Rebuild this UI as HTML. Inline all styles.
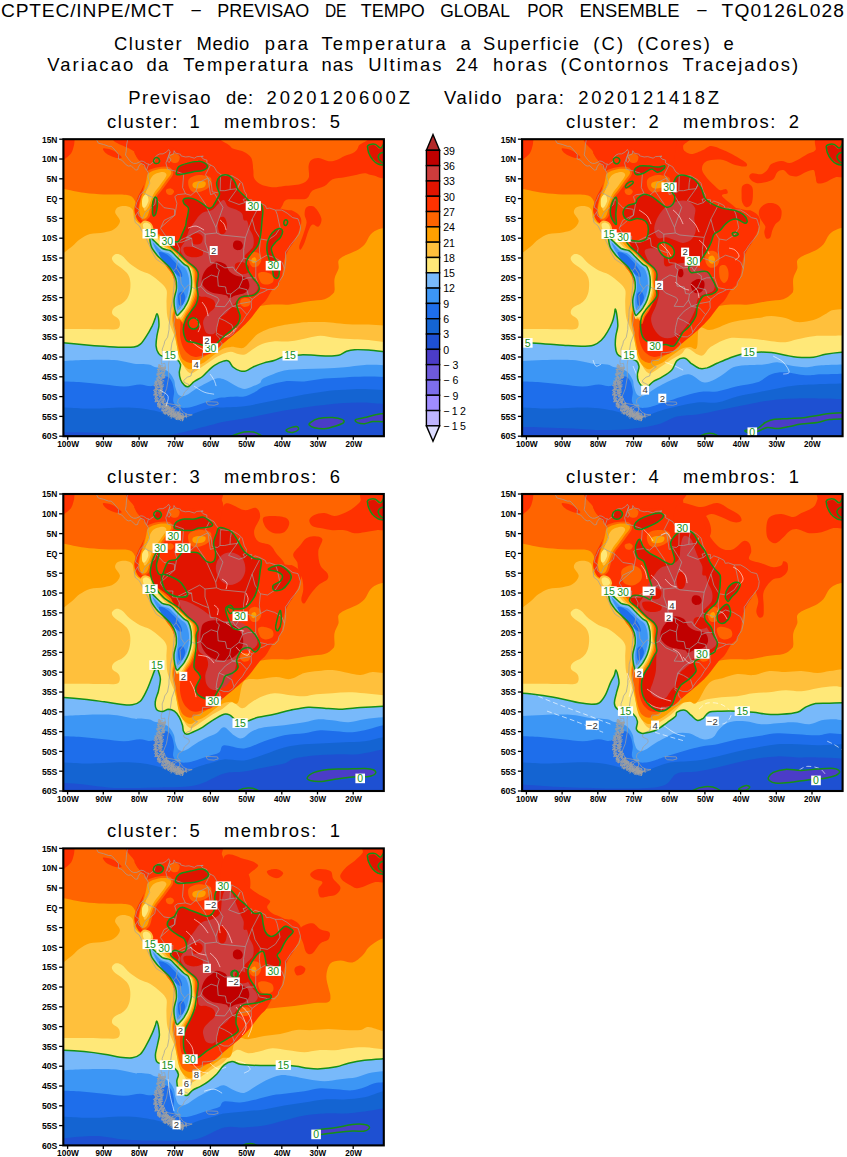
<!DOCTYPE html><html><head><meta charset="utf-8"><title>CPTEC ensemble clusters</title>
<style>html,body{margin:0;padding:0;background:#fff}svg{display:block}text{font-family:"Liberation Sans",sans-serif}</style></head><body>
<svg width="847" height="1157" viewBox="0 0 847 1157">
<defs><clipPath id="clip"><rect x="0" y="0" width="320.5" height="297.0"/></clipPath><g id="map"><path d="M83.2 30.9 L85.0 33.7 L84.6 37.6 L85.7 41.6 L86.4 44.0 L83.9 49.1 L80.0 52.3 L76.8 55.4 L75.3 59.4 L73.2 63.4 L72.1 68.1 L74.6 69.7 L75.7 71.3 L74.6 72.9 L71.0 78.0 L71.8 83.2 L76.0 86.7 L78.2 91.1 L80.7 95.0 L83.5 101.0 L86.4 106.9 L89.2 113.7 L92.8 120.0 L98.9 124.0 L104.2 126.7 L108.5 129.9 L110.3 132.7 L111.0 138.6 L110.7 146.5 L110.0 152.9 L109.2 162.4 L107.1 170.3 L106.7 178.2 L105.7 186.1 L105.7 190.1 L104.2 198.0 L101.4 202.0 L100.7 205.1 L98.9 209.9 L99.2 217.0 L97.8 221.8 L98.2 224.9 L101.4 224.1 L102.1 228.1 L100.7 232.8 L99.6 237.6 L96.4 240.8 L91.8 244.7 L95.0 248.7 L92.1 252.7 L92.5 257.4 L94.2 262.1 L97.1 266.5 L100.7 270.1 L106.0 272.4 L108.2 270.1 L108.5 268.5 L113.2 266.5 L117.1 266.5 L114.2 263.7 L115.0 259.8 L119.6 256.6 L121.0 253.0 L126.0 248.3 L125.7 245.5 L120.7 243.1 L120.3 241.2 L123.9 238.0 L127.5 236.8 L128.5 232.8 L131.7 229.3 L134.2 227.7 L131.0 226.5 L129.2 223.7 L129.9 221.0 L136.4 221.4 L138.9 219.0 L139.2 213.4 L143.5 213.4 L150.7 212.3 L156.0 209.9 L158.9 204.7 L156.7 202.0 L156.4 199.2 L152.8 195.6 L153.5 194.0 L156.0 195.6 L160.7 197.6 L165.3 197.6 L169.6 194.8 L170.7 192.8 L174.6 187.3 L179.2 182.2 L182.1 177.4 L185.6 172.7 L188.1 168.7 L187.8 162.4 L188.8 160.0 L193.5 156.4 L196.0 154.4 L200.6 152.5 L204.2 150.5 L207.1 150.1 L211.3 150.5 L214.9 146.5 L215.3 143.3 L217.4 139.8 L219.6 136.6 L221.3 129.5 L222.4 120.8 L222.1 112.9 L223.8 110.9 L227.4 105.3 L231.3 100.6 L235.6 95.0 L236.7 91.1 L237.1 87.5 L235.6 82.4 L234.6 79.6 L229.2 78.4 L223.8 74.0 L218.5 70.9 L212.1 70.9 L206.3 68.9 L203.1 69.3 L202.1 66.5 L197.1 63.8 L191.7 61.8 L188.1 64.9 L188.5 60.6 L184.6 60.2 L181.4 63.4 L179.9 60.2 L182.8 59.4 L183.1 55.4 L181.0 51.9 L178.9 44.0 L177.4 42.4 L174.6 40.0 L168.9 36.8 L164.2 36.4 L157.8 35.6 L153.5 32.5 L150.7 27.7 L147.1 25.7 L143.5 23.8 L143.5 21.0 L139.9 19.8 L137.8 17.4 L139.9 17.0 L133.5 17.4 L131.0 19.0 L125.7 17.4 L122.1 17.8 L117.5 16.6 L117.1 15.1 L112.1 13.9 L110.7 11.5 L110.3 14.7 L106.7 16.2 L105.7 17.4 L107.5 20.6 L105.7 23.4 L104.2 21.8 L105.0 17.8 L105.7 15.8 L106.7 12.7 L105.3 10.3 L103.2 12.7 L99.6 14.7 L96.4 14.7 L93.9 15.8 L91.8 18.2 L91.0 22.2 L87.1 24.9 L86.4 25.7 L85.3 24.9 L83.2 30.9" fill="none" stroke="#A0A0A0" stroke-width="0.7"/><path d="M32.8 0.0 L35.0 4.0 L40.0 5.2 L45.3 7.1 L47.8 7.1 L49.3 8.3 L52.5 11.9 L55.3 15.4 L55.0 19.8 L58.5 21.0 L62.8 25.7 L65.0 26.9 L67.8 26.5 L70.0 28.9 L72.5 30.9 L74.3 30.5 L75.0 27.7 L77.5 24.2 L81.0 25.7 L82.1 29.7 L83.2 30.9" fill="none" stroke="#A0A0A0" stroke-width="0.7"/><path d="M64.3 0.0 L63.2 5.9 L62.8 11.9 L62.1 15.8 L65.0 19.8 L67.8 23.0 L70.3 24.2 L72.8 24.2 L75.7 23.0 L77.5 21.8 L80.0 22.2 L83.5 24.6 L85.3 24.9" fill="none" stroke="#A0A0A0" stroke-width="0.7"/><path d="M116.4 268.1 L117.8 270.5 L120.0 273.2 L123.9 275.2 L128.9 275.6 L123.9 277.2 L117.5 278.0 L111.4 278.0 L106.0 274.8 L109.6 271.7 L111.4 269.3 L113.9 267.7 L116.4 268.1" fill="none" stroke="#A0A0A0" stroke-width="0.7"/><path d="M142.8 262.6 L147.8 262.6 L154.2 262.9 L154.9 264.9 L150.7 266.1 L145.3 265.7 L143.5 264.5 L142.8 262.6" fill="none" stroke="#A0A0A0" stroke-width="0.7"/><path d="M106.7 12.7 L102.5 23.8 L104.2 30.1 L111.4 31.7 L120.3 34.9 L119.2 48.3 L122.1 54.6" fill="none" stroke="#A0A0A0" stroke-width="0.7"/><path d="M147.1 25.7 L142.1 35.6 L144.6 38.8" fill="none" stroke="#A0A0A0" stroke-width="0.7"/><path d="M122.1 54.6 L127.5 56.2 L132.8 51.5 L134.9 43.6 L144.6 38.8" fill="none" stroke="#A0A0A0" stroke-width="0.7"/><path d="M144.6 38.8 L147.8 43.6 L148.9 52.7 L154.2 53.5 L156.7 51.5" fill="none" stroke="#A0A0A0" stroke-width="0.7"/><path d="M156.7 51.5 L157.1 37.6 L157.8 35.6" fill="none" stroke="#A0A0A0" stroke-width="0.7"/><path d="M168.5 36.4 L167.1 43.6 L166.7 50.3" fill="none" stroke="#A0A0A0" stroke-width="0.7"/><path d="M156.7 51.5 L161.4 51.5 L166.7 50.3 L173.9 49.5 L176.7 43.6" fill="none" stroke="#A0A0A0" stroke-width="0.7"/><path d="M80.0 53.5 L84.6 56.2 L91.8 59.4 L92.5 59.8 L100.7 68.5 L111.0 70.1 L111.4 76.0" fill="none" stroke="#A0A0A0" stroke-width="0.7"/><path d="M111.4 76.0 L113.5 64.2 L111.4 57.4 L114.2 55.4 L122.1 54.6" fill="none" stroke="#A0A0A0" stroke-width="0.7"/><path d="M74.6 72.9 L75.7 76.8 L79.2 79.2 L81.8 73.3 L91.4 65.3 L92.5 59.8" fill="none" stroke="#A0A0A0" stroke-width="0.7"/><path d="M111.4 76.0 L100.7 81.2 L97.1 89.1 L102.5 97.0 L109.6 97.0 L109.2 103.0 L113.2 103.0" fill="none" stroke="#A0A0A0" stroke-width="0.7"/><path d="M113.2 103.0 L116.0 108.9 L115.0 116.8 L113.9 122.8 L112.8 128.7 L110.3 131.9" fill="none" stroke="#A0A0A0" stroke-width="0.7"/><path d="M113.2 103.0 L118.5 103.0 L128.2 99.0 L129.2 106.9 L139.9 111.7 L145.3 113.7 L147.1 123.5 L153.2 124.0 L153.5 128.7 L156.0 130.7 L154.2 137.8" fill="none" stroke="#A0A0A0" stroke-width="0.7"/><path d="M112.8 128.7 L116.7 134.6 L117.8 144.5 L121.4 149.7" fill="none" stroke="#A0A0A0" stroke-width="0.7"/><path d="M121.4 149.7 L125.0 145.7 L131.7 149.7 L137.4 147.3" fill="none" stroke="#A0A0A0" stroke-width="0.7"/><path d="M137.4 147.3 L139.9 140.6 L147.8 135.8 L154.2 137.8" fill="none" stroke="#A0A0A0" stroke-width="0.7"/><path d="M154.2 137.8 L154.9 146.9 L162.1 147.7 L163.5 154.4 L167.4 154.8 L166.4 160.8" fill="none" stroke="#A0A0A0" stroke-width="0.7"/><path d="M137.4 147.3 L143.5 153.7 L154.2 158.4 L155.7 160.8 L152.1 167.1 L161.4 167.5 L166.4 160.8" fill="none" stroke="#A0A0A0" stroke-width="0.7"/><path d="M166.4 160.8 L169.2 167.1 L162.1 171.9 L155.7 179.0" fill="none" stroke="#A0A0A0" stroke-width="0.7"/><path d="M155.7 179.0 L161.4 181.4 L168.5 185.7 L170.7 192.8" fill="none" stroke="#A0A0A0" stroke-width="0.7"/><path d="M155.7 179.0 L153.5 188.1 L152.8 194.0" fill="none" stroke="#A0A0A0" stroke-width="0.7"/><path d="M121.4 149.7 L116.7 156.4 L117.5 166.3 L112.1 174.2 L110.3 186.1 L112.1 194.0 L108.5 203.9 L107.1 213.8 L105.0 225.7 L105.3 237.6 L103.2 249.5 L100.0 257.4 L103.2 264.1 L115.0 266.1 L117.1 266.9" fill="none" stroke="#A0A0A0" stroke-width="0.7"/><path d="M116.4 268.1 L116.4 276.8" fill="none" stroke="#A0A0A0" stroke-width="0.7"/><path d="M153.2 124.0 L161.4 128.7 L169.6 127.9 L172.1 131.9 L179.2 136.6 L179.2 140.6 L175.6 148.5 L167.4 154.8" fill="none" stroke="#A0A0A0" stroke-width="0.7"/><path d="M145.3 113.7 L141.7 103.0 L141.7 95.0 L153.2 93.8 L157.8 95.8 L182.1 98.2" fill="none" stroke="#A0A0A0" stroke-width="0.7"/><path d="M182.1 98.2 L180.3 110.1 L180.3 118.8 L172.1 131.9" fill="none" stroke="#A0A0A0" stroke-width="0.7"/><path d="M182.1 98.2 L188.8 80.0 L197.1 64.2" fill="none" stroke="#A0A0A0" stroke-width="0.7"/><path d="M188.8 80.0 L191.7 91.1 L197.1 99.8 L196.0 110.9 L197.1 119.6 L192.4 122.8 L180.3 118.8" fill="none" stroke="#A0A0A0" stroke-width="0.7"/><path d="M197.1 99.8 L204.2 101.0 L212.1 95.8 L216.7 88.7 L213.8 75.2 L212.1 70.9" fill="none" stroke="#A0A0A0" stroke-width="0.7"/><path d="M197.1 119.6 L203.5 116.0 L211.3 118.4 L218.5 122.8 L221.3 129.5" fill="none" stroke="#A0A0A0" stroke-width="0.7"/><path d="M179.2 140.6 L184.6 138.6 L192.4 138.6 L196.0 148.5 L202.4 149.7 L204.2 150.5" fill="none" stroke="#A0A0A0" stroke-width="0.7"/><path d="M192.4 138.6 L192.4 122.8" fill="none" stroke="#A0A0A0" stroke-width="0.7"/><path d="M175.6 148.5 L183.5 150.5 L185.3 157.2 L188.8 160.0" fill="none" stroke="#A0A0A0" stroke-width="0.7"/><path d="M169.2 167.1 L177.4 164.3 L183.8 163.2 L187.8 162.4" fill="none" stroke="#A0A0A0" stroke-width="0.7"/><path d="M169.2 167.1 L177.4 168.7 L183.5 175.4" fill="none" stroke="#A0A0A0" stroke-width="0.7"/><path d="M153.2 93.8 L152.4 88.3 L159.6 68.1 L151.0 54.2" fill="none" stroke="#A0A0A0" stroke-width="0.7"/><path d="M111.4 76.0 L97.8 87.9" fill="none" stroke="#A0A0A0" stroke-width="0.7"/><path d="M113.2 103.0 L122.8 98.2 L128.2 99.0" fill="none" stroke="#A0A0A0" stroke-width="0.7"/><path d="M122.8 98.2 L136.4 91.1 L141.7 95.0" fill="none" stroke="#A0A0A0" stroke-width="0.7"/><path d="M144.6 38.8 L147.1 55.4 L151.0 54.2" fill="none" stroke="#A0A0A0" stroke-width="0.7"/><path d="M132.8 51.5 L141.7 64.5 L152.4 88.3" fill="none" stroke="#A0A0A0" stroke-width="0.7"/><path d="M176.7 43.6 L173.9 49.5 L165.3 61.4 L175.6 65.3 L181.4 63.4" fill="none" stroke="#A0A0A0" stroke-width="0.7"/><path d="M95.6 225.0 L95.8 226.2 L97.7 227.7 L94.6 227.3 L97.4 228.9 L97.2 229.2 L97.8 230.9 L96.5 230.8 L94.5 231.4 L94.3 231.7 L94.1 232.7 L95.1 233.8 L97.0 234.5 L93.9 234.2 L93.0 234.9 L96.2 236.7 L96.4 237.6 L95.2 237.6 L94.4 238.8 L93.2 238.9 L92.5 239.3 L94.7 240.8 L94.0 241.3 L93.1 242.2 L91.4 241.7 L93.7 243.8 L93.5 243.9 L93.4 245.1 L93.2 245.5 L92.4 246.2 L94.7 246.9 L94.6 247.6 L94.2 248.4 L92.0 248.8 L92.8 249.9 L92.4 250.7 L92.8 251.2 L92.0 252.2 L90.9 252.3 L94.2 252.9 L91.6 254.2 L90.3 255.6 L93.9 255.7 L93.4 256.5 L91.3 257.6 L92.1 258.0 L92.3 259.0 L92.7 259.5 L91.8 260.2 L92.3 261.1 L91.4 262.8 L94.9 261.2 L95.3 262.3 L97.1 261.9 L94.0 264.7 L95.6 264.2 L93.7 266.0 L97.6 264.6 L96.0 267.1 L96.4 267.7 L98.3 265.8 L99.5 266.5 L99.9 267.0 L98.7 269.2 L98.3 270.8 L98.3 271.2 L99.4 271.6 L102.2 270.1 L100.2 272.7 L102.2 270.9 L102.9 271.3 L102.7 273.4 L103.8 273.5 L104.3 272.8 L105.5 271.9 L105.8 274.1 L105.3 275.3 L107.1 274.4 L106.5 277.8 L106.6 278.0 L109.1 274.8 L109.4 275.9 L109.6 276.7 L110.2 278.2 L111.7 275.3 L112.3 276.5 L112.3 277.3 L113.2 276.3 L114.0 276.0 L113.7 280.1 L114.7 280.9 L116.2 276.4 L115.9 280.6 L116.6 278.7 L117.8 276.6 L117.9 280.0 L119.5 276.9 L118.8 281.7 L120.5 277.1" fill="none" stroke="#A0A0A0" stroke-width="0.7"/><path d="M99.6 226.7 L95.2 225.7 L97.5 227.3 L97.2 228.2 L96.1 228.3 L99.1 229.9 L95.8 230.3 L93.7 230.2 L95.6 231.2 L95.8 232.5 L94.5 232.6 L98.0 234.4 L97.4 234.5 L97.3 235.2 L94.6 235.1 L93.3 235.7 L94.5 237.0 L96.6 238.0 L93.9 237.9 L94.1 238.8 L95.1 240.4 L93.2 240.6 L95.6 241.5 L93.0 241.6 L93.5 242.6 L93.6 243.7 L93.5 244.0 L91.1 244.1 L94.6 245.4 L90.7 246.3 L91.7 247.2 L93.1 247.9 L91.5 248.4 L93.4 249.3 L91.1 250.1 L94.5 250.5 L90.0 250.9 L90.6 251.8 L91.6 252.3 L90.4 253.9 L93.3 254.3 L91.5 255.1 L94.3 255.0 L94.4 255.9 L92.7 256.9 L91.9 257.9 L94.8 258.0 L92.8 259.5 L95.5 259.4 L92.8 260.7 L92.0 262.5 L92.4 262.7 L94.9 262.2 L96.8 262.0 L94.1 264.4 L96.9 263.9 L95.4 265.8 L94.0 267.4 L97.0 265.9 L95.5 268.5 L97.4 267.6 L98.1 267.2 L100.0 266.8 L98.8 269.4 L98.9 270.2 L98.4 271.8 L100.5 270.5 L100.2 272.1 L99.9 274.3 L101.4 272.8 L101.0 274.8 L102.6 272.8 L102.2 275.4 L104.9 271.4 L103.9 275.6 L105.4 274.7 L104.7 277.0 L107.5 273.2 L107.1 274.5 L108.4 274.5 L108.1 276.7 L108.6 277.7 L110.7 274.0 L110.8 275.5 L110.8 277.4 L112.2 276.6 L112.5 276.3 L113.5 275.6 L112.8 280.4 L114.8 276.2 L114.4 279.6 L115.6 277.8 L115.8 280.7 L116.7 277.7 L117.5 277.8 L118.2 279.7 L119.4 276.8 L119.0 282.0 L120.4 279.6" fill="none" stroke="#A0A0A0" stroke-width="0.7"/><path d="M95.9 225.5 L97.5 226.9 L94.7 226.7 L95.7 227.5 L98.1 228.9 L94.7 228.5 L96.5 229.9 L94.1 230.0 L94.6 230.8 L95.8 231.8 L96.9 233.2 L96.8 233.5 L96.8 235.0 L94.1 234.6 L95.4 235.8 L94.2 236.1 L95.3 237.0 L96.8 237.9 L94.9 238.4 L96.7 239.7 L94.9 239.9 L94.1 241.0 L95.8 242.1 L95.0 242.7 L92.6 242.1 L91.2 243.2 L94.1 244.1 L95.3 245.0 L91.6 245.4 L90.2 246.2 L93.1 247.3 L94.4 247.4 L94.6 248.5 L92.9 249.1 L93.0 249.5 L92.6 250.4 L91.1 250.8 L92.7 252.4 L92.1 253.1 L93.1 253.7 L93.2 253.9 L92.1 254.8 L90.1 255.9 L95.0 255.9 L93.3 257.0 L92.1 257.8 L92.1 258.4 L91.0 259.4 L92.3 259.8 L92.2 261.3 L94.4 260.9 L93.7 262.4 L95.8 261.8 L95.7 262.9 L93.6 264.6 L94.3 265.1 L94.2 265.8 L96.9 265.6 L94.9 267.7 L95.9 268.0 L97.0 267.5 L96.2 269.1 L99.9 267.1 L100.6 267.5 L100.3 268.5 L99.6 270.2 L98.8 271.6 L100.0 272.3 L102.2 269.4 L102.9 270.1 L101.2 275.0 L102.5 273.8 L103.5 273.6 L103.5 274.1 L104.8 274.3 L104.5 275.6 L105.3 276.1 L107.5 274.1 L107.6 275.3 L107.2 277.1 L108.2 276.4 L107.8 279.3 L108.7 278.3 L110.7 275.2 L110.5 278.4 L111.9 276.9 L111.6 279.7 L113.1 277.9 L112.9 280.8 L114.5 278.1 L115.2 277.1 L115.3 279.4 L116.2 279.4 L116.5 280.3 L117.0 281.6 L118.8 277.4 L119.3 277.6 L119.1 279.6 L120.5 278.7" fill="none" stroke="#A0A0A0" stroke-width="0.7"/><path d="M98.2 227.6 L97.6 228.3 L102.4 229.3 L98.2 229.9 L97.5 230.7 L102.2 231.6 L101.0 232.7 L100.3 232.8 L101.2 234.0 L100.2 234.9 L98.7 234.9 L101.2 236.5 L101.3 236.8 L100.8 238.1 L99.3 238.7 L97.8 239.1 L96.1 239.3 L98.5 240.6 L100.8 241.8 L96.5 241.7 L97.4 242.5 L98.5 243.7 L95.1 243.2 L98.1 244.9 L95.7 245.3 L98.8 246.0 L98.9 247.5 L96.2 247.3 L96.9 248.1 L98.8 249.2 L96.5 249.8 L99.6 250.8 L94.3 250.9 L96.2 252.1 L99.8 252.8 L94.3 253.5 L97.9 254.3 L96.9 254.3 L95.1 255.9 L97.2 256.3 L96.0 257.7 L97.1 257.4 L99.7 258.1 L96.5 259.7 L97.1 260.5 L96.3 261.2 L101.3 260.0 L99.9 261.4 L98.7 262.9 L101.2 261.5 L99.1 264.3 L101.0 263.9 L101.4 264.6 L103.2 264.2 L103.8 264.1 L100.2 268.9 L104.5 265.8 L101.4 269.2 L104.3 267.4 L102.4 271.9 L105.2 267.1 L106.0 268.1 L106.3 267.9 L105.6 271.1 L106.3 271.4 L105.5 273.7 L108.7 270.0 L107.8 272.8 L107.5 274.9 L108.0 275.2 L110.4 271.8 L110.6 273.9 L110.0 275.7 L111.5 273.9 L112.5 272.7 L111.7 276.4 L113.3 276.0 L114.3 273.6 L114.4 275.9 L116.1 274.1 L115.6 277.5 L116.9 275.6 L117.0 278.5 L118.7 275.4 L119.0 276.4" fill="none" stroke="#A0A0A0" stroke-width="0.7"/><path d="M100.8 227.6 L102.6 228.5 L97.1 228.5 L100.8 230.4 L99.3 230.7 L99.6 231.8 L98.5 231.9 L97.7 233.1 L99.7 234.3 L101.1 235.1 L102.1 235.8 L101.7 236.3 L97.6 236.5 L101.8 238.3 L97.8 238.4 L96.1 238.4 L95.8 239.2 L97.5 240.2 L97.2 240.7 L96.0 241.7 L99.6 243.2 L99.4 243.6 L94.7 243.6 L100.0 245.0 L100.2 246.0 L96.6 245.7 L95.2 246.1 L98.8 247.2 L94.7 248.1 L99.4 248.6 L97.2 249.8 L95.0 250.7 L98.5 251.4 L94.9 251.8 L96.4 252.5 L98.9 253.3 L94.9 254.3 L97.3 255.0 L98.7 254.9 L98.6 255.7 L95.8 257.7 L97.8 257.4 L100.5 257.4 L99.3 258.8 L97.5 260.0 L101.5 259.5 L98.5 261.5 L97.8 262.0 L98.5 262.6 L100.2 262.3 L99.2 264.6 L100.2 264.4 L100.0 265.8 L101.0 265.3 L100.5 267.2 L103.3 265.2 L101.7 267.8 L104.1 266.3 L104.5 266.2 L105.2 266.4 L103.4 270.7 L104.8 269.6 L105.8 268.6 L106.2 270.1 L107.0 270.1 L107.3 270.4 L107.4 272.2 L108.7 271.4 L108.3 273.0 L108.0 275.1 L108.6 274.9 L110.1 274.1 L110.5 275.7 L111.1 274.8 L111.3 276.8 L111.5 277.8 L113.3 274.9 L114.9 272.9 L115.2 274.1 L114.6 278.2 L117.0 273.5 L116.6 277.9 L116.6 279.1 L117.3 278.9 L118.3 278.3" fill="none" stroke="#A0A0A0" stroke-width="0.7"/><path d="M101.8 227.9 L98.2 228.2 L99.8 229.3 L101.1 229.9 L100.9 230.9 L100.4 231.6 L101.0 232.3 L100.7 233.3 L97.2 233.2 L98.6 234.8 L99.8 235.1 L99.3 236.0 L98.5 236.4 L99.1 237.5 L100.8 239.1 L97.9 239.0 L98.7 239.5 L98.2 240.3 L97.0 240.9 L95.9 241.1 L98.8 242.6 L95.0 242.3 L98.3 244.2 L96.7 244.1 L94.9 244.6 L97.1 246.2 L100.2 247.2 L99.3 247.2 L98.8 248.2 L98.2 249.3 L98.3 249.7 L98.5 250.8 L95.0 251.2 L95.7 251.5 L95.6 252.2 L97.6 253.3 L96.7 254.1 L96.2 254.8 L98.3 254.8 L96.7 256.5 L96.9 256.8 L99.9 257.2 L97.3 258.8 L99.3 258.4 L97.8 259.7 L95.8 260.9 L99.2 260.8 L100.6 261.4 L96.8 263.6 L99.9 263.1 L100.0 263.7 L100.7 263.6 L101.3 264.8 L102.1 264.2 L103.5 264.2 L101.8 266.7 L101.0 268.5 L102.7 268.2 L102.6 270.0 L105.0 267.5 L105.3 266.7 L104.4 270.9 L106.3 268.2 L107.0 268.8 L104.7 273.4 L105.8 273.4 L109.0 269.4 L106.8 274.6 L108.6 272.2 L107.7 275.2 L108.5 276.1 L109.5 274.7 L110.4 274.7 L112.0 273.9 L111.1 276.6 L113.1 274.4 L112.3 277.1 L113.7 275.6 L114.8 275.4 L115.7 275.3 L116.5 275.6 L116.7 276.2 L116.6 279.9 L118.0 275.9 L117.8 279.9" fill="none" stroke="#A0A0A0" stroke-width="0.7"/><path d="M100.6 265.2 L100.6 266.9 L101.1 267.7 L102.4 266.5 L103.5 266.9 L103.2 267.6 L104.6 266.4 L103.9 269.8 L104.2 269.8 L106.8 267.1 L106.9 268.3 L105.4 271.5 L108.1 269.2 L108.3 270.1 L109.6 269.7 L109.3 270.6 L110.0 270.2 L109.2 273.7 L109.9 274.5 L112.0 272.0 L112.8 271.3 L112.9 273.2 L114.0 272.2 L113.8 273.2 L115.1 273.4 L114.8 275.7 L115.1 277.7 L115.6 277.0 L116.4 277.4 L117.8 273.6 L118.8 275.2 L119.3 274.0 L120.0 276.4 L120.0 278.3 L120.9 277.7 L121.3 277.8 L122.5 276.9 L123.4 275.5" fill="none" stroke="#A0A0A0" stroke-width="0.7"/><path d="M100.9 266.0 L102.2 264.3 L103.7 263.1 L102.8 266.0 L102.8 268.0 L102.8 268.1 L104.5 267.7 L103.7 268.9 L104.3 270.1 L106.4 267.6 L106.6 268.6 L107.0 269.4 L108.9 268.2 L109.5 268.2 L109.6 269.2 L110.0 269.4 L108.7 273.4 L111.6 269.9 L109.8 273.9 L111.1 272.5 L112.1 273.4 L111.6 275.0 L112.8 275.4 L114.6 272.7 L114.1 274.9 L115.6 272.0 L115.2 275.8 L116.0 276.1 L116.7 276.9 L117.8 276.2 L117.8 278.3 L119.1 275.5 L120.0 275.6 L119.8 278.8 L121.1 276.7 L122.1 277.6 L122.6 274.4 L123.1 279.0" fill="none" stroke="#A0A0A0" stroke-width="0.7"/></g></defs>
<rect width="847" height="1157" fill="#fff"/>
<text x="1.0" y="17.0" font-size="19.2" textLength="172.8" lengthAdjust="spacing">CPTEC/INPE/MCT</text>
<text x="196.2" y="17.0" font-size="19.2" text-anchor="middle">−</text>
<text x="217.3" y="17.0" font-size="19.2" textLength="91.9" lengthAdjust="spacingAndGlyphs">PREVISAO</text>
<text x="324.9" y="17.0" font-size="19.2" textLength="21.6" lengthAdjust="spacingAndGlyphs">DE</text>
<text x="360.8" y="17.0" font-size="19.2" textLength="63.9" lengthAdjust="spacingAndGlyphs">TEMPO</text>
<text x="440.2" y="17.0" font-size="19.2" textLength="69.7" lengthAdjust="spacingAndGlyphs">GLOBAL</text>
<text x="527.2" y="17.0" font-size="19.2" textLength="36.6" lengthAdjust="spacingAndGlyphs">POR</text>
<text x="579.5" y="17.0" font-size="19.2" textLength="100.0" lengthAdjust="spacingAndGlyphs">ENSEMBLE</text>
<text x="701.9" y="17.0" font-size="19.2" text-anchor="middle">−</text>
<text x="721.5" y="17.0" font-size="19.2" textLength="122.5" lengthAdjust="spacing">TQ0126L028</text>
<text x="114.0" y="49.7" font-size="18.4" textLength="67.6" lengthAdjust="spacing">Cluster</text>
<text x="196.6" y="49.7" font-size="18.4" textLength="52.6" lengthAdjust="spacing">Medio</text>
<text x="264.8" y="49.7" font-size="18.4" textLength="43.3" lengthAdjust="spacing">para</text>
<text x="321.5" y="49.7" font-size="18.4" textLength="124.3" lengthAdjust="spacing">Temperatura</text>
<text x="465.5" y="49.7" font-size="18.4" text-anchor="middle">a</text>
<text x="483.1" y="49.7" font-size="18.4" textLength="95.9" lengthAdjust="spacing">Superficie</text>
<text x="593.3" y="49.7" font-size="18.4" textLength="29.9" lengthAdjust="spacing">(C)</text>
<text x="637.2" y="49.7" font-size="18.4" textLength="72.6" lengthAdjust="spacing">(Cores)</text>
<text x="728.5" y="49.7" font-size="18.4" text-anchor="middle">e</text>
<text x="47.3" y="70.7" font-size="18.4" textLength="85.9" lengthAdjust="spacing">Variacao</text>
<text x="146.6" y="70.7" font-size="18.4" textLength="21.7" lengthAdjust="spacing">da</text>
<text x="183.2" y="70.7" font-size="18.4" textLength="124.9" lengthAdjust="spacing">Temperatura</text>
<text x="321.5" y="70.7" font-size="18.4" textLength="31.7" lengthAdjust="spacing">nas</text>
<text x="368.3" y="70.7" font-size="18.4" textLength="73.2" lengthAdjust="spacing">Ultimas</text>
<text x="455.8" y="70.7" font-size="18.4" textLength="22.3" lengthAdjust="spacing">24</text>
<text x="493.1" y="70.7" font-size="18.4" textLength="53.9" lengthAdjust="spacing">horas</text>
<text x="560.6" y="70.7" font-size="18.4" textLength="107.6" lengthAdjust="spacing">(Contornos</text>
<text x="682.5" y="70.7" font-size="18.4" textLength="115.5" lengthAdjust="spacing">Tracejados)</text>
<text x="128.3" y="104.0" font-size="18.4" textLength="82.3" lengthAdjust="spacing">Previsao</text>
<text x="225.9" y="104.0" font-size="18.4" textLength="27.3" lengthAdjust="spacing">de:</text>
<text x="266.5" y="104.0" font-size="18.4" textLength="143.5" lengthAdjust="spacing">2020120600Z</text>
<text x="444.0" y="104.0" font-size="18.4" textLength="57.6" lengthAdjust="spacing">Valido</text>
<text x="515.9" y="104.0" font-size="18.4" textLength="47.9" lengthAdjust="spacing">para:</text>
<text x="578.2" y="104.0" font-size="18.4" textLength="140.8" lengthAdjust="spacing">2020121418Z</text>
<g transform="translate(63.40,139.20)">
<g clip-path="url(#clip)">
<rect x="-2" y="-2" width="324.5" height="301.0" fill="#1E50D2"/>
<path d="M-3.8 293.0 C3.3 293.1 26.2 293.3 38.6 293.8 C51.0 294.2 61.2 295.2 70.7 295.8 C80.1 296.3 88.8 297.1 95.5 297.0 C102.1 296.8 104.8 296.1 110.7 295.0 C116.5 293.8 124.0 291.8 130.7 290.2 C137.3 288.5 145.7 286.2 150.7 285.0 C155.7 283.7 155.7 283.5 160.7 282.6 C165.7 281.6 174.0 280.6 180.7 279.4 C187.4 278.2 194.0 276.7 200.7 275.4 C207.4 274.0 214.1 272.6 220.7 271.4 C227.4 270.2 234.1 269.1 240.8 268.2 C247.4 267.2 254.1 266.5 260.8 265.8 C267.4 265.0 274.1 264.2 280.8 263.8 C287.4 263.4 293.5 263.1 300.8 263.4 C308.1 263.6 320.5 265.0 324.4 265.4 L324.4 -20 L-3.8 -20 Z" fill="#1464D2"/>
<path d="M-3.8 268.2 C0.3 268.4 13.2 269.2 20.6 269.4 C28.0 269.5 34.0 269.2 40.6 269.0 C47.3 268.8 54.6 268.2 60.6 268.2 C66.6 268.2 71.6 268.4 76.7 269.0 C81.7 269.5 85.9 270.3 90.7 271.4 C95.4 272.4 101.3 274.3 105.1 275.4 C108.9 276.4 110.4 277.5 113.5 277.8 C116.5 278.0 119.7 277.9 123.5 277.0 C127.2 276.0 131.4 273.6 135.9 272.2 C140.4 270.7 146.2 268.8 150.3 268.2 C154.4 267.5 155.6 268.4 160.7 268.2 C165.8 268.0 174.0 267.8 180.7 267.0 C187.4 266.2 194.0 264.6 200.7 263.4 C207.4 262.1 214.1 260.7 220.7 259.4 C227.4 258.0 234.1 256.6 240.8 255.4 C247.4 254.2 254.0 253.0 260.8 252.2 C267.5 251.3 274.4 251.0 281.2 250.6 C287.9 250.2 294.0 249.6 301.2 249.8 C308.4 249.9 320.5 251.1 324.4 251.3 L324.4 -20 L-3.8 -20 Z" fill="#1E6EEB"/>
<path d="M-3.8 242.2 C0.3 242.3 13.2 242.8 20.6 243.3 C28.0 243.9 34.0 244.7 40.6 245.3 C47.3 246.0 54.6 247.3 60.6 247.3 C66.6 247.3 72.6 245.4 76.7 245.3 C80.7 245.3 82.7 246.9 85.1 246.9 C87.4 247.0 88.8 247.0 90.7 245.8 C92.5 244.5 94.1 240.8 96.3 239.3 C98.4 237.9 101.5 236.9 103.5 237.3 C105.5 237.8 107.1 239.7 108.3 242.2 C109.5 244.6 110.4 248.8 110.7 252.2 C110.9 255.5 109.2 259.6 109.9 262.2 C110.5 264.8 112.4 266.7 114.7 267.8 C116.9 268.8 120.4 268.8 123.5 268.6 C126.5 268.3 129.5 267.2 133.1 266.2 C136.6 265.1 140.9 263.4 144.7 262.2 C148.5 260.9 153.1 259.2 155.9 258.6 C158.7 257.9 158.7 258.4 161.5 258.2 C164.3 258.0 169.5 257.5 172.7 257.4 C175.9 257.2 177.7 258.0 180.7 257.4 C183.7 256.7 187.4 255.0 190.7 253.3 C194.1 251.7 195.7 249.2 200.7 247.3 C205.7 245.5 214.1 243.0 220.7 242.2 C227.4 241.3 234.1 242.6 240.8 242.2 C247.4 241.7 254.0 240.0 260.8 239.3 C267.5 238.7 274.4 238.5 281.2 238.2 C287.9 237.8 294.0 237.4 301.2 237.3 C308.4 237.3 320.5 237.7 324.4 237.8 L324.4 -20 L-3.8 -20 Z" fill="#3C96F5"/>
<path d="M-3.8 222.1 C0.3 221.9 11.5 221.1 20.6 220.9 C29.7 220.7 42.3 220.3 50.6 220.9 C59.0 221.5 64.9 223.8 70.7 224.5 C76.4 225.3 81.5 224.7 85.1 225.3 C88.7 225.9 89.9 227.5 92.3 228.1 C94.6 228.8 96.7 228.4 99.1 229.3 C101.4 230.3 104.3 231.8 106.3 233.7 C108.2 235.7 109.7 238.6 110.7 240.9 C111.6 243.3 111.2 245.4 111.9 247.8 C112.5 250.1 113.5 253.4 114.7 255.0 C115.9 256.5 117.4 257.0 119.1 257.0 C120.7 257.0 122.3 256.2 124.7 255.0 C127.0 253.7 130.0 251.2 133.1 249.3 C136.1 247.5 139.8 245.4 143.1 243.8 C146.4 242.1 150.0 239.9 153.1 239.3 C156.2 238.8 158.2 239.3 161.5 240.6 C164.8 241.8 169.4 245.4 172.7 246.9 C176.0 248.5 178.6 249.8 181.5 249.8 C184.4 249.8 187.4 247.9 189.9 246.9 C192.5 245.9 194.9 245.1 196.7 243.8 C198.5 242.4 196.7 241.0 200.7 238.9 C204.7 236.9 214.1 232.9 220.7 231.3 C227.4 229.8 234.1 230.1 240.8 229.7 C247.4 229.4 254.0 229.6 260.8 229.3 C267.5 229.1 274.4 228.7 281.2 228.1 C287.9 227.5 294.0 226.1 301.2 225.7 C308.4 225.4 320.5 226.1 324.4 226.1 L324.4 -20 L-3.8 -20 Z" fill="#78B9FA"/>
<path d="M-3.8 203.3 C0.3 203.7 13.2 204.9 20.6 205.5 C28.0 206.2 34.3 206.7 40.6 207.1 C47.0 207.6 53.6 208.0 58.6 208.1 C63.6 208.2 67.6 208.3 70.7 207.7 C73.7 207.2 75.0 206.7 77.0 204.9 C79.1 203.1 81.0 200.1 83.0 196.9 C85.1 193.8 87.6 189.1 89.1 186.1 C90.5 183.1 91.1 180.8 91.9 178.9 C92.6 177.0 92.9 174.5 93.5 174.5 C94.0 174.5 94.7 176.8 95.1 178.9 C95.4 181.0 95.7 183.9 95.5 186.9 C95.2 189.9 93.9 193.6 93.5 196.9 C93.0 200.3 92.4 204.1 92.7 206.9 C92.9 209.8 93.9 212.4 95.1 214.1 C96.3 215.9 96.9 216.3 99.9 217.3 C102.9 218.3 110.2 218.8 113.1 220.1 C115.9 221.5 116.6 223.1 117.1 225.3 C117.5 227.5 115.9 230.9 115.9 233.3 C115.9 235.8 116.2 238.0 117.1 240.2 C117.9 242.3 119.7 245.0 121.1 246.2 C122.4 247.3 123.4 248.0 125.1 247.3 C126.7 246.7 128.7 243.8 131.1 242.2 C133.4 240.5 136.8 239.2 139.1 237.3 C141.4 235.5 143.1 233.2 145.1 231.3 C147.1 229.5 148.5 227.7 151.1 226.1 C153.7 224.5 158.3 222.4 160.7 221.7 C163.1 221.1 164.0 221.1 165.5 222.1 C167.0 223.2 168.0 226.5 169.9 228.1 C171.8 229.7 174.6 231.1 176.7 231.7 C178.8 232.3 180.4 232.5 182.7 231.7 C185.0 231.0 187.7 228.7 190.7 227.3 C193.7 226.0 197.4 224.7 200.7 223.7 C204.1 222.7 207.4 222.4 210.7 221.3 C214.1 220.3 216.3 218.3 220.7 217.3 C225.1 216.4 232.1 215.9 237.2 215.7 C242.2 215.5 246.5 215.9 251.2 216.1 C255.8 216.3 261.2 216.9 265.2 216.9 C269.2 216.9 272.2 216.9 275.2 216.1 C278.2 215.3 280.5 213.1 283.2 212.1 C285.8 211.2 287.5 210.7 291.2 210.5 C294.9 210.3 299.7 210.5 305.2 210.9 C310.7 211.3 321.2 212.6 324.4 212.9 L324.4 -20 L-3.8 -20 Z" fill="#FFE878"/>
<path d="M-3.8 189.7 C0.3 189.7 13.2 189.7 20.6 189.7 C28.0 189.8 35.0 190.2 40.6 190.1 C46.3 190.1 52.1 190.9 54.6 189.3 C57.2 187.8 56.8 183.3 55.8 180.9 C54.9 178.5 49.9 176.9 49.0 174.9 C48.2 172.9 48.7 170.9 50.6 168.9 C52.6 166.9 58.1 165.2 60.6 162.9 C63.2 160.6 64.8 158.2 65.8 154.9 C66.9 151.6 67.2 146.6 67.0 143.3 C66.8 140.0 66.0 137.6 64.6 135.3 C63.2 133.0 61.0 131.3 58.6 129.3 C56.3 127.3 52.3 125.1 50.6 123.3 C49.0 121.5 48.3 119.9 48.6 118.5 C49.0 117.1 51.0 115.2 52.6 114.9 C54.3 114.5 56.3 114.9 58.6 116.5 C61.0 118.1 63.6 122.0 66.6 124.5 C69.6 126.9 73.3 129.5 76.7 131.3 C80.0 133.1 83.3 133.3 86.7 135.3 C90.1 137.3 94.3 140.7 97.1 143.3 C99.8 145.9 102.1 147.6 103.1 150.9 C104.1 154.2 102.9 158.6 103.1 162.9 C103.2 167.2 103.2 172.9 103.9 176.9 C104.5 180.9 105.9 183.6 107.1 186.9 C108.3 190.3 109.9 193.3 111.1 196.9 C112.2 200.6 113.1 205.5 113.9 208.9 C114.7 212.3 115.0 214.9 115.9 217.3 C116.7 219.7 118.1 221.3 119.1 223.3 C120.1 225.3 120.6 227.5 121.9 229.3 C123.1 231.1 125.1 233.6 126.7 234.1 C128.3 234.7 129.4 233.7 131.5 232.5 C133.5 231.4 136.2 229.3 139.1 227.3 C142.0 225.3 145.8 222.6 149.1 220.5 C152.4 218.5 156.0 216.3 159.1 214.9 C162.2 213.6 164.9 212.5 167.5 212.5 C170.1 212.5 172.4 214.5 174.7 214.9 C177.0 215.4 179.2 216.1 181.5 215.3 C183.8 214.6 185.9 212.3 188.7 210.5 C191.6 208.8 194.9 206.3 198.7 204.9 C202.5 203.5 206.9 202.6 211.5 202.1 C216.2 201.7 221.1 202.7 226.7 202.1 C232.3 201.5 240.1 199.5 245.2 198.5 C250.2 197.6 252.5 196.5 257.2 196.5 C261.8 196.6 267.5 198.3 273.2 198.9 C278.8 199.5 285.8 199.8 291.2 200.1 C296.5 200.5 299.7 200.4 305.2 200.9 C310.7 201.5 321.2 202.9 324.4 203.3 L324.4 -20 L-3.8 -20 Z" fill="#FFC03C"/>
<path d="M-3.8 116.9 C-1.7 115.3 5.2 110.1 8.6 107.3 C12.0 104.5 13.6 102.1 16.6 100.1 C19.6 98.0 22.6 96.0 26.6 94.9 C30.6 93.7 36.6 94.1 40.6 93.3 C44.6 92.5 48.0 91.9 50.6 90.1 C53.3 88.2 56.4 84.9 56.6 82.0 C56.8 79.2 52.2 75.6 51.8 73.2 C51.5 70.9 52.8 69.1 54.6 68.0 C56.4 67.0 60.2 66.5 62.6 66.8 C65.0 67.2 67.6 68.0 69.0 70.0 C70.5 72.1 69.7 76.8 71.0 79.2 C72.4 81.7 75.2 83.9 77.0 84.9 C78.8 85.9 80.5 84.2 81.8 85.3 C83.2 86.3 83.9 88.3 85.1 91.3 C86.3 94.2 87.3 98.9 89.1 102.9 C90.8 106.8 93.2 110.9 95.5 114.9 C97.7 118.9 100.3 123.2 102.7 126.9 C105.0 130.5 107.8 132.9 109.5 136.9 C111.1 140.9 112.5 145.9 112.7 150.9 C112.9 155.9 111.3 162.2 110.7 166.9 C110.0 171.6 108.7 174.9 108.7 178.9 C108.7 182.9 109.9 186.2 110.7 190.9 C111.5 195.6 112.7 202.6 113.5 206.9 C114.3 211.3 114.7 214.3 115.5 216.9 C116.2 219.6 116.8 221.1 117.9 222.9 C118.9 224.7 120.3 226.5 121.9 227.7 C123.5 228.9 125.7 230.3 127.5 230.1 C129.3 230.0 130.5 228.1 132.7 226.9 C134.9 225.8 138.0 225.0 140.7 223.3 C143.4 221.7 146.0 219.2 149.1 216.9 C152.2 214.7 156.0 211.3 159.1 209.7 C162.2 208.2 164.9 207.9 167.5 207.7 C170.1 207.5 172.6 208.4 174.7 208.5 C176.8 208.7 178.4 209.4 180.3 208.5 C182.2 207.7 183.6 205.6 185.9 203.3 C188.3 201.1 191.0 197.3 194.3 194.9 C197.7 192.6 202.1 190.7 205.9 189.3 C209.7 187.9 213.7 187.3 217.1 186.5 C220.6 185.8 222.1 185.5 226.7 184.9 C231.4 184.3 239.4 183.2 245.2 182.9 C250.9 182.6 256.5 182.7 261.2 182.9 C265.8 183.1 268.5 183.7 273.2 184.1 C277.8 184.5 283.8 185.1 289.2 185.3 C294.5 185.5 299.3 185.1 305.2 185.3 C311.1 185.5 321.2 186.3 324.4 186.5 L324.4 -20 L-3.8 -20 Z" fill="#FFA000"/>
<path d="M-3.8 48.8 C0.3 49.6 13.2 52.6 20.6 53.6 C28.0 54.7 34.0 54.9 40.6 55.2 C47.3 55.6 55.9 55.2 60.6 55.6 C65.4 56.1 67.0 56.4 69.0 58.0 C71.1 59.6 71.9 62.4 72.7 65.2 C73.4 68.1 72.9 72.4 73.5 75.2 C74.0 78.1 74.8 80.5 75.8 82.0 C76.8 83.6 77.9 82.9 79.5 84.5 C81.0 86.0 83.5 88.2 85.1 91.3 C86.7 94.3 87.3 98.9 89.1 102.9 C90.8 106.8 93.2 110.9 95.5 114.9 C97.7 118.9 100.3 123.2 102.7 126.9 C105.0 130.5 107.8 132.9 109.5 136.9 C111.1 140.9 112.3 145.9 112.7 150.9 C113.0 155.9 111.9 162.2 111.5 166.9 C111.0 171.6 109.8 174.9 109.9 178.9 C109.9 182.9 111.1 186.2 111.9 190.9 C112.7 195.6 113.8 202.8 114.7 206.9 C115.5 211.1 116.1 213.4 117.1 215.7 C118.0 218.1 118.7 219.6 120.3 220.9 C121.9 222.3 124.7 223.7 126.7 223.7 C128.7 223.8 129.7 222.5 132.3 221.3 C134.8 220.2 138.8 218.6 141.9 216.9 C145.0 215.3 147.8 213.5 150.7 211.3 C153.6 209.2 156.0 206.6 159.1 204.1 C162.2 201.7 166.0 199.1 169.1 196.5 C172.2 193.9 175.2 190.9 177.5 188.5 C179.8 186.1 181.4 184.6 183.1 182.1 C184.8 179.6 186.1 176.0 187.5 173.7 C188.9 171.4 189.0 169.4 191.5 168.1 C194.1 166.8 198.9 166.2 202.7 165.7 C206.5 165.2 210.3 165.4 214.3 165.3 C218.3 165.2 221.6 165.8 226.7 165.3 C231.9 164.8 239.4 163.0 245.2 162.1 C250.9 161.2 257.2 161.3 261.2 160.1 C265.2 158.9 267.5 156.4 269.2 154.9 C270.8 153.4 270.8 153.5 271.2 150.9 C271.5 148.3 270.5 142.9 271.2 139.3 C271.8 135.7 274.5 132.3 275.2 129.3 C275.8 126.3 274.2 123.4 275.2 121.3 C276.2 119.1 278.2 118.1 281.2 116.5 C284.2 114.8 289.8 113.1 293.2 111.3 C296.5 109.4 298.8 107.9 301.2 105.3 C303.5 102.6 304.9 97.8 307.2 95.3 C309.5 92.7 312.3 91.3 315.2 90.1 C318.1 88.9 322.9 88.4 324.4 88.1 L324.4 -20 L-3.8 -20 Z" fill="#FF6400"/>
<path d="M-3.8 -7.2 C-1.4 -12.1 8.1 -8.9 10.6 -7.2 C13.1 -5.5 11.1 0.3 11.0 2.8 C10.9 5.3 10.7 5.7 10.2 7.6 C9.7 9.5 9.1 12.1 7.8 14.0 C6.5 15.9 4.5 17.5 2.6 18.8 C0.7 20.2 -2.7 26.4 -3.8 22.0 C-4.9 17.7 -6.2 -2.3 -3.8 -7.2 Z" fill="#FF3200"/>
<path d="M39.8 9.2 C40.8 8.7 45.8 9.7 48.6 10.8 C51.4 11.9 55.1 14.7 56.6 16.0 C58.2 17.3 58.8 18.5 57.8 18.8 C56.8 19.2 53.2 18.8 50.6 18.0 C48.1 17.2 44.4 15.5 42.6 14.0 C40.8 12.5 38.8 9.7 39.8 9.2 Z" fill="#FF3200"/>
<path d="M67.8 -4.4 C110.1 -7.3 281.6 -11.1 324.4 -4.4 C367.2 2.3 326.9 29.3 324.4 36.0 C321.9 42.8 313.1 36.4 309.2 36.0 C305.3 35.7 304.2 34.0 301.2 34.0 C298.2 34.0 294.5 35.4 291.2 36.0 C287.8 36.7 284.8 37.4 281.2 38.0 C277.5 38.7 272.5 38.6 269.2 40.0 C265.8 41.5 264.5 45.0 261.2 46.8 C257.8 48.7 252.2 49.2 249.2 51.2 C246.1 53.3 246.2 57.8 243.2 59.2 C240.1 60.7 234.3 59.7 230.7 60.0 C227.2 60.4 224.6 59.4 221.9 61.2 C219.3 63.0 219.9 67.9 214.7 70.8 C209.5 73.8 208.1 81.5 190.7 78.8 C173.4 76.2 129.3 63.8 110.7 54.8 C92.1 45.8 85.7 31.8 79.0 24.8 C72.4 17.8 72.9 17.7 71.0 12.8 C69.2 7.9 25.6 -1.5 67.8 -4.4 Z" fill="#FF3200"/>
<path d="M243.2 68.0 C244.8 66.8 248.7 66.2 251.2 68.0 C253.6 69.9 257.3 76.0 258.0 79.2 C258.6 82.5 256.6 86.3 255.2 87.3 C253.7 88.3 250.8 84.6 249.2 85.3 C247.5 85.9 246.5 88.3 245.2 91.3 C243.8 94.3 242.5 100.1 241.2 103.3 C239.8 106.5 238.0 109.9 237.2 110.5 C236.3 111.0 235.5 109.0 235.9 106.5 C236.4 103.9 238.7 99.1 239.9 95.3 C241.2 91.4 242.9 86.6 243.2 83.2 C243.4 79.9 241.2 77.8 241.2 75.2 C241.2 72.7 241.5 69.2 243.2 68.0 Z" fill="#FF3200"/>
<path d="M71.0 12.8 C69.7 12.5 76.4 22.0 79.0 24.8 C81.7 27.7 86.1 28.0 87.1 30.0 C88.1 32.0 86.4 33.7 85.1 36.8 C83.7 40.0 80.9 45.1 79.0 48.8 C77.2 52.6 75.2 55.5 73.8 59.2 C72.5 63.0 70.8 67.4 71.0 71.2 C71.2 75.1 73.4 79.7 75.0 82.0 C76.7 84.4 79.4 83.7 81.0 85.3 C82.7 86.8 83.7 88.3 85.1 91.3 C86.4 94.3 87.1 99.6 89.1 103.3 C91.1 106.9 94.4 110.3 97.1 113.3 C99.7 116.3 102.7 118.3 105.1 121.3 C107.4 124.3 109.7 127.9 111.1 131.3 C112.5 134.6 113.0 138.0 113.5 141.3 C113.9 144.6 113.5 146.6 113.9 150.9 C114.2 155.2 114.9 161.7 115.5 166.9 C116.0 172.1 116.9 177.2 117.1 182.1 C117.3 187.0 116.3 192.2 116.7 196.5 C117.1 200.8 118.1 204.7 119.5 207.7 C120.9 210.8 123.0 213.3 125.1 214.9 C127.1 216.6 129.3 217.5 131.9 217.7 C134.5 217.9 137.8 216.9 140.7 216.1 C143.6 215.4 146.0 215.2 149.1 213.3 C152.2 211.5 156.0 207.5 159.1 204.9 C162.2 202.3 164.4 200.3 167.5 197.7 C170.6 195.1 174.4 192.1 177.5 189.3 C180.6 186.5 183.6 183.5 185.9 180.9 C188.3 178.3 189.7 176.1 191.5 173.7 C193.4 171.3 195.3 168.6 197.1 166.5 C199.0 164.4 200.8 163.5 202.7 160.9 C204.7 158.3 206.7 153.5 208.7 150.9 C210.7 148.3 213.1 147.9 214.7 145.3 C216.4 142.7 217.7 139.3 218.7 135.3 C219.7 131.3 219.7 125.3 220.7 121.3 C221.7 117.3 223.2 114.3 224.7 111.3 C226.3 108.3 228.1 106.6 229.9 103.3 C231.8 99.9 234.6 94.9 235.9 91.3 C237.3 87.6 238.1 83.9 237.9 81.2 C237.8 78.6 236.7 76.9 235.1 75.2 C233.6 73.6 230.6 72.0 228.7 71.2 C226.9 70.5 228.2 71.7 223.9 70.8 C219.7 70.0 209.1 67.6 203.1 66.0 C197.2 64.5 191.7 63.3 188.3 61.6 C184.9 60.0 184.5 59.7 182.7 56.0 C180.9 52.4 180.6 43.4 177.5 39.6 C174.4 35.9 168.3 35.3 164.3 33.6 C160.3 32.0 157.0 31.8 153.5 29.6 C150.0 27.5 145.8 23.4 143.5 20.8 C141.2 18.2 143.4 15.0 139.9 14.0 C136.4 13.0 128.0 15.9 122.3 14.8 C116.5 13.7 110.5 7.5 105.5 7.6 C100.4 7.7 94.9 12.4 91.9 15.6 C88.8 18.8 90.5 27.3 87.1 26.8 C83.6 26.4 72.4 13.1 71.0 12.8 Z" fill="#FF3200"/>
<path d="M164.7 -5.2 C143.0 -3.2 165.4 4.2 166.7 6.8 C168.0 9.4 170.4 9.4 172.7 10.4 C175.0 11.4 178.2 11.4 180.7 12.8 C183.2 14.2 186.4 15.8 187.9 18.8 C189.5 21.8 189.5 27.5 189.9 30.8 C190.4 34.2 189.6 36.5 190.7 38.8 C191.9 41.2 193.7 43.3 196.7 44.8 C199.7 46.4 204.7 47.7 208.7 48.0 C212.7 48.4 216.0 47.4 220.7 46.8 C225.5 46.3 233.1 46.2 237.2 44.8 C241.2 43.5 243.8 41.8 245.2 38.8 C246.5 35.8 244.7 29.8 245.2 26.8 C245.6 23.8 246.3 22.2 247.9 20.8 C249.6 19.5 252.3 18.6 255.2 18.8 C258.0 19.0 262.2 21.7 265.2 22.0 C268.2 22.4 270.5 21.7 273.2 20.8 C275.8 20.0 278.2 18.2 281.2 16.8 C284.2 15.5 288.8 14.5 291.2 12.8 C293.5 11.1 294.2 9.8 295.2 6.8 C296.2 3.8 318.9 -3.2 297.2 -5.2 C275.4 -7.2 186.4 -7.2 164.7 -5.2 Z" fill="#FF6400"/>
<path d="M83.9 32.0 C86.1 29.9 91.4 28.7 95.1 28.0 C98.7 27.4 103.4 27.0 105.9 28.0 C108.3 29.0 110.0 31.7 109.9 34.0 C109.7 36.4 106.9 39.4 105.1 42.0 C103.3 44.7 101.1 47.4 99.1 50.0 C97.1 52.7 94.7 55.0 93.1 58.0 C91.4 61.0 90.3 64.7 89.1 68.0 C87.9 71.4 87.5 75.8 85.9 78.0 C84.2 80.2 80.9 82.4 79.0 81.2 C77.2 80.1 75.4 74.9 75.0 71.2 C74.7 67.6 76.2 62.9 77.0 59.2 C77.8 55.6 79.0 52.3 79.8 49.2 C80.6 46.2 81.2 43.7 81.8 40.8 C82.5 38.0 81.7 34.2 83.9 32.0 Z" fill="#FF6400"/>
<path d="M85.1 34.0 C87.1 32.2 91.7 30.7 95.1 30.0 C98.4 29.4 102.9 29.4 105.1 30.0 C107.2 30.7 108.2 32.2 107.9 34.0 C107.5 35.8 104.9 38.3 103.1 40.8 C101.3 43.4 99.1 46.5 97.1 49.2 C95.1 52.0 92.7 54.2 91.1 57.2 C89.4 60.2 88.3 63.9 87.1 67.2 C85.9 70.6 85.2 75.2 83.9 77.2 C82.5 79.2 80.4 80.2 79.0 79.2 C77.7 78.2 76.0 74.6 75.8 71.2 C75.6 67.9 77.0 62.9 77.8 59.2 C78.7 55.6 80.2 52.3 81.0 49.2 C81.9 46.2 82.4 43.4 83.0 40.8 C83.7 38.3 83.1 35.8 85.1 34.0 Z" fill="#FFA000"/>
<path d="M89.1 36.8 C91.6 34.1 96.7 33.0 99.1 32.8 C101.4 32.7 103.4 34.0 103.1 36.0 C102.7 38.1 99.3 42.0 97.1 45.2 C94.9 48.4 91.9 51.6 89.9 55.2 C87.9 58.9 86.5 64.6 85.1 67.2 C83.6 69.9 81.9 72.3 81.0 71.2 C80.2 70.2 79.4 64.9 79.8 61.2 C80.3 57.6 82.3 53.3 83.9 49.2 C85.4 45.2 86.5 39.6 89.1 36.8 Z" fill="#FFC03C"/>
<path d="M79.0 59.2 C79.7 57.2 82.0 54.9 83.0 55.2 C84.1 55.6 85.3 59.1 85.1 61.2 C84.9 63.4 82.9 67.0 81.8 68.0 C80.8 69.1 79.5 68.7 79.0 67.2 C78.6 65.8 78.4 61.2 79.0 59.2 Z" fill="#FFE878"/>
<path d="M125.1 40.8 C125.9 38.8 128.3 37.6 130.7 36.8 C133.1 36.0 136.7 35.7 139.5 36.0 C142.3 36.4 146.3 37.0 147.5 38.8 C148.7 40.6 148.0 44.7 146.7 46.8 C145.4 49.0 142.2 50.6 139.5 51.6 C136.8 52.7 132.9 53.7 130.7 53.2 C128.4 52.8 126.8 50.9 125.9 48.8 C124.9 46.8 124.3 42.8 125.1 40.8 Z" fill="#FF6400"/>
<path d="M129.5 44.0 C130.3 43.0 132.6 42.2 134.7 42.0 C136.8 41.8 140.8 41.9 141.9 42.8 C143.0 43.8 142.3 46.6 141.1 47.6 C139.9 48.7 136.6 49.2 134.7 49.2 C132.8 49.3 130.7 48.9 129.9 48.0 C129.0 47.2 128.7 45.0 129.5 44.0 Z" fill="#FFA000"/>
<path d="M106.7 15.6 C107.6 14.5 110.3 13.7 111.9 14.0 C113.5 14.3 115.8 15.8 116.3 17.2 C116.7 18.7 115.8 21.8 114.7 22.8 C113.5 23.9 110.9 24.0 109.5 23.6 C108.1 23.2 106.7 21.8 106.3 20.4 C105.8 19.1 105.7 16.7 106.7 15.6 Z" fill="#FF6400"/>
<path d="M102.7 50.8 C103.3 49.9 106.1 49.0 107.5 49.2 C108.8 49.4 110.5 51.0 110.7 52.0 C110.8 53.1 109.4 55.2 108.3 55.6 C107.1 56.1 104.8 55.6 103.9 54.8 C102.9 54.0 102.1 51.8 102.7 50.8 Z" fill="#FF6400"/>
<path d="M109.1 102.9 C110.3 102.1 113.5 103.4 115.1 102.1 C116.7 100.7 117.5 97.5 118.7 94.9 C119.9 92.3 121.4 88.8 122.2 86.5 C122.9 84.1 122.7 82.6 123.1 80.8 C123.4 79.1 124.0 77.9 124.3 75.9 C124.6 73.9 125.6 70.7 125.0 68.8 C124.4 67.0 121.6 66.0 120.8 64.6 C119.9 63.2 119.3 61.3 120.0 60.4 C120.7 59.4 123.0 58.9 125.0 58.9 C127.0 58.9 129.7 59.4 132.1 60.4 C134.4 61.3 137.0 63.2 139.2 64.6 C141.3 66.0 143.2 68.4 144.8 68.8 C146.5 69.3 147.7 68.9 149.1 67.5 C150.5 66.0 152.2 62.5 153.3 60.4 C154.5 58.2 156.1 56.6 156.2 54.7 C156.3 52.8 154.5 50.9 154.1 49.0 C153.6 47.1 153.0 45.2 153.3 43.4 C153.7 41.5 154.8 39.0 156.2 37.7 C157.6 36.4 160.0 35.5 161.9 35.5 C163.7 35.5 165.9 36.4 167.5 37.7 C169.1 39.0 170.6 41.2 171.8 43.4 C172.9 45.5 172.9 48.1 174.6 50.4 C176.2 52.8 179.8 55.6 181.7 57.5 C183.6 59.4 184.3 60.5 185.9 61.8 C187.6 63.0 189.6 64.8 191.5 65.2 C193.4 65.7 196.0 63.5 197.3 64.6 C198.6 65.7 199.2 69.0 199.4 71.7 C199.6 74.4 199.0 77.0 198.7 80.8 C198.3 84.7 198.0 90.8 197.3 95.0 C196.6 99.3 196.1 103.1 194.4 106.4 C192.8 109.7 189.2 112.3 187.4 114.9 C185.5 117.5 183.7 119.6 183.1 122.0 C182.5 124.3 182.8 126.4 183.8 129.0 C184.7 131.6 187.0 135.0 188.8 137.6 C190.5 140.2 193.3 142.5 194.4 144.7 C195.6 146.8 196.5 148.4 195.8 150.3 C195.1 152.2 192.6 154.9 190.2 156.0 C187.8 157.1 184.0 156.5 181.7 157.0 C179.3 157.5 177.4 157.8 176.0 159.1 C174.6 160.5 173.5 162.9 173.3 164.9 C173.1 166.9 174.1 168.8 174.7 170.9 C175.3 173.0 176.7 175.0 176.7 177.3 C176.7 179.6 176.0 182.3 174.7 184.5 C173.4 186.7 171.1 188.4 168.9 190.3 C166.8 192.2 164.3 193.9 161.9 196.0 C159.5 198.1 157.1 200.7 154.7 202.9 C152.3 205.2 150.0 208.8 147.5 209.3 C145.0 209.9 142.3 207.1 139.5 206.1 C136.7 205.1 133.3 204.0 130.7 203.3 C128.0 202.6 125.3 203.2 123.6 202.0 C121.9 200.8 121.3 198.3 120.7 196.1 C120.1 193.9 119.8 191.5 120.0 188.9 C120.3 186.3 121.0 183.3 122.3 180.5 C123.6 177.7 126.1 174.5 127.8 171.9 C129.6 169.3 131.7 167.4 132.8 164.9 C133.9 162.4 134.6 160.0 134.7 156.9 C134.8 153.8 133.4 150.1 133.5 146.5 C133.5 142.8 135.2 138.0 134.9 135.1 C134.7 132.1 134.0 131.2 132.1 129.0 C130.2 126.9 126.4 124.6 123.6 122.0 C120.8 119.4 117.8 116.0 115.1 113.5 C112.4 111.0 108.5 108.6 107.5 106.9 C106.5 105.1 107.8 103.7 109.1 102.9 Z" fill="#E11400"/>
<path d="M160.3 60.8 C162.0 61.2 162.6 65.6 164.7 67.2 C166.8 68.9 170.8 69.2 173.1 70.5 C175.4 71.7 177.5 72.7 178.7 74.5 C179.9 76.2 179.4 79.6 180.3 80.8 C181.2 82.1 183.0 80.6 183.9 82.0 C184.8 83.5 184.9 86.7 185.9 89.3 C186.9 91.9 189.3 94.8 189.9 97.7 C190.6 100.5 190.6 104.1 189.9 106.5 C189.3 108.9 187.3 110.4 185.9 112.1 C184.5 113.7 182.2 114.8 181.5 116.5 C180.8 118.1 181.7 120.0 181.9 122.1 C182.1 124.1 181.8 126.3 182.7 128.9 C183.6 131.5 185.8 135.1 187.5 137.7 C189.3 140.3 192.0 142.4 193.1 144.5 C194.3 146.6 194.9 148.4 194.3 150.1 C193.7 151.8 191.6 153.9 189.5 154.9 C187.4 155.9 183.9 155.6 181.7 156.1 C179.4 156.6 177.8 156.7 176.0 158.1 C174.3 159.5 172.3 163.5 171.2 164.8 C170.2 166.0 171.0 164.1 169.6 165.6 C168.2 167.1 165.3 171.5 163.0 173.9 C160.6 176.2 157.0 177.4 155.5 179.6 C154.0 181.8 154.7 184.6 153.9 187.1 C153.0 189.6 152.4 193.4 150.6 194.5 C148.8 195.6 144.9 195.2 143.1 193.7 C141.3 192.2 140.2 187.8 139.8 185.4 C139.4 183.1 139.7 181.6 140.7 179.6 C141.6 177.7 143.8 175.8 145.6 173.9 C147.4 171.9 150.6 170.1 151.4 168.1 C152.2 166.0 151.9 163.2 150.6 161.5 C149.2 159.7 145.6 158.6 143.1 157.7 C140.7 156.9 137.1 158.3 135.7 156.5 C134.3 154.7 134.7 150.5 134.7 146.9 C134.7 143.3 136.2 138.0 135.9 135.1 C135.6 132.1 134.7 131.1 133.1 129.0 C131.4 127.0 128.1 125.0 125.9 122.9 C123.6 120.7 120.9 118.3 119.5 116.1 C118.0 113.9 116.8 111.9 117.1 109.7 C117.3 107.5 119.9 105.2 121.1 102.9 C122.2 100.5 122.9 98.0 123.9 95.7 C124.8 93.3 125.5 91.0 126.7 88.9 C127.9 86.7 129.6 84.9 131.1 82.8 C132.5 80.8 133.9 78.5 135.5 76.8 C137.1 75.2 138.5 73.8 140.7 72.8 C142.9 71.8 146.4 72.2 148.7 70.8 C151.0 69.5 152.8 66.5 154.7 64.8 C156.6 63.2 158.6 60.4 160.3 60.8 Z" fill="#CD3C3C"/>
<path d="M127.9 95.7 C128.9 94.5 132.0 93.8 133.9 94.1 C135.7 94.3 138.4 95.7 139.1 97.3 C139.8 98.9 139.2 102.3 137.9 103.7 C136.6 105.0 133.2 105.7 131.5 105.3 C129.7 104.9 128.1 102.9 127.5 101.3 C126.9 99.7 126.8 96.9 127.9 95.7 Z" fill="#E11400"/>
<path d="M120.3 108.5 C121.3 107.1 125.7 107.4 128.7 107.7 C131.6 107.9 136.2 108.7 137.9 110.1 C139.6 111.4 140.3 114.3 139.1 115.7 C137.9 117.0 133.4 118.1 130.7 118.1 C127.9 118.1 124.4 117.3 122.7 115.7 C120.9 114.1 119.3 109.8 120.3 108.5 Z" fill="#E11400"/>
<path d="M155.1 79.7 C156.1 77.8 159.3 77.2 160.7 78.0 C162.1 78.9 163.3 82.3 163.5 84.9 C163.7 87.4 163.0 91.6 161.9 93.3 C160.8 94.9 158.3 95.6 157.1 94.9 C155.9 94.1 155.0 91.4 154.7 88.9 C154.4 86.3 154.1 81.5 155.1 79.7 Z" fill="#E11400"/>
<path d="M171.9 124.9 C172.9 123.5 176.5 122.5 178.7 122.9 C180.9 123.2 184.1 125.1 185.1 126.9 C186.1 128.6 185.9 131.9 184.7 133.3 C183.5 134.6 179.9 135.3 177.9 134.9 C175.9 134.5 173.7 132.5 172.7 130.9 C171.7 129.2 170.9 126.2 171.9 124.9 Z" fill="#E11400"/>
<path d="M153.3 122.3 C155.5 122.3 159.7 123.5 161.9 125.1 C164.0 126.8 164.2 130.3 166.1 132.2 C168.0 134.1 170.8 135.5 173.2 136.5 C175.6 137.4 178.4 137.2 180.3 137.9 C182.2 138.6 183.6 139.1 184.5 140.7 C185.5 142.4 186.4 145.7 185.9 147.8 C185.4 149.9 184.0 152.1 181.7 153.5 C179.3 154.9 174.3 155.4 171.8 156.3 C169.2 157.3 167.5 159.1 166.1 159.1 C164.7 159.1 164.9 157.0 163.3 156.3 C161.6 155.6 158.5 155.4 156.2 154.9 C153.8 154.4 151.5 154.4 149.1 153.5 C146.7 152.6 143.8 150.9 142.0 149.2 C140.2 147.6 139.0 145.7 138.5 143.6 C138.0 141.4 138.3 138.9 139.2 136.5 C140.0 134.1 141.8 131.3 143.4 129.4 C145.1 127.5 147.4 126.3 149.1 125.1 C150.7 123.9 151.2 122.3 153.3 122.3 Z" fill="#C00000"/>
<path d="M169.9 103.7 C170.4 102.5 171.5 101.5 172.7 101.3 C173.9 101.0 176.0 101.3 177.1 102.1 C178.2 102.9 179.4 104.7 179.5 106.1 C179.6 107.4 179.0 109.3 177.9 110.1 C176.8 110.9 174.4 111.2 173.1 110.9 C171.8 110.5 170.4 109.3 169.9 108.1 C169.4 106.9 169.4 104.8 169.9 103.7 Z" fill="#C00000"/>
<path d="M185.9 115.7 C186.7 114.0 189.0 113.0 190.7 112.9 C192.5 112.7 195.1 113.5 196.3 114.9 C197.5 116.2 198.2 118.9 197.9 120.9 C197.7 122.9 196.2 125.7 194.7 126.9 C193.3 128.0 190.6 128.3 189.1 127.7 C187.7 127.0 186.5 124.9 185.9 122.9 C185.4 120.9 185.1 117.3 185.9 115.7 Z" fill="#FF6400"/>
<path d="M188.3 119.7 C188.9 118.9 190.7 117.8 191.5 118.1 C192.3 118.3 193.3 120.3 193.1 121.3 C193.0 122.3 191.5 123.8 190.7 124.1 C189.9 124.3 188.7 123.6 188.3 122.9 C187.9 122.1 187.8 120.5 188.3 119.7 Z" fill="#FFA000"/>
<path d="M194.7 134.9 C195.2 133.1 198.4 132.7 200.7 132.9 C203.1 133.0 207.2 134.2 208.7 135.7 C210.3 137.2 210.6 140.5 209.9 142.1 C209.3 143.7 206.7 145.0 204.7 145.3 C202.7 145.6 199.6 145.4 197.9 143.7 C196.3 142.0 194.3 136.7 194.7 134.9 Z" fill="#FF6400"/>
<path d="M177.5 160.5 C178.3 159.4 180.4 158.9 181.9 158.9 C183.4 158.9 186.1 159.3 186.7 160.5 C187.4 161.7 186.9 164.9 185.9 166.1 C185.0 167.3 182.6 167.8 181.1 167.7 C179.6 167.6 177.7 166.5 177.1 165.3 C176.5 164.1 176.7 161.6 177.5 160.5 Z" fill="#FF6400"/>
<path d="M125.1 182.1 C125.5 181.0 126.4 179.8 127.5 179.3 C128.5 178.8 130.3 178.5 131.5 178.9 C132.7 179.3 134.1 180.5 134.7 181.7 C135.3 182.9 135.5 184.9 135.1 186.1 C134.7 187.4 133.5 188.8 132.3 189.3 C131.1 189.9 129.1 189.9 127.9 189.3 C126.7 188.8 125.5 187.3 125.1 186.1 C124.6 184.9 124.7 183.2 125.1 182.1 Z" fill="#FF3200"/>
<path d="M204.3 102.1 C205.2 99.2 206.9 95.8 208.7 93.7 C210.6 91.5 213.8 89.6 215.5 89.3 C217.3 88.9 218.9 90.2 219.1 91.7 C219.4 93.1 218.4 96.1 217.1 98.1 C215.9 100.1 213.1 101.8 211.5 103.7 C210.0 105.5 208.2 107.1 207.9 109.3 C207.7 111.4 208.9 113.9 209.9 116.5 C211.0 119.1 213.3 122.1 214.3 124.9 C215.3 127.6 216.0 130.5 215.9 132.9 C215.9 135.2 214.9 138.2 213.9 138.9 C213.0 139.6 211.1 138.7 210.3 137.3 C209.5 135.9 209.9 133.2 209.1 130.5 C208.4 127.7 206.9 124.1 205.9 120.9 C205.0 117.6 203.8 114.0 203.5 110.9 C203.3 107.7 203.5 104.9 204.3 102.1 Z" fill="#E11400"/>
<path d="M113.0 33.4 C113.2 32.1 113.3 29.3 115.1 27.7 C116.8 26.2 120.3 25.1 123.6 24.2 C126.9 23.2 132.1 22.2 134.9 22.1 C137.8 21.9 139.1 22.6 140.6 23.5 C142.1 24.4 144.4 26.4 144.1 27.7 C143.9 29.0 141.7 30.5 139.2 31.3 C136.7 32.1 132.5 32.1 129.2 32.7 C125.9 33.3 122.0 34.4 119.4 34.8 C116.8 35.3 114.7 35.8 113.7 35.5 C112.6 35.3 112.7 34.7 113.0 33.4 Z" fill="#E11400"/>
<path d="M89.1 70.8 C89.0 68.6 89.1 65.0 89.5 62.8 C89.9 60.7 90.8 58.6 91.5 58.0 C92.1 57.5 93.1 58.2 93.5 59.6 C93.9 61.1 94.1 64.3 93.9 66.8 C93.7 69.4 92.9 73.2 92.3 74.8 C91.6 76.5 90.4 77.1 89.9 76.5 C89.3 75.8 89.1 73.1 89.1 70.8 Z" fill="#E11400"/>
<path d="M305.2 7.6 C306.0 6.4 308.9 5.6 310.8 6.0 C312.7 6.4 314.7 9.9 316.4 10.0 C318.1 10.1 320.1 4.0 321.2 6.8 C322.3 9.6 323.7 23.9 322.8 26.8 C321.9 29.8 317.8 25.6 315.6 24.4 C313.4 23.2 311.2 21.5 309.6 19.6 C308.0 17.8 306.7 15.2 306.0 13.2 C305.3 11.2 304.4 8.8 305.2 7.6 Z" fill="#E11400"/>
<path d="M82.4 88.8 C83.4 88.3 87.9 90.0 91.9 92.3 C95.8 94.6 103.3 100.1 106.2 102.7 C109.1 105.3 108.2 106.2 109.5 107.9 C110.7 109.7 111.7 110.9 113.7 113.1 C115.8 115.3 119.0 118.5 121.8 121.1 C124.5 123.6 128.3 126.2 130.3 128.4 C132.2 130.5 133.0 131.2 133.4 133.9 C133.7 136.7 132.5 141.5 132.6 145.1 C132.6 148.7 134.3 151.7 133.6 155.7 C132.9 159.7 129.9 165.6 128.1 169.2 C126.3 172.8 124.4 174.7 123.0 177.3 C121.7 179.9 120.9 184.2 120.0 184.9 C119.0 185.5 118.4 182.1 117.2 181.2 C116.1 180.2 114.2 181.3 113.1 178.9 C112.0 176.5 110.9 170.9 110.7 166.9 C110.4 162.9 111.2 158.9 111.5 154.9 C111.7 150.9 112.7 146.8 112.3 142.9 C111.9 139.0 110.7 134.9 109.1 131.7 C107.5 128.5 104.9 126.2 102.7 123.7 C100.4 121.1 97.6 118.9 95.5 116.5 C93.3 114.1 91.3 111.9 89.9 109.3 C88.4 106.7 87.3 103.1 86.7 100.9 C86.0 98.6 86.6 97.7 85.9 95.7 C85.1 93.7 81.4 89.4 82.4 88.8 Z" fill="#FF6400"/>
<path d="M82.9 89.3 C83.9 88.8 88.1 90.8 91.4 93.0 C94.8 95.2 100.3 100.1 102.9 102.6 C105.6 105.1 105.7 106.5 107.3 108.2 C108.8 109.9 110.1 110.7 112.2 112.7 C114.3 114.7 117.1 117.6 119.7 120.1 C122.4 122.6 126.2 125.5 128.2 127.6 C130.2 129.7 131.0 130.0 131.6 132.7 C132.1 135.3 131.4 139.9 131.6 143.5 C131.7 147.1 133.1 150.3 132.4 154.3 C131.7 158.3 129.1 163.8 127.5 167.4 C125.8 170.9 123.9 173.0 122.5 175.5 C121.1 178.0 120.2 181.8 119.2 182.6 C118.2 183.3 117.5 180.7 116.4 180.1 C115.4 179.5 114.0 181.1 113.1 178.9 C112.1 176.7 110.9 170.9 110.7 166.9 C110.4 162.9 111.2 158.9 111.5 154.9 C111.7 150.9 112.7 146.8 112.3 142.9 C111.9 139.0 110.7 134.9 109.1 131.7 C107.5 128.5 104.9 126.2 102.7 123.7 C100.4 121.1 97.6 118.9 95.5 116.5 C93.3 114.1 91.3 111.9 89.9 109.3 C88.4 106.7 87.3 103.1 86.7 100.9 C86.0 98.6 86.5 97.6 85.9 95.7 C85.2 93.7 82.0 89.7 82.9 89.3 Z" fill="#FFA000"/>
<path d="M83.5 89.7 C84.4 89.4 88.3 91.6 91.0 93.7 C93.7 95.9 97.4 100.0 99.7 102.5 C102.0 104.9 103.2 106.9 105.0 108.5 C106.8 110.1 108.6 110.6 110.7 112.3 C112.8 114.1 115.1 116.7 117.7 119.1 C120.3 121.5 124.1 124.8 126.2 126.9 C128.2 128.9 129.1 128.9 129.8 131.4 C130.5 133.9 130.3 138.3 130.6 141.9 C130.8 145.5 131.8 149.0 131.1 152.9 C130.5 156.9 128.3 162.0 126.8 165.5 C125.3 169.0 123.4 171.2 122.0 173.7 C120.6 176.2 119.4 179.4 118.4 180.3 C117.3 181.1 116.6 179.2 115.7 179.0 C114.8 178.8 113.9 180.9 113.1 178.9 C112.2 176.9 110.9 170.9 110.7 166.9 C110.4 162.9 111.2 158.9 111.5 154.9 C111.7 150.9 112.7 146.8 112.3 142.9 C111.9 139.0 110.7 134.9 109.1 131.7 C107.5 128.5 104.9 126.2 102.7 123.7 C100.4 121.1 97.6 118.9 95.5 116.5 C93.3 114.1 91.3 111.9 89.9 109.3 C88.4 106.7 87.3 103.1 86.7 100.9 C86.0 98.6 86.4 97.5 85.9 95.7 C85.3 93.8 82.7 90.0 83.5 89.7 Z" fill="#FFC03C"/>
<path d="M84.1 90.1 C84.9 89.9 88.5 92.4 90.6 94.5 C92.6 96.5 94.4 99.9 96.5 102.3 C98.5 104.7 100.7 107.2 102.8 108.8 C104.9 110.4 107.0 110.4 109.2 111.9 C111.3 113.5 113.2 115.8 115.7 118.1 C118.2 120.5 122.0 124.1 124.1 126.1 C126.2 128.1 127.1 127.8 128.0 130.2 C128.9 132.5 129.2 136.8 129.6 140.3 C129.9 143.9 130.5 147.7 129.9 151.6 C129.4 155.5 127.6 160.2 126.2 163.6 C124.8 167.0 122.9 169.5 121.5 171.9 C120.1 174.3 118.7 177.0 117.6 178.0 C116.5 179.0 115.7 177.8 114.9 177.9 C114.2 178.1 113.8 180.7 113.1 178.9 C112.4 177.1 110.9 170.9 110.7 166.9 C110.4 162.9 111.2 158.9 111.5 154.9 C111.7 150.9 112.7 146.8 112.3 142.9 C111.9 139.0 110.7 134.9 109.1 131.7 C107.5 128.5 104.9 126.2 102.7 123.7 C100.4 121.1 97.6 118.9 95.5 116.5 C93.3 114.1 91.3 111.9 89.9 109.3 C88.4 106.7 87.3 103.1 86.7 100.9 C86.0 98.6 86.3 97.4 85.9 95.7 C85.4 93.9 83.3 90.3 84.1 90.1 Z" fill="#FFE878"/>
<path d="M86.7 98.1 C86.1 98.9 86.8 104.4 87.9 107.3 C88.9 110.1 91.2 112.9 93.1 115.3 C94.9 117.6 96.7 118.9 99.1 121.3 C101.4 123.6 104.9 126.3 107.1 129.3 C109.3 132.3 111.3 136.0 112.3 139.3 C113.3 142.6 113.3 145.8 113.1 149.3 C112.8 152.8 110.9 157.0 110.7 160.5 C110.4 164.0 111.0 167.9 111.5 170.5 C112.0 173.1 112.9 175.5 113.7 176.1 C114.5 176.7 115.1 175.3 116.3 174.1 C117.4 172.9 119.2 171.2 120.7 168.9 C122.1 166.6 123.9 163.8 125.1 160.5 C126.3 157.2 127.4 153.1 127.9 149.3 C128.3 145.5 128.3 141.2 127.9 137.7 C127.4 134.2 126.3 130.2 125.1 128.1 C123.9 125.9 122.8 126.8 120.7 124.9 C118.5 122.9 114.6 118.7 112.3 116.5 C109.9 114.2 108.9 112.5 106.7 111.3 C104.5 110.1 101.7 110.8 99.1 109.3 C96.5 107.7 93.1 103.9 91.1 102.1 C89.0 100.2 87.2 97.2 86.7 98.1 Z" fill="#78B9FA"/>
<path d="M89.5 103.7 C89.7 104.8 92.1 110.2 93.9 112.9 C95.7 115.5 97.9 117.2 100.3 119.7 C102.7 122.1 106.0 124.6 108.3 127.7 C110.5 130.7 112.8 134.5 113.9 138.1 C114.9 141.7 114.8 145.6 114.7 149.3 C114.5 153.0 113.2 157.0 113.1 160.5 C112.9 164.0 113.3 168.5 113.9 170.1 C114.4 171.7 115.3 170.9 116.3 170.1 C117.2 169.3 118.3 167.2 119.5 165.3 C120.6 163.4 122.1 161.6 123.1 158.9 C124.1 156.2 125.1 152.6 125.5 149.3 C125.9 146.0 125.9 142.1 125.5 138.9 C125.0 135.7 123.9 132.2 122.7 130.1 C121.4 127.9 119.9 127.9 117.9 126.1 C115.9 124.2 112.8 120.9 110.7 118.9 C108.5 116.9 107.2 115.3 105.1 114.1 C102.9 112.9 100.0 113.0 97.9 111.7 C95.7 110.3 93.7 107.4 92.3 106.1 C90.9 104.7 89.2 102.5 89.5 103.7 Z" fill="#3C96F5"/>
<path d="M95.5 113.3 C96.0 112.2 100.1 113.4 102.7 114.9 C105.2 116.3 108.3 119.4 110.7 122.1 C113.1 124.7 115.7 128.3 117.1 130.9 C118.4 133.4 119.1 136.4 118.7 137.3 C118.3 138.2 116.5 137.8 114.7 136.5 C112.8 135.2 110.0 131.8 107.5 129.3 C104.9 126.7 101.5 123.9 99.5 121.3 C97.5 118.6 94.9 114.3 95.5 113.3 Z" fill="#1E6EEB"/>
<path d="M115.5 154.1 C116.3 152.9 118.4 151.8 119.5 152.5 C120.5 153.2 121.9 156.0 121.9 158.1 C121.9 160.2 120.5 164.0 119.5 165.3 C118.5 166.6 116.7 167.0 115.9 166.1 C115.1 165.2 114.7 161.7 114.7 159.7 C114.6 157.7 114.7 155.3 115.5 154.1 Z" fill="#1E6EEB"/>
<path d="M77.8 83.7 C78.5 82.4 80.2 81.2 81.8 81.2 C83.5 81.2 86.1 82.3 87.5 83.7 C88.8 85.0 90.0 87.7 89.9 89.3 C89.7 90.9 88.1 92.7 86.7 93.3 C85.2 93.8 82.5 93.3 81.0 92.5 C79.6 91.7 78.4 89.9 77.8 88.5 C77.3 87.0 77.2 84.9 77.8 83.7 Z" fill="#FFC03C"/>
<path d="M79.5 85.3 C79.7 84.0 81.4 83.2 82.7 83.2 C83.9 83.2 85.8 84.3 86.7 85.3 C87.5 86.3 88.1 88.2 87.9 89.3 C87.6 90.3 86.2 91.4 85.1 91.7 C83.9 91.9 82.0 91.9 81.0 90.9 C80.1 89.8 79.2 86.5 79.5 85.3 Z" fill="#FFE878"/>
<path d="M247.0 283.4 C248.5 282.3 251.4 280.2 255.0 279.4 C258.7 278.6 265.1 278.3 269.1 278.4 C273.1 278.6 277.3 279.6 279.1 280.4 C281.0 281.3 281.1 282.4 280.1 283.4 C279.1 284.4 276.3 285.5 273.1 286.5 C269.9 287.5 264.7 289.2 261.0 289.5 C257.4 289.8 253.5 289.1 251.0 288.5 C248.5 287.9 246.6 286.6 245.9 285.8 C245.3 284.9 245.5 284.4 247.0 283.4 Z" fill="#4B3CC8"/>
<path d="M292.2 280.4 C293.3 279.6 297.7 279.3 301.2 278.4 C304.7 277.6 309.3 276.0 313.2 275.4 C317.1 274.7 322.5 273.5 324.4 274.6 C326.3 275.6 326.9 280.5 324.4 281.8 C321.9 283.1 313.1 282.0 309.2 282.4 C305.3 282.9 303.7 284.3 301.2 284.5 C298.7 284.6 295.7 284.0 294.2 283.4 C292.7 282.7 291.0 281.3 292.2 280.4 Z" fill="#4B3CC8"/>
<path d="M222.9 290.5 C223.7 289.7 227.1 288.4 228.9 287.9 C230.8 287.4 232.9 287.1 233.9 287.5 C234.9 287.9 235.6 289.6 234.9 290.5 C234.3 291.4 231.7 292.8 229.9 293.1 C228.2 293.5 225.7 292.9 224.5 292.5 C223.4 292.1 222.2 291.3 222.9 290.5 Z" fill="#4B3CC8"/>
<path d="M166.7 299.0 C163.0 298.0 173.4 294.8 176.7 293.8 C180.0 292.7 183.7 292.4 186.7 292.6 C189.7 292.7 192.7 293.4 194.7 294.6 C196.7 295.8 203.4 299.0 198.7 299.8 C194.1 300.5 170.4 300.0 166.7 299.0 Z" fill="#4B3CC8"/>
<use href="#map"/>
<path d="M124.7 88.9 C126.0 88.5 130.0 86.5 132.7 86.9 C135.3 87.2 139.4 90.2 140.7 90.9" fill="none" stroke="#ffffff" stroke-width="0.7" opacity="0.85"/>
<path d="M156.7 80.8 C157.4 81.5 159.7 83.2 160.7 84.9 C161.7 86.5 162.4 89.9 162.7 90.9" fill="none" stroke="#ffffff" stroke-width="0.7" opacity="0.85"/>
<path d="M138.7 162.9 C139.4 163.9 141.7 166.6 142.7 168.9 C143.7 171.2 144.4 175.6 144.7 176.9" fill="none" stroke="#ffffff" stroke-width="0.7" opacity="0.85"/>
<path d="M132.7 178.9 C133.3 180.2 136.4 184.6 136.7 186.9 C137.0 189.3 135.0 191.9 134.7 192.9" fill="none" stroke="#ffffff" stroke-width="0.7" opacity="0.85"/>
<path d="M126.7 200.9 C128.3 202.3 133.0 206.9 136.7 208.9 C140.4 210.9 146.7 212.3 148.7 212.9" fill="none" stroke="#ffffff" stroke-width="0.7" opacity="0.85"/>
<path d="M158.7 198.9 C160.0 198.3 164.4 196.6 166.7 194.9 C169.0 193.3 171.7 189.9 172.7 188.9" fill="none" stroke="#ffffff" stroke-width="0.7" opacity="0.85"/>
<path d="M130.7 246.9 C132.3 247.9 137.4 251.6 140.7 252.9 C144.0 254.3 149.0 254.6 150.7 255.0" fill="none" stroke="#ffffff" stroke-width="0.7" opacity="0.85"/>
<path d="M146.7 234.9 C147.4 235.9 149.7 238.9 150.7 240.9 C151.7 243.0 152.4 245.9 152.7 246.9" fill="none" stroke="#ffffff" stroke-width="0.7" opacity="0.85"/>
<path d="M96.7 250.9 C98.0 252.0 103.7 254.3 104.7 257.0 C105.7 259.6 103.0 265.3 102.7 267.0" fill="none" stroke="#ffffff" stroke-width="0.7" opacity="0.85"/>
<path d="M-3.8 203.3 C0.3 203.7 13.2 204.9 20.6 205.5 C28.0 206.2 34.3 206.7 40.6 207.1 C47.0 207.6 53.6 208.0 58.6 208.1 C63.6 208.2 67.6 208.3 70.7 207.7 C73.7 207.2 75.0 206.7 77.0 204.9 C79.1 203.1 81.0 200.1 83.0 196.9 C85.1 193.8 87.6 189.1 89.1 186.1 C90.5 183.1 91.1 180.8 91.9 178.9 C92.6 177.0 92.9 174.5 93.5 174.5 C94.0 174.5 94.7 176.8 95.1 178.9 C95.4 181.0 95.7 183.9 95.5 186.9 C95.2 189.9 93.9 193.6 93.5 196.9 C93.0 200.3 92.4 204.1 92.7 206.9 C92.9 209.8 93.9 212.4 95.1 214.1 C96.3 215.9 96.9 216.3 99.9 217.3 C102.9 218.3 110.2 218.8 113.1 220.1 C115.9 221.5 116.6 223.1 117.1 225.3 C117.5 227.5 115.9 230.9 115.9 233.3 C115.9 235.8 116.2 238.0 117.1 240.2 C117.9 242.3 119.7 245.0 121.1 246.2 C122.4 247.3 123.4 248.0 125.1 247.3 C126.7 246.7 128.7 243.8 131.1 242.2 C133.4 240.5 136.8 239.2 139.1 237.3 C141.4 235.5 143.1 233.2 145.1 231.3 C147.1 229.5 148.5 227.7 151.1 226.1 C153.7 224.5 158.3 222.4 160.7 221.7 C163.1 221.1 164.0 221.1 165.5 222.1 C167.0 223.2 168.0 226.5 169.9 228.1 C171.8 229.7 174.6 231.1 176.7 231.7 C178.8 232.3 180.4 232.5 182.7 231.7 C185.0 231.0 187.7 228.7 190.7 227.3 C193.7 226.0 197.4 224.7 200.7 223.7 C204.1 222.7 207.4 222.4 210.7 221.3 C214.1 220.3 216.3 218.3 220.7 217.3 C225.1 216.4 232.1 215.9 237.2 215.7 C242.2 215.5 246.5 215.9 251.2 216.1 C255.8 216.3 261.2 216.9 265.2 216.9 C269.2 216.9 272.2 216.9 275.2 216.1 C278.2 215.3 280.5 213.1 283.2 212.1 C285.8 211.2 287.5 210.7 291.2 210.5 C294.9 210.3 299.7 210.5 305.2 210.9 C310.7 211.3 321.2 212.6 324.4 212.9" fill="none" stroke="#169016" stroke-width="1.5"/>
<path d="M109.1 102.9 C110.3 102.1 113.5 103.4 115.1 102.1 C116.7 100.7 117.5 97.5 118.7 94.9 C119.9 92.3 121.4 88.8 122.2 86.5 C122.9 84.1 122.7 82.6 123.1 80.8 C123.4 79.1 124.0 77.9 124.3 75.9 C124.6 73.9 125.6 70.7 125.0 68.8 C124.4 67.0 121.6 66.0 120.8 64.6 C119.9 63.2 119.3 61.3 120.0 60.4 C120.7 59.4 123.0 58.9 125.0 58.9 C127.0 58.9 129.7 59.4 132.1 60.4 C134.4 61.3 137.0 63.2 139.2 64.6 C141.3 66.0 143.2 68.4 144.8 68.8 C146.5 69.3 147.7 68.9 149.1 67.5 C150.5 66.0 152.2 62.5 153.3 60.4 C154.5 58.2 156.1 56.6 156.2 54.7 C156.3 52.8 154.5 50.9 154.1 49.0 C153.6 47.1 153.0 45.2 153.3 43.4 C153.7 41.5 154.8 39.0 156.2 37.7 C157.6 36.4 160.0 35.5 161.9 35.5 C163.7 35.5 165.9 36.4 167.5 37.7 C169.1 39.0 170.6 41.2 171.8 43.4 C172.9 45.5 172.9 48.1 174.6 50.4 C176.2 52.8 179.8 55.6 181.7 57.5 C183.6 59.4 184.3 60.5 185.9 61.8 C187.6 63.0 189.6 64.8 191.5 65.2 C193.4 65.7 196.0 63.5 197.3 64.6 C198.6 65.7 199.2 69.0 199.4 71.7 C199.6 74.4 199.0 77.0 198.7 80.8 C198.3 84.7 198.0 90.8 197.3 95.0 C196.6 99.3 196.1 103.1 194.4 106.4 C192.8 109.7 189.2 112.3 187.4 114.9 C185.5 117.5 183.7 119.6 183.1 122.0 C182.5 124.3 182.8 126.4 183.8 129.0 C184.7 131.6 187.0 135.0 188.8 137.6 C190.5 140.2 193.3 142.5 194.4 144.7 C195.6 146.8 196.5 148.4 195.8 150.3 C195.1 152.2 192.6 154.9 190.2 156.0 C187.8 157.1 184.0 156.5 181.7 157.0 C179.3 157.5 177.4 157.8 176.0 159.1 C174.6 160.5 173.5 162.9 173.3 164.9 C173.1 166.9 174.1 168.8 174.7 170.9 C175.3 173.0 176.7 175.0 176.7 177.3 C176.7 179.6 176.0 182.3 174.7 184.5 C173.4 186.7 171.1 188.4 168.9 190.3 C166.8 192.2 164.3 193.9 161.9 196.0 C159.5 198.1 157.1 200.7 154.7 202.9 C152.3 205.2 150.0 208.8 147.5 209.3 C145.0 209.9 142.3 207.1 139.5 206.1 C136.7 205.1 133.3 204.0 130.7 203.3 C128.0 202.6 125.3 203.2 123.6 202.0 C121.9 200.8 121.3 198.3 120.7 196.1 C120.1 193.9 119.8 191.5 120.0 188.9 C120.3 186.3 121.0 183.3 122.3 180.5 C123.6 177.7 126.1 174.5 127.8 171.9 C129.6 169.3 131.7 167.4 132.8 164.9 C133.9 162.4 134.6 160.0 134.7 156.9 C134.8 153.8 133.4 150.1 133.5 146.5 C133.5 142.8 135.2 138.0 134.9 135.1 C134.7 132.1 134.0 131.2 132.1 129.0 C130.2 126.9 126.4 124.6 123.6 122.0 C120.8 119.4 117.8 116.0 115.1 113.5 C112.4 111.0 108.5 108.6 107.5 106.9 C106.5 105.1 107.8 103.7 109.1 102.9 Z" fill="none" stroke="#169016" stroke-width="1.5"/>
<path d="M86.7 98.1 C86.1 98.9 86.8 104.4 87.9 107.3 C88.9 110.1 91.2 112.9 93.1 115.3 C94.9 117.6 96.7 118.9 99.1 121.3 C101.4 123.6 104.9 126.3 107.1 129.3 C109.3 132.3 111.3 136.0 112.3 139.3 C113.3 142.6 113.3 145.8 113.1 149.3 C112.8 152.8 110.9 157.0 110.7 160.5 C110.4 164.0 111.0 167.9 111.5 170.5 C112.0 173.1 112.9 175.5 113.7 176.1 C114.5 176.7 115.1 175.3 116.3 174.1 C117.4 172.9 119.2 171.2 120.7 168.9 C122.1 166.6 123.9 163.8 125.1 160.5 C126.3 157.2 127.4 153.1 127.9 149.3 C128.3 145.5 128.3 141.2 127.9 137.7 C127.4 134.2 126.3 130.2 125.1 128.1 C123.9 125.9 122.8 126.8 120.7 124.9 C118.5 122.9 114.6 118.7 112.3 116.5 C109.9 114.2 108.9 112.5 106.7 111.3 C104.5 110.1 101.7 110.8 99.1 109.3 C96.5 107.7 93.1 103.9 91.1 102.1 C89.0 100.2 87.2 97.2 86.7 98.1 Z" fill="none" stroke="#169016" stroke-width="1.5"/>
<path d="M125.1 182.1 C125.5 181.0 126.4 179.8 127.5 179.3 C128.5 178.8 130.3 178.5 131.5 178.9 C132.7 179.3 134.1 180.5 134.7 181.7 C135.3 182.9 135.5 184.9 135.1 186.1 C134.7 187.4 133.5 188.8 132.3 189.3 C131.1 189.9 129.1 189.9 127.9 189.3 C126.7 188.8 125.5 187.3 125.1 186.1 C124.6 184.9 124.7 183.2 125.1 182.1 Z" fill="none" stroke="#169016" stroke-width="1.5"/>
<path d="M204.3 102.1 C205.2 99.2 206.9 95.8 208.7 93.7 C210.6 91.5 213.8 89.6 215.5 89.3 C217.3 88.9 218.9 90.2 219.1 91.7 C219.4 93.1 218.4 96.1 217.1 98.1 C215.9 100.1 213.1 101.8 211.5 103.7 C210.0 105.5 208.2 107.1 207.9 109.3 C207.7 111.4 208.9 113.9 209.9 116.5 C211.0 119.1 213.3 122.1 214.3 124.9 C215.3 127.6 216.0 130.5 215.9 132.9 C215.9 135.2 214.9 138.2 213.9 138.9 C213.0 139.6 211.1 138.7 210.3 137.3 C209.5 135.9 209.9 133.2 209.1 130.5 C208.4 127.7 206.9 124.1 205.9 120.9 C205.0 117.6 203.8 114.0 203.5 110.9 C203.3 107.7 203.5 104.9 204.3 102.1 Z" fill="none" stroke="#169016" stroke-width="1.5"/>
<path d="M113.0 33.4 C113.2 32.1 113.3 29.3 115.1 27.7 C116.8 26.2 120.3 25.1 123.6 24.2 C126.9 23.2 132.1 22.2 134.9 22.1 C137.8 21.9 139.1 22.6 140.6 23.5 C142.1 24.4 144.4 26.4 144.1 27.7 C143.9 29.0 141.7 30.5 139.2 31.3 C136.7 32.1 132.5 32.1 129.2 32.7 C125.9 33.3 122.0 34.4 119.4 34.8 C116.8 35.3 114.7 35.8 113.7 35.5 C112.6 35.3 112.7 34.7 113.0 33.4 Z" fill="none" stroke="#169016" stroke-width="1.5"/>
<path d="M89.1 70.8 C89.0 68.6 89.1 65.0 89.5 62.8 C89.9 60.7 90.8 58.6 91.5 58.0 C92.1 57.5 93.1 58.2 93.5 59.6 C93.9 61.1 94.1 64.3 93.9 66.8 C93.7 69.4 92.9 73.2 92.3 74.8 C91.6 76.5 90.4 77.1 89.9 76.5 C89.3 75.8 89.1 73.1 89.1 70.8 Z" fill="none" stroke="#169016" stroke-width="1.5"/>
<path d="M90.3 20.8 C90.6 20.0 91.8 18.6 92.7 18.4 C93.5 18.2 94.9 18.9 95.5 19.6 C96.0 20.4 96.3 22.0 95.9 22.8 C95.5 23.6 93.9 24.4 93.1 24.4 C92.2 24.5 91.1 23.8 90.7 23.2 C90.2 22.6 89.9 21.6 90.3 20.8 Z" fill="none" stroke="#169016" stroke-width="1.5"/>
<path d="M220.7 82.0 C221.1 81.2 222.1 80.3 222.7 80.5 C223.3 80.6 224.3 81.9 224.3 82.8 C224.3 83.8 223.3 85.7 222.7 86.1 C222.1 86.5 221.1 85.9 220.7 85.3 C220.4 84.6 220.4 82.9 220.7 82.0 Z" fill="none" stroke="#169016" stroke-width="1.5"/>
<path d="M247.0 283.4 C248.5 282.3 251.4 280.2 255.0 279.4 C258.7 278.6 265.1 278.3 269.1 278.4 C273.1 278.6 277.3 279.6 279.1 280.4 C281.0 281.3 281.1 282.4 280.1 283.4 C279.1 284.4 276.3 285.5 273.1 286.5 C269.9 287.5 264.7 289.2 261.0 289.5 C257.4 289.8 253.5 289.1 251.0 288.5 C248.5 287.9 246.6 286.6 245.9 285.8 C245.3 284.9 245.5 284.4 247.0 283.4 Z" fill="none" stroke="#169016" stroke-width="1.5"/>
<path d="M292.2 280.4 C293.3 279.6 297.7 279.3 301.2 278.4 C304.7 277.6 309.3 276.0 313.2 275.4 C317.1 274.7 322.5 273.5 324.4 274.6 C326.3 275.6 326.9 280.5 324.4 281.8 C321.9 283.1 313.1 282.0 309.2 282.4 C305.3 282.9 303.7 284.3 301.2 284.5 C298.7 284.6 295.7 284.0 294.2 283.4 C292.7 282.7 291.0 281.3 292.2 280.4 Z" fill="none" stroke="#169016" stroke-width="1.5"/>
<path d="M222.9 290.5 C223.7 289.7 227.1 288.4 228.9 287.9 C230.8 287.4 232.9 287.1 233.9 287.5 C234.9 287.9 235.6 289.6 234.9 290.5 C234.3 291.4 231.7 292.8 229.9 293.1 C228.2 293.5 225.7 292.9 224.5 292.5 C223.4 292.1 222.2 291.3 222.9 290.5 Z" fill="none" stroke="#169016" stroke-width="1.5"/>
<path d="M166.7 299.0 C163.0 298.0 173.4 294.8 176.7 293.8 C180.0 292.7 183.7 292.4 186.7 292.6 C189.7 292.7 192.7 293.4 194.7 294.6 C196.7 295.8 203.4 299.0 198.7 299.8 C194.1 300.5 170.4 300.0 166.7 299.0 Z" fill="none" stroke="#169016" stroke-width="1.5"/>
<path d="M304.0 6.8 C304.4 6.5 305.5 5.5 306.8 5.2 C308.1 4.9 310.3 4.6 312.0 5.2 C313.7 5.8 315.5 8.7 316.8 8.8 C318.1 8.9 318.9 7.1 319.6 6.0 C320.3 4.9 320.9 2.7 321.2 2.0" fill="none" stroke="#169016" stroke-width="1.5"/>
<path d="M304.0 6.8 C304.2 7.9 304.3 10.9 305.2 13.2 C306.1 15.5 307.6 18.5 309.2 20.4 C310.8 22.4 312.8 23.9 314.8 24.8 C316.8 25.8 320.1 25.8 321.2 26.0" fill="none" stroke="#169016" stroke-width="1.5"/>
<path d="M321.2 12.8 C320.5 13.0 318.3 13.1 317.2 14.0 C316.1 14.9 314.7 16.6 314.8 18.0 C314.9 19.5 316.9 21.9 318.0 22.8 C319.1 23.8 320.7 23.5 321.2 23.6" fill="none" stroke="#169016" stroke-width="1.5"/>
<rect x="79.1" y="89.7" width="15.2" height="9.6" fill="#fff"/><text x="86.7" y="98.3" font-size="10.5" fill="#169016" text-anchor="middle">15</text>
<rect x="96.3" y="96.9" width="15.2" height="9.6" fill="#fff"/><text x="103.9" y="105.5" font-size="10.5" fill="#169016" text-anchor="middle">30</text>
<rect x="182.3" y="62.0" width="15.2" height="9.6" fill="#fff"/><text x="189.9" y="70.6" font-size="10.5" fill="#169016" text-anchor="middle">30</text>
<rect x="202.3" y="121.7" width="15.2" height="9.6" fill="#fff"/><text x="209.9" y="130.3" font-size="10.5" fill="#169016" text-anchor="middle">30</text>
<rect x="139.5" y="204.1" width="15.2" height="9.6" fill="#fff"/><text x="147.1" y="212.7" font-size="10.5" fill="#169016" text-anchor="middle">30</text>
<rect x="99.1" y="211.7" width="15.2" height="9.6" fill="#fff"/><text x="106.7" y="220.3" font-size="10.5" fill="#169016" text-anchor="middle">15</text>
<rect x="219.1" y="211.7" width="15.2" height="9.6" fill="#fff"/><text x="226.7" y="220.3" font-size="10.5" fill="#169016" text-anchor="middle">15</text>
<rect x="146.3" y="106.8" width="8.0" height="9" fill="#fff"/><text x="150.3" y="114.7" font-size="9.5" fill="#333" text-anchor="middle">2</text>
<rect x="139.5" y="197.2" width="8.0" height="9" fill="#fff"/><text x="143.5" y="205.1" font-size="9.5" fill="#333" text-anchor="middle">2</text>
<rect x="128.7" y="220.8" width="8.0" height="9" fill="#fff"/><text x="132.7" y="228.7" font-size="9.5" fill="#333" text-anchor="middle">4</text>
</g>
<rect x="0" y="0" width="320.5" height="297.0" fill="none" stroke="#000" stroke-width="2.1"/>
<line x1="-4.2" x2="0" y1="0.0" y2="0.0" stroke="#000" stroke-width="1.3"/>
<text x="-6" y="3.3" font-size="9" font-weight="bold" text-anchor="end" textLength="15.4" lengthAdjust="spacingAndGlyphs">15N</text>
<line x1="-4.2" x2="0" y1="19.8" y2="19.8" stroke="#000" stroke-width="1.3"/>
<text x="-6" y="23.1" font-size="9" font-weight="bold" text-anchor="end" textLength="15.4" lengthAdjust="spacingAndGlyphs">10N</text>
<line x1="-4.2" x2="0" y1="39.6" y2="39.6" stroke="#000" stroke-width="1.3"/>
<text x="-6" y="42.9" font-size="9" font-weight="bold" text-anchor="end" textLength="10.8" lengthAdjust="spacingAndGlyphs">5N</text>
<line x1="-4.2" x2="0" y1="59.4" y2="59.4" stroke="#000" stroke-width="1.3"/>
<text x="-6" y="62.7" font-size="9" font-weight="bold" text-anchor="end" textLength="10.8" lengthAdjust="spacingAndGlyphs">EQ</text>
<line x1="-4.2" x2="0" y1="79.2" y2="79.2" stroke="#000" stroke-width="1.3"/>
<text x="-6" y="82.5" font-size="9" font-weight="bold" text-anchor="end" textLength="10.8" lengthAdjust="spacingAndGlyphs">5S</text>
<line x1="-4.2" x2="0" y1="99.0" y2="99.0" stroke="#000" stroke-width="1.3"/>
<text x="-6" y="102.3" font-size="9" font-weight="bold" text-anchor="end" textLength="15.4" lengthAdjust="spacingAndGlyphs">10S</text>
<line x1="-4.2" x2="0" y1="118.8" y2="118.8" stroke="#000" stroke-width="1.3"/>
<text x="-6" y="122.1" font-size="9" font-weight="bold" text-anchor="end" textLength="15.4" lengthAdjust="spacingAndGlyphs">15S</text>
<line x1="-4.2" x2="0" y1="138.6" y2="138.6" stroke="#000" stroke-width="1.3"/>
<text x="-6" y="141.9" font-size="9" font-weight="bold" text-anchor="end" textLength="15.4" lengthAdjust="spacingAndGlyphs">20S</text>
<line x1="-4.2" x2="0" y1="158.4" y2="158.4" stroke="#000" stroke-width="1.3"/>
<text x="-6" y="161.7" font-size="9" font-weight="bold" text-anchor="end" textLength="15.4" lengthAdjust="spacingAndGlyphs">25S</text>
<line x1="-4.2" x2="0" y1="178.2" y2="178.2" stroke="#000" stroke-width="1.3"/>
<text x="-6" y="181.5" font-size="9" font-weight="bold" text-anchor="end" textLength="15.4" lengthAdjust="spacingAndGlyphs">30S</text>
<line x1="-4.2" x2="0" y1="198.0" y2="198.0" stroke="#000" stroke-width="1.3"/>
<text x="-6" y="201.3" font-size="9" font-weight="bold" text-anchor="end" textLength="15.4" lengthAdjust="spacingAndGlyphs">35S</text>
<line x1="-4.2" x2="0" y1="217.8" y2="217.8" stroke="#000" stroke-width="1.3"/>
<text x="-6" y="221.1" font-size="9" font-weight="bold" text-anchor="end" textLength="15.4" lengthAdjust="spacingAndGlyphs">40S</text>
<line x1="-4.2" x2="0" y1="237.6" y2="237.6" stroke="#000" stroke-width="1.3"/>
<text x="-6" y="240.9" font-size="9" font-weight="bold" text-anchor="end" textLength="15.4" lengthAdjust="spacingAndGlyphs">45S</text>
<line x1="-4.2" x2="0" y1="257.4" y2="257.4" stroke="#000" stroke-width="1.3"/>
<text x="-6" y="260.7" font-size="9" font-weight="bold" text-anchor="end" textLength="15.4" lengthAdjust="spacingAndGlyphs">50S</text>
<line x1="-4.2" x2="0" y1="277.2" y2="277.2" stroke="#000" stroke-width="1.3"/>
<text x="-6" y="280.5" font-size="9" font-weight="bold" text-anchor="end" textLength="15.4" lengthAdjust="spacingAndGlyphs">55S</text>
<line x1="-4.2" x2="0" y1="297.0" y2="297.0" stroke="#000" stroke-width="1.3"/>
<text x="-6" y="300.3" font-size="9" font-weight="bold" text-anchor="end" textLength="15.4" lengthAdjust="spacingAndGlyphs">60S</text>
<line y1="297.0" y2="300.5" x1="4.3" x2="4.3" stroke="#000" stroke-width="1.3"/>
<text x="-6.2" y="307.5" font-size="9" font-weight="bold" textLength="21.8" lengthAdjust="spacingAndGlyphs">100W</text>
<line y1="297.0" y2="300.5" x1="40.0" x2="40.0" stroke="#000" stroke-width="1.3"/>
<text x="32.1" y="307.5" font-size="9" font-weight="bold" textLength="16.6" lengthAdjust="spacingAndGlyphs">90W</text>
<line y1="297.0" y2="300.5" x1="75.7" x2="75.7" stroke="#000" stroke-width="1.3"/>
<text x="67.8" y="307.5" font-size="9" font-weight="bold" textLength="16.6" lengthAdjust="spacingAndGlyphs">80W</text>
<line y1="297.0" y2="300.5" x1="111.4" x2="111.4" stroke="#000" stroke-width="1.3"/>
<text x="103.5" y="307.5" font-size="9" font-weight="bold" textLength="16.6" lengthAdjust="spacingAndGlyphs">70W</text>
<line y1="297.0" y2="300.5" x1="147.1" x2="147.1" stroke="#000" stroke-width="1.3"/>
<text x="139.2" y="307.5" font-size="9" font-weight="bold" textLength="16.6" lengthAdjust="spacingAndGlyphs">60W</text>
<line y1="297.0" y2="300.5" x1="182.8" x2="182.8" stroke="#000" stroke-width="1.3"/>
<text x="174.9" y="307.5" font-size="9" font-weight="bold" textLength="16.6" lengthAdjust="spacingAndGlyphs">50W</text>
<line y1="297.0" y2="300.5" x1="218.5" x2="218.5" stroke="#000" stroke-width="1.3"/>
<text x="210.6" y="307.5" font-size="9" font-weight="bold" textLength="16.6" lengthAdjust="spacingAndGlyphs">40W</text>
<line y1="297.0" y2="300.5" x1="254.2" x2="254.2" stroke="#000" stroke-width="1.3"/>
<text x="246.3" y="307.5" font-size="9" font-weight="bold" textLength="16.6" lengthAdjust="spacingAndGlyphs">30W</text>
<line y1="297.0" y2="300.5" x1="289.9" x2="289.9" stroke="#000" stroke-width="1.3"/>
<text x="282.0" y="307.5" font-size="9" font-weight="bold" textLength="16.6" lengthAdjust="spacingAndGlyphs">20W</text>
</g>
<text x="107.0" y="128.2" font-size="18.4" textLength="70.3" lengthAdjust="spacing">cluster:</text>
<text x="194.5" y="128.2" font-size="18.4" text-anchor="middle">1</text>
<text x="223.9" y="128.2" font-size="18.4" textLength="92.5" lengthAdjust="spacing">membros:</text>
<text x="334.8" y="128.2" font-size="18.4" text-anchor="middle">5</text>
<g transform="translate(522.10,139.20)">
<g clip-path="url(#clip)">
<rect x="-2" y="-2" width="324.5" height="301.0" fill="#1E50D2"/>
<path d="M-13.1 287.7 C-7.4 287.8 10.3 288.0 21.0 288.3 C31.7 288.6 41.1 288.9 51.1 289.3 C61.1 289.7 71.2 290.9 81.2 290.9 C91.3 290.9 102.3 290.2 111.3 289.3 C120.4 288.4 128.1 287.3 135.4 285.3 C142.7 283.3 148.3 278.9 154.9 277.2 C161.5 275.6 168.3 276.2 175.0 275.2 C181.7 274.2 188.3 272.6 195.0 271.2 C201.7 269.9 208.4 268.5 215.1 267.2 C221.8 265.9 228.5 264.4 235.2 263.2 C241.9 262.0 248.6 260.9 255.2 260.2 C261.9 259.5 268.6 259.3 275.3 259.2 C282.0 259.0 286.0 259.0 295.4 259.2 C304.8 259.3 325.5 260.0 331.5 260.2 L331.5 -20 L-13.1 -20 Z" fill="#1464D2"/>
<path d="M-3.8 268.2 C0.3 268.4 13.2 269.2 20.6 269.4 C28.0 269.5 34.0 269.2 40.6 269.0 C47.3 268.8 54.6 268.2 60.6 268.2 C66.6 268.2 71.6 268.4 76.7 269.0 C81.7 269.5 85.9 270.3 90.7 271.4 C95.4 272.4 101.3 274.3 105.1 275.4 C108.9 276.4 110.4 277.5 113.5 277.8 C116.5 278.0 119.7 277.9 123.5 277.0 C127.2 276.0 131.4 273.6 135.9 272.2 C140.4 270.7 143.8 269.7 150.3 268.2 C156.8 266.7 167.5 264.0 175.0 263.2 C182.4 262.4 188.3 264.2 195.0 263.2 C201.7 262.2 208.4 258.9 215.1 257.2 C221.8 255.5 228.5 254.5 235.2 253.2 C241.9 251.8 248.6 250.3 255.2 249.2 C261.9 248.0 268.6 246.8 275.3 246.1 C282.0 245.5 286.0 245.5 295.4 245.1 C304.8 244.8 325.5 244.3 331.5 244.1 L331.5 -20 L-3.8 -20 Z" fill="#1E6EEB"/>
<path d="M-3.8 242.2 C0.3 242.3 13.2 242.8 20.6 243.3 C28.0 243.9 34.0 244.7 40.6 245.3 C47.3 246.0 54.6 247.3 60.6 247.3 C66.6 247.3 72.6 245.4 76.7 245.3 C80.7 245.3 82.7 246.9 85.1 246.9 C87.4 247.0 88.8 247.0 90.7 245.8 C92.5 244.5 94.1 240.8 96.3 239.3 C98.4 237.9 101.5 236.9 103.5 237.3 C105.5 237.8 107.1 239.7 108.3 242.2 C109.5 244.6 110.4 248.8 110.7 252.2 C110.9 255.5 109.2 259.6 109.9 262.2 C110.5 264.8 112.4 266.7 114.7 267.8 C116.9 268.8 120.4 268.8 123.5 268.6 C126.5 268.3 129.5 267.2 133.1 266.2 C136.6 265.1 137.7 264.3 144.7 262.2 C151.7 260.0 166.6 254.8 175.0 253.2 C183.4 251.5 188.3 253.2 195.0 252.2 C201.7 251.2 208.4 248.6 215.1 247.1 C221.8 245.6 229.5 245.1 235.2 243.1 C240.9 241.1 244.5 236.8 249.2 235.1 C253.9 233.4 257.6 232.9 263.3 233.1 C269.0 233.3 277.3 235.8 283.4 236.1 C289.4 236.4 291.4 235.4 299.4 235.1 C307.4 234.8 326.2 234.3 331.5 234.1 L331.5 -20 L-3.8 -20 Z" fill="#3C96F5"/>
<path d="M-3.8 222.1 C0.3 221.9 11.5 221.1 20.6 220.9 C29.7 220.7 42.3 220.3 50.6 220.9 C59.0 221.5 64.9 223.8 70.7 224.5 C76.4 225.3 81.5 224.7 85.1 225.3 C88.7 225.9 89.9 227.5 92.3 228.1 C94.6 228.8 96.7 228.4 99.1 229.3 C101.4 230.3 104.3 231.8 106.3 233.7 C108.2 235.7 109.7 238.6 110.7 240.9 C111.6 243.3 111.2 245.4 111.9 247.8 C112.5 250.1 113.5 253.4 114.7 255.0 C115.9 256.5 117.4 257.0 119.1 257.0 C120.7 257.0 122.3 256.2 124.7 255.0 C127.0 253.7 130.0 251.2 133.1 249.3 C136.1 247.5 139.8 245.4 143.1 243.8 C146.4 242.1 149.1 240.8 153.1 239.3 C157.1 237.9 162.3 234.5 166.9 235.1 C171.6 235.7 177.0 242.1 181.0 243.1 C185.0 244.1 187.7 242.5 191.0 241.1 C194.4 239.8 197.7 237.3 201.1 235.1 C204.4 232.9 207.4 229.6 211.1 228.1 C214.8 226.6 217.8 226.6 223.1 226.1 C228.5 225.6 237.9 225.6 243.2 225.1 C248.6 224.6 251.2 222.9 255.2 223.1 C259.3 223.2 262.6 225.2 267.3 226.1 C272.0 226.9 278.0 228.1 283.4 228.1 C288.7 228.1 291.4 226.6 299.4 226.1 C307.4 225.6 326.2 225.2 331.5 225.1 L331.5 -20 L-3.8 -20 Z" fill="#78B9FA"/>
<path d="M-13.1 203.4 C-10.8 203.4 -4.7 203.2 0.9 203.4 C6.6 203.6 14.3 204.2 21.0 204.6 C27.7 205.0 34.7 205.6 41.1 206.0 C47.4 206.4 54.1 207.0 59.1 207.0 C64.2 207.0 67.8 207.0 71.2 206.0 C74.5 205.0 76.9 203.2 79.2 201.0 C81.6 198.8 83.4 196.0 85.2 192.9 C87.1 189.9 89.1 185.9 90.2 182.9 C91.4 179.9 91.8 177.1 92.3 174.9 C92.8 172.7 92.8 169.5 93.3 169.9 C93.7 170.2 94.5 174.0 94.9 176.9 C95.3 179.7 95.9 183.6 95.7 186.9 C95.5 190.3 94.1 193.6 93.7 197.0 C93.3 200.3 93.0 204.0 93.3 207.0 C93.5 210.0 94.1 213.2 95.3 215.0 C96.4 216.9 97.3 217.0 100.3 218.0 C103.3 219.0 110.6 219.5 113.3 221.1 C116.1 222.6 116.6 224.7 116.9 227.1 C117.3 229.4 115.4 232.6 115.3 235.1 C115.2 237.6 115.5 240.1 116.3 242.1 C117.2 244.1 118.9 246.2 120.4 247.1 C121.8 248.1 123.1 248.6 125.0 247.7 C126.8 246.9 129.0 243.7 131.4 242.1 C133.8 240.5 136.4 240.0 139.4 238.1 C142.4 236.3 146.9 233.9 149.5 231.1 C152.0 228.3 152.7 223.5 154.9 221.4 C157.1 219.4 160.6 218.6 162.9 219.0 C165.3 219.5 166.6 222.4 168.9 224.1 C171.3 225.7 174.3 228.3 177.0 229.1 C179.7 229.8 182.0 229.5 185.0 228.7 C188.0 227.8 191.4 225.7 195.0 224.1 C198.7 222.5 203.1 220.5 207.1 219.0 C211.1 217.5 214.4 216.0 219.1 215.0 C223.8 214.0 230.2 213.3 235.2 213.0 C240.2 212.8 244.5 212.9 249.2 213.4 C253.9 213.9 258.9 215.3 263.3 216.0 C267.6 216.8 270.6 217.7 275.3 218.0 C280.0 218.4 286.7 218.5 291.4 218.0 C296.1 217.5 298.7 215.9 303.4 215.0 C308.1 214.2 314.8 213.4 319.5 213.0 C324.2 212.6 329.5 212.7 331.5 212.6 L331.5 -20 L-13.1 -20 Z" fill="#FFE878"/>
<path d="M-3.8 189.7 C0.3 189.7 13.2 189.7 20.6 189.7 C28.0 189.8 35.0 190.2 40.6 190.1 C46.3 190.1 52.1 190.9 54.6 189.3 C57.2 187.8 56.8 183.3 55.8 180.9 C54.9 178.5 49.9 176.9 49.0 174.9 C48.2 172.9 48.7 170.9 50.6 168.9 C52.6 166.9 58.1 165.2 60.6 162.9 C63.2 160.6 64.8 158.2 65.8 154.9 C66.9 151.6 67.2 146.6 67.0 143.3 C66.8 140.0 66.0 137.6 64.6 135.3 C63.2 133.0 61.0 131.3 58.6 129.3 C56.3 127.3 52.3 125.1 50.6 123.3 C49.0 121.5 48.3 119.9 48.6 118.5 C49.0 117.1 51.0 115.2 52.6 114.9 C54.3 114.5 56.3 114.9 58.6 116.5 C61.0 118.1 63.6 122.0 66.6 124.5 C69.6 126.9 73.3 129.5 76.7 131.3 C80.0 133.1 83.3 133.3 86.7 135.3 C90.1 137.3 94.3 140.7 97.1 143.3 C99.8 145.9 102.1 147.6 103.1 150.9 C104.1 154.2 102.9 158.6 103.1 162.9 C103.2 167.2 103.2 172.9 103.9 176.9 C104.5 180.9 105.9 183.6 107.1 186.9 C108.3 190.3 109.9 193.3 111.1 196.9 C112.2 200.6 113.1 205.5 113.9 208.9 C114.7 212.3 115.0 214.9 115.9 217.3 C116.7 219.7 118.1 221.3 119.1 223.3 C120.1 225.3 120.6 227.5 121.9 229.3 C123.1 231.1 125.1 233.6 126.7 234.1 C128.3 234.7 129.4 233.7 131.5 232.5 C133.5 231.4 136.2 229.3 139.1 227.3 C142.0 225.3 145.8 222.6 149.1 220.5 C152.4 218.5 156.5 216.9 159.1 214.9 C161.7 213.0 162.3 209.0 164.9 209.0 C167.6 209.0 172.3 213.9 175.0 215.0 C177.6 216.2 179.0 217.0 181.0 216.0 C183.0 215.0 184.7 211.0 187.0 209.0 C189.4 207.0 191.7 205.7 195.0 204.0 C198.4 202.3 202.7 199.8 207.1 199.0 C211.4 198.1 216.4 198.8 221.1 199.0 C225.8 199.1 230.5 199.5 235.2 200.0 C239.9 200.5 244.5 201.5 249.2 202.0 C253.9 202.5 258.9 203.3 263.3 203.0 C267.6 202.6 270.6 201.0 275.3 200.0 C280.0 199.0 286.7 197.5 291.4 197.0 C296.1 196.4 296.7 196.7 303.4 196.6 C310.1 196.4 326.8 196.1 331.5 196.0 L331.5 -20 L-3.8 -20 Z" fill="#FFC03C"/>
<path d="M-3.8 116.9 C-1.7 115.3 5.2 110.1 8.6 107.3 C12.0 104.5 13.6 102.1 16.6 100.1 C19.6 98.0 22.6 96.0 26.6 94.9 C30.6 93.7 36.6 94.1 40.6 93.3 C44.6 92.5 48.0 91.9 50.6 90.1 C53.3 88.2 56.4 84.9 56.6 82.0 C56.8 79.2 52.2 75.6 51.8 73.2 C51.5 70.9 52.8 69.1 54.6 68.0 C56.4 67.0 60.2 66.5 62.6 66.8 C65.0 67.2 67.6 68.0 69.0 70.0 C70.5 72.1 69.7 76.8 71.0 79.2 C72.4 81.7 75.2 83.9 77.0 84.9 C78.8 85.9 80.5 84.2 81.8 85.3 C83.2 86.3 83.9 88.3 85.1 91.3 C86.3 94.2 87.3 98.9 89.1 102.9 C90.8 106.8 93.2 110.9 95.5 114.9 C97.7 118.9 100.3 123.2 102.7 126.9 C105.0 130.5 107.8 132.9 109.5 136.9 C111.1 140.9 112.5 145.9 112.7 150.9 C112.9 155.9 111.3 162.2 110.7 166.9 C110.0 171.6 108.7 174.9 108.7 178.9 C108.7 182.9 109.9 186.2 110.7 190.9 C111.5 195.6 112.7 202.6 113.5 206.9 C114.3 211.3 114.7 214.3 115.5 216.9 C116.2 219.6 116.8 221.1 117.9 222.9 C118.9 224.7 120.3 226.5 121.9 227.7 C123.5 228.9 125.7 230.3 127.5 230.1 C129.3 230.0 130.5 228.1 132.7 226.9 C134.9 225.8 138.0 225.0 140.7 223.3 C143.4 221.7 146.0 219.2 149.1 216.9 C152.2 214.7 156.0 211.3 159.1 209.7 C162.2 208.2 164.9 207.9 167.5 207.7 C170.1 207.5 173.1 211.7 174.7 208.5 C176.3 205.4 174.9 191.9 177.0 188.9 C179.0 186.0 184.0 190.9 187.0 190.9 C190.0 190.9 191.7 190.1 195.0 188.9 C198.4 187.8 202.7 185.3 207.1 183.9 C211.4 182.6 216.4 181.7 221.1 180.9 C225.8 180.1 230.5 179.6 235.2 178.9 C239.9 178.2 244.5 176.9 249.2 176.9 C253.9 176.9 258.9 177.9 263.3 178.9 C267.6 179.9 270.6 182.6 275.3 182.9 C280.0 183.2 286.7 182.2 291.4 180.9 C296.1 179.6 300.1 176.6 303.4 174.9 C306.8 173.2 306.8 171.8 311.4 170.9 C316.1 169.9 328.2 169.5 331.5 169.3 L331.5 -20 L-3.8 -20 Z" fill="#FFA000"/>
<path d="M-3.8 48.8 C0.3 49.6 13.2 52.6 20.6 53.6 C28.0 54.7 34.0 54.9 40.6 55.2 C47.3 55.6 55.9 55.2 60.6 55.6 C65.4 56.1 67.0 56.4 69.0 58.0 C71.1 59.6 71.9 62.4 72.7 65.2 C73.4 68.1 72.9 72.4 73.5 75.2 C74.0 78.1 74.8 80.5 75.8 82.0 C76.8 83.6 77.9 82.9 79.5 84.5 C81.0 86.0 83.5 88.2 85.1 91.3 C86.7 94.3 87.3 98.9 89.1 102.9 C90.8 106.8 93.2 110.9 95.5 114.9 C97.7 118.9 100.3 123.2 102.7 126.9 C105.0 130.5 107.8 132.9 109.5 136.9 C111.1 140.9 112.3 145.9 112.7 150.9 C113.0 155.9 111.9 162.2 111.5 166.9 C111.0 171.6 109.8 174.9 109.9 178.9 C109.9 182.9 111.1 186.2 111.9 190.9 C112.7 195.6 113.8 202.8 114.7 206.9 C115.5 211.1 116.1 213.4 117.1 215.7 C118.0 218.1 118.7 219.6 120.3 220.9 C121.9 222.3 124.7 223.7 126.7 223.7 C128.7 223.8 129.7 222.5 132.3 221.3 C134.8 220.2 138.8 218.6 141.9 216.9 C145.0 215.3 147.8 213.5 150.7 211.3 C153.6 209.2 156.0 206.6 159.1 204.1 C162.2 201.7 166.0 199.1 169.1 196.5 C172.2 193.9 175.2 190.9 177.5 188.5 C179.8 186.1 181.4 184.6 183.1 182.1 C184.8 179.6 186.1 176.0 187.5 173.7 C188.9 171.4 189.0 169.4 191.5 168.1 C194.1 166.8 198.9 166.2 202.7 165.7 C206.5 165.2 210.3 165.4 214.3 165.3 C218.3 165.2 221.6 165.8 226.7 165.3 C231.9 164.8 239.4 163.0 245.2 162.1 C250.9 161.2 257.2 161.3 261.2 160.1 C265.2 158.9 267.5 156.4 269.2 154.9 C270.8 153.4 270.8 153.5 271.2 150.9 C271.5 148.3 270.5 142.9 271.2 139.3 C271.8 135.7 274.5 132.3 275.2 129.3 C275.8 126.3 274.2 123.4 275.2 121.3 C276.2 119.1 278.2 118.1 281.2 116.5 C284.2 114.8 289.8 113.1 293.2 111.3 C296.5 109.4 298.8 107.9 301.2 105.3 C303.5 102.6 304.9 97.8 307.2 95.3 C309.5 92.7 312.3 91.3 315.2 90.1 C318.1 88.9 322.9 88.4 324.4 88.1 L324.4 -20 L-3.8 -20 Z" fill="#FF6400"/>
<path d="M-3.8 -7.2 C-1.4 -12.1 8.1 -8.9 10.6 -7.2 C13.1 -5.5 11.1 0.3 11.0 2.8 C10.9 5.3 10.7 5.7 10.2 7.6 C9.7 9.5 9.1 12.1 7.8 14.0 C6.5 15.9 4.5 17.5 2.6 18.8 C0.7 20.2 -2.7 26.4 -3.8 22.0 C-4.9 17.7 -6.2 -2.3 -3.8 -7.2 Z" fill="#FF3200"/>
<path d="M39.8 9.2 C40.8 8.7 45.8 9.7 48.6 10.8 C51.4 11.9 55.1 14.7 56.6 16.0 C58.2 17.3 58.8 18.5 57.8 18.8 C56.8 19.2 53.2 18.8 50.6 18.0 C48.1 17.2 44.4 15.5 42.6 14.0 C40.8 12.5 38.8 9.7 39.8 9.2 Z" fill="#FF3200"/>
<path d="M67.8 -4.4 C83.1 -7.3 147.5 -6.3 163.0 -4.4 C178.6 -2.5 161.0 3.6 161.0 6.8 C161.0 10.0 161.5 10.8 163.0 14.8 C164.5 18.8 167.3 25.5 169.8 30.8 C172.3 36.2 180.6 42.8 177.8 46.8 C175.0 50.8 165.1 53.5 153.0 54.8 C140.9 56.2 117.3 59.8 105.0 54.8 C92.6 49.8 84.6 31.8 79.0 24.8 C73.3 17.8 72.8 17.7 71.0 12.8 C69.1 7.9 52.4 -1.5 67.8 -4.4 Z" fill="#FF3200"/>
<path d="M154.9 -1.2 C155.7 -9.9 159.1 -2.8 159.9 -1.2 C160.8 0.5 158.4 6.2 159.9 8.9 C161.4 11.5 165.4 14.6 168.9 14.9 C172.5 15.2 177.6 12.2 181.0 10.9 C184.3 9.5 185.7 6.9 189.0 6.9 C192.4 6.9 197.0 9.2 201.1 10.9 C205.1 12.5 209.3 14.7 213.1 16.9 C217.0 19.1 222.5 22.2 224.1 23.9 C225.8 25.7 225.0 27.0 223.1 27.3 C221.3 27.7 216.8 27.0 213.1 25.9 C209.4 24.9 205.1 21.7 201.1 20.9 C197.0 20.1 192.2 20.4 189.0 20.9 C185.8 21.4 183.5 22.2 182.0 23.9 C180.5 25.6 179.5 28.4 180.0 30.9 C180.5 33.4 182.8 36.3 185.0 39.0 C187.2 41.6 190.9 45.0 193.0 47.0 C195.2 49.0 196.2 50.5 198.1 51.0 C199.9 51.5 202.8 49.5 204.1 50.0 C205.3 50.5 206.1 52.9 205.5 54.0 C204.8 55.2 198.5 54.2 200.1 57.0 C201.7 59.9 215.9 68.7 215.1 71.1 C214.3 73.4 205.1 74.4 195.0 71.1 C185.0 67.7 161.6 63.1 154.9 51.0 C148.2 39.0 154.1 7.5 154.9 -1.2 Z" fill="#FF3200"/>
<path d="M227.2 37.0 C227.3 35.8 228.2 34.3 230.2 34.0 C232.2 33.6 236.7 35.5 239.2 35.0 C241.7 34.5 243.5 32.6 245.2 30.9 C246.9 29.3 246.9 26.4 249.2 24.9 C251.6 23.4 256.3 22.1 259.3 21.9 C262.3 21.7 264.6 24.1 267.3 23.9 C270.0 23.8 272.3 22.4 275.3 20.9 C278.3 19.4 282.4 16.6 285.4 14.9 C288.4 13.2 291.7 13.5 293.4 10.9 C295.1 8.2 289.7 0.8 295.4 -1.2 C301.1 -3.2 322.2 -7.2 327.5 -1.2 C332.9 4.9 329.9 28.4 327.5 35.0 C325.2 41.5 317.5 36.6 313.5 38.0 C309.4 39.3 306.4 42.0 303.4 43.0 C300.4 44.0 297.1 45.0 295.4 44.0 C293.7 43.0 294.1 39.1 293.4 37.0 C292.7 34.8 293.1 31.6 291.4 30.9 C289.7 30.3 286.0 31.9 283.4 33.0 C280.7 34.0 278.0 36.5 275.3 37.0 C272.7 37.5 269.6 37.0 267.3 36.0 C265.0 35.0 263.3 31.4 261.3 30.9 C259.3 30.4 256.9 31.4 255.2 33.0 C253.6 34.5 253.2 38.3 251.2 40.0 C249.2 41.6 245.9 42.3 243.2 43.0 C240.5 43.6 237.5 44.3 235.2 44.0 C232.8 43.7 230.5 42.2 229.2 41.0 C227.8 39.8 227.0 38.1 227.2 37.0 Z" fill="#FF3200"/>
<path d="M220.1 47.0 C221.1 45.3 223.5 44.4 225.2 44.6 C226.8 44.8 229.2 45.9 230.2 48.0 C231.1 50.1 230.9 54.2 230.8 57.0 C230.6 59.9 230.3 63.2 229.2 65.1 C228.1 66.9 225.6 68.4 224.1 68.1 C222.6 67.7 220.9 65.2 220.1 63.1 C219.4 60.9 219.5 57.7 219.5 55.0 C219.5 52.4 219.2 48.7 220.1 47.0 Z" fill="#FF3200"/>
<path d="M238.2 69.1 C239.6 67.2 242.5 64.7 245.2 64.1 C247.9 63.4 251.9 63.9 254.2 65.1 C256.6 66.2 258.6 68.6 259.3 71.1 C259.9 73.6 259.3 77.8 258.3 80.1 C257.3 82.5 254.6 83.3 253.2 85.1 C251.9 87.0 251.1 89.0 250.2 91.2 C249.4 93.3 249.2 96.8 248.2 98.2 C247.2 99.5 245.2 100.0 244.2 99.2 C243.2 98.3 242.4 95.2 242.2 93.2 C242.0 91.2 243.7 89.1 243.2 87.1 C242.7 85.1 240.3 83.1 239.2 81.1 C238.1 79.1 237.0 77.1 236.8 75.1 C236.6 73.1 236.8 70.9 238.2 69.1 Z" fill="#FF3200"/>
<path d="M71.0 12.8 C69.7 12.5 76.4 22.0 79.0 24.8 C81.7 27.7 86.1 28.0 87.1 30.0 C88.1 32.0 86.4 33.7 85.1 36.8 C83.7 40.0 80.9 45.1 79.0 48.8 C77.2 52.6 75.2 55.5 73.8 59.2 C72.5 63.0 70.8 67.4 71.0 71.2 C71.2 75.1 73.4 79.7 75.0 82.0 C76.7 84.4 79.4 83.7 81.0 85.3 C82.7 86.8 83.7 88.3 85.1 91.3 C86.4 94.3 87.1 99.6 89.1 103.3 C91.1 106.9 94.4 110.3 97.1 113.3 C99.7 116.3 102.7 118.3 105.1 121.3 C107.4 124.3 109.7 127.9 111.1 131.3 C112.5 134.6 113.0 138.0 113.5 141.3 C113.9 144.6 113.5 146.6 113.9 150.9 C114.2 155.2 114.9 161.7 115.5 166.9 C116.0 172.1 116.9 177.2 117.1 182.1 C117.3 187.0 116.3 192.2 116.7 196.5 C117.1 200.8 118.1 204.7 119.5 207.7 C120.9 210.8 123.0 213.3 125.1 214.9 C127.1 216.6 129.3 217.5 131.9 217.7 C134.5 217.9 137.8 216.9 140.7 216.1 C143.6 215.4 146.0 215.2 149.1 213.3 C152.2 211.5 156.0 207.5 159.1 204.9 C162.2 202.3 164.4 200.3 167.5 197.7 C170.6 195.1 174.4 192.1 177.5 189.3 C180.6 186.5 183.6 183.5 185.9 180.9 C188.3 178.3 189.7 176.1 191.5 173.7 C193.4 171.3 195.3 168.6 197.1 166.5 C199.0 164.4 200.8 163.5 202.7 160.9 C204.7 158.3 206.7 153.5 208.7 150.9 C210.7 148.3 213.1 147.9 214.7 145.3 C216.4 142.7 217.7 139.3 218.7 135.3 C219.7 131.3 219.7 125.3 220.7 121.3 C221.7 117.3 223.2 114.3 224.7 111.3 C226.3 108.3 228.1 106.6 229.9 103.3 C231.8 99.9 234.6 94.9 235.9 91.3 C237.3 87.6 238.1 83.9 237.9 81.2 C237.8 78.6 236.7 76.9 235.1 75.2 C233.6 73.6 230.6 72.0 228.7 71.2 C226.9 70.5 228.2 71.7 223.9 70.8 C219.7 70.0 209.1 67.6 203.1 66.0 C197.2 64.5 191.7 63.3 188.3 61.6 C184.9 60.0 184.5 59.7 182.7 56.0 C180.9 52.4 180.6 43.4 177.5 39.6 C174.4 35.9 168.3 35.3 164.3 33.6 C160.3 32.0 157.0 31.8 153.5 29.6 C150.0 27.5 145.8 23.4 143.5 20.8 C141.2 18.2 143.4 15.0 139.9 14.0 C136.4 13.0 128.0 15.9 122.3 14.8 C116.5 13.7 110.5 7.5 105.5 7.6 C100.4 7.7 94.9 12.4 91.9 15.6 C88.8 18.8 90.5 27.3 87.1 26.8 C83.6 26.4 72.4 13.1 71.0 12.8 Z" fill="#FF3200"/>
<path d="M83.9 32.0 C86.1 29.9 91.4 28.7 95.1 28.0 C98.7 27.4 103.4 27.0 105.9 28.0 C108.3 29.0 110.0 31.7 109.9 34.0 C109.7 36.4 106.9 39.4 105.1 42.0 C103.3 44.7 101.1 47.4 99.1 50.0 C97.1 52.7 94.7 55.0 93.1 58.0 C91.4 61.0 90.3 64.7 89.1 68.0 C87.9 71.4 87.5 75.8 85.9 78.0 C84.2 80.2 80.9 82.4 79.0 81.2 C77.2 80.1 75.4 74.9 75.0 71.2 C74.7 67.6 76.2 62.9 77.0 59.2 C77.8 55.6 79.0 52.3 79.8 49.2 C80.6 46.2 81.2 43.7 81.8 40.8 C82.5 38.0 81.7 34.2 83.9 32.0 Z" fill="#FF6400"/>
<path d="M85.1 34.0 C87.1 32.2 91.7 30.7 95.1 30.0 C98.4 29.4 102.9 29.4 105.1 30.0 C107.2 30.7 108.2 32.2 107.9 34.0 C107.5 35.8 104.9 38.3 103.1 40.8 C101.3 43.4 99.1 46.5 97.1 49.2 C95.1 52.0 92.7 54.2 91.1 57.2 C89.4 60.2 88.3 63.9 87.1 67.2 C85.9 70.6 85.2 75.2 83.9 77.2 C82.5 79.2 80.4 80.2 79.0 79.2 C77.7 78.2 76.0 74.6 75.8 71.2 C75.6 67.9 77.0 62.9 77.8 59.2 C78.7 55.6 80.2 52.3 81.0 49.2 C81.9 46.2 82.4 43.4 83.0 40.8 C83.7 38.3 83.1 35.8 85.1 34.0 Z" fill="#FFA000"/>
<path d="M89.1 36.8 C91.6 34.1 96.7 33.0 99.1 32.8 C101.4 32.7 103.4 34.0 103.1 36.0 C102.7 38.1 99.3 42.0 97.1 45.2 C94.9 48.4 91.9 51.6 89.9 55.2 C87.9 58.9 86.5 64.6 85.1 67.2 C83.6 69.9 81.9 72.3 81.0 71.2 C80.2 70.2 79.4 64.9 79.8 61.2 C80.3 57.6 82.3 53.3 83.9 49.2 C85.4 45.2 86.5 39.6 89.1 36.8 Z" fill="#FFC03C"/>
<path d="M79.0 59.2 C79.7 57.2 82.0 54.9 83.0 55.2 C84.1 55.6 85.3 59.1 85.1 61.2 C84.9 63.4 82.9 67.0 81.8 68.0 C80.8 69.1 79.5 68.7 79.0 67.2 C78.6 65.8 78.4 61.2 79.0 59.2 Z" fill="#FFE878"/>
<path d="M125.1 40.8 C125.9 38.8 128.3 37.6 130.7 36.8 C133.1 36.0 136.7 35.7 139.5 36.0 C142.3 36.4 146.3 37.0 147.5 38.8 C148.7 40.6 148.0 44.7 146.7 46.8 C145.4 49.0 142.2 50.6 139.5 51.6 C136.8 52.7 132.9 53.7 130.7 53.2 C128.4 52.8 126.8 50.9 125.9 48.8 C124.9 46.8 124.3 42.8 125.1 40.8 Z" fill="#FF6400"/>
<path d="M129.5 44.0 C130.3 43.0 132.6 42.2 134.7 42.0 C136.8 41.8 140.8 41.9 141.9 42.8 C143.0 43.8 142.3 46.6 141.1 47.6 C139.9 48.7 136.6 49.2 134.7 49.2 C132.8 49.3 130.7 48.9 129.9 48.0 C129.0 47.2 128.7 45.0 129.5 44.0 Z" fill="#FFA000"/>
<path d="M106.7 15.6 C107.6 14.5 110.3 13.7 111.9 14.0 C113.5 14.3 115.8 15.8 116.3 17.2 C116.7 18.7 115.8 21.8 114.7 22.8 C113.5 23.9 110.9 24.0 109.5 23.6 C108.1 23.2 106.7 21.8 106.3 20.4 C105.8 19.1 105.7 16.7 106.7 15.6 Z" fill="#FF6400"/>
<path d="M102.7 50.8 C103.3 49.9 106.1 49.0 107.5 49.2 C108.8 49.4 110.5 51.0 110.7 52.0 C110.8 53.1 109.4 55.2 108.3 55.6 C107.1 56.1 104.8 55.6 103.9 54.8 C102.9 54.0 102.1 51.8 102.7 50.8 Z" fill="#FF6400"/>
<path d="M103.4 99.7 C103.4 98.7 105.0 100.5 107.4 100.9 C109.7 101.3 114.6 102.3 117.4 102.1 C120.2 101.8 122.7 101.4 124.2 99.3 C125.6 97.1 126.3 92.1 126.2 89.3 C126.0 86.4 125.2 83.7 123.4 82.0 C121.6 80.4 118.0 79.4 115.4 79.2 C112.7 79.1 109.6 81.5 107.4 81.2 C105.2 81.0 103.2 79.7 102.2 78.0 C101.2 76.4 100.7 73.3 101.4 71.2 C102.0 69.2 104.2 67.2 106.2 66.0 C108.2 64.8 111.8 65.2 113.4 64.0 C114.9 62.9 114.0 60.7 115.4 59.2 C116.7 57.8 119.0 55.6 121.4 55.2 C123.7 54.9 126.7 55.9 129.4 57.2 C132.1 58.6 134.9 61.4 137.4 63.2 C139.9 65.0 142.4 67.7 144.6 68.0 C146.8 68.4 149.3 67.0 150.6 65.2 C151.9 63.4 152.8 59.6 152.6 57.2 C152.4 54.9 149.3 54.2 149.4 51.2 C149.5 48.2 152.1 41.8 153.4 39.2 C154.7 36.7 155.5 36.4 157.4 36.0 C159.3 35.6 162.4 36.0 165.0 36.8 C167.6 37.6 170.7 38.8 173.0 40.8 C175.3 42.8 177.3 45.8 179.0 48.8 C180.7 51.9 181.0 56.5 183.0 59.2 C185.0 62.0 188.0 63.6 191.0 65.2 C194.0 66.9 197.4 68.2 201.0 69.2 C204.7 70.3 209.7 70.2 213.0 71.2 C216.4 72.2 219.0 73.6 221.0 75.2 C223.0 76.9 224.7 79.8 225.0 81.2 C225.4 82.7 224.7 84.3 223.0 84.1 C221.4 83.9 217.5 80.5 215.0 80.0 C212.6 79.6 210.2 80.4 208.2 81.2 C206.2 82.1 204.8 83.6 203.0 85.3 C201.3 86.9 199.7 89.6 197.8 91.3 C196.0 92.9 193.3 93.3 191.8 95.3 C190.4 97.3 190.2 100.6 189.0 103.3 C187.9 105.9 186.6 108.6 185.0 111.3 C183.5 113.9 181.3 117.1 179.8 119.3 C178.3 121.5 177.9 123.1 175.8 124.5 C173.7 125.8 168.1 125.8 167.0 127.3 C165.9 128.7 167.3 132.4 169.0 133.3 C170.7 134.1 174.3 132.6 177.0 132.5 C179.7 132.3 182.9 131.3 185.0 132.5 C187.2 133.6 188.4 136.8 189.8 139.3 C191.3 141.8 193.0 145.4 193.8 147.3 C194.7 149.2 195.7 149.6 195.0 150.9 C194.4 152.2 192.2 153.9 189.8 154.9 C187.5 155.9 183.4 154.9 181.0 156.9 C178.6 158.9 176.6 163.6 175.4 166.9 C174.2 170.2 175.1 173.6 173.8 176.9 C172.5 180.2 169.5 184.3 167.4 186.9 C165.3 189.6 162.7 190.9 161.0 192.9 C159.3 194.9 159.0 196.6 157.4 198.9 C155.8 201.3 153.7 205.9 151.4 206.9 C149.1 208.0 146.4 205.3 143.4 205.3 C140.4 205.3 135.7 207.0 133.4 206.9 C131.1 206.9 131.4 206.3 129.4 204.9 C127.4 203.6 123.2 201.6 121.4 198.9 C119.6 196.3 118.9 192.4 118.6 188.9 C118.2 185.5 118.6 181.0 119.4 178.1 C120.1 175.2 121.5 173.8 123.0 171.7 C124.4 169.6 126.2 167.8 128.2 165.3 C130.1 162.8 133.8 160.0 134.7 156.9 C135.6 153.8 133.4 150.1 133.5 146.5 C133.5 142.8 135.2 138.0 134.9 135.1 C134.7 132.1 134.0 131.2 132.1 129.0 C130.2 126.9 126.4 124.6 123.6 122.0 C120.8 119.4 117.8 116.0 115.1 113.5 C112.4 111.0 109.4 109.2 107.5 106.9 C105.5 104.6 103.4 100.7 103.4 99.7 Z" fill="#E11400"/>
<path d="M145.0 66.8 C147.7 65.0 151.5 62.8 155.0 62.0 C158.5 61.2 162.8 60.9 165.8 62.0 C168.8 63.2 171.9 65.9 173.0 68.8 C174.1 71.8 172.1 76.0 172.2 79.7 C172.3 83.3 174.2 87.5 173.8 90.9 C173.4 94.2 171.9 97.5 169.8 99.7 C167.7 101.8 163.9 103.5 161.0 103.7 C158.1 103.9 155.0 101.8 152.2 100.9 C149.4 99.9 146.9 98.4 144.2 98.1 C141.5 97.7 138.2 100.1 136.2 98.9 C134.2 97.7 132.6 93.7 132.2 90.9 C131.8 88.1 132.7 85.1 133.8 82.0 C134.9 79.0 137.1 75.4 139.0 72.8 C140.9 70.3 142.3 68.6 145.0 66.8 Z" fill="#CD3C3C"/>
<path d="M123.0 110.9 C124.3 108.9 130.8 108.6 133.8 109.3 C136.8 109.9 139.5 111.9 141.0 114.9 C142.5 117.8 141.0 125.2 143.0 126.9 C145.0 128.5 149.3 125.4 153.0 124.9 C156.7 124.3 161.0 123.0 165.0 123.7 C169.0 124.3 173.3 127.0 177.0 128.9 C180.7 130.7 184.5 132.2 187.0 134.9 C189.6 137.6 191.6 142.1 192.2 144.9 C192.9 147.7 192.6 150.0 191.0 151.7 C189.5 153.4 185.5 153.7 183.0 154.9 C180.6 156.1 177.9 156.2 176.2 158.9 C174.5 161.6 174.5 166.9 173.0 170.9 C171.5 174.9 169.1 179.4 167.0 182.9 C164.9 186.4 162.9 189.2 160.2 191.7 C157.5 194.3 154.3 197.1 151.0 198.1 C147.7 199.2 143.3 199.5 140.2 198.1 C137.1 196.8 134.1 193.3 132.2 190.1 C130.3 186.9 128.7 182.8 129.0 178.9 C129.3 175.0 132.5 170.9 133.8 166.9 C135.1 162.9 136.6 158.9 137.0 154.9 C137.4 150.9 136.9 146.9 136.2 142.9 C135.5 138.9 134.7 134.5 133.0 130.9 C131.3 127.2 127.4 124.2 125.8 120.9 C124.1 117.5 121.6 112.8 123.0 110.9 Z" fill="#CD3C3C"/>
<path d="M156.2 130.9 C156.9 129.8 159.3 129.4 160.2 130.1 C161.1 130.7 161.5 133.6 161.4 134.9 C161.3 136.2 160.3 137.8 159.4 138.1 C158.5 138.4 156.7 137.7 156.2 136.5 C155.7 135.3 155.5 131.9 156.2 130.9 Z" fill="#C00000"/>
<path d="M169.8 142.9 C171.0 141.6 174.2 139.8 176.2 139.7 C178.2 139.6 180.9 140.5 181.8 142.1 C182.8 143.7 182.6 147.3 181.8 149.3 C181.0 151.3 178.7 153.6 177.0 154.1 C175.3 154.6 172.7 153.6 171.4 152.5 C170.1 151.4 169.3 149.3 169.0 147.7 C168.7 146.1 168.6 144.2 169.8 142.9 Z" fill="#C00000"/>
<path d="M183.4 114.9 C184.2 112.9 186.4 111.9 188.2 111.7 C190.1 111.4 193.1 111.9 194.6 113.3 C196.2 114.6 197.4 117.4 197.4 119.7 C197.4 121.9 196.2 125.4 194.6 126.9 C193.1 128.3 190.0 129.0 188.2 128.5 C186.4 127.9 184.6 125.9 183.8 123.7 C183.0 121.4 182.7 116.9 183.4 114.9 Z" fill="#FF6400"/>
<path d="M186.6 118.1 C187.2 117.0 189.6 116.1 190.6 116.5 C191.7 116.9 193.0 119.1 193.0 120.5 C193.0 121.8 191.6 124.1 190.6 124.5 C189.6 124.9 187.7 123.9 187.0 122.9 C186.4 121.8 186.0 119.1 186.6 118.1 Z" fill="#FFA000"/>
<path d="M197.4 127.7 C198.3 125.5 201.6 125.4 203.0 126.1 C204.5 126.7 205.8 129.4 206.2 131.7 C206.7 133.9 206.6 137.7 205.8 139.7 C205.1 141.7 203.2 143.8 201.8 143.7 C200.5 143.6 198.6 141.6 197.8 138.9 C197.1 136.2 196.6 129.8 197.4 127.7 Z" fill="#FF6400"/>
<path d="M135.9 106.3 C136.4 104.8 138.4 103.4 140.2 103.2 C142.0 102.9 144.7 103.8 146.6 104.9 C148.5 106.0 150.7 108.0 151.5 109.8 C152.4 111.7 152.2 114.7 151.5 116.2 C150.8 117.8 148.9 118.9 147.3 119.0 C145.6 119.2 143.3 118.1 141.6 116.9 C140.0 115.8 138.3 113.7 137.4 112.0 C136.4 110.2 135.5 107.8 135.9 106.3 Z" fill="#FF3200"/>
<path d="M112.3 30.9 C112.8 29.5 114.8 27.6 117.3 26.9 C119.9 26.3 124.4 26.8 127.4 26.9 C130.4 27.1 132.9 28.0 135.4 27.9 C137.9 27.9 141.4 26.2 142.4 26.5 C143.4 26.9 142.6 28.9 141.4 29.9 C140.3 31.0 137.4 33.0 135.4 33.0 C133.4 33.0 131.7 29.8 129.4 29.9 C127.0 30.1 123.9 33.0 121.4 34.0 C118.9 34.9 115.8 35.9 114.3 35.4 C112.8 34.9 111.8 32.3 112.3 30.9 Z" fill="#E11400"/>
<path d="M88.2 71.1 C88.5 68.7 89.3 65.2 90.2 63.1 C91.2 60.9 92.9 58.0 93.7 58.0 C94.4 58.0 94.9 60.2 94.9 63.1 C94.9 65.9 93.8 71.4 93.7 75.1 C93.6 78.8 94.7 84.0 94.3 85.1 C93.9 86.3 92.2 83.5 91.2 82.1 C90.3 80.8 89.4 78.9 88.8 77.1 C88.3 75.3 88.0 73.4 88.2 71.1 Z" fill="#E11400"/>
<path d="M305.2 7.6 C306.0 6.4 308.9 5.6 310.8 6.0 C312.7 6.4 314.7 9.9 316.4 10.0 C318.1 10.1 320.1 4.0 321.2 6.8 C322.3 9.6 323.7 23.9 322.8 26.8 C321.9 29.8 317.8 25.6 315.6 24.4 C313.4 23.2 311.2 21.5 309.6 19.6 C308.0 17.8 306.7 15.2 306.0 13.2 C305.3 11.2 304.4 8.8 305.2 7.6 Z" fill="#E11400"/>
<path d="M82.4 88.8 C83.4 88.3 87.9 90.0 91.9 92.3 C95.8 94.6 103.3 100.1 106.2 102.7 C109.1 105.3 108.2 106.2 109.5 107.9 C110.7 109.7 111.7 110.9 113.7 113.1 C115.8 115.3 119.0 118.5 121.8 121.1 C124.5 123.6 128.3 126.2 130.3 128.4 C132.2 130.5 133.0 131.2 133.4 133.9 C133.7 136.7 132.5 141.5 132.6 145.1 C132.6 148.7 134.3 151.7 133.6 155.7 C132.9 159.7 129.9 165.6 128.1 169.2 C126.3 172.8 124.4 174.7 123.0 177.3 C121.7 179.9 120.9 184.2 120.0 184.9 C119.0 185.5 118.4 182.1 117.2 181.2 C116.1 180.2 114.2 181.3 113.1 178.9 C112.0 176.5 110.9 170.9 110.7 166.9 C110.4 162.9 111.2 158.9 111.5 154.9 C111.7 150.9 112.7 146.8 112.3 142.9 C111.9 139.0 110.7 134.9 109.1 131.7 C107.5 128.5 104.9 126.2 102.7 123.7 C100.4 121.1 97.6 118.9 95.5 116.5 C93.3 114.1 91.3 111.9 89.9 109.3 C88.4 106.7 87.3 103.1 86.7 100.9 C86.0 98.6 86.6 97.7 85.9 95.7 C85.1 93.7 81.4 89.4 82.4 88.8 Z" fill="#FF6400"/>
<path d="M82.9 89.3 C83.9 88.8 88.1 90.8 91.4 93.0 C94.8 95.2 100.3 100.1 102.9 102.6 C105.6 105.1 105.7 106.5 107.3 108.2 C108.8 109.9 110.1 110.7 112.2 112.7 C114.3 114.7 117.1 117.6 119.7 120.1 C122.4 122.6 126.2 125.5 128.2 127.6 C130.2 129.7 131.0 130.0 131.6 132.7 C132.1 135.3 131.4 139.9 131.6 143.5 C131.7 147.1 133.1 150.3 132.4 154.3 C131.7 158.3 129.1 163.8 127.5 167.4 C125.8 170.9 123.9 173.0 122.5 175.5 C121.1 178.0 120.2 181.8 119.2 182.6 C118.2 183.3 117.5 180.7 116.4 180.1 C115.4 179.5 114.0 181.1 113.1 178.9 C112.1 176.7 110.9 170.9 110.7 166.9 C110.4 162.9 111.2 158.9 111.5 154.9 C111.7 150.9 112.7 146.8 112.3 142.9 C111.9 139.0 110.7 134.9 109.1 131.7 C107.5 128.5 104.9 126.2 102.7 123.7 C100.4 121.1 97.6 118.9 95.5 116.5 C93.3 114.1 91.3 111.9 89.9 109.3 C88.4 106.7 87.3 103.1 86.7 100.9 C86.0 98.6 86.5 97.6 85.9 95.7 C85.2 93.7 82.0 89.7 82.9 89.3 Z" fill="#FFA000"/>
<path d="M83.5 89.7 C84.4 89.4 88.3 91.6 91.0 93.7 C93.7 95.9 97.4 100.0 99.7 102.5 C102.0 104.9 103.2 106.9 105.0 108.5 C106.8 110.1 108.6 110.6 110.7 112.3 C112.8 114.1 115.1 116.7 117.7 119.1 C120.3 121.5 124.1 124.8 126.2 126.9 C128.2 128.9 129.1 128.9 129.8 131.4 C130.5 133.9 130.3 138.3 130.6 141.9 C130.8 145.5 131.8 149.0 131.1 152.9 C130.5 156.9 128.3 162.0 126.8 165.5 C125.3 169.0 123.4 171.2 122.0 173.7 C120.6 176.2 119.4 179.4 118.4 180.3 C117.3 181.1 116.6 179.2 115.7 179.0 C114.8 178.8 113.9 180.9 113.1 178.9 C112.2 176.9 110.9 170.9 110.7 166.9 C110.4 162.9 111.2 158.9 111.5 154.9 C111.7 150.9 112.7 146.8 112.3 142.9 C111.9 139.0 110.7 134.9 109.1 131.7 C107.5 128.5 104.9 126.2 102.7 123.7 C100.4 121.1 97.6 118.9 95.5 116.5 C93.3 114.1 91.3 111.9 89.9 109.3 C88.4 106.7 87.3 103.1 86.7 100.9 C86.0 98.6 86.4 97.5 85.9 95.7 C85.3 93.8 82.7 90.0 83.5 89.7 Z" fill="#FFC03C"/>
<path d="M84.1 90.1 C84.9 89.9 88.5 92.4 90.6 94.5 C92.6 96.5 94.4 99.9 96.5 102.3 C98.5 104.7 100.7 107.2 102.8 108.8 C104.9 110.4 107.0 110.4 109.2 111.9 C111.3 113.5 113.2 115.8 115.7 118.1 C118.2 120.5 122.0 124.1 124.1 126.1 C126.2 128.1 127.1 127.8 128.0 130.2 C128.9 132.5 129.2 136.8 129.6 140.3 C129.9 143.9 130.5 147.7 129.9 151.6 C129.4 155.5 127.6 160.2 126.2 163.6 C124.8 167.0 122.9 169.5 121.5 171.9 C120.1 174.3 118.7 177.0 117.6 178.0 C116.5 179.0 115.7 177.8 114.9 177.9 C114.2 178.1 113.8 180.7 113.1 178.9 C112.4 177.1 110.9 170.9 110.7 166.9 C110.4 162.9 111.2 158.9 111.5 154.9 C111.7 150.9 112.7 146.8 112.3 142.9 C111.9 139.0 110.7 134.9 109.1 131.7 C107.5 128.5 104.9 126.2 102.7 123.7 C100.4 121.1 97.6 118.9 95.5 116.5 C93.3 114.1 91.3 111.9 89.9 109.3 C88.4 106.7 87.3 103.1 86.7 100.9 C86.0 98.6 86.3 97.4 85.9 95.7 C85.4 93.9 83.3 90.3 84.1 90.1 Z" fill="#FFE878"/>
<path d="M86.7 98.1 C86.1 98.9 86.8 104.4 87.9 107.3 C88.9 110.1 91.2 112.9 93.1 115.3 C94.9 117.6 96.7 118.9 99.1 121.3 C101.4 123.6 104.9 126.3 107.1 129.3 C109.3 132.3 111.3 136.0 112.3 139.3 C113.3 142.6 113.3 145.8 113.1 149.3 C112.8 152.8 110.9 157.0 110.7 160.5 C110.4 164.0 111.0 167.9 111.5 170.5 C112.0 173.1 112.9 175.5 113.7 176.1 C114.5 176.7 115.1 175.3 116.3 174.1 C117.4 172.9 119.2 171.2 120.7 168.9 C122.1 166.6 123.9 163.8 125.1 160.5 C126.3 157.2 127.4 153.1 127.9 149.3 C128.3 145.5 128.3 141.2 127.9 137.7 C127.4 134.2 126.3 130.2 125.1 128.1 C123.9 125.9 122.8 126.8 120.7 124.9 C118.5 122.9 114.6 118.7 112.3 116.5 C109.9 114.2 108.9 112.5 106.7 111.3 C104.5 110.1 101.7 110.8 99.1 109.3 C96.5 107.7 93.1 103.9 91.1 102.1 C89.0 100.2 87.2 97.2 86.7 98.1 Z" fill="#78B9FA"/>
<path d="M89.5 103.7 C89.7 104.8 92.1 110.2 93.9 112.9 C95.7 115.5 97.9 117.2 100.3 119.7 C102.7 122.1 106.0 124.6 108.3 127.7 C110.5 130.7 112.8 134.5 113.9 138.1 C114.9 141.7 114.8 145.6 114.7 149.3 C114.5 153.0 113.2 157.0 113.1 160.5 C112.9 164.0 113.3 168.5 113.9 170.1 C114.4 171.7 115.3 170.9 116.3 170.1 C117.2 169.3 118.3 167.2 119.5 165.3 C120.6 163.4 122.1 161.6 123.1 158.9 C124.1 156.2 125.1 152.6 125.5 149.3 C125.9 146.0 125.9 142.1 125.5 138.9 C125.0 135.7 123.9 132.2 122.7 130.1 C121.4 127.9 119.9 127.9 117.9 126.1 C115.9 124.2 112.8 120.9 110.7 118.9 C108.5 116.9 107.2 115.3 105.1 114.1 C102.9 112.9 100.0 113.0 97.9 111.7 C95.7 110.3 93.7 107.4 92.3 106.1 C90.9 104.7 89.2 102.5 89.5 103.7 Z" fill="#3C96F5"/>
<path d="M95.5 113.3 C96.0 112.2 100.1 113.4 102.7 114.9 C105.2 116.3 108.3 119.4 110.7 122.1 C113.1 124.7 115.7 128.3 117.1 130.9 C118.4 133.4 119.1 136.4 118.7 137.3 C118.3 138.2 116.5 137.8 114.7 136.5 C112.8 135.2 110.0 131.8 107.5 129.3 C104.9 126.7 101.5 123.9 99.5 121.3 C97.5 118.6 94.9 114.3 95.5 113.3 Z" fill="#1E6EEB"/>
<path d="M115.5 154.1 C116.3 152.9 118.4 151.8 119.5 152.5 C120.5 153.2 121.9 156.0 121.9 158.1 C121.9 160.2 120.5 164.0 119.5 165.3 C118.5 166.6 116.7 167.0 115.9 166.1 C115.1 165.2 114.7 161.7 114.7 159.7 C114.6 157.7 114.7 155.3 115.5 154.1 Z" fill="#1E6EEB"/>
<path d="M77.8 83.7 C78.5 82.4 80.2 81.2 81.8 81.2 C83.5 81.2 86.1 82.3 87.5 83.7 C88.8 85.0 90.0 87.7 89.9 89.3 C89.7 90.9 88.1 92.7 86.7 93.3 C85.2 93.8 82.5 93.3 81.0 92.5 C79.6 91.7 78.4 89.9 77.8 88.5 C77.3 87.0 77.2 84.9 77.8 83.7 Z" fill="#FFC03C"/>
<path d="M79.5 85.3 C79.7 84.0 81.4 83.2 82.7 83.2 C83.9 83.2 85.8 84.3 86.7 85.3 C87.5 86.3 88.1 88.2 87.9 89.3 C87.6 90.3 86.2 91.4 85.1 91.7 C83.9 91.9 82.0 91.9 81.0 90.9 C80.1 89.8 79.2 86.5 79.5 85.3 Z" fill="#FFE878"/>
<path d="M223.1 291.3 C224.5 290.6 231.8 290.6 235.2 289.3 C238.5 288.0 240.5 284.8 243.2 283.3 C245.9 281.8 247.2 280.9 251.2 280.3 C255.3 279.6 261.9 279.6 267.3 279.2 C272.7 278.9 278.7 278.8 283.4 278.2 C288.0 277.7 291.4 276.9 295.4 276.2 C299.4 275.6 301.4 274.7 307.4 274.2 C313.5 273.8 327.5 272.9 331.5 273.6 C335.5 274.4 335.5 277.7 331.5 278.9 C327.5 280.0 313.5 279.5 307.4 280.3 C301.4 281.0 300.1 282.5 295.4 283.3 C290.7 284.0 284.0 284.2 279.3 284.9 C274.7 285.5 271.3 286.5 267.3 287.3 C263.3 288.0 258.9 289.1 255.2 289.3 C251.6 289.5 248.6 287.8 245.2 288.3 C241.9 288.8 238.2 291.4 235.2 292.3 C232.2 293.2 229.2 293.9 227.2 293.7 C225.2 293.5 221.8 292.0 223.1 291.3 Z" fill="#4B3CC8"/>
<path d="M179.0 296.5 C180.7 295.5 184.3 294.2 187.0 294.1 C189.7 294.0 193.4 295.1 195.0 296.1 C196.7 297.1 200.1 299.6 197.1 300.3 C194.0 301.0 180.0 301.0 177.0 300.3 C174.0 299.7 177.3 297.5 179.0 296.5 Z" fill="#4B3CC8"/>
<use href="#map"/>
<path d="M117.0 70.8 C118.3 71.8 123.0 74.5 125.0 76.8 C127.0 79.2 128.3 83.5 129.0 84.9" fill="none" stroke="#ffffff" stroke-width="0.7" opacity="0.85"/>
<path d="M151.0 70.8 C152.0 71.8 155.3 74.5 157.0 76.8 C158.7 79.2 160.3 83.5 161.0 84.9" fill="none" stroke="#ffffff" stroke-width="0.7" opacity="0.85"/>
<path d="M167.0 78.8 C168.0 79.9 171.3 82.5 173.0 84.9 C174.7 87.2 176.3 91.5 177.0 92.9" fill="none" stroke="#ffffff" stroke-width="0.7" opacity="0.85"/>
<path d="M177.0 100.9 C178.0 101.9 181.4 104.5 183.0 106.9 C184.7 109.2 186.4 113.5 187.0 114.9" fill="none" stroke="#ffffff" stroke-width="0.7" opacity="0.85"/>
<path d="M139.0 104.9 C140.0 105.9 143.3 108.9 145.0 110.9 C146.7 112.9 148.3 115.9 149.0 116.9" fill="none" stroke="#ffffff" stroke-width="0.7" opacity="0.85"/>
<path d="M153.0 142.9 C154.3 143.9 158.7 147.6 161.0 148.9 C163.3 150.2 166.0 150.6 167.0 150.9" fill="none" stroke="#ffffff" stroke-width="0.7" opacity="0.85"/>
<path d="M169.0 144.9 C170.0 145.9 173.7 148.6 175.0 150.9 C176.3 153.2 176.7 157.6 177.0 158.9" fill="none" stroke="#ffffff" stroke-width="0.7" opacity="0.85"/>
<path d="M207.0 108.9 C208.0 109.2 211.4 109.5 213.0 110.9 C214.7 112.2 217.0 115.2 217.0 116.9 C217.0 118.5 213.7 120.2 213.0 120.9" fill="none" stroke="#ffffff" stroke-width="0.7" opacity="0.85"/>
<path d="M143.0 222.9 C144.7 223.6 150.0 225.6 153.0 226.9 C156.0 228.3 159.7 230.3 161.0 230.9" fill="none" stroke="#ffffff" stroke-width="0.7" opacity="0.85"/>
<path d="M71.0 220.9 C71.4 221.9 72.4 226.3 73.8 226.9 C75.1 227.6 78.1 225.3 79.0 224.9" fill="none" stroke="#ffffff" stroke-width="0.7" opacity="0.85"/>
<path d="M251.1 216.9 C252.7 217.9 258.4 220.3 261.1 222.9 C263.7 225.6 267.1 230.9 267.1 232.9 C267.1 234.9 262.1 234.6 261.1 234.9" fill="none" stroke="#ffffff" stroke-width="0.7" opacity="0.85"/>
<path d="M111.0 226.9 C112.0 229.3 115.3 237.6 117.0 240.9 C118.6 244.3 120.3 245.9 121.0 246.9" fill="none" stroke="#ffffff" stroke-width="0.7" opacity="0.85"/>
<path d="M-13.1 203.4 C-10.8 203.4 -4.7 203.2 0.9 203.4 C6.6 203.6 14.3 204.2 21.0 204.6 C27.7 205.0 34.7 205.6 41.1 206.0 C47.4 206.4 54.1 207.0 59.1 207.0 C64.2 207.0 67.8 207.0 71.2 206.0 C74.5 205.0 76.9 203.2 79.2 201.0 C81.6 198.8 83.4 196.0 85.2 192.9 C87.1 189.9 89.1 185.9 90.2 182.9 C91.4 179.9 91.8 177.1 92.3 174.9 C92.8 172.7 92.8 169.5 93.3 169.9 C93.7 170.2 94.5 174.0 94.9 176.9 C95.3 179.7 95.9 183.6 95.7 186.9 C95.5 190.3 94.1 193.6 93.7 197.0 C93.3 200.3 93.0 204.0 93.3 207.0 C93.5 210.0 94.1 213.2 95.3 215.0 C96.4 216.9 97.3 217.0 100.3 218.0 C103.3 219.0 110.6 219.5 113.3 221.1 C116.1 222.6 116.6 224.7 116.9 227.1 C117.3 229.4 115.4 232.6 115.3 235.1 C115.2 237.6 115.5 240.1 116.3 242.1 C117.2 244.1 118.9 246.2 120.4 247.1 C121.8 248.1 123.1 248.6 125.0 247.7 C126.8 246.9 129.0 243.7 131.4 242.1 C133.8 240.5 136.4 240.0 139.4 238.1 C142.4 236.3 146.9 233.9 149.5 231.1 C152.0 228.3 152.7 223.5 154.9 221.4 C157.1 219.4 160.6 218.6 162.9 219.0 C165.3 219.5 166.6 222.4 168.9 224.1 C171.3 225.7 174.3 228.3 177.0 229.1 C179.7 229.8 182.0 229.5 185.0 228.7 C188.0 227.8 191.4 225.7 195.0 224.1 C198.7 222.5 203.1 220.5 207.1 219.0 C211.1 217.5 214.4 216.0 219.1 215.0 C223.8 214.0 230.2 213.3 235.2 213.0 C240.2 212.8 244.5 212.9 249.2 213.4 C253.9 213.9 258.9 215.3 263.3 216.0 C267.6 216.8 270.6 217.7 275.3 218.0 C280.0 218.4 286.7 218.5 291.4 218.0 C296.1 217.5 298.7 215.9 303.4 215.0 C308.1 214.2 314.8 213.4 319.5 213.0 C324.2 212.6 329.5 212.7 331.5 212.6" fill="none" stroke="#169016" stroke-width="1.5"/>
<path d="M103.4 99.7 C103.4 98.7 105.0 100.5 107.4 100.9 C109.7 101.3 114.6 102.3 117.4 102.1 C120.2 101.8 122.7 101.4 124.2 99.3 C125.6 97.1 126.3 92.1 126.2 89.3 C126.0 86.4 125.2 83.7 123.4 82.0 C121.6 80.4 118.0 79.4 115.4 79.2 C112.7 79.1 109.6 81.5 107.4 81.2 C105.2 81.0 103.2 79.7 102.2 78.0 C101.2 76.4 100.7 73.3 101.4 71.2 C102.0 69.2 104.2 67.2 106.2 66.0 C108.2 64.8 111.8 65.2 113.4 64.0 C114.9 62.9 114.0 60.7 115.4 59.2 C116.7 57.8 119.0 55.6 121.4 55.2 C123.7 54.9 126.7 55.9 129.4 57.2 C132.1 58.6 134.9 61.4 137.4 63.2 C139.9 65.0 142.4 67.7 144.6 68.0 C146.8 68.4 149.3 67.0 150.6 65.2 C151.9 63.4 152.8 59.6 152.6 57.2 C152.4 54.9 149.3 54.2 149.4 51.2 C149.5 48.2 152.1 41.8 153.4 39.2 C154.7 36.7 155.5 36.4 157.4 36.0 C159.3 35.6 162.4 36.0 165.0 36.8 C167.6 37.6 170.7 38.8 173.0 40.8 C175.3 42.8 177.3 45.8 179.0 48.8 C180.7 51.9 181.0 56.5 183.0 59.2 C185.0 62.0 188.0 63.6 191.0 65.2 C194.0 66.9 197.4 68.2 201.0 69.2 C204.7 70.3 209.7 70.2 213.0 71.2 C216.4 72.2 219.0 73.6 221.0 75.2 C223.0 76.9 224.7 79.8 225.0 81.2 C225.4 82.7 224.7 84.3 223.0 84.1 C221.4 83.9 217.5 80.5 215.0 80.0 C212.6 79.6 210.2 80.4 208.2 81.2 C206.2 82.1 204.8 83.6 203.0 85.3 C201.3 86.9 199.7 89.6 197.8 91.3 C196.0 92.9 193.3 93.3 191.8 95.3 C190.4 97.3 190.2 100.6 189.0 103.3 C187.9 105.9 186.6 108.6 185.0 111.3 C183.5 113.9 181.3 117.1 179.8 119.3 C178.3 121.5 177.9 123.1 175.8 124.5 C173.7 125.8 168.1 125.8 167.0 127.3 C165.9 128.7 167.3 132.4 169.0 133.3 C170.7 134.1 174.3 132.6 177.0 132.5 C179.7 132.3 182.9 131.3 185.0 132.5 C187.2 133.6 188.4 136.8 189.8 139.3 C191.3 141.8 193.0 145.4 193.8 147.3 C194.7 149.2 195.7 149.6 195.0 150.9 C194.4 152.2 192.2 153.9 189.8 154.9 C187.5 155.9 183.4 154.9 181.0 156.9 C178.6 158.9 176.6 163.6 175.4 166.9 C174.2 170.2 175.1 173.6 173.8 176.9 C172.5 180.2 169.5 184.3 167.4 186.9 C165.3 189.6 162.7 190.9 161.0 192.9 C159.3 194.9 159.0 196.6 157.4 198.9 C155.8 201.3 153.7 205.9 151.4 206.9 C149.1 208.0 146.4 205.3 143.4 205.3 C140.4 205.3 135.7 207.0 133.4 206.9 C131.1 206.9 131.4 206.3 129.4 204.9 C127.4 203.6 123.2 201.6 121.4 198.9 C119.6 196.3 118.9 192.4 118.6 188.9 C118.2 185.5 118.6 181.0 119.4 178.1 C120.1 175.2 121.5 173.8 123.0 171.7 C124.4 169.6 126.2 167.8 128.2 165.3 C130.1 162.8 133.8 160.0 134.7 156.9 C135.6 153.8 133.4 150.1 133.5 146.5 C133.5 142.8 135.2 138.0 134.9 135.1 C134.7 132.1 134.0 131.2 132.1 129.0 C130.2 126.9 126.4 124.6 123.6 122.0 C120.8 119.4 117.8 116.0 115.1 113.5 C112.4 111.0 109.4 109.2 107.5 106.9 C105.5 104.6 103.4 100.7 103.4 99.7 Z" fill="none" stroke="#169016" stroke-width="1.5"/>
<path d="M86.7 98.1 C86.1 98.9 86.8 104.4 87.9 107.3 C88.9 110.1 91.2 112.9 93.1 115.3 C94.9 117.6 96.7 118.9 99.1 121.3 C101.4 123.6 104.9 126.3 107.1 129.3 C109.3 132.3 111.3 136.0 112.3 139.3 C113.3 142.6 113.3 145.8 113.1 149.3 C112.8 152.8 110.9 157.0 110.7 160.5 C110.4 164.0 111.0 167.9 111.5 170.5 C112.0 173.1 112.9 175.5 113.7 176.1 C114.5 176.7 115.1 175.3 116.3 174.1 C117.4 172.9 119.2 171.2 120.7 168.9 C122.1 166.6 123.9 163.8 125.1 160.5 C126.3 157.2 127.4 153.1 127.9 149.3 C128.3 145.5 128.3 141.2 127.9 137.7 C127.4 134.2 126.3 130.2 125.1 128.1 C123.9 125.9 122.8 126.8 120.7 124.9 C118.5 122.9 114.6 118.7 112.3 116.5 C109.9 114.2 108.9 112.5 106.7 111.3 C104.5 110.1 101.7 110.8 99.1 109.3 C96.5 107.7 93.1 103.9 91.1 102.1 C89.0 100.2 87.2 97.2 86.7 98.1 Z" fill="none" stroke="#169016" stroke-width="1.5"/>
<path d="M135.9 106.3 C136.4 104.8 138.4 103.4 140.2 103.2 C142.0 102.9 144.7 103.8 146.6 104.9 C148.5 106.0 150.7 108.0 151.5 109.8 C152.4 111.7 152.2 114.7 151.5 116.2 C150.8 117.8 148.9 118.9 147.3 119.0 C145.6 119.2 143.3 118.1 141.6 116.9 C140.0 115.8 138.3 113.7 137.4 112.0 C136.4 110.2 135.5 107.8 135.9 106.3 Z" fill="none" stroke="#169016" stroke-width="1.5"/>
<path d="M112.3 30.9 C112.8 29.5 114.8 27.6 117.3 26.9 C119.9 26.3 124.4 26.8 127.4 26.9 C130.4 27.1 132.9 28.0 135.4 27.9 C137.9 27.9 141.4 26.2 142.4 26.5 C143.4 26.9 142.6 28.9 141.4 29.9 C140.3 31.0 137.4 33.0 135.4 33.0 C133.4 33.0 131.7 29.8 129.4 29.9 C127.0 30.1 123.9 33.0 121.4 34.0 C118.9 34.9 115.8 35.9 114.3 35.4 C112.8 34.9 111.8 32.3 112.3 30.9 Z" fill="none" stroke="#169016" stroke-width="1.5"/>
<path d="M91.2 20.9 C91.2 19.9 92.1 18.9 92.9 18.5 C93.6 18.1 94.9 18.1 95.7 18.5 C96.5 18.9 97.6 20.0 97.7 20.9 C97.8 21.8 97.0 23.4 96.3 23.9 C95.5 24.5 94.1 24.8 93.3 24.3 C92.4 23.8 91.3 21.9 91.2 20.9 Z" fill="none" stroke="#169016" stroke-width="1.5"/>
<path d="M103.3 47.0 C103.6 46.1 105.1 44.2 106.3 43.4 C107.5 42.6 109.6 41.9 110.3 42.0 C111.1 42.1 111.4 43.2 110.9 44.0 C110.4 44.8 108.4 46.2 107.3 47.0 C106.2 47.8 105.0 48.6 104.3 48.6 C103.6 48.6 103.0 47.9 103.3 47.0 Z" fill="none" stroke="#169016" stroke-width="1.5"/>
<path d="M88.2 71.1 C88.5 68.7 89.3 65.2 90.2 63.1 C91.2 60.9 92.9 58.0 93.7 58.0 C94.4 58.0 94.9 60.2 94.9 63.1 C94.9 65.9 93.8 71.4 93.7 75.1 C93.6 78.8 94.7 84.0 94.3 85.1 C93.9 86.3 92.2 83.5 91.2 82.1 C90.3 80.8 89.4 78.9 88.8 77.1 C88.3 75.3 88.0 73.4 88.2 71.1 Z" fill="none" stroke="#169016" stroke-width="1.5"/>
<path d="M210.1 94.2 C210.4 93.6 213.1 93.0 214.1 93.2 C215.1 93.3 216.5 94.6 216.1 95.2 C215.8 95.8 213.1 96.9 212.1 96.8 C211.1 96.6 209.8 94.8 210.1 94.2 Z" fill="none" stroke="#169016" stroke-width="1.5"/>
<path d="M223.1 291.3 C224.5 290.6 231.8 290.6 235.2 289.3 C238.5 288.0 240.5 284.8 243.2 283.3 C245.9 281.8 247.2 280.9 251.2 280.3 C255.3 279.6 261.9 279.6 267.3 279.2 C272.7 278.9 278.7 278.8 283.4 278.2 C288.0 277.7 291.4 276.9 295.4 276.2 C299.4 275.6 301.4 274.7 307.4 274.2 C313.5 273.8 327.5 272.9 331.5 273.6 C335.5 274.4 335.5 277.7 331.5 278.9 C327.5 280.0 313.5 279.5 307.4 280.3 C301.4 281.0 300.1 282.5 295.4 283.3 C290.7 284.0 284.0 284.2 279.3 284.9 C274.7 285.5 271.3 286.5 267.3 287.3 C263.3 288.0 258.9 289.1 255.2 289.3 C251.6 289.5 248.6 287.8 245.2 288.3 C241.9 288.8 238.2 291.4 235.2 292.3 C232.2 293.2 229.2 293.9 227.2 293.7 C225.2 293.5 221.8 292.0 223.1 291.3 Z" fill="none" stroke="#169016" stroke-width="1.5"/>
<path d="M179.0 296.5 C180.7 295.5 184.3 294.2 187.0 294.1 C189.7 294.0 193.4 295.1 195.0 296.1 C196.7 297.1 200.1 299.6 197.1 300.3 C194.0 301.0 180.0 301.0 177.0 300.3 C174.0 299.7 177.3 297.5 179.0 296.5 Z" fill="none" stroke="#169016" stroke-width="1.5"/>
<path d="M304.0 6.8 C304.4 6.5 305.5 5.5 306.8 5.2 C308.1 4.9 310.3 4.6 312.0 5.2 C313.7 5.8 315.5 8.7 316.8 8.8 C318.1 8.9 318.9 7.1 319.6 6.0 C320.3 4.9 320.9 2.7 321.2 2.0" fill="none" stroke="#169016" stroke-width="1.5"/>
<path d="M304.0 6.8 C304.2 7.9 304.3 10.9 305.2 13.2 C306.1 15.5 307.6 18.5 309.2 20.4 C310.8 22.4 312.8 23.9 314.8 24.8 C316.8 25.8 320.1 25.8 321.2 26.0" fill="none" stroke="#169016" stroke-width="1.5"/>
<path d="M321.2 12.8 C320.5 13.0 318.3 13.1 317.2 14.0 C316.1 14.9 314.7 16.6 314.8 18.0 C314.9 19.5 316.9 21.9 318.0 22.8 C319.1 23.8 320.7 23.5 321.2 23.6" fill="none" stroke="#169016" stroke-width="1.5"/>
<rect x="79.4" y="90.1" width="15.2" height="9.6" fill="#fff"/><text x="87.0" y="98.7" font-size="10.5" fill="#169016" text-anchor="middle">15</text>
<rect x="93.4" y="93.3" width="15.2" height="9.6" fill="#fff"/><text x="101.0" y="101.9" font-size="10.5" fill="#169016" text-anchor="middle">30</text>
<rect x="139.4" y="43.2" width="15.2" height="9.6" fill="#fff"/><text x="147.0" y="51.8" font-size="10.5" fill="#169016" text-anchor="middle">30</text>
<rect x="162.6" y="116.9" width="15.2" height="9.6" fill="#fff"/><text x="170.2" y="125.5" font-size="10.5" fill="#169016" text-anchor="middle">30</text>
<rect x="125.4" y="202.1" width="15.2" height="9.6" fill="#fff"/><text x="133.0" y="210.7" font-size="10.5" fill="#169016" text-anchor="middle">30</text>
<rect x="99.4" y="210.9" width="15.2" height="9.6" fill="#fff"/><text x="107.0" y="219.5" font-size="10.5" fill="#169016" text-anchor="middle">15</text>
<rect x="219.4" y="208.1" width="15.2" height="9.6" fill="#fff"/><text x="227.0" y="216.7" font-size="10.5" fill="#169016" text-anchor="middle">15</text>
<rect x="0.9" y="198.9" width="9.6" height="9.6" fill="#fff"/><text x="5.7" y="207.5" font-size="10.5" fill="#169016" text-anchor="middle">5</text>
<rect x="225.4" y="288.2" width="9.6" height="9.6" fill="#fff"/><text x="230.2" y="296.8" font-size="10.5" fill="#169016" text-anchor="middle">0</text>
<rect x="159.0" y="108.4" width="8.0" height="9" fill="#fff"/><text x="163.0" y="116.3" font-size="9.5" fill="#333" text-anchor="middle">2</text>
<rect x="133.0" y="141.6" width="8.0" height="9" fill="#fff"/><text x="137.0" y="149.5" font-size="9.5" fill="#333" text-anchor="middle">2</text>
<rect x="119.0" y="246.4" width="8.0" height="9" fill="#fff"/><text x="123.0" y="254.3" font-size="9.5" fill="#333" text-anchor="middle">4</text>
<rect x="136.2" y="254.5" width="8.0" height="9" fill="#fff"/><text x="140.2" y="262.4" font-size="9.5" fill="#333" text-anchor="middle">2</text>
</g>
<rect x="0" y="0" width="320.5" height="297.0" fill="none" stroke="#000" stroke-width="2.1"/>
<line x1="-4.2" x2="0" y1="0.0" y2="0.0" stroke="#000" stroke-width="1.3"/>
<text x="-6" y="3.3" font-size="9" font-weight="bold" text-anchor="end" textLength="15.4" lengthAdjust="spacingAndGlyphs">15N</text>
<line x1="-4.2" x2="0" y1="19.8" y2="19.8" stroke="#000" stroke-width="1.3"/>
<text x="-6" y="23.1" font-size="9" font-weight="bold" text-anchor="end" textLength="15.4" lengthAdjust="spacingAndGlyphs">10N</text>
<line x1="-4.2" x2="0" y1="39.6" y2="39.6" stroke="#000" stroke-width="1.3"/>
<text x="-6" y="42.9" font-size="9" font-weight="bold" text-anchor="end" textLength="10.8" lengthAdjust="spacingAndGlyphs">5N</text>
<line x1="-4.2" x2="0" y1="59.4" y2="59.4" stroke="#000" stroke-width="1.3"/>
<text x="-6" y="62.7" font-size="9" font-weight="bold" text-anchor="end" textLength="10.8" lengthAdjust="spacingAndGlyphs">EQ</text>
<line x1="-4.2" x2="0" y1="79.2" y2="79.2" stroke="#000" stroke-width="1.3"/>
<text x="-6" y="82.5" font-size="9" font-weight="bold" text-anchor="end" textLength="10.8" lengthAdjust="spacingAndGlyphs">5S</text>
<line x1="-4.2" x2="0" y1="99.0" y2="99.0" stroke="#000" stroke-width="1.3"/>
<text x="-6" y="102.3" font-size="9" font-weight="bold" text-anchor="end" textLength="15.4" lengthAdjust="spacingAndGlyphs">10S</text>
<line x1="-4.2" x2="0" y1="118.8" y2="118.8" stroke="#000" stroke-width="1.3"/>
<text x="-6" y="122.1" font-size="9" font-weight="bold" text-anchor="end" textLength="15.4" lengthAdjust="spacingAndGlyphs">15S</text>
<line x1="-4.2" x2="0" y1="138.6" y2="138.6" stroke="#000" stroke-width="1.3"/>
<text x="-6" y="141.9" font-size="9" font-weight="bold" text-anchor="end" textLength="15.4" lengthAdjust="spacingAndGlyphs">20S</text>
<line x1="-4.2" x2="0" y1="158.4" y2="158.4" stroke="#000" stroke-width="1.3"/>
<text x="-6" y="161.7" font-size="9" font-weight="bold" text-anchor="end" textLength="15.4" lengthAdjust="spacingAndGlyphs">25S</text>
<line x1="-4.2" x2="0" y1="178.2" y2="178.2" stroke="#000" stroke-width="1.3"/>
<text x="-6" y="181.5" font-size="9" font-weight="bold" text-anchor="end" textLength="15.4" lengthAdjust="spacingAndGlyphs">30S</text>
<line x1="-4.2" x2="0" y1="198.0" y2="198.0" stroke="#000" stroke-width="1.3"/>
<text x="-6" y="201.3" font-size="9" font-weight="bold" text-anchor="end" textLength="15.4" lengthAdjust="spacingAndGlyphs">35S</text>
<line x1="-4.2" x2="0" y1="217.8" y2="217.8" stroke="#000" stroke-width="1.3"/>
<text x="-6" y="221.1" font-size="9" font-weight="bold" text-anchor="end" textLength="15.4" lengthAdjust="spacingAndGlyphs">40S</text>
<line x1="-4.2" x2="0" y1="237.6" y2="237.6" stroke="#000" stroke-width="1.3"/>
<text x="-6" y="240.9" font-size="9" font-weight="bold" text-anchor="end" textLength="15.4" lengthAdjust="spacingAndGlyphs">45S</text>
<line x1="-4.2" x2="0" y1="257.4" y2="257.4" stroke="#000" stroke-width="1.3"/>
<text x="-6" y="260.7" font-size="9" font-weight="bold" text-anchor="end" textLength="15.4" lengthAdjust="spacingAndGlyphs">50S</text>
<line x1="-4.2" x2="0" y1="277.2" y2="277.2" stroke="#000" stroke-width="1.3"/>
<text x="-6" y="280.5" font-size="9" font-weight="bold" text-anchor="end" textLength="15.4" lengthAdjust="spacingAndGlyphs">55S</text>
<line x1="-4.2" x2="0" y1="297.0" y2="297.0" stroke="#000" stroke-width="1.3"/>
<text x="-6" y="300.3" font-size="9" font-weight="bold" text-anchor="end" textLength="15.4" lengthAdjust="spacingAndGlyphs">60S</text>
<line y1="297.0" y2="300.5" x1="4.3" x2="4.3" stroke="#000" stroke-width="1.3"/>
<text x="-6.2" y="307.5" font-size="9" font-weight="bold" textLength="21.8" lengthAdjust="spacingAndGlyphs">100W</text>
<line y1="297.0" y2="300.5" x1="40.0" x2="40.0" stroke="#000" stroke-width="1.3"/>
<text x="32.1" y="307.5" font-size="9" font-weight="bold" textLength="16.6" lengthAdjust="spacingAndGlyphs">90W</text>
<line y1="297.0" y2="300.5" x1="75.7" x2="75.7" stroke="#000" stroke-width="1.3"/>
<text x="67.8" y="307.5" font-size="9" font-weight="bold" textLength="16.6" lengthAdjust="spacingAndGlyphs">80W</text>
<line y1="297.0" y2="300.5" x1="111.4" x2="111.4" stroke="#000" stroke-width="1.3"/>
<text x="103.5" y="307.5" font-size="9" font-weight="bold" textLength="16.6" lengthAdjust="spacingAndGlyphs">70W</text>
<line y1="297.0" y2="300.5" x1="147.1" x2="147.1" stroke="#000" stroke-width="1.3"/>
<text x="139.2" y="307.5" font-size="9" font-weight="bold" textLength="16.6" lengthAdjust="spacingAndGlyphs">60W</text>
<line y1="297.0" y2="300.5" x1="182.8" x2="182.8" stroke="#000" stroke-width="1.3"/>
<text x="174.9" y="307.5" font-size="9" font-weight="bold" textLength="16.6" lengthAdjust="spacingAndGlyphs">50W</text>
<line y1="297.0" y2="300.5" x1="218.5" x2="218.5" stroke="#000" stroke-width="1.3"/>
<text x="210.6" y="307.5" font-size="9" font-weight="bold" textLength="16.6" lengthAdjust="spacingAndGlyphs">40W</text>
<line y1="297.0" y2="300.5" x1="254.2" x2="254.2" stroke="#000" stroke-width="1.3"/>
<text x="246.3" y="307.5" font-size="9" font-weight="bold" textLength="16.6" lengthAdjust="spacingAndGlyphs">30W</text>
<line y1="297.0" y2="300.5" x1="289.9" x2="289.9" stroke="#000" stroke-width="1.3"/>
<text x="282.0" y="307.5" font-size="9" font-weight="bold" textLength="16.6" lengthAdjust="spacingAndGlyphs">20W</text>
</g>
<text x="566.0" y="128.2" font-size="18.4" textLength="70.3" lengthAdjust="spacing">cluster:</text>
<text x="653.5" y="128.2" font-size="18.4" text-anchor="middle">2</text>
<text x="682.9" y="128.2" font-size="18.4" textLength="92.5" lengthAdjust="spacing">membros:</text>
<text x="793.8" y="128.2" font-size="18.4" text-anchor="middle">2</text>
<g transform="translate(63.30,494.00)">
<g clip-path="url(#clip)">
<rect x="-2" y="-2" width="324.5" height="301.0" fill="#1E50D2"/>
<path d="M-13.3 287.9 C-7.6 288.3 10.1 289.5 20.8 290.5 C31.5 291.5 39.2 293.4 50.9 293.9 C62.6 294.4 77.7 293.9 91.0 293.5 C104.4 293.1 119.6 293.8 131.2 291.5 C142.8 289.2 152.4 281.8 160.7 279.4 C169.0 277.1 174.1 278.5 180.8 277.4 C187.5 276.4 194.2 274.8 200.8 273.4 C207.5 272.1 215.9 270.9 220.9 269.4 C225.9 267.9 225.9 265.7 230.9 264.4 C236.0 263.1 244.3 262.1 251.0 261.4 C257.7 260.7 264.4 260.6 271.1 260.4 C277.8 260.2 285.5 260.7 291.2 260.4 C296.8 260.1 300.4 259.2 305.2 258.4 C310.0 257.5 315.5 255.9 319.9 255.4 C324.2 254.8 329.4 255.0 331.3 255.0 L331.3 -20 L-13.3 -20 Z" fill="#1464D2"/>
<path d="M-3.8 268.2 C0.3 268.4 13.2 269.2 20.6 269.4 C28.0 269.5 34.0 269.2 40.6 269.0 C47.3 268.8 54.6 268.2 60.6 268.2 C66.6 268.2 71.6 268.4 76.7 269.0 C81.7 269.5 85.9 270.3 90.7 271.4 C95.4 272.4 101.3 274.3 105.1 275.4 C108.9 276.4 110.4 277.5 113.5 277.8 C116.5 278.0 119.7 277.9 123.5 277.0 C127.2 276.0 131.4 273.6 135.9 272.2 C140.4 270.7 146.2 269.3 150.3 268.2 C154.4 267.0 155.6 265.7 160.7 265.4 C165.8 265.1 174.1 267.2 180.8 266.4 C187.5 265.6 194.2 262.6 200.8 260.4 C207.5 258.2 214.2 255.0 220.9 253.4 C227.6 251.7 234.3 251.0 241.0 250.3 C247.7 249.7 254.4 249.7 261.1 249.3 C267.7 249.0 274.4 248.7 281.1 248.3 C287.8 248.0 294.7 248.2 301.2 247.3 C307.7 246.5 314.8 244.1 319.9 243.3 C324.9 242.6 329.4 243.0 331.3 242.9 L331.3 -20 L-3.8 -20 Z" fill="#1E6EEB"/>
<path d="M-3.8 242.2 C0.3 242.3 13.2 242.8 20.6 243.3 C28.0 243.9 34.0 244.7 40.6 245.3 C47.3 246.0 54.6 247.3 60.6 247.3 C66.6 247.3 72.6 245.4 76.7 245.3 C80.7 245.3 82.7 246.9 85.1 246.9 C87.4 247.0 88.8 247.0 90.7 245.8 C92.5 244.5 94.1 240.8 96.3 239.3 C98.4 237.9 101.5 236.9 103.5 237.3 C105.5 237.8 107.1 239.7 108.3 242.2 C109.5 244.6 110.4 248.8 110.7 252.2 C110.9 255.5 109.2 259.6 109.9 262.2 C110.5 264.8 112.4 266.7 114.7 267.8 C116.9 268.8 120.4 268.8 123.5 268.6 C126.5 268.3 129.5 267.2 133.1 266.2 C136.6 265.1 140.9 263.4 144.7 262.2 C148.5 260.9 153.2 260.4 155.9 258.6 C158.6 256.8 156.6 252.0 160.7 251.3 C164.8 250.7 174.1 255.0 180.8 254.4 C187.5 253.7 194.2 249.5 200.8 247.3 C207.5 245.2 214.2 242.7 220.9 241.3 C227.6 240.0 235.0 240.1 241.0 239.3 C247.0 238.5 251.7 236.6 257.0 236.3 C262.4 236.0 267.7 237.0 273.1 237.3 C278.5 237.6 283.8 238.6 289.1 238.3 C294.5 238.0 300.1 236.5 305.2 235.3 C310.3 234.1 315.5 232.0 319.9 231.3 C324.2 230.5 329.4 230.9 331.3 230.9 L331.3 -20 L-3.8 -20 Z" fill="#3C96F5"/>
<path d="M-3.8 222.1 C0.3 221.9 11.5 221.1 20.6 220.9 C29.7 220.7 42.3 220.3 50.6 220.9 C59.0 221.5 64.9 223.8 70.7 224.5 C76.4 225.3 81.5 224.7 85.1 225.3 C88.7 225.9 89.9 227.5 92.3 228.1 C94.6 228.8 96.7 228.4 99.1 229.3 C101.4 230.3 104.3 231.8 106.3 233.7 C108.2 235.7 109.7 238.6 110.7 240.9 C111.6 243.3 111.2 245.4 111.9 247.8 C112.5 250.1 113.5 253.4 114.7 255.0 C115.9 256.5 117.4 257.0 119.1 257.0 C120.7 257.0 122.3 256.2 124.7 255.0 C127.0 253.7 130.0 251.2 133.1 249.3 C136.1 247.5 139.8 245.4 143.1 243.8 C146.4 242.1 150.2 241.1 153.1 239.3 C156.0 237.6 157.8 233.0 160.7 233.3 C163.6 233.6 167.7 239.5 170.7 241.3 C173.8 243.2 175.8 245.0 178.8 244.3 C181.8 243.7 185.1 239.1 188.8 237.3 C192.5 235.5 195.5 234.3 200.8 233.3 C206.2 232.3 214.2 232.1 220.9 231.3 C227.6 230.4 235.3 229.3 241.0 228.3 C246.7 227.3 250.3 225.6 255.0 225.3 C259.7 224.9 264.1 225.8 269.1 226.3 C274.1 226.8 279.8 228.4 285.1 228.3 C290.5 228.1 295.4 226.1 301.2 225.3 C307.0 224.4 314.8 223.7 319.9 223.3 C324.9 222.9 329.4 222.9 331.3 222.8 L331.3 -20 L-3.8 -20 Z" fill="#78B9FA"/>
<path d="M-13.3 203.6 C-11.0 203.6 -4.9 203.3 0.7 203.6 C6.4 203.9 14.1 204.5 20.8 205.2 C27.5 205.9 34.9 207.0 40.9 207.8 C46.9 208.6 52.2 209.7 56.9 210.2 C61.6 210.7 65.6 211.3 69.0 210.8 C72.3 210.3 74.7 209.5 77.0 207.2 C79.3 204.9 81.2 200.8 83.0 197.2 C84.9 193.5 86.7 188.5 88.0 185.1 C89.4 181.8 90.1 179.2 91.0 177.1 C92.0 175.0 92.8 172.7 93.5 172.7 C94.1 172.7 94.5 175.0 95.1 177.1 C95.7 179.2 97.1 181.8 97.1 185.1 C97.1 188.5 95.9 193.5 95.1 197.2 C94.2 200.8 92.4 204.2 92.1 207.2 C91.7 210.2 91.9 213.5 93.1 215.2 C94.2 217.0 97.1 217.6 99.1 217.6 C101.1 217.6 103.1 215.3 105.1 215.2 C107.1 215.2 109.3 215.9 111.1 217.2 C113.0 218.6 114.8 220.9 116.1 223.3 C117.5 225.6 118.5 228.9 119.2 231.3 C119.8 233.6 119.5 235.8 120.2 237.3 C120.8 238.8 121.7 240.2 123.2 240.3 C124.7 240.5 126.5 239.5 129.2 238.3 C131.9 237.1 135.9 235.3 139.2 233.3 C142.6 231.3 145.7 228.4 149.3 226.3 C152.8 224.1 157.8 221.1 160.7 220.2 C163.6 219.4 164.7 220.2 166.7 221.2 C168.7 222.3 170.7 225.1 172.7 226.3 C174.7 227.4 176.8 228.2 178.8 228.3 C180.8 228.4 182.1 227.7 184.8 226.9 C187.5 226.0 190.5 224.4 194.8 223.3 C199.2 222.2 205.5 221.4 210.9 220.2 C216.2 219.1 221.2 217.4 226.9 216.2 C232.6 215.1 239.3 213.6 245.0 213.2 C250.7 212.9 255.4 213.9 261.1 214.2 C266.7 214.6 273.1 215.3 279.1 215.2 C285.1 215.1 290.4 214.1 297.2 213.6 C304.0 213.1 314.2 212.5 319.9 212.2 C325.5 211.9 329.4 211.9 331.3 211.8 L331.3 -20 L-13.3 -20 Z" fill="#FFE878"/>
<path d="M-3.8 189.7 C0.3 189.7 13.2 189.7 20.6 189.7 C28.0 189.8 35.0 190.2 40.6 190.1 C46.3 190.1 52.1 190.9 54.6 189.3 C57.2 187.8 56.8 183.3 55.8 180.9 C54.9 178.5 49.9 176.9 49.0 174.9 C48.2 172.9 48.7 170.9 50.6 168.9 C52.6 166.9 58.1 165.2 60.6 162.9 C63.2 160.6 64.8 158.2 65.8 154.9 C66.9 151.6 67.2 146.6 67.0 143.3 C66.8 140.0 66.0 137.6 64.6 135.3 C63.2 133.0 61.0 131.3 58.6 129.3 C56.3 127.3 52.3 125.1 50.6 123.3 C49.0 121.5 48.3 119.9 48.6 118.5 C49.0 117.1 51.0 115.2 52.6 114.9 C54.3 114.5 56.3 114.9 58.6 116.5 C61.0 118.1 63.6 122.0 66.6 124.5 C69.6 126.9 73.3 129.5 76.7 131.3 C80.0 133.1 83.3 133.3 86.7 135.3 C90.1 137.3 94.3 140.7 97.1 143.3 C99.8 145.9 102.1 147.6 103.1 150.9 C104.1 154.2 102.9 158.6 103.1 162.9 C103.2 167.2 103.2 172.9 103.9 176.9 C104.5 180.9 105.9 183.6 107.1 186.9 C108.3 190.3 109.9 193.3 111.1 196.9 C112.2 200.6 113.1 205.5 113.9 208.9 C114.7 212.3 115.0 214.9 115.9 217.3 C116.7 219.7 118.1 221.3 119.1 223.3 C120.1 225.3 120.6 227.5 121.9 229.3 C123.1 231.1 125.1 233.6 126.7 234.1 C128.3 234.7 129.4 233.7 131.5 232.5 C133.5 231.4 136.2 229.3 139.1 227.3 C142.0 225.3 145.8 222.6 149.1 220.5 C152.4 218.5 155.8 217.0 159.1 214.9 C162.4 212.9 165.5 208.3 168.7 208.2 C172.0 208.1 175.8 214.1 178.8 214.2 C181.8 214.4 183.8 211.1 186.8 209.2 C189.8 207.4 192.8 204.9 196.8 203.2 C200.8 201.5 205.9 199.5 210.9 199.2 C215.9 198.8 221.9 200.7 226.9 201.2 C231.9 201.7 236.6 202.3 241.0 202.2 C245.3 202.0 248.3 200.7 253.0 200.2 C257.7 199.7 263.7 199.5 269.1 199.2 C274.4 198.8 279.8 198.2 285.1 198.2 C290.5 198.2 295.4 198.7 301.2 199.2 C307.0 199.7 314.8 200.8 319.9 201.2 C324.9 201.6 329.4 201.5 331.3 201.6 L331.3 -20 L-3.8 -20 Z" fill="#FFC03C"/>
<path d="M-3.8 116.9 C-1.7 115.3 5.2 110.1 8.6 107.3 C12.0 104.5 13.6 102.1 16.6 100.1 C19.6 98.0 22.6 96.0 26.6 94.9 C30.6 93.7 36.6 94.1 40.6 93.3 C44.6 92.5 48.0 91.9 50.6 90.1 C53.3 88.2 56.4 84.9 56.6 82.0 C56.8 79.2 52.2 75.6 51.8 73.2 C51.5 70.9 52.8 69.1 54.6 68.0 C56.4 67.0 60.2 66.5 62.6 66.8 C65.0 67.2 67.6 68.0 69.0 70.0 C70.5 72.1 69.7 76.8 71.0 79.2 C72.4 81.7 75.2 83.9 77.0 84.9 C78.8 85.9 80.5 84.2 81.8 85.3 C83.2 86.3 83.9 88.3 85.1 91.3 C86.3 94.2 87.3 98.9 89.1 102.9 C90.8 106.8 93.2 110.9 95.5 114.9 C97.7 118.9 100.3 123.2 102.7 126.9 C105.0 130.5 107.8 132.9 109.5 136.9 C111.1 140.9 112.5 145.9 112.7 150.9 C112.9 155.9 111.3 162.2 110.7 166.9 C110.0 171.6 108.7 174.9 108.7 178.9 C108.7 182.9 109.9 186.2 110.7 190.9 C111.5 195.6 112.7 202.6 113.5 206.9 C114.3 211.3 114.7 214.3 115.5 216.9 C116.2 219.6 116.8 221.1 117.9 222.9 C118.9 224.7 120.3 226.5 121.9 227.7 C123.5 228.9 125.7 230.3 127.5 230.1 C129.3 230.0 130.5 228.1 132.7 226.9 C134.9 225.8 138.0 225.0 140.7 223.3 C143.4 221.7 146.0 219.2 149.1 216.9 C152.2 214.7 156.0 211.3 159.1 209.7 C162.2 208.2 164.9 207.9 167.5 207.7 C170.1 207.5 172.5 212.0 174.7 208.5 C176.9 205.1 177.1 191.0 180.8 187.1 C184.5 183.2 191.5 185.8 196.8 185.1 C202.2 184.5 207.9 183.1 212.9 183.1 C217.9 183.1 222.2 185.8 226.9 185.1 C231.6 184.5 236.3 180.4 241.0 179.1 C245.7 177.8 250.3 177.6 255.0 177.1 C259.7 176.6 264.1 175.8 269.1 176.1 C274.1 176.4 280.5 178.3 285.1 179.1 C289.8 179.9 293.2 181.3 297.2 181.1 C301.2 180.9 305.4 178.4 309.2 178.1 C313.0 177.8 316.2 178.9 319.9 179.1 C323.5 179.3 329.4 179.1 331.3 179.1 L331.3 -20 L-3.8 -20 Z" fill="#FFA000"/>
<path d="M-3.8 48.8 C0.3 49.6 13.2 52.6 20.6 53.6 C28.0 54.7 34.0 54.9 40.6 55.2 C47.3 55.6 55.9 55.2 60.6 55.6 C65.4 56.1 67.0 56.4 69.0 58.0 C71.1 59.6 71.9 62.4 72.7 65.2 C73.4 68.1 72.9 72.4 73.5 75.2 C74.0 78.1 74.8 80.5 75.8 82.0 C76.8 83.6 77.9 82.9 79.5 84.5 C81.0 86.0 83.5 88.2 85.1 91.3 C86.7 94.3 87.3 98.9 89.1 102.9 C90.8 106.8 93.2 110.9 95.5 114.9 C97.7 118.9 100.3 123.2 102.7 126.9 C105.0 130.5 107.8 132.9 109.5 136.9 C111.1 140.9 112.3 145.9 112.7 150.9 C113.0 155.9 111.9 162.2 111.5 166.9 C111.0 171.6 109.8 174.9 109.9 178.9 C109.9 182.9 111.1 186.2 111.9 190.9 C112.7 195.6 113.8 202.8 114.7 206.9 C115.5 211.1 116.1 213.4 117.1 215.7 C118.0 218.1 118.7 219.6 120.3 220.9 C121.9 222.3 124.7 223.7 126.7 223.7 C128.7 223.8 129.7 222.5 132.3 221.3 C134.8 220.2 138.8 218.6 141.9 216.9 C145.0 215.3 147.8 213.5 150.7 211.3 C153.6 209.2 156.0 206.6 159.1 204.1 C162.2 201.7 166.0 199.1 169.1 196.5 C172.2 193.9 175.2 190.9 177.5 188.5 C179.8 186.1 181.4 184.6 183.1 182.1 C184.8 179.6 186.1 176.0 187.5 173.7 C188.9 171.4 189.0 169.4 191.5 168.1 C194.1 166.8 198.9 166.2 202.7 165.7 C206.5 165.2 210.3 165.4 214.3 165.3 C218.3 165.2 221.6 165.8 226.7 165.3 C231.9 164.8 239.4 163.0 245.2 162.1 C250.9 161.2 257.2 161.3 261.2 160.1 C265.2 158.9 267.5 156.4 269.2 154.9 C270.8 153.4 270.8 153.5 271.2 150.9 C271.5 148.3 270.5 142.9 271.2 139.3 C271.8 135.7 274.5 132.3 275.2 129.3 C275.8 126.3 274.2 123.4 275.2 121.3 C276.2 119.1 278.2 118.1 281.2 116.5 C284.2 114.8 289.8 113.1 293.2 111.3 C296.5 109.4 298.8 107.9 301.2 105.3 C303.5 102.6 304.9 97.8 307.2 95.3 C309.5 92.7 312.3 91.3 315.2 90.1 C318.1 88.9 322.9 88.4 324.4 88.1 L324.4 -20 L-3.8 -20 Z" fill="#FF6400"/>
<path d="M-3.8 -7.2 C-1.4 -12.1 8.1 -8.9 10.6 -7.2 C13.1 -5.5 11.1 0.3 11.0 2.8 C10.9 5.3 10.7 5.7 10.2 7.6 C9.7 9.5 9.1 12.1 7.8 14.0 C6.5 15.9 4.5 17.5 2.6 18.8 C0.7 20.2 -2.7 26.4 -3.8 22.0 C-4.9 17.7 -6.2 -2.3 -3.8 -7.2 Z" fill="#FF3200"/>
<path d="M39.8 9.2 C40.8 8.7 45.8 9.7 48.6 10.8 C51.4 11.9 55.1 14.7 56.6 16.0 C58.2 17.3 58.8 18.5 57.8 18.8 C56.8 19.2 53.2 18.8 50.6 18.0 C48.1 17.2 44.4 15.5 42.6 14.0 C40.8 12.5 38.8 9.7 39.8 9.2 Z" fill="#FF3200"/>
<path d="M68.0 -4.2 C81.2 -7.1 135.6 -6.1 150.8 -4.2 C165.9 -2.3 156.8 3.8 158.8 7.0 C160.8 10.2 158.8 13.0 162.8 15.0 C166.8 17.0 178.1 15.7 182.8 19.0 C187.5 22.4 190.8 30.4 190.8 35.0 C190.8 39.7 188.1 43.7 182.8 47.0 C177.5 50.4 170.8 53.7 158.8 55.0 C146.8 56.4 124.0 60.0 110.8 55.0 C97.5 50.0 85.8 32.0 79.2 25.0 C72.5 18.0 73.0 17.9 71.2 13.0 C69.3 8.1 54.7 -1.3 68.0 -4.2 Z" fill="#FF3200"/>
<path d="M160.7 11.1 C164.0 5.2 175.4 15.6 180.8 16.1 C186.1 16.6 190.1 12.9 192.8 14.1 C195.5 15.2 197.2 19.3 196.8 23.1 C196.5 27.0 191.1 33.1 190.8 37.2 C190.5 41.2 192.1 44.9 194.8 47.2 C197.5 49.5 203.9 49.2 206.9 51.2 C209.9 53.2 210.5 55.9 212.9 59.2 C215.2 62.6 222.9 68.6 220.9 71.3 C218.9 74.0 210.9 78.6 200.8 75.3 C190.8 72.0 167.4 61.9 160.7 51.2 C154.0 40.5 157.4 16.9 160.7 11.1 Z" fill="#FF3200"/>
<path d="M199.8 24.1 C201.2 22.1 207.0 22.1 210.9 22.1 C214.7 22.1 220.4 22.8 222.9 24.1 C225.4 25.5 226.3 27.8 225.9 30.1 C225.6 32.5 223.4 36.7 220.9 38.2 C218.4 39.7 213.9 39.8 210.9 39.2 C207.9 38.5 204.7 36.7 202.8 34.1 C201.0 31.6 198.5 26.1 199.8 24.1 Z" fill="#FF3200"/>
<path d="M246.0 26.1 C246.3 24.3 248.5 22.3 251.0 21.1 C253.5 19.9 257.7 18.9 261.1 19.1 C264.4 19.3 267.7 22.1 271.1 22.1 C274.4 22.1 277.8 20.6 281.1 19.1 C284.5 17.6 288.5 15.1 291.2 13.1 C293.8 11.1 295.8 9.4 297.2 7.1 C298.5 4.7 294.2 0.4 299.2 -1.0 C304.2 -2.3 322.6 -6.7 327.3 -1.0 C332.0 4.7 329.6 27.0 327.3 33.1 C324.9 39.3 317.6 35.3 313.2 36.2 C308.9 37.0 304.9 37.7 301.2 38.2 C297.5 38.7 294.5 39.5 291.2 39.2 C287.8 38.8 284.8 36.7 281.1 36.2 C277.4 35.7 273.1 36.5 269.1 36.2 C265.1 35.8 260.4 34.8 257.0 34.1 C253.7 33.5 250.8 33.5 249.0 32.1 C247.2 30.8 245.7 28.0 246.0 26.1 Z" fill="#FF3200"/>
<path d="M229.9 60.2 C230.4 57.4 234.8 53.9 237.0 51.2 C239.1 48.5 240.6 45.7 243.0 44.2 C245.3 42.7 248.3 42.0 251.0 42.2 C253.7 42.3 258.4 42.7 259.1 45.2 C259.7 47.7 255.4 52.9 255.0 57.2 C254.7 61.6 255.5 67.6 257.0 71.3 C258.5 75.0 262.9 77.0 264.1 79.3 C265.2 81.7 265.6 83.3 264.1 85.3 C262.6 87.3 257.9 88.8 255.0 91.3 C252.2 93.9 249.3 97.4 247.0 100.4 C244.7 103.4 242.5 108.6 241.0 109.4 C239.5 110.3 238.1 107.7 238.0 105.4 C237.8 103.1 239.8 98.7 240.0 95.4 C240.1 92.0 239.8 88.7 239.0 85.3 C238.1 82.0 235.8 78.1 235.0 75.3 C234.1 72.5 234.8 70.8 234.0 68.3 C233.1 65.8 229.4 63.1 229.9 60.2 Z" fill="#FF3200"/>
<path d="M71.0 12.8 C69.7 12.5 76.4 22.0 79.0 24.8 C81.7 27.7 86.1 28.0 87.1 30.0 C88.1 32.0 86.4 33.7 85.1 36.8 C83.7 40.0 80.9 45.1 79.0 48.8 C77.2 52.6 75.2 55.5 73.8 59.2 C72.5 63.0 70.8 67.4 71.0 71.2 C71.2 75.1 73.4 79.7 75.0 82.0 C76.7 84.4 79.4 83.7 81.0 85.3 C82.7 86.8 83.7 88.3 85.1 91.3 C86.4 94.3 87.1 99.6 89.1 103.3 C91.1 106.9 94.4 110.3 97.1 113.3 C99.7 116.3 102.7 118.3 105.1 121.3 C107.4 124.3 109.7 127.9 111.1 131.3 C112.5 134.6 113.0 138.0 113.5 141.3 C113.9 144.6 113.5 146.6 113.9 150.9 C114.2 155.2 114.9 161.7 115.5 166.9 C116.0 172.1 116.9 177.2 117.1 182.1 C117.3 187.0 116.3 192.2 116.7 196.5 C117.1 200.8 118.1 204.7 119.5 207.7 C120.9 210.8 123.0 213.3 125.1 214.9 C127.1 216.6 129.3 217.5 131.9 217.7 C134.5 217.9 137.8 216.9 140.7 216.1 C143.6 215.4 146.0 215.2 149.1 213.3 C152.2 211.5 156.0 207.5 159.1 204.9 C162.2 202.3 164.4 200.3 167.5 197.7 C170.6 195.1 174.4 192.1 177.5 189.3 C180.6 186.5 183.6 183.5 185.9 180.9 C188.3 178.3 189.7 176.1 191.5 173.7 C193.4 171.3 195.3 168.6 197.1 166.5 C199.0 164.4 200.8 163.5 202.7 160.9 C204.7 158.3 206.7 153.5 208.7 150.9 C210.7 148.3 213.1 147.9 214.7 145.3 C216.4 142.7 217.7 139.3 218.7 135.3 C219.7 131.3 219.7 125.3 220.7 121.3 C221.7 117.3 223.2 114.3 224.7 111.3 C226.3 108.3 228.1 106.6 229.9 103.3 C231.8 99.9 234.6 94.9 235.9 91.3 C237.3 87.6 238.1 83.9 237.9 81.2 C237.8 78.6 236.7 76.9 235.1 75.2 C233.6 73.6 230.6 72.0 228.7 71.2 C226.9 70.5 228.2 71.7 223.9 70.8 C219.7 70.0 209.1 67.6 203.1 66.0 C197.2 64.5 191.7 63.3 188.3 61.6 C184.9 60.0 184.5 59.7 182.7 56.0 C180.9 52.4 180.6 43.4 177.5 39.6 C174.4 35.9 168.3 35.3 164.3 33.6 C160.3 32.0 157.0 31.8 153.5 29.6 C150.0 27.5 145.8 23.4 143.5 20.8 C141.2 18.2 143.4 15.0 139.9 14.0 C136.4 13.0 128.0 15.9 122.3 14.8 C116.5 13.7 110.5 7.5 105.5 7.6 C100.4 7.7 94.9 12.4 91.9 15.6 C88.8 18.8 90.5 27.3 87.1 26.8 C83.6 26.4 72.4 13.1 71.0 12.8 Z" fill="#FF3200"/>
<path d="M83.9 32.0 C86.1 29.9 91.4 28.7 95.1 28.0 C98.7 27.4 103.4 27.0 105.9 28.0 C108.3 29.0 110.0 31.7 109.9 34.0 C109.7 36.4 106.9 39.4 105.1 42.0 C103.3 44.7 101.1 47.4 99.1 50.0 C97.1 52.7 94.7 55.0 93.1 58.0 C91.4 61.0 90.3 64.7 89.1 68.0 C87.9 71.4 87.5 75.8 85.9 78.0 C84.2 80.2 80.9 82.4 79.0 81.2 C77.2 80.1 75.4 74.9 75.0 71.2 C74.7 67.6 76.2 62.9 77.0 59.2 C77.8 55.6 79.0 52.3 79.8 49.2 C80.6 46.2 81.2 43.7 81.8 40.8 C82.5 38.0 81.7 34.2 83.9 32.0 Z" fill="#FF6400"/>
<path d="M85.1 34.0 C87.1 32.2 91.7 30.7 95.1 30.0 C98.4 29.4 102.9 29.4 105.1 30.0 C107.2 30.7 108.2 32.2 107.9 34.0 C107.5 35.8 104.9 38.3 103.1 40.8 C101.3 43.4 99.1 46.5 97.1 49.2 C95.1 52.0 92.7 54.2 91.1 57.2 C89.4 60.2 88.3 63.9 87.1 67.2 C85.9 70.6 85.2 75.2 83.9 77.2 C82.5 79.2 80.4 80.2 79.0 79.2 C77.7 78.2 76.0 74.6 75.8 71.2 C75.6 67.9 77.0 62.9 77.8 59.2 C78.7 55.6 80.2 52.3 81.0 49.2 C81.9 46.2 82.4 43.4 83.0 40.8 C83.7 38.3 83.1 35.8 85.1 34.0 Z" fill="#FFA000"/>
<path d="M89.1 36.8 C91.6 34.1 96.7 33.0 99.1 32.8 C101.4 32.7 103.4 34.0 103.1 36.0 C102.7 38.1 99.3 42.0 97.1 45.2 C94.9 48.4 91.9 51.6 89.9 55.2 C87.9 58.9 86.5 64.6 85.1 67.2 C83.6 69.9 81.9 72.3 81.0 71.2 C80.2 70.2 79.4 64.9 79.8 61.2 C80.3 57.6 82.3 53.3 83.9 49.2 C85.4 45.2 86.5 39.6 89.1 36.8 Z" fill="#FFC03C"/>
<path d="M79.0 59.2 C79.7 57.2 82.0 54.9 83.0 55.2 C84.1 55.6 85.3 59.1 85.1 61.2 C84.9 63.4 82.9 67.0 81.8 68.0 C80.8 69.1 79.5 68.7 79.0 67.2 C78.6 65.8 78.4 61.2 79.0 59.2 Z" fill="#FFE878"/>
<path d="M125.1 40.8 C125.9 38.8 128.3 37.6 130.7 36.8 C133.1 36.0 136.7 35.7 139.5 36.0 C142.3 36.4 146.3 37.0 147.5 38.8 C148.7 40.6 148.0 44.7 146.7 46.8 C145.4 49.0 142.2 50.6 139.5 51.6 C136.8 52.7 132.9 53.7 130.7 53.2 C128.4 52.8 126.8 50.9 125.9 48.8 C124.9 46.8 124.3 42.8 125.1 40.8 Z" fill="#FF6400"/>
<path d="M129.5 44.0 C130.3 43.0 132.6 42.2 134.7 42.0 C136.8 41.8 140.8 41.9 141.9 42.8 C143.0 43.8 142.3 46.6 141.1 47.6 C139.9 48.7 136.6 49.2 134.7 49.2 C132.8 49.3 130.7 48.9 129.9 48.0 C129.0 47.2 128.7 45.0 129.5 44.0 Z" fill="#FFA000"/>
<path d="M106.7 15.6 C107.6 14.5 110.3 13.7 111.9 14.0 C113.5 14.3 115.8 15.8 116.3 17.2 C116.7 18.7 115.8 21.8 114.7 22.8 C113.5 23.9 110.9 24.0 109.5 23.6 C108.1 23.2 106.7 21.8 106.3 20.4 C105.8 19.1 105.7 16.7 106.7 15.6 Z" fill="#FF6400"/>
<path d="M102.7 50.8 C103.3 49.9 106.1 49.0 107.5 49.2 C108.8 49.4 110.5 51.0 110.7 52.0 C110.8 53.1 109.4 55.2 108.3 55.6 C107.1 56.1 104.8 55.6 103.9 54.8 C102.9 54.0 102.1 51.8 102.7 50.8 Z" fill="#FF6400"/>
<path d="M100.1 103.4 C96.1 99.7 93.2 95.4 91.0 91.3 C88.9 87.3 87.4 83.3 87.0 79.3 C86.7 75.3 88.2 70.4 89.0 67.3 C89.9 64.1 91.0 62.1 92.1 60.2 C93.1 58.4 94.9 56.0 95.5 56.2 C96.0 56.5 95.9 59.1 95.5 61.6 C95.1 64.2 93.1 68.3 93.1 71.3 C93.0 74.2 94.1 77.8 95.1 79.3 C96.1 80.8 98.1 81.0 99.1 80.3 C100.1 79.7 100.1 77.5 101.1 75.3 C102.1 73.1 103.1 68.9 105.1 67.3 C107.1 65.6 110.6 66.9 113.1 65.3 C115.6 63.6 117.8 58.4 120.2 57.2 C122.5 56.1 124.7 57.9 127.2 58.2 C129.7 58.6 132.5 57.7 135.2 59.2 C137.9 60.7 140.7 65.9 143.2 67.3 C145.7 68.6 148.8 68.6 150.3 67.3 C151.8 65.9 152.3 62.2 152.3 59.2 C152.3 56.2 150.1 52.6 150.3 49.2 C150.4 45.9 152.4 41.7 153.3 39.2 C154.1 36.7 154.0 35.0 155.3 34.1 C156.5 33.3 158.5 33.5 160.7 34.1 C162.9 34.8 166.4 36.0 168.7 38.2 C171.1 40.3 172.7 44.0 174.8 47.2 C176.8 50.4 178.1 54.4 180.8 57.2 C183.4 60.1 188.0 62.8 190.8 64.3 C193.7 65.8 196.8 64.1 197.8 66.3 C198.8 68.4 197.3 73.1 196.8 77.3 C196.3 81.5 195.8 87.0 194.8 91.3 C193.8 95.7 193.0 99.7 190.8 103.4 C188.6 107.1 185.2 111.7 181.8 113.6 C178.4 115.5 173.5 115.1 170.4 115.0 C167.4 114.9 164.7 112.4 163.4 112.9 C162.1 113.4 162.2 115.4 162.7 117.8 C163.1 120.3 165.0 125.0 166.2 127.8 C167.4 130.5 168.1 132.8 169.8 134.1 C171.4 135.4 173.9 135.8 176.1 135.6 C178.4 135.3 180.8 132.1 183.2 132.7 C185.6 133.3 188.4 137.1 190.3 139.1 C192.2 141.1 193.5 142.9 194.5 144.8 C195.6 146.6 196.4 148.9 196.7 150.4 C196.9 151.9 196.8 152.5 196.0 153.8 C195.1 155.0 193.4 158.0 191.7 158.0 C190.1 158.0 188.2 154.2 186.0 153.8 C183.9 153.3 180.6 154.2 179.0 155.2 C177.3 156.1 177.1 157.5 176.1 159.4 C175.2 161.3 173.5 164.1 173.3 166.5 C173.1 168.9 175.4 171.5 174.7 173.6 C174.0 175.7 171.2 177.8 169.0 179.2 C166.9 180.7 163.6 180.4 161.9 182.1 C160.3 183.7 160.5 186.3 159.1 189.2 C157.7 192.0 155.0 196.5 153.4 199.1 C151.9 201.7 151.8 203.8 149.9 204.8 C148.0 205.7 144.7 205.5 142.1 204.8 C139.5 204.0 136.0 202.2 134.3 200.5 C132.7 198.8 132.2 196.7 132.2 194.8 C132.2 193.0 133.5 191.1 134.3 189.2 C135.2 187.3 137.0 185.2 137.2 183.5 C137.3 181.8 136.1 180.9 135.0 179.2 C134.0 177.6 131.4 176.2 130.8 173.6 C130.2 171.0 131.1 167.2 131.5 163.7 C131.8 160.1 132.7 156.1 132.9 152.3 C133.1 148.6 132.6 143.9 132.9 141.0 C133.2 138.1 135.1 137.0 134.9 135.1 C134.8 133.1 134.0 131.2 132.1 129.0 C130.2 126.9 126.4 124.6 123.6 122.0 C120.8 119.4 119.0 116.6 115.1 113.5 C111.2 110.4 104.1 107.1 100.1 103.4 Z" fill="#E11400"/>
<path d="M154.0 67.0 C155.3 64.2 158.0 61.2 160.8 59.8 C163.6 58.5 167.7 58.2 170.8 59.0 C173.9 59.9 177.7 62.0 179.6 65.0 C181.5 68.0 182.5 73.4 182.0 77.0 C181.5 80.7 179.3 84.7 176.8 87.1 C174.3 89.4 169.9 91.1 166.8 91.1 C163.7 91.1 160.3 89.4 158.0 87.1 C155.7 84.7 153.5 80.4 152.8 77.0 C152.1 73.7 152.7 69.9 154.0 67.0 Z" fill="#CD3C3C"/>
<path d="M116.0 106.3 C117.1 105.2 121.6 106.7 124.8 107.9 C127.9 109.0 131.5 111.1 134.8 113.1 C138.1 115.1 141.5 117.7 144.8 119.9 C148.1 122.1 150.8 125.1 154.8 126.3 C158.8 127.5 164.8 126.6 168.8 127.1 C172.8 127.5 175.8 127.7 178.8 129.1 C181.8 130.4 184.5 132.8 186.8 135.1 C189.2 137.4 191.6 140.6 192.8 143.1 C194.0 145.6 194.7 148.3 194.0 150.3 C193.4 152.3 191.4 154.0 188.8 155.1 C186.3 156.2 181.3 155.9 178.8 157.1 C176.3 158.3 175.0 160.0 174.0 162.3 C173.0 164.6 173.3 168.3 172.8 171.1 C172.3 173.9 171.9 176.3 170.8 179.1 C169.7 181.9 168.0 185.4 166.0 187.9 C164.0 190.5 161.5 193.0 158.8 194.3 C156.1 195.7 152.5 196.5 150.0 195.9 C147.5 195.4 144.9 193.6 143.6 191.1 C142.3 188.7 141.8 184.4 142.0 181.1 C142.2 177.8 144.7 174.1 144.8 171.1 C144.9 168.1 144.3 165.4 142.8 163.1 C141.3 160.8 136.9 159.8 135.6 157.1 C134.3 154.4 134.8 150.6 134.8 147.1 C134.8 143.6 135.9 138.8 135.6 135.9 C135.3 133.0 134.6 131.7 132.8 129.5 C131.0 127.2 127.2 124.8 124.8 122.3 C122.3 119.7 119.4 116.9 118.0 114.3 C116.5 111.6 114.8 107.3 116.0 106.3 Z" fill="#CD3C3C"/>
<path d="M140.8 129.1 C142.9 127.6 147.1 126.3 150.8 126.3 C154.5 126.3 159.1 127.9 162.8 129.1 C166.5 130.2 170.1 131.1 172.8 133.1 C175.5 135.1 177.7 138.1 178.8 141.1 C179.9 144.1 180.3 148.1 179.6 151.1 C178.9 154.1 176.9 156.8 174.8 159.1 C172.7 161.4 169.8 163.9 166.8 165.1 C163.8 166.3 160.1 166.6 156.8 166.3 C153.5 166.0 149.7 165.0 146.8 163.1 C143.9 161.2 141.2 158.1 139.6 155.1 C138.0 152.1 137.5 148.4 137.2 145.1 C136.9 141.8 137.4 137.8 138.0 135.1 C138.6 132.4 138.7 130.5 140.8 129.1 Z" fill="#C00000"/>
<path d="M185.9 115.7 C186.7 114.0 189.0 113.0 190.7 112.9 C192.5 112.7 195.1 113.5 196.3 114.9 C197.5 116.2 198.2 118.9 197.9 120.9 C197.7 122.9 196.2 125.7 194.7 126.9 C193.3 128.0 190.6 128.3 189.1 127.7 C187.7 127.0 186.5 124.9 185.9 122.9 C185.4 120.9 185.1 117.3 185.9 115.7 Z" fill="#FF6400"/>
<path d="M188.3 119.7 C188.9 118.9 190.7 117.8 191.5 118.1 C192.3 118.3 193.3 120.3 193.1 121.3 C193.0 122.3 191.5 123.8 190.7 124.1 C189.9 124.3 188.7 123.6 188.3 122.9 C187.9 122.1 187.8 120.5 188.3 119.7 Z" fill="#FFA000"/>
<path d="M194.7 134.9 C195.2 133.1 198.4 132.7 200.7 132.9 C203.1 133.0 207.2 134.2 208.7 135.7 C210.3 137.2 210.6 140.5 209.9 142.1 C209.3 143.7 206.7 145.0 204.7 145.3 C202.7 145.6 199.6 145.4 197.9 143.7 C196.3 142.0 194.3 136.7 194.7 134.9 Z" fill="#FF6400"/>
<path d="M177.5 160.5 C178.3 159.4 180.4 158.9 181.9 158.9 C183.4 158.9 186.1 159.3 186.7 160.5 C187.4 161.7 186.9 164.9 185.9 166.1 C185.0 167.3 182.6 167.8 181.1 167.7 C179.6 167.6 177.7 166.5 177.1 165.3 C176.5 164.1 176.7 161.6 177.5 160.5 Z" fill="#FF6400"/>
<path d="M111.1 34.1 C110.1 32.8 111.5 29.6 113.1 28.1 C114.8 26.6 118.1 25.6 121.2 25.1 C124.2 24.6 128.0 25.5 131.2 25.1 C134.4 24.8 137.2 22.3 140.2 23.1 C143.2 23.9 148.4 28.5 149.3 30.1 C150.1 31.8 147.6 32.5 145.2 33.1 C142.9 33.8 137.9 33.6 135.2 34.1 C132.5 34.7 131.9 35.8 129.2 36.2 C126.5 36.5 122.2 36.5 119.2 36.2 C116.1 35.8 112.1 35.5 111.1 34.1 Z" fill="#E11400"/>
<path d="M90.5 20.7 C90.2 19.5 91.2 18.1 92.1 17.5 C92.9 16.9 94.5 16.7 95.5 17.1 C96.5 17.5 97.8 19.0 98.1 20.1 C98.3 21.2 97.8 22.7 97.1 23.5 C96.3 24.3 94.6 25.2 93.5 24.7 C92.4 24.3 90.7 21.9 90.5 20.7 Z" fill="#E11400"/>
<path d="M204.9 75.3 C205.2 74.3 211.9 71.3 214.9 71.3 C217.9 71.3 220.7 73.5 222.9 75.3 C225.1 77.1 227.6 80.0 227.9 82.3 C228.3 84.7 226.4 87.2 224.9 89.3 C223.4 91.5 221.3 94.2 218.9 95.4 C216.6 96.5 212.4 97.0 210.9 96.4 C209.4 95.7 208.9 92.9 209.9 91.3 C210.9 89.8 215.4 89.0 216.9 87.3 C218.4 85.7 219.6 83.0 218.9 81.3 C218.2 79.6 215.2 78.3 212.9 77.3 C210.5 76.3 204.5 76.3 204.9 75.3 Z" fill="#E11400"/>
<path d="M305.2 7.6 C306.0 6.4 308.9 5.6 310.8 6.0 C312.7 6.4 314.7 9.9 316.4 10.0 C318.1 10.1 320.1 4.0 321.2 6.8 C322.3 9.6 323.7 23.9 322.8 26.8 C321.9 29.8 317.8 25.6 315.6 24.4 C313.4 23.2 311.2 21.5 309.6 19.6 C308.0 17.8 306.7 15.2 306.0 13.2 C305.3 11.2 304.4 8.8 305.2 7.6 Z" fill="#E11400"/>
<path d="M82.4 88.8 C83.4 88.3 87.9 90.0 91.9 92.3 C95.8 94.6 103.3 100.1 106.2 102.7 C109.1 105.3 108.2 106.2 109.5 107.9 C110.7 109.7 111.7 110.9 113.7 113.1 C115.8 115.3 119.0 118.5 121.8 121.1 C124.5 123.6 128.3 126.2 130.3 128.4 C132.2 130.5 133.0 131.2 133.4 133.9 C133.7 136.7 132.5 141.5 132.6 145.1 C132.6 148.7 134.3 151.7 133.6 155.7 C132.9 159.7 129.9 165.6 128.1 169.2 C126.3 172.8 124.4 174.7 123.0 177.3 C121.7 179.9 120.9 184.2 120.0 184.9 C119.0 185.5 118.4 182.1 117.2 181.2 C116.1 180.2 114.2 181.3 113.1 178.9 C112.0 176.5 110.9 170.9 110.7 166.9 C110.4 162.9 111.2 158.9 111.5 154.9 C111.7 150.9 112.7 146.8 112.3 142.9 C111.9 139.0 110.7 134.9 109.1 131.7 C107.5 128.5 104.9 126.2 102.7 123.7 C100.4 121.1 97.6 118.9 95.5 116.5 C93.3 114.1 91.3 111.9 89.9 109.3 C88.4 106.7 87.3 103.1 86.7 100.9 C86.0 98.6 86.6 97.7 85.9 95.7 C85.1 93.7 81.4 89.4 82.4 88.8 Z" fill="#FF6400"/>
<path d="M82.9 89.3 C83.9 88.8 88.1 90.8 91.4 93.0 C94.8 95.2 100.3 100.1 102.9 102.6 C105.6 105.1 105.7 106.5 107.3 108.2 C108.8 109.9 110.1 110.7 112.2 112.7 C114.3 114.7 117.1 117.6 119.7 120.1 C122.4 122.6 126.2 125.5 128.2 127.6 C130.2 129.7 131.0 130.0 131.6 132.7 C132.1 135.3 131.4 139.9 131.6 143.5 C131.7 147.1 133.1 150.3 132.4 154.3 C131.7 158.3 129.1 163.8 127.5 167.4 C125.8 170.9 123.9 173.0 122.5 175.5 C121.1 178.0 120.2 181.8 119.2 182.6 C118.2 183.3 117.5 180.7 116.4 180.1 C115.4 179.5 114.0 181.1 113.1 178.9 C112.1 176.7 110.9 170.9 110.7 166.9 C110.4 162.9 111.2 158.9 111.5 154.9 C111.7 150.9 112.7 146.8 112.3 142.9 C111.9 139.0 110.7 134.9 109.1 131.7 C107.5 128.5 104.9 126.2 102.7 123.7 C100.4 121.1 97.6 118.9 95.5 116.5 C93.3 114.1 91.3 111.9 89.9 109.3 C88.4 106.7 87.3 103.1 86.7 100.9 C86.0 98.6 86.5 97.6 85.9 95.7 C85.2 93.7 82.0 89.7 82.9 89.3 Z" fill="#FFA000"/>
<path d="M83.5 89.7 C84.4 89.4 88.3 91.6 91.0 93.7 C93.7 95.9 97.4 100.0 99.7 102.5 C102.0 104.9 103.2 106.9 105.0 108.5 C106.8 110.1 108.6 110.6 110.7 112.3 C112.8 114.1 115.1 116.7 117.7 119.1 C120.3 121.5 124.1 124.8 126.2 126.9 C128.2 128.9 129.1 128.9 129.8 131.4 C130.5 133.9 130.3 138.3 130.6 141.9 C130.8 145.5 131.8 149.0 131.1 152.9 C130.5 156.9 128.3 162.0 126.8 165.5 C125.3 169.0 123.4 171.2 122.0 173.7 C120.6 176.2 119.4 179.4 118.4 180.3 C117.3 181.1 116.6 179.2 115.7 179.0 C114.8 178.8 113.9 180.9 113.1 178.9 C112.2 176.9 110.9 170.9 110.7 166.9 C110.4 162.9 111.2 158.9 111.5 154.9 C111.7 150.9 112.7 146.8 112.3 142.9 C111.9 139.0 110.7 134.9 109.1 131.7 C107.5 128.5 104.9 126.2 102.7 123.7 C100.4 121.1 97.6 118.9 95.5 116.5 C93.3 114.1 91.3 111.9 89.9 109.3 C88.4 106.7 87.3 103.1 86.7 100.9 C86.0 98.6 86.4 97.5 85.9 95.7 C85.3 93.8 82.7 90.0 83.5 89.7 Z" fill="#FFC03C"/>
<path d="M84.1 90.1 C84.9 89.9 88.5 92.4 90.6 94.5 C92.6 96.5 94.4 99.9 96.5 102.3 C98.5 104.7 100.7 107.2 102.8 108.8 C104.9 110.4 107.0 110.4 109.2 111.9 C111.3 113.5 113.2 115.8 115.7 118.1 C118.2 120.5 122.0 124.1 124.1 126.1 C126.2 128.1 127.1 127.8 128.0 130.2 C128.9 132.5 129.2 136.8 129.6 140.3 C129.9 143.9 130.5 147.7 129.9 151.6 C129.4 155.5 127.6 160.2 126.2 163.6 C124.8 167.0 122.9 169.5 121.5 171.9 C120.1 174.3 118.7 177.0 117.6 178.0 C116.5 179.0 115.7 177.8 114.9 177.9 C114.2 178.1 113.8 180.7 113.1 178.9 C112.4 177.1 110.9 170.9 110.7 166.9 C110.4 162.9 111.2 158.9 111.5 154.9 C111.7 150.9 112.7 146.8 112.3 142.9 C111.9 139.0 110.7 134.9 109.1 131.7 C107.5 128.5 104.9 126.2 102.7 123.7 C100.4 121.1 97.6 118.9 95.5 116.5 C93.3 114.1 91.3 111.9 89.9 109.3 C88.4 106.7 87.3 103.1 86.7 100.9 C86.0 98.6 86.3 97.4 85.9 95.7 C85.4 93.9 83.3 90.3 84.1 90.1 Z" fill="#FFE878"/>
<path d="M86.7 98.1 C86.1 98.9 86.8 104.4 87.9 107.3 C88.9 110.1 91.2 112.9 93.1 115.3 C94.9 117.6 96.7 118.9 99.1 121.3 C101.4 123.6 104.9 126.3 107.1 129.3 C109.3 132.3 111.3 136.0 112.3 139.3 C113.3 142.6 113.3 145.8 113.1 149.3 C112.8 152.8 110.9 157.0 110.7 160.5 C110.4 164.0 111.0 167.9 111.5 170.5 C112.0 173.1 112.9 175.5 113.7 176.1 C114.5 176.7 115.1 175.3 116.3 174.1 C117.4 172.9 119.2 171.2 120.7 168.9 C122.1 166.6 123.9 163.8 125.1 160.5 C126.3 157.2 127.4 153.1 127.9 149.3 C128.3 145.5 128.3 141.2 127.9 137.7 C127.4 134.2 126.3 130.2 125.1 128.1 C123.9 125.9 122.8 126.8 120.7 124.9 C118.5 122.9 114.6 118.7 112.3 116.5 C109.9 114.2 108.9 112.5 106.7 111.3 C104.5 110.1 101.7 110.8 99.1 109.3 C96.5 107.7 93.1 103.9 91.1 102.1 C89.0 100.2 87.2 97.2 86.7 98.1 Z" fill="#78B9FA"/>
<path d="M89.5 103.7 C89.7 104.8 92.1 110.2 93.9 112.9 C95.7 115.5 97.9 117.2 100.3 119.7 C102.7 122.1 106.0 124.6 108.3 127.7 C110.5 130.7 112.8 134.5 113.9 138.1 C114.9 141.7 114.8 145.6 114.7 149.3 C114.5 153.0 113.2 157.0 113.1 160.5 C112.9 164.0 113.3 168.5 113.9 170.1 C114.4 171.7 115.3 170.9 116.3 170.1 C117.2 169.3 118.3 167.2 119.5 165.3 C120.6 163.4 122.1 161.6 123.1 158.9 C124.1 156.2 125.1 152.6 125.5 149.3 C125.9 146.0 125.9 142.1 125.5 138.9 C125.0 135.7 123.9 132.2 122.7 130.1 C121.4 127.9 119.9 127.9 117.9 126.1 C115.9 124.2 112.8 120.9 110.7 118.9 C108.5 116.9 107.2 115.3 105.1 114.1 C102.9 112.9 100.0 113.0 97.9 111.7 C95.7 110.3 93.7 107.4 92.3 106.1 C90.9 104.7 89.2 102.5 89.5 103.7 Z" fill="#3C96F5"/>
<path d="M95.5 113.3 C96.0 112.2 100.1 113.4 102.7 114.9 C105.2 116.3 108.3 119.4 110.7 122.1 C113.1 124.7 115.7 128.3 117.1 130.9 C118.4 133.4 119.1 136.4 118.7 137.3 C118.3 138.2 116.5 137.8 114.7 136.5 C112.8 135.2 110.0 131.8 107.5 129.3 C104.9 126.7 101.5 123.9 99.5 121.3 C97.5 118.6 94.9 114.3 95.5 113.3 Z" fill="#1E6EEB"/>
<path d="M115.5 154.1 C116.3 152.9 118.4 151.8 119.5 152.5 C120.5 153.2 121.9 156.0 121.9 158.1 C121.9 160.2 120.5 164.0 119.5 165.3 C118.5 166.6 116.7 167.0 115.9 166.1 C115.1 165.2 114.7 161.7 114.7 159.7 C114.6 157.7 114.7 155.3 115.5 154.1 Z" fill="#1E6EEB"/>
<path d="M77.8 83.7 C78.5 82.4 80.2 81.2 81.8 81.2 C83.5 81.2 86.1 82.3 87.5 83.7 C88.8 85.0 90.0 87.7 89.9 89.3 C89.7 90.9 88.1 92.7 86.7 93.3 C85.2 93.8 82.5 93.3 81.0 92.5 C79.6 91.7 78.4 89.9 77.8 88.5 C77.3 87.0 77.2 84.9 77.8 83.7 Z" fill="#FFC03C"/>
<path d="M79.5 85.3 C79.7 84.0 81.4 83.2 82.7 83.2 C83.9 83.2 85.8 84.3 86.7 85.3 C87.5 86.3 88.1 88.2 87.9 89.3 C87.6 90.3 86.2 91.4 85.1 91.7 C83.9 91.9 82.0 91.9 81.0 90.9 C80.1 89.8 79.2 86.5 79.5 85.3 Z" fill="#FFE878"/>
<path d="M244.0 283.5 C244.7 282.1 247.5 279.8 251.0 278.4 C254.5 277.1 260.1 276.0 265.1 275.4 C270.1 274.9 275.1 275.2 281.1 275.0 C287.2 274.9 296.3 274.3 301.2 274.4 C306.1 274.6 308.4 275.0 310.2 275.8 C312.1 276.7 313.1 278.3 312.2 279.4 C311.4 280.6 309.1 281.9 305.2 282.5 C301.4 283.1 294.5 282.6 289.1 283.1 C283.8 283.5 278.5 284.3 273.1 285.1 C267.7 285.8 261.4 287.2 257.0 287.5 C252.7 287.7 249.2 287.1 247.0 286.5 C244.8 285.8 243.3 284.8 244.0 283.5 Z" fill="#4B3CC8"/>
<path d="M174.8 296.7 C176.8 295.6 181.4 294.2 184.8 294.1 C188.1 294.0 192.8 295.2 194.8 296.3 C196.8 297.4 200.5 299.8 196.8 300.5 C193.2 301.2 176.4 301.2 172.7 300.5 C169.1 299.9 172.7 297.8 174.8 296.7 Z" fill="#4B3CC8"/>
<use href="#map"/>
<path d="M158.8 85.1 C159.6 85.7 162.9 87.4 163.6 89.1 C164.3 90.7 162.9 94.1 162.8 95.1" fill="none" stroke="#ffffff" stroke-width="0.7" opacity="0.85"/>
<path d="M150.8 111.1 C151.5 111.7 154.3 113.4 154.8 115.1 C155.3 116.7 154.1 120.1 154.0 121.1" fill="none" stroke="#ffffff" stroke-width="0.7" opacity="0.85"/>
<path d="M162.8 129.1 C164.5 130.1 169.8 133.8 172.8 135.1 C175.8 136.4 179.5 136.8 180.8 137.1" fill="none" stroke="#ffffff" stroke-width="0.7" opacity="0.85"/>
<path d="M172.8 153.1 C173.8 154.1 176.8 157.8 178.8 159.1 C180.8 160.4 183.5 161.8 184.8 161.1 C186.1 160.4 186.5 156.1 186.8 155.1" fill="none" stroke="#ffffff" stroke-width="0.7" opacity="0.85"/>
<path d="M134.8 161.1 C136.5 161.4 142.1 161.8 144.8 163.1 C147.5 164.4 149.8 168.1 150.8 169.1" fill="none" stroke="#ffffff" stroke-width="0.7" opacity="0.85"/>
<path d="M126.8 187.1 C127.4 188.5 129.8 192.5 130.8 195.1 C131.8 197.8 132.4 201.8 132.8 203.1" fill="none" stroke="#ffffff" stroke-width="0.7" opacity="0.85"/>
<path d="M182.8 99.1 C183.1 100.1 184.8 103.1 184.8 105.1 C184.8 107.1 183.1 110.1 182.8 111.1" fill="none" stroke="#ffffff" stroke-width="0.7" opacity="0.85"/>
<path d="M-13.3 203.6 C-11.0 203.6 -4.9 203.3 0.7 203.6 C6.4 203.9 14.1 204.5 20.8 205.2 C27.5 205.9 34.9 207.0 40.9 207.8 C46.9 208.6 52.2 209.7 56.9 210.2 C61.6 210.7 65.6 211.3 69.0 210.8 C72.3 210.3 74.7 209.5 77.0 207.2 C79.3 204.9 81.2 200.8 83.0 197.2 C84.9 193.5 86.7 188.5 88.0 185.1 C89.4 181.8 90.1 179.2 91.0 177.1 C92.0 175.0 92.8 172.7 93.5 172.7 C94.1 172.7 94.5 175.0 95.1 177.1 C95.7 179.2 97.1 181.8 97.1 185.1 C97.1 188.5 95.9 193.5 95.1 197.2 C94.2 200.8 92.4 204.2 92.1 207.2 C91.7 210.2 91.9 213.5 93.1 215.2 C94.2 217.0 97.1 217.6 99.1 217.6 C101.1 217.6 103.1 215.3 105.1 215.2 C107.1 215.2 109.3 215.9 111.1 217.2 C113.0 218.6 114.8 220.9 116.1 223.3 C117.5 225.6 118.5 228.9 119.2 231.3 C119.8 233.6 119.5 235.8 120.2 237.3 C120.8 238.8 121.7 240.2 123.2 240.3 C124.7 240.5 126.5 239.5 129.2 238.3 C131.9 237.1 135.9 235.3 139.2 233.3 C142.6 231.3 145.7 228.4 149.3 226.3 C152.8 224.1 157.8 221.1 160.7 220.2 C163.6 219.4 164.7 220.2 166.7 221.2 C168.7 222.3 170.7 225.1 172.7 226.3 C174.7 227.4 176.8 228.2 178.8 228.3 C180.8 228.4 182.1 227.7 184.8 226.9 C187.5 226.0 190.5 224.4 194.8 223.3 C199.2 222.2 205.5 221.4 210.9 220.2 C216.2 219.1 221.2 217.4 226.9 216.2 C232.6 215.1 239.3 213.6 245.0 213.2 C250.7 212.9 255.4 213.9 261.1 214.2 C266.7 214.6 273.1 215.3 279.1 215.2 C285.1 215.1 290.4 214.1 297.2 213.6 C304.0 213.1 314.2 212.5 319.9 212.2 C325.5 211.9 329.4 211.9 331.3 211.8" fill="none" stroke="#169016" stroke-width="1.5"/>
<path d="M100.1 103.4 C96.1 99.7 93.2 95.4 91.0 91.3 C88.9 87.3 87.4 83.3 87.0 79.3 C86.7 75.3 88.2 70.4 89.0 67.3 C89.9 64.1 91.0 62.1 92.1 60.2 C93.1 58.4 94.9 56.0 95.5 56.2 C96.0 56.5 95.9 59.1 95.5 61.6 C95.1 64.2 93.1 68.3 93.1 71.3 C93.0 74.2 94.1 77.8 95.1 79.3 C96.1 80.8 98.1 81.0 99.1 80.3 C100.1 79.7 100.1 77.5 101.1 75.3 C102.1 73.1 103.1 68.9 105.1 67.3 C107.1 65.6 110.6 66.9 113.1 65.3 C115.6 63.6 117.8 58.4 120.2 57.2 C122.5 56.1 124.7 57.9 127.2 58.2 C129.7 58.6 132.5 57.7 135.2 59.2 C137.9 60.7 140.7 65.9 143.2 67.3 C145.7 68.6 148.8 68.6 150.3 67.3 C151.8 65.9 152.3 62.2 152.3 59.2 C152.3 56.2 150.1 52.6 150.3 49.2 C150.4 45.9 152.4 41.7 153.3 39.2 C154.1 36.7 154.0 35.0 155.3 34.1 C156.5 33.3 158.5 33.5 160.7 34.1 C162.9 34.8 166.4 36.0 168.7 38.2 C171.1 40.3 172.7 44.0 174.8 47.2 C176.8 50.4 178.1 54.4 180.8 57.2 C183.4 60.1 188.0 62.8 190.8 64.3 C193.7 65.8 196.8 64.1 197.8 66.3 C198.8 68.4 197.3 73.1 196.8 77.3 C196.3 81.5 195.8 87.0 194.8 91.3 C193.8 95.7 193.0 99.7 190.8 103.4 C188.6 107.1 185.2 111.7 181.8 113.6 C178.4 115.5 173.5 115.1 170.4 115.0 C167.4 114.9 164.7 112.4 163.4 112.9 C162.1 113.4 162.2 115.4 162.7 117.8 C163.1 120.3 165.0 125.0 166.2 127.8 C167.4 130.5 168.1 132.8 169.8 134.1 C171.4 135.4 173.9 135.8 176.1 135.6 C178.4 135.3 180.8 132.1 183.2 132.7 C185.6 133.3 188.4 137.1 190.3 139.1 C192.2 141.1 193.5 142.9 194.5 144.8 C195.6 146.6 196.4 148.9 196.7 150.4 C196.9 151.9 196.8 152.5 196.0 153.8 C195.1 155.0 193.4 158.0 191.7 158.0 C190.1 158.0 188.2 154.2 186.0 153.8 C183.9 153.3 180.6 154.2 179.0 155.2 C177.3 156.1 177.1 157.5 176.1 159.4 C175.2 161.3 173.5 164.1 173.3 166.5 C173.1 168.9 175.4 171.5 174.7 173.6 C174.0 175.7 171.2 177.8 169.0 179.2 C166.9 180.7 163.6 180.4 161.9 182.1 C160.3 183.7 160.5 186.3 159.1 189.2 C157.7 192.0 155.0 196.5 153.4 199.1 C151.9 201.7 151.8 203.8 149.9 204.8 C148.0 205.7 144.7 205.5 142.1 204.8 C139.5 204.0 136.0 202.2 134.3 200.5 C132.7 198.8 132.2 196.7 132.2 194.8 C132.2 193.0 133.5 191.1 134.3 189.2 C135.2 187.3 137.0 185.2 137.2 183.5 C137.3 181.8 136.1 180.9 135.0 179.2 C134.0 177.6 131.4 176.2 130.8 173.6 C130.2 171.0 131.1 167.2 131.5 163.7 C131.8 160.1 132.7 156.1 132.9 152.3 C133.1 148.6 132.6 143.9 132.9 141.0 C133.2 138.1 135.1 137.0 134.9 135.1 C134.8 133.1 134.0 131.2 132.1 129.0 C130.2 126.9 126.4 124.6 123.6 122.0 C120.8 119.4 119.0 116.6 115.1 113.5 C111.2 110.4 104.1 107.1 100.1 103.4 Z" fill="none" stroke="#169016" stroke-width="1.5"/>
<path d="M86.7 98.1 C86.1 98.9 86.8 104.4 87.9 107.3 C88.9 110.1 91.2 112.9 93.1 115.3 C94.9 117.6 96.7 118.9 99.1 121.3 C101.4 123.6 104.9 126.3 107.1 129.3 C109.3 132.3 111.3 136.0 112.3 139.3 C113.3 142.6 113.3 145.8 113.1 149.3 C112.8 152.8 110.9 157.0 110.7 160.5 C110.4 164.0 111.0 167.9 111.5 170.5 C112.0 173.1 112.9 175.5 113.7 176.1 C114.5 176.7 115.1 175.3 116.3 174.1 C117.4 172.9 119.2 171.2 120.7 168.9 C122.1 166.6 123.9 163.8 125.1 160.5 C126.3 157.2 127.4 153.1 127.9 149.3 C128.3 145.5 128.3 141.2 127.9 137.7 C127.4 134.2 126.3 130.2 125.1 128.1 C123.9 125.9 122.8 126.8 120.7 124.9 C118.5 122.9 114.6 118.7 112.3 116.5 C109.9 114.2 108.9 112.5 106.7 111.3 C104.5 110.1 101.7 110.8 99.1 109.3 C96.5 107.7 93.1 103.9 91.1 102.1 C89.0 100.2 87.2 97.2 86.7 98.1 Z" fill="none" stroke="#169016" stroke-width="1.5"/>
<path d="M99.1 80.3 C101.1 79.5 108.0 82.8 111.1 84.3 C114.3 85.8 116.0 86.5 118.2 89.3 C120.3 92.2 125.0 99.2 124.2 101.4 C123.3 103.6 116.6 103.1 113.1 102.4 C109.6 101.7 105.4 99.6 103.1 97.4 C100.8 95.2 99.8 92.2 99.1 89.3 C98.4 86.5 97.1 81.2 99.1 80.3 Z" fill="none" stroke="#169016" stroke-width="1.5"/>
<path d="M111.1 34.1 C110.1 32.8 111.5 29.6 113.1 28.1 C114.8 26.6 118.1 25.6 121.2 25.1 C124.2 24.6 128.0 25.5 131.2 25.1 C134.4 24.8 137.2 22.3 140.2 23.1 C143.2 23.9 148.4 28.5 149.3 30.1 C150.1 31.8 147.6 32.5 145.2 33.1 C142.9 33.8 137.9 33.6 135.2 34.1 C132.5 34.7 131.9 35.8 129.2 36.2 C126.5 36.5 122.2 36.5 119.2 36.2 C116.1 35.8 112.1 35.5 111.1 34.1 Z" fill="none" stroke="#169016" stroke-width="1.5"/>
<path d="M90.5 20.7 C90.2 19.5 91.2 18.1 92.1 17.5 C92.9 16.9 94.5 16.7 95.5 17.1 C96.5 17.5 97.8 19.0 98.1 20.1 C98.3 21.2 97.8 22.7 97.1 23.5 C96.3 24.3 94.6 25.2 93.5 24.7 C92.4 24.3 90.7 21.9 90.5 20.7 Z" fill="none" stroke="#169016" stroke-width="1.5"/>
<path d="M204.9 75.3 C205.2 74.3 211.9 71.3 214.9 71.3 C217.9 71.3 220.7 73.5 222.9 75.3 C225.1 77.1 227.6 80.0 227.9 82.3 C228.3 84.7 226.4 87.2 224.9 89.3 C223.4 91.5 221.3 94.2 218.9 95.4 C216.6 96.5 212.4 97.0 210.9 96.4 C209.4 95.7 208.9 92.9 209.9 91.3 C210.9 89.8 215.4 89.0 216.9 87.3 C218.4 85.7 219.6 83.0 218.9 81.3 C218.2 79.6 215.2 78.3 212.9 77.3 C210.5 76.3 204.5 76.3 204.9 75.3 Z" fill="none" stroke="#169016" stroke-width="1.5"/>
<path d="M212.9 129.5 C213.6 126.5 216.1 116.8 216.9 116.4 C217.7 116.1 218.2 124.1 217.9 127.5 C217.6 130.8 215.8 135.3 214.9 136.5 C214.0 137.7 212.8 135.7 212.5 134.5 C212.1 133.3 212.1 132.5 212.9 129.5 Z" fill="none" stroke="#169016" stroke-width="1.5"/>
<path d="M163.7 113.4 C163.9 112.1 166.6 110.9 167.7 111.4 C168.8 111.9 170.5 115.1 170.3 116.4 C170.2 117.8 167.8 120.0 166.7 119.5 C165.6 118.9 163.5 114.8 163.7 113.4 Z" fill="none" stroke="#169016" stroke-width="1.5"/>
<path d="M244.0 283.5 C244.7 282.1 247.5 279.8 251.0 278.4 C254.5 277.1 260.1 276.0 265.1 275.4 C270.1 274.9 275.1 275.2 281.1 275.0 C287.2 274.9 296.3 274.3 301.2 274.4 C306.1 274.6 308.4 275.0 310.2 275.8 C312.1 276.7 313.1 278.3 312.2 279.4 C311.4 280.6 309.1 281.9 305.2 282.5 C301.4 283.1 294.5 282.6 289.1 283.1 C283.8 283.5 278.5 284.3 273.1 285.1 C267.7 285.8 261.4 287.2 257.0 287.5 C252.7 287.7 249.2 287.1 247.0 286.5 C244.8 285.8 243.3 284.8 244.0 283.5 Z" fill="none" stroke="#169016" stroke-width="1.5"/>
<path d="M174.8 296.7 C176.8 295.6 181.4 294.2 184.8 294.1 C188.1 294.0 192.8 295.2 194.8 296.3 C196.8 297.4 200.5 299.8 196.8 300.5 C193.2 301.2 176.4 301.2 172.7 300.5 C169.1 299.9 172.7 297.8 174.8 296.7 Z" fill="none" stroke="#169016" stroke-width="1.5"/>
<path d="M304.0 6.8 C304.4 6.5 305.5 5.5 306.8 5.2 C308.1 4.9 310.3 4.6 312.0 5.2 C313.7 5.8 315.5 8.7 316.8 8.8 C318.1 8.9 318.9 7.1 319.6 6.0 C320.3 4.9 320.9 2.7 321.2 2.0" fill="none" stroke="#169016" stroke-width="1.5"/>
<path d="M304.0 6.8 C304.2 7.9 304.3 10.9 305.2 13.2 C306.1 15.5 307.6 18.5 309.2 20.4 C310.8 22.4 312.8 23.9 314.8 24.8 C316.8 25.8 320.1 25.8 321.2 26.0" fill="none" stroke="#169016" stroke-width="1.5"/>
<path d="M321.2 12.8 C320.5 13.0 318.3 13.1 317.2 14.0 C316.1 14.9 314.7 16.6 314.8 18.0 C314.9 19.5 316.9 21.9 318.0 22.8 C319.1 23.8 320.7 23.5 321.2 23.6" fill="none" stroke="#169016" stroke-width="1.5"/>
<rect x="102.4" y="37.0" width="15.2" height="9.6" fill="#fff"/><text x="110.0" y="45.6" font-size="10.5" fill="#169016" text-anchor="middle">30</text>
<rect x="89.2" y="49.4" width="15.2" height="9.6" fill="#fff"/><text x="96.8" y="58.0" font-size="10.5" fill="#169016" text-anchor="middle">30</text>
<rect x="112.0" y="49.4" width="15.2" height="9.6" fill="#fff"/><text x="119.6" y="58.0" font-size="10.5" fill="#169016" text-anchor="middle">30</text>
<rect x="79.2" y="90.3" width="15.2" height="9.6" fill="#fff"/><text x="86.8" y="98.9" font-size="10.5" fill="#169016" text-anchor="middle">15</text>
<rect x="86.0" y="166.3" width="15.2" height="9.6" fill="#fff"/><text x="93.6" y="174.9" font-size="10.5" fill="#169016" text-anchor="middle">15</text>
<rect x="169.2" y="117.5" width="15.2" height="9.6" fill="#fff"/><text x="176.8" y="126.1" font-size="10.5" fill="#169016" text-anchor="middle">30</text>
<rect x="142.4" y="202.3" width="15.2" height="9.6" fill="#fff"/><text x="150.0" y="210.9" font-size="10.5" fill="#169016" text-anchor="middle">30</text>
<rect x="169.2" y="224.3" width="15.2" height="9.6" fill="#fff"/><text x="176.8" y="232.9" font-size="10.5" fill="#169016" text-anchor="middle">15</text>
<rect x="292.1" y="279.6" width="9.6" height="9.6" fill="#fff"/><text x="296.9" y="288.2" font-size="10.5" fill="#169016" text-anchor="middle">0</text>
<rect x="116.0" y="177.8" width="8.0" height="9" fill="#fff"/><text x="120.0" y="185.7" font-size="9.5" fill="#333" text-anchor="middle">2</text>
</g>
<rect x="0" y="0" width="320.5" height="297.0" fill="none" stroke="#000" stroke-width="2.1"/>
<line x1="-4.2" x2="0" y1="0.0" y2="0.0" stroke="#000" stroke-width="1.3"/>
<text x="-6" y="3.3" font-size="9" font-weight="bold" text-anchor="end" textLength="15.4" lengthAdjust="spacingAndGlyphs">15N</text>
<line x1="-4.2" x2="0" y1="19.8" y2="19.8" stroke="#000" stroke-width="1.3"/>
<text x="-6" y="23.1" font-size="9" font-weight="bold" text-anchor="end" textLength="15.4" lengthAdjust="spacingAndGlyphs">10N</text>
<line x1="-4.2" x2="0" y1="39.6" y2="39.6" stroke="#000" stroke-width="1.3"/>
<text x="-6" y="42.9" font-size="9" font-weight="bold" text-anchor="end" textLength="10.8" lengthAdjust="spacingAndGlyphs">5N</text>
<line x1="-4.2" x2="0" y1="59.4" y2="59.4" stroke="#000" stroke-width="1.3"/>
<text x="-6" y="62.7" font-size="9" font-weight="bold" text-anchor="end" textLength="10.8" lengthAdjust="spacingAndGlyphs">EQ</text>
<line x1="-4.2" x2="0" y1="79.2" y2="79.2" stroke="#000" stroke-width="1.3"/>
<text x="-6" y="82.5" font-size="9" font-weight="bold" text-anchor="end" textLength="10.8" lengthAdjust="spacingAndGlyphs">5S</text>
<line x1="-4.2" x2="0" y1="99.0" y2="99.0" stroke="#000" stroke-width="1.3"/>
<text x="-6" y="102.3" font-size="9" font-weight="bold" text-anchor="end" textLength="15.4" lengthAdjust="spacingAndGlyphs">10S</text>
<line x1="-4.2" x2="0" y1="118.8" y2="118.8" stroke="#000" stroke-width="1.3"/>
<text x="-6" y="122.1" font-size="9" font-weight="bold" text-anchor="end" textLength="15.4" lengthAdjust="spacingAndGlyphs">15S</text>
<line x1="-4.2" x2="0" y1="138.6" y2="138.6" stroke="#000" stroke-width="1.3"/>
<text x="-6" y="141.9" font-size="9" font-weight="bold" text-anchor="end" textLength="15.4" lengthAdjust="spacingAndGlyphs">20S</text>
<line x1="-4.2" x2="0" y1="158.4" y2="158.4" stroke="#000" stroke-width="1.3"/>
<text x="-6" y="161.7" font-size="9" font-weight="bold" text-anchor="end" textLength="15.4" lengthAdjust="spacingAndGlyphs">25S</text>
<line x1="-4.2" x2="0" y1="178.2" y2="178.2" stroke="#000" stroke-width="1.3"/>
<text x="-6" y="181.5" font-size="9" font-weight="bold" text-anchor="end" textLength="15.4" lengthAdjust="spacingAndGlyphs">30S</text>
<line x1="-4.2" x2="0" y1="198.0" y2="198.0" stroke="#000" stroke-width="1.3"/>
<text x="-6" y="201.3" font-size="9" font-weight="bold" text-anchor="end" textLength="15.4" lengthAdjust="spacingAndGlyphs">35S</text>
<line x1="-4.2" x2="0" y1="217.8" y2="217.8" stroke="#000" stroke-width="1.3"/>
<text x="-6" y="221.1" font-size="9" font-weight="bold" text-anchor="end" textLength="15.4" lengthAdjust="spacingAndGlyphs">40S</text>
<line x1="-4.2" x2="0" y1="237.6" y2="237.6" stroke="#000" stroke-width="1.3"/>
<text x="-6" y="240.9" font-size="9" font-weight="bold" text-anchor="end" textLength="15.4" lengthAdjust="spacingAndGlyphs">45S</text>
<line x1="-4.2" x2="0" y1="257.4" y2="257.4" stroke="#000" stroke-width="1.3"/>
<text x="-6" y="260.7" font-size="9" font-weight="bold" text-anchor="end" textLength="15.4" lengthAdjust="spacingAndGlyphs">50S</text>
<line x1="-4.2" x2="0" y1="277.2" y2="277.2" stroke="#000" stroke-width="1.3"/>
<text x="-6" y="280.5" font-size="9" font-weight="bold" text-anchor="end" textLength="15.4" lengthAdjust="spacingAndGlyphs">55S</text>
<line x1="-4.2" x2="0" y1="297.0" y2="297.0" stroke="#000" stroke-width="1.3"/>
<text x="-6" y="300.3" font-size="9" font-weight="bold" text-anchor="end" textLength="15.4" lengthAdjust="spacingAndGlyphs">60S</text>
<line y1="297.0" y2="300.5" x1="4.3" x2="4.3" stroke="#000" stroke-width="1.3"/>
<text x="-6.2" y="307.5" font-size="9" font-weight="bold" textLength="21.8" lengthAdjust="spacingAndGlyphs">100W</text>
<line y1="297.0" y2="300.5" x1="40.0" x2="40.0" stroke="#000" stroke-width="1.3"/>
<text x="32.1" y="307.5" font-size="9" font-weight="bold" textLength="16.6" lengthAdjust="spacingAndGlyphs">90W</text>
<line y1="297.0" y2="300.5" x1="75.7" x2="75.7" stroke="#000" stroke-width="1.3"/>
<text x="67.8" y="307.5" font-size="9" font-weight="bold" textLength="16.6" lengthAdjust="spacingAndGlyphs">80W</text>
<line y1="297.0" y2="300.5" x1="111.4" x2="111.4" stroke="#000" stroke-width="1.3"/>
<text x="103.5" y="307.5" font-size="9" font-weight="bold" textLength="16.6" lengthAdjust="spacingAndGlyphs">70W</text>
<line y1="297.0" y2="300.5" x1="147.1" x2="147.1" stroke="#000" stroke-width="1.3"/>
<text x="139.2" y="307.5" font-size="9" font-weight="bold" textLength="16.6" lengthAdjust="spacingAndGlyphs">60W</text>
<line y1="297.0" y2="300.5" x1="182.8" x2="182.8" stroke="#000" stroke-width="1.3"/>
<text x="174.9" y="307.5" font-size="9" font-weight="bold" textLength="16.6" lengthAdjust="spacingAndGlyphs">50W</text>
<line y1="297.0" y2="300.5" x1="218.5" x2="218.5" stroke="#000" stroke-width="1.3"/>
<text x="210.6" y="307.5" font-size="9" font-weight="bold" textLength="16.6" lengthAdjust="spacingAndGlyphs">40W</text>
<line y1="297.0" y2="300.5" x1="254.2" x2="254.2" stroke="#000" stroke-width="1.3"/>
<text x="246.3" y="307.5" font-size="9" font-weight="bold" textLength="16.6" lengthAdjust="spacingAndGlyphs">30W</text>
<line y1="297.0" y2="300.5" x1="289.9" x2="289.9" stroke="#000" stroke-width="1.3"/>
<text x="282.0" y="307.5" font-size="9" font-weight="bold" textLength="16.6" lengthAdjust="spacingAndGlyphs">20W</text>
</g>
<text x="107.0" y="483.0" font-size="18.4" textLength="70.3" lengthAdjust="spacing">cluster:</text>
<text x="194.5" y="483.0" font-size="18.4" text-anchor="middle">3</text>
<text x="223.9" y="483.0" font-size="18.4" textLength="92.5" lengthAdjust="spacing">membros:</text>
<text x="334.8" y="483.0" font-size="18.4" text-anchor="middle">6</text>
<g transform="translate(522.10,494.00)">
<g clip-path="url(#clip)">
<rect x="-2" y="-2" width="324.5" height="301.0" fill="#1E50D2"/>
<path d="M-13.1 289.5 C-2.4 290.2 30.4 292.7 51.1 293.5 C71.8 294.3 96.3 294.8 111.3 294.5 C126.4 294.2 134.2 294.0 141.4 291.5 C148.7 289.0 149.3 281.8 154.9 279.4 C160.5 277.1 168.3 278.5 175.0 277.4 C181.7 276.4 188.3 274.9 195.0 273.4 C201.7 271.9 208.4 269.9 215.1 268.4 C221.8 266.9 228.5 265.4 235.2 264.4 C241.9 263.4 248.6 262.6 255.2 262.4 C261.9 262.2 268.6 263.2 275.3 263.4 C282.0 263.6 287.7 263.2 295.4 263.4 C303.1 263.6 315.5 264.2 321.5 264.4 C327.5 264.6 329.8 264.4 331.5 264.4 L331.5 -20 L-13.1 -20 Z" fill="#1464D2"/>
<path d="M-3.8 268.2 C0.3 268.4 13.2 269.2 20.6 269.4 C28.0 269.5 34.0 269.2 40.6 269.0 C47.3 268.8 54.6 268.2 60.6 268.2 C66.6 268.2 71.6 268.4 76.7 269.0 C81.7 269.5 85.9 270.3 90.7 271.4 C95.4 272.4 101.3 274.3 105.1 275.4 C108.9 276.4 110.4 277.5 113.5 277.8 C116.5 278.0 119.7 277.9 123.5 277.0 C127.2 276.0 131.4 273.6 135.9 272.2 C140.4 270.7 143.8 269.1 150.3 268.2 C156.8 267.2 167.5 267.4 175.0 266.4 C182.4 265.4 188.3 263.9 195.0 262.4 C201.7 260.9 208.4 258.9 215.1 257.4 C221.8 255.9 228.5 254.5 235.2 253.4 C241.9 252.2 248.6 250.9 255.2 250.3 C261.9 249.8 268.6 250.2 275.3 250.3 C282.0 250.5 287.7 251.3 295.4 251.3 C303.1 251.3 315.5 250.5 321.5 250.3 C327.5 250.2 329.8 250.3 331.5 250.3 L331.5 -20 L-3.8 -20 Z" fill="#1E6EEB"/>
<path d="M-3.8 242.2 C0.3 242.3 13.2 242.8 20.6 243.3 C28.0 243.9 34.0 244.7 40.6 245.3 C47.3 246.0 54.6 247.3 60.6 247.3 C66.6 247.3 72.6 245.4 76.7 245.3 C80.7 245.3 82.7 246.9 85.1 246.9 C87.4 247.0 88.8 247.0 90.7 245.8 C92.5 244.5 94.1 240.8 96.3 239.3 C98.4 237.9 101.5 236.9 103.5 237.3 C105.5 237.8 107.1 239.7 108.3 242.2 C109.5 244.6 110.4 248.8 110.7 252.2 C110.9 255.5 109.2 259.6 109.9 262.2 C110.5 264.8 112.4 266.7 114.7 267.8 C116.9 268.8 120.4 268.8 123.5 268.6 C126.5 268.3 129.5 267.2 133.1 266.2 C136.6 265.1 137.7 264.3 144.7 262.2 C151.7 260.0 166.6 255.3 175.0 253.4 C183.4 251.4 188.3 251.7 195.0 250.3 C201.7 249.0 208.4 246.7 215.1 245.3 C221.8 244.0 228.5 243.3 235.2 242.3 C241.9 241.3 248.6 239.6 255.2 239.3 C261.9 239.0 268.6 240.0 275.3 240.3 C282.0 240.7 290.0 241.5 295.4 241.3 C300.8 241.2 303.1 239.5 307.4 239.3 C311.8 239.1 317.5 240.2 321.5 240.3 C325.5 240.5 329.8 240.3 331.5 240.3 L331.5 -20 L-3.8 -20 Z" fill="#3C96F5"/>
<path d="M-3.8 222.1 C0.3 221.9 11.5 221.1 20.6 220.9 C29.7 220.7 42.3 220.3 50.6 220.9 C59.0 221.5 64.9 223.8 70.7 224.5 C76.4 225.3 81.5 224.7 85.1 225.3 C88.7 225.9 89.9 227.5 92.3 228.1 C94.6 228.8 96.7 228.4 99.1 229.3 C101.4 230.3 104.3 231.8 106.3 233.7 C108.2 235.7 109.7 238.6 110.7 240.9 C111.6 243.3 111.2 245.4 111.9 247.8 C112.5 250.1 113.5 253.4 114.7 255.0 C115.9 256.5 117.4 257.0 119.1 257.0 C120.7 257.0 122.3 256.2 124.7 255.0 C127.0 253.7 130.0 251.2 133.1 249.3 C136.1 247.5 139.8 245.4 143.1 243.8 C146.4 242.1 149.1 240.1 153.1 239.3 C157.1 238.6 162.3 238.3 166.9 239.3 C171.6 240.3 177.0 244.7 181.0 245.3 C185.0 246.0 188.4 245.0 191.0 243.3 C193.7 241.7 194.4 237.8 197.1 235.3 C199.7 232.8 202.7 229.6 207.1 228.3 C211.4 226.9 217.8 226.9 223.1 227.3 C228.5 227.6 233.8 229.9 239.2 230.3 C244.6 230.6 249.9 229.6 255.2 229.3 C260.6 228.9 266.0 228.1 271.3 228.3 C276.7 228.4 282.7 230.6 287.4 230.3 C292.1 229.9 295.4 227.1 299.4 226.3 C303.4 225.4 307.8 225.3 311.4 225.3 C315.1 225.3 318.1 226.1 321.5 226.3 C324.8 226.4 329.8 226.3 331.5 226.3 L331.5 -20 L-3.8 -20 Z" fill="#78B9FA"/>
<path d="M-13.1 198.8 C-10.8 198.8 -4.7 198.7 0.9 199.2 C6.6 199.6 14.3 200.6 21.0 201.6 C27.7 202.6 35.1 204.0 41.1 205.2 C47.1 206.4 52.4 208.0 57.1 208.8 C61.8 209.6 65.8 210.2 69.2 210.2 C72.5 210.2 74.9 210.3 77.2 208.8 C79.5 207.3 81.4 204.5 83.2 201.2 C85.1 197.9 86.7 192.5 88.2 189.1 C89.7 185.8 91.4 183.3 92.3 181.1 C93.2 178.9 93.1 176.1 93.7 176.1 C94.2 176.1 95.1 178.9 95.7 181.1 C96.2 183.3 97.1 186.1 96.9 189.1 C96.6 192.1 95.0 195.8 94.3 199.2 C93.5 202.5 92.1 206.5 92.3 209.2 C92.4 211.9 93.4 213.9 95.3 215.2 C97.1 216.6 100.6 216.4 103.3 217.2 C106.0 218.1 109.3 218.6 111.3 220.2 C113.3 221.9 114.8 224.8 115.3 227.3 C115.8 229.8 113.7 233.3 114.3 235.3 C115.0 237.3 117.2 238.8 119.3 239.3 C121.5 239.8 124.7 239.0 127.4 238.3 C130.1 237.6 132.4 237.0 135.4 235.3 C138.4 233.6 142.4 230.4 145.4 228.3 C148.5 226.1 151.9 223.9 153.5 222.2 C155.0 220.6 153.3 219.2 154.9 218.2 C156.5 217.2 160.6 215.7 162.9 216.2 C165.3 216.7 166.9 219.6 168.9 221.2 C171.0 222.9 173.0 225.8 175.0 226.3 C177.0 226.8 179.0 225.6 181.0 224.3 C183.0 222.9 184.0 219.4 187.0 218.2 C190.0 217.1 194.4 217.4 199.1 217.2 C203.7 217.1 209.8 217.1 215.1 217.2 C220.5 217.4 226.2 217.7 231.2 218.2 C236.2 218.7 240.5 219.9 245.2 220.2 C249.9 220.6 254.3 220.6 259.3 220.2 C264.3 219.9 271.3 219.4 275.3 218.2 C279.3 217.1 280.3 214.7 283.4 213.2 C286.4 211.8 289.4 210.3 293.4 209.6 C297.4 208.9 302.8 209.3 307.4 209.2 C312.1 209.1 317.5 208.9 321.5 208.8 C325.5 208.7 329.8 208.8 331.5 208.8 L331.5 -20 L-13.1 -20 Z" fill="#FFE878"/>
<path d="M-3.8 189.7 C0.3 189.7 13.2 189.7 20.6 189.7 C28.0 189.8 35.0 190.2 40.6 190.1 C46.3 190.1 52.1 190.9 54.6 189.3 C57.2 187.8 56.8 183.3 55.8 180.9 C54.9 178.5 49.9 176.9 49.0 174.9 C48.2 172.9 48.7 170.9 50.6 168.9 C52.6 166.9 58.1 165.2 60.6 162.9 C63.2 160.6 64.8 158.2 65.8 154.9 C66.9 151.6 67.2 146.6 67.0 143.3 C66.8 140.0 66.0 137.6 64.6 135.3 C63.2 133.0 61.0 131.3 58.6 129.3 C56.3 127.3 52.3 125.1 50.6 123.3 C49.0 121.5 48.3 119.9 48.6 118.5 C49.0 117.1 51.0 115.2 52.6 114.9 C54.3 114.5 56.3 114.9 58.6 116.5 C61.0 118.1 63.6 122.0 66.6 124.5 C69.6 126.9 73.3 129.5 76.7 131.3 C80.0 133.1 83.3 133.3 86.7 135.3 C90.1 137.3 94.3 140.7 97.1 143.3 C99.8 145.9 102.1 147.6 103.1 150.9 C104.1 154.2 102.9 158.6 103.1 162.9 C103.2 167.2 103.2 172.9 103.9 176.9 C104.5 180.9 105.9 183.6 107.1 186.9 C108.3 190.3 109.9 193.3 111.1 196.9 C112.2 200.6 113.1 205.5 113.9 208.9 C114.7 212.3 115.0 214.9 115.9 217.3 C116.7 219.7 118.1 221.3 119.1 223.3 C120.1 225.3 120.6 227.5 121.9 229.3 C123.1 231.1 125.1 233.6 126.7 234.1 C128.3 234.7 129.4 233.7 131.5 232.5 C133.5 231.4 136.2 229.3 139.1 227.3 C142.0 225.3 144.8 224.1 149.1 220.5 C153.4 217.0 160.6 208.2 164.9 206.2 C169.3 204.1 171.6 208.4 175.0 208.2 C178.3 208.0 181.0 206.0 185.0 205.2 C189.0 204.4 194.0 203.7 199.1 203.2 C204.1 202.7 209.8 202.8 215.1 202.2 C220.5 201.5 225.8 199.8 231.2 199.2 C236.5 198.5 241.9 198.7 247.2 198.2 C252.6 197.7 257.9 196.3 263.3 196.2 C268.6 196.0 274.0 197.5 279.3 197.2 C284.7 196.8 290.0 195.0 295.4 194.2 C300.8 193.3 307.1 192.3 311.4 192.2 C315.8 192.0 318.1 193.0 321.5 193.2 C324.8 193.3 329.8 193.2 331.5 193.2 L331.5 -20 L-3.8 -20 Z" fill="#FFC03C"/>
<path d="M-3.8 116.9 C-1.7 115.3 5.2 110.1 8.6 107.3 C12.0 104.5 13.6 102.1 16.6 100.1 C19.6 98.0 22.6 96.0 26.6 94.9 C30.6 93.7 36.6 94.1 40.6 93.3 C44.6 92.5 48.0 91.9 50.6 90.1 C53.3 88.2 56.4 84.9 56.6 82.0 C56.8 79.2 52.2 75.6 51.8 73.2 C51.5 70.9 52.8 69.1 54.6 68.0 C56.4 67.0 60.2 66.5 62.6 66.8 C65.0 67.2 67.6 68.0 69.0 70.0 C70.5 72.1 69.7 76.8 71.0 79.2 C72.4 81.7 75.2 83.9 77.0 84.9 C78.8 85.9 80.5 84.2 81.8 85.3 C83.2 86.3 83.9 88.3 85.1 91.3 C86.3 94.2 87.3 98.9 89.1 102.9 C90.8 106.8 93.2 110.9 95.5 114.9 C97.7 118.9 100.3 123.2 102.7 126.9 C105.0 130.5 107.8 132.9 109.5 136.9 C111.1 140.9 112.5 145.9 112.7 150.9 C112.9 155.9 111.3 162.2 110.7 166.9 C110.0 171.6 108.7 174.9 108.7 178.9 C108.7 182.9 109.9 186.2 110.7 190.9 C111.5 195.6 112.7 202.6 113.5 206.9 C114.3 211.3 114.7 214.3 115.5 216.9 C116.2 219.6 116.8 221.1 117.9 222.9 C118.9 224.7 120.3 226.5 121.9 227.7 C123.5 228.9 125.7 230.3 127.5 230.1 C129.3 230.0 130.5 228.1 132.7 226.9 C134.9 225.8 138.0 225.0 140.7 223.3 C143.4 221.7 146.0 219.2 149.1 216.9 C152.2 214.7 156.0 211.3 159.1 209.7 C162.2 208.2 164.9 207.9 167.5 207.7 C170.1 207.5 171.5 211.6 174.7 208.5 C178.0 205.4 182.6 193.2 187.0 189.1 C191.4 185.1 196.4 185.6 201.1 184.1 C205.7 182.6 210.1 180.6 215.1 180.1 C220.1 179.6 225.8 181.6 231.2 181.1 C236.5 180.6 241.9 177.6 247.2 177.1 C252.6 176.6 257.9 178.1 263.3 178.1 C268.6 178.1 274.0 176.9 279.3 177.1 C284.7 177.3 290.7 179.1 295.4 179.1 C300.1 179.1 303.1 177.8 307.4 177.1 C311.8 176.4 317.5 175.4 321.5 175.1 C325.5 174.8 329.8 175.1 331.5 175.1 L331.5 -20 L-3.8 -20 Z" fill="#FFA000"/>
<path d="M-3.8 48.8 C0.3 49.6 13.2 52.6 20.6 53.6 C28.0 54.7 34.0 54.9 40.6 55.2 C47.3 55.6 55.9 55.2 60.6 55.6 C65.4 56.1 67.0 56.4 69.0 58.0 C71.1 59.6 71.9 62.4 72.7 65.2 C73.4 68.1 72.9 72.4 73.5 75.2 C74.0 78.1 74.8 80.5 75.8 82.0 C76.8 83.6 77.9 82.9 79.5 84.5 C81.0 86.0 83.5 88.2 85.1 91.3 C86.7 94.3 87.3 98.9 89.1 102.9 C90.8 106.8 93.2 110.9 95.5 114.9 C97.7 118.9 100.3 123.2 102.7 126.9 C105.0 130.5 107.8 132.9 109.5 136.9 C111.1 140.9 112.3 145.9 112.7 150.9 C113.0 155.9 111.9 162.2 111.5 166.9 C111.0 171.6 109.8 174.9 109.9 178.9 C109.9 182.9 111.1 186.2 111.9 190.9 C112.7 195.6 113.8 202.8 114.7 206.9 C115.5 211.1 116.1 213.4 117.1 215.7 C118.0 218.1 118.7 219.6 120.3 220.9 C121.9 222.3 124.7 223.7 126.7 223.7 C128.7 223.8 129.7 222.5 132.3 221.3 C134.8 220.2 138.8 218.6 141.9 216.9 C145.0 215.3 147.8 213.5 150.7 211.3 C153.6 209.2 156.0 206.6 159.1 204.1 C162.2 201.7 166.0 199.1 169.1 196.5 C172.2 193.9 175.2 190.9 177.5 188.5 C179.8 186.1 181.4 184.6 183.1 182.1 C184.8 179.6 186.1 176.0 187.5 173.7 C188.9 171.4 189.0 169.4 191.5 168.1 C194.1 166.8 198.9 166.2 202.7 165.7 C206.5 165.2 210.3 165.4 214.3 165.3 C218.3 165.2 221.6 165.8 226.7 165.3 C231.9 164.8 239.4 163.0 245.2 162.1 C250.9 161.2 257.2 161.3 261.2 160.1 C265.2 158.9 267.5 156.4 269.2 154.9 C270.8 153.4 270.8 153.5 271.2 150.9 C271.5 148.3 270.5 142.9 271.2 139.3 C271.8 135.7 274.5 132.3 275.2 129.3 C275.8 126.3 274.2 123.4 275.2 121.3 C276.2 119.1 278.2 118.1 281.2 116.5 C284.2 114.8 289.8 113.1 293.2 111.3 C296.5 109.4 298.8 107.9 301.2 105.3 C303.5 102.6 304.9 97.8 307.2 95.3 C309.5 92.7 312.3 91.3 315.2 90.1 C318.1 88.9 322.9 88.4 324.4 88.1 L324.4 -20 L-3.8 -20 Z" fill="#FF6400"/>
<path d="M-3.8 -7.2 C-1.4 -12.1 8.1 -8.9 10.6 -7.2 C13.1 -5.5 11.1 0.3 11.0 2.8 C10.9 5.3 10.7 5.7 10.2 7.6 C9.7 9.5 9.1 12.1 7.8 14.0 C6.5 15.9 4.5 17.5 2.6 18.8 C0.7 20.2 -2.7 26.4 -3.8 22.0 C-4.9 17.7 -6.2 -2.3 -3.8 -7.2 Z" fill="#FF3200"/>
<path d="M39.8 9.2 C40.8 8.7 45.8 9.7 48.6 10.8 C51.4 11.9 55.1 14.7 56.6 16.0 C58.2 17.3 58.8 18.5 57.8 18.8 C56.8 19.2 53.2 18.8 50.6 18.0 C48.1 17.2 44.4 15.5 42.6 14.0 C40.8 12.5 38.8 9.7 39.8 9.2 Z" fill="#FF3200"/>
<path d="M67.8 -4.2 C82.1 -7.1 141.5 -6.1 157.0 -4.2 C172.5 -2.3 160.0 3.8 161.0 7.0 C162.0 10.2 159.7 13.0 163.0 15.0 C166.3 17.0 176.7 15.7 181.0 19.0 C185.4 22.4 188.7 30.4 189.0 35.0 C189.4 39.7 188.1 43.7 183.0 47.0 C178.0 50.4 170.7 53.7 158.6 55.0 C146.5 56.4 123.8 60.0 110.6 55.0 C97.3 50.0 85.6 32.0 79.0 25.0 C72.4 18.0 72.8 17.9 71.0 13.0 C69.1 8.1 53.4 -1.3 67.8 -4.2 Z" fill="#FF3200"/>
<path d="M154.9 11.1 C158.9 4.7 172.3 13.4 179.0 13.1 C185.7 12.7 190.4 8.7 195.0 9.1 C199.7 9.4 203.4 13.1 207.1 15.1 C210.8 17.1 215.1 19.1 217.1 21.1 C219.1 23.1 220.1 26.0 219.1 27.1 C218.1 28.3 214.4 28.8 211.1 28.1 C207.8 27.5 202.7 24.4 199.1 23.1 C195.4 21.8 191.9 19.8 189.0 20.1 C186.2 20.4 182.7 22.3 182.0 25.1 C181.3 28.0 183.2 33.1 185.0 37.2 C186.8 41.2 190.4 46.2 193.0 49.2 C195.7 52.2 198.0 54.2 201.1 55.2 C204.1 56.2 207.8 56.6 211.1 55.2 C214.4 53.9 218.5 48.2 221.1 47.2 C223.8 46.2 225.8 47.5 227.2 49.2 C228.5 50.9 229.2 54.6 229.2 57.2 C229.2 59.9 225.5 63.3 227.2 65.3 C228.8 67.3 235.2 67.9 239.2 69.3 C243.2 70.6 247.9 73.0 251.2 73.3 C254.6 73.6 257.6 72.3 259.3 71.3 C260.9 70.3 260.3 67.6 261.3 67.3 C262.3 66.9 264.6 67.6 265.3 69.3 C266.0 71.0 266.3 75.0 265.3 77.3 C264.3 79.6 261.6 82.0 259.3 83.3 C256.9 84.7 253.6 84.0 251.2 85.3 C248.9 86.7 246.9 89.0 245.2 91.3 C243.5 93.7 241.8 96.0 241.2 99.4 C240.6 102.7 241.6 107.8 241.6 111.4 C241.6 115.1 241.9 119.5 241.2 121.5 C240.5 123.5 238.4 124.1 237.2 123.5 C236.0 122.8 234.3 120.1 234.2 117.5 C234.0 114.8 236.2 110.4 236.2 107.4 C236.2 104.4 235.0 102.1 234.2 99.4 C233.3 96.7 234.3 94.4 231.2 91.3 C228.0 88.3 221.1 84.0 215.1 81.3 C209.1 78.6 205.1 80.3 195.0 75.3 C185.0 70.3 161.6 61.9 154.9 51.2 C148.2 40.5 150.9 17.4 154.9 11.1 Z" fill="#FF3200"/>
<path d="M245.2 27.1 C246.1 24.6 246.9 23.3 249.2 22.1 C251.6 20.9 255.6 19.9 259.3 20.1 C262.9 20.3 268.0 23.3 271.3 23.1 C274.7 22.9 276.0 20.8 279.3 19.1 C282.7 17.4 288.7 15.4 291.4 13.1 C294.1 10.7 294.4 7.4 295.4 5.0 C296.4 2.7 292.0 0.0 297.4 -1.0 C302.8 -2.0 322.5 -6.3 327.5 -1.0 C332.5 4.4 330.2 25.3 327.5 31.1 C324.8 37.0 316.1 33.0 311.4 34.1 C306.8 35.3 303.4 37.3 299.4 38.2 C295.4 39.0 291.4 39.7 287.4 39.2 C283.4 38.7 278.7 35.5 275.3 35.2 C272.0 34.8 269.6 35.8 267.3 37.2 C265.0 38.5 263.6 41.2 261.3 43.2 C258.9 45.2 255.8 48.9 253.2 49.2 C250.7 49.5 247.7 47.2 246.2 45.2 C244.7 43.2 244.4 40.2 244.2 37.2 C244.1 34.1 244.4 29.6 245.2 27.1 Z" fill="#FF3200"/>
<path d="M71.0 12.8 C69.7 12.5 76.4 22.0 79.0 24.8 C81.7 27.7 86.1 28.0 87.1 30.0 C88.1 32.0 86.4 33.7 85.1 36.8 C83.7 40.0 80.9 45.1 79.0 48.8 C77.2 52.6 75.2 55.5 73.8 59.2 C72.5 63.0 70.8 67.4 71.0 71.2 C71.2 75.1 73.4 79.7 75.0 82.0 C76.7 84.4 79.4 83.7 81.0 85.3 C82.7 86.8 83.7 88.3 85.1 91.3 C86.4 94.3 87.1 99.6 89.1 103.3 C91.1 106.9 94.4 110.3 97.1 113.3 C99.7 116.3 102.7 118.3 105.1 121.3 C107.4 124.3 109.7 127.9 111.1 131.3 C112.5 134.6 113.0 138.0 113.5 141.3 C113.9 144.6 113.5 146.6 113.9 150.9 C114.2 155.2 114.9 161.7 115.5 166.9 C116.0 172.1 116.9 177.2 117.1 182.1 C117.3 187.0 116.3 192.2 116.7 196.5 C117.1 200.8 118.1 204.7 119.5 207.7 C120.9 210.8 123.0 213.3 125.1 214.9 C127.1 216.6 129.3 217.5 131.9 217.7 C134.5 217.9 137.8 216.9 140.7 216.1 C143.6 215.4 146.0 215.2 149.1 213.3 C152.2 211.5 156.0 207.5 159.1 204.9 C162.2 202.3 164.4 200.3 167.5 197.7 C170.6 195.1 174.4 192.1 177.5 189.3 C180.6 186.5 183.6 183.5 185.9 180.9 C188.3 178.3 189.7 176.1 191.5 173.7 C193.4 171.3 195.3 168.6 197.1 166.5 C199.0 164.4 200.8 163.5 202.7 160.9 C204.7 158.3 206.7 153.5 208.7 150.9 C210.7 148.3 213.1 147.9 214.7 145.3 C216.4 142.7 217.7 139.3 218.7 135.3 C219.7 131.3 219.7 125.3 220.7 121.3 C221.7 117.3 223.2 114.3 224.7 111.3 C226.3 108.3 228.1 106.6 229.9 103.3 C231.8 99.9 234.6 94.9 235.9 91.3 C237.3 87.6 238.1 83.9 237.9 81.2 C237.8 78.6 236.7 76.9 235.1 75.2 C233.6 73.6 230.6 72.0 228.7 71.2 C226.9 70.5 228.2 71.7 223.9 70.8 C219.7 70.0 209.1 67.6 203.1 66.0 C197.2 64.5 191.7 63.3 188.3 61.6 C184.9 60.0 184.5 59.7 182.7 56.0 C180.9 52.4 180.6 43.4 177.5 39.6 C174.4 35.9 168.3 35.3 164.3 33.6 C160.3 32.0 157.0 31.8 153.5 29.6 C150.0 27.5 145.8 23.4 143.5 20.8 C141.2 18.2 143.4 15.0 139.9 14.0 C136.4 13.0 128.0 15.9 122.3 14.8 C116.5 13.7 110.5 7.5 105.5 7.6 C100.4 7.7 94.9 12.4 91.9 15.6 C88.8 18.8 90.5 27.3 87.1 26.8 C83.6 26.4 72.4 13.1 71.0 12.8 Z" fill="#FF3200"/>
<path d="M83.9 32.0 C86.1 29.9 91.4 28.7 95.1 28.0 C98.7 27.4 103.4 27.0 105.9 28.0 C108.3 29.0 110.0 31.7 109.9 34.0 C109.7 36.4 106.9 39.4 105.1 42.0 C103.3 44.7 101.1 47.4 99.1 50.0 C97.1 52.7 94.7 55.0 93.1 58.0 C91.4 61.0 90.3 64.7 89.1 68.0 C87.9 71.4 87.5 75.8 85.9 78.0 C84.2 80.2 80.9 82.4 79.0 81.2 C77.2 80.1 75.4 74.9 75.0 71.2 C74.7 67.6 76.2 62.9 77.0 59.2 C77.8 55.6 79.0 52.3 79.8 49.2 C80.6 46.2 81.2 43.7 81.8 40.8 C82.5 38.0 81.7 34.2 83.9 32.0 Z" fill="#FF6400"/>
<path d="M85.1 34.0 C87.1 32.2 91.7 30.7 95.1 30.0 C98.4 29.4 102.9 29.4 105.1 30.0 C107.2 30.7 108.2 32.2 107.9 34.0 C107.5 35.8 104.9 38.3 103.1 40.8 C101.3 43.4 99.1 46.5 97.1 49.2 C95.1 52.0 92.7 54.2 91.1 57.2 C89.4 60.2 88.3 63.9 87.1 67.2 C85.9 70.6 85.2 75.2 83.9 77.2 C82.5 79.2 80.4 80.2 79.0 79.2 C77.7 78.2 76.0 74.6 75.8 71.2 C75.6 67.9 77.0 62.9 77.8 59.2 C78.7 55.6 80.2 52.3 81.0 49.2 C81.9 46.2 82.4 43.4 83.0 40.8 C83.7 38.3 83.1 35.8 85.1 34.0 Z" fill="#FFA000"/>
<path d="M89.1 36.8 C91.6 34.1 96.7 33.0 99.1 32.8 C101.4 32.7 103.4 34.0 103.1 36.0 C102.7 38.1 99.3 42.0 97.1 45.2 C94.9 48.4 91.9 51.6 89.9 55.2 C87.9 58.9 86.5 64.6 85.1 67.2 C83.6 69.9 81.9 72.3 81.0 71.2 C80.2 70.2 79.4 64.9 79.8 61.2 C80.3 57.6 82.3 53.3 83.9 49.2 C85.4 45.2 86.5 39.6 89.1 36.8 Z" fill="#FFC03C"/>
<path d="M79.0 59.2 C79.7 57.2 82.0 54.9 83.0 55.2 C84.1 55.6 85.3 59.1 85.1 61.2 C84.9 63.4 82.9 67.0 81.8 68.0 C80.8 69.1 79.5 68.7 79.0 67.2 C78.6 65.8 78.4 61.2 79.0 59.2 Z" fill="#FFE878"/>
<path d="M125.1 40.8 C125.9 38.8 128.3 37.6 130.7 36.8 C133.1 36.0 136.7 35.7 139.5 36.0 C142.3 36.4 146.3 37.0 147.5 38.8 C148.7 40.6 148.0 44.7 146.7 46.8 C145.4 49.0 142.2 50.6 139.5 51.6 C136.8 52.7 132.9 53.7 130.7 53.2 C128.4 52.8 126.8 50.9 125.9 48.8 C124.9 46.8 124.3 42.8 125.1 40.8 Z" fill="#FF6400"/>
<path d="M129.5 44.0 C130.3 43.0 132.6 42.2 134.7 42.0 C136.8 41.8 140.8 41.9 141.9 42.8 C143.0 43.8 142.3 46.6 141.1 47.6 C139.9 48.7 136.6 49.2 134.7 49.2 C132.8 49.3 130.7 48.9 129.9 48.0 C129.0 47.2 128.7 45.0 129.5 44.0 Z" fill="#FFA000"/>
<path d="M106.7 15.6 C107.6 14.5 110.3 13.7 111.9 14.0 C113.5 14.3 115.8 15.8 116.3 17.2 C116.7 18.7 115.8 21.8 114.7 22.8 C113.5 23.9 110.9 24.0 109.5 23.6 C108.1 23.2 106.7 21.8 106.3 20.4 C105.8 19.1 105.7 16.7 106.7 15.6 Z" fill="#FF6400"/>
<path d="M102.7 50.8 C103.3 49.9 106.1 49.0 107.5 49.2 C108.8 49.4 110.5 51.0 110.7 52.0 C110.8 53.1 109.4 55.2 108.3 55.6 C107.1 56.1 104.8 55.6 103.9 54.8 C102.9 54.0 102.1 51.8 102.7 50.8 Z" fill="#FF6400"/>
<path d="M111.3 101.4 C113.6 100.6 118.5 101.7 121.4 102.4 C124.2 103.1 126.9 106.6 128.4 105.4 C129.9 104.2 130.6 98.7 130.4 95.4 C130.2 92.0 128.4 88.7 127.4 85.3 C126.4 82.0 125.4 78.3 124.4 75.3 C123.4 72.3 122.9 69.3 121.4 67.3 C119.9 65.3 116.7 65.6 115.3 63.3 C114.0 60.9 113.0 56.2 113.3 53.2 C113.7 50.2 116.0 45.2 117.3 45.2 C118.7 45.2 119.7 50.9 121.4 53.2 C123.0 55.6 125.0 57.6 127.4 59.2 C129.7 60.9 132.7 61.8 135.4 63.3 C138.1 64.8 141.1 67.1 143.4 68.3 C145.8 69.4 148.0 70.8 149.5 70.3 C151.0 69.8 152.3 67.4 152.5 65.3 C152.6 63.1 151.1 59.9 150.5 57.2 C149.8 54.6 148.3 51.6 148.5 49.2 C148.6 46.9 150.0 45.2 151.5 43.2 C153.0 41.2 155.9 38.8 157.5 37.2 C159.1 35.6 160.3 34.1 160.9 33.5 C161.5 33.0 159.2 33.2 160.9 34.1 C162.6 35.1 168.3 36.7 171.0 39.2 C173.6 41.7 175.0 46.2 177.0 49.2 C179.0 52.2 181.2 54.1 183.0 57.2 C184.8 60.4 186.3 65.3 188.0 68.3 C189.7 71.3 191.4 73.1 193.0 75.3 C194.7 77.5 197.2 79.0 198.1 81.3 C198.9 83.7 198.1 87.0 198.1 89.3 C198.0 91.7 198.1 92.1 197.6 95.2 C197.0 98.3 196.4 104.6 194.7 107.9 C193.1 111.2 189.7 112.9 187.7 115.0 C185.7 117.1 183.4 118.8 182.7 120.7 C182.0 122.6 182.3 124.2 183.4 126.3 C184.5 128.5 187.7 130.8 189.1 133.4 C190.5 136.0 190.8 139.3 191.9 141.9 C193.0 144.5 195.2 146.6 195.4 149.0 C195.7 151.4 194.1 154.4 193.3 156.1 C192.6 157.8 194.4 157.2 191.0 159.0 C187.6 160.9 175.8 164.1 173.0 167.1 C170.1 170.1 175.0 174.1 174.0 177.1 C173.0 180.1 169.4 182.8 166.9 185.1 C164.4 187.5 161.2 188.5 158.9 191.1 C156.7 193.8 155.0 197.8 153.5 201.2 C151.9 204.5 151.8 208.5 149.5 211.2 C147.1 213.9 142.8 216.9 139.4 217.2 C136.1 217.6 132.4 215.6 129.4 213.2 C126.4 210.9 123.0 206.9 121.4 203.2 C119.7 199.5 119.3 194.8 119.3 191.1 C119.3 187.5 120.0 184.5 121.4 181.1 C122.7 177.8 125.5 174.4 127.4 171.1 C129.2 167.7 131.2 163.4 132.4 161.0 C133.6 158.7 134.5 159.3 134.7 156.9 C134.9 154.5 133.4 150.1 133.5 146.5 C133.5 142.8 135.2 138.0 134.9 135.1 C134.7 132.1 134.0 131.2 132.1 129.0 C130.2 126.9 126.4 124.6 123.6 122.0 C120.8 119.4 117.8 116.0 115.1 113.5 C112.4 111.0 108.1 108.9 107.5 106.9 C106.8 104.9 109.0 102.1 111.3 101.4 Z" fill="#E11400"/>
<path d="M156.7 64.8 C158.4 61.5 157.8 54.6 158.7 50.8 C159.6 47.0 160.2 43.0 161.9 42.0 C163.6 41.0 166.9 42.7 168.7 44.8 C170.5 47.0 171.4 51.5 172.7 54.8 C174.0 58.2 175.4 61.8 176.7 64.8 C178.0 67.8 179.7 70.2 180.3 72.8 C180.9 75.5 179.7 79.3 180.3 80.8 C180.9 82.4 183.0 80.6 183.9 82.0 C184.8 83.5 184.9 86.7 185.9 89.3 C186.9 91.9 189.3 94.8 189.9 97.7 C190.6 100.5 190.6 104.1 189.9 106.5 C189.3 108.9 187.3 110.4 185.9 112.1 C184.5 113.7 182.2 114.8 181.5 116.5 C180.8 118.1 181.7 120.0 181.9 122.1 C182.1 124.1 181.8 126.3 182.7 128.9 C183.6 131.5 185.8 135.1 187.5 137.7 C189.3 140.3 192.0 142.4 193.1 144.5 C194.3 146.6 194.9 148.4 194.3 150.1 C193.7 151.8 191.6 153.9 189.5 154.9 C187.4 155.9 183.9 155.6 181.7 156.1 C179.4 156.6 177.8 156.7 176.0 158.1 C174.3 159.5 172.3 163.5 171.2 164.8 C170.2 166.0 171.0 164.1 169.6 165.6 C168.2 167.1 165.3 171.5 163.0 173.9 C160.6 176.2 157.0 177.4 155.5 179.6 C154.0 181.8 154.7 184.6 153.9 187.1 C153.0 189.6 152.4 193.4 150.6 194.5 C148.8 195.6 144.9 195.2 143.1 193.7 C141.3 192.2 140.2 187.8 139.8 185.4 C139.4 183.1 139.7 181.6 140.7 179.6 C141.6 177.7 143.8 175.8 145.6 173.9 C147.4 171.9 150.6 170.1 151.4 168.1 C152.2 166.0 151.9 163.2 150.6 161.5 C149.2 159.7 145.6 158.6 143.1 157.7 C140.7 156.9 137.1 158.3 135.7 156.5 C134.3 154.7 134.7 150.5 134.7 146.9 C134.7 143.3 136.2 138.0 135.9 135.1 C135.6 132.1 134.7 131.1 133.1 129.0 C131.4 127.0 128.1 125.0 125.9 122.9 C123.6 120.7 120.9 118.3 119.5 116.1 C118.0 113.9 116.8 111.9 117.1 109.7 C117.3 107.5 119.9 105.2 121.1 102.9 C122.2 100.5 122.9 98.0 123.9 95.7 C124.8 93.3 125.5 91.0 126.7 88.9 C127.9 86.7 129.6 84.9 131.1 82.8 C132.5 80.8 133.9 78.5 135.5 76.8 C137.1 75.2 138.5 73.8 140.7 72.8 C142.9 71.8 146.0 72.2 148.7 70.8 C151.4 69.5 155.0 68.2 156.7 64.8 Z" fill="#CD3C3C"/>
<path d="M135.2 156.6 C136.9 152.8 140.7 153.8 143.7 153.8 C146.8 153.8 150.3 156.6 153.7 156.6 C157.0 156.6 160.7 153.3 163.6 153.8 C166.4 154.2 169.7 157.1 170.7 159.4 C171.6 161.8 170.4 165.6 169.2 167.9 C168.1 170.3 165.7 171.5 163.6 173.6 C161.4 175.7 158.1 178.1 156.5 180.7 C154.8 183.3 155.1 186.3 153.7 189.2 C152.2 192.0 149.9 195.1 148.0 197.7 C146.1 200.3 144.7 203.8 142.3 204.8 C140.0 205.7 136.2 204.5 133.8 203.3 C131.5 202.2 128.6 200.3 128.2 197.7 C127.7 195.1 130.0 191.3 131.0 187.8 C131.9 184.2 133.1 181.6 133.8 176.4 C134.5 171.2 133.6 160.4 135.2 156.6 Z" fill="#CD3C3C"/>
<path d="M127.9 95.7 C128.9 94.5 132.0 93.8 133.9 94.1 C135.7 94.3 138.4 95.7 139.1 97.3 C139.8 98.9 139.2 102.3 137.9 103.7 C136.6 105.0 133.2 105.7 131.5 105.3 C129.7 104.9 128.1 102.9 127.5 101.3 C126.9 99.7 126.8 96.9 127.9 95.7 Z" fill="#E11400"/>
<path d="M120.3 108.5 C121.3 107.1 125.7 107.4 128.7 107.7 C131.6 107.9 136.2 108.7 137.9 110.1 C139.6 111.4 140.3 114.3 139.1 115.7 C137.9 117.0 133.4 118.1 130.7 118.1 C127.9 118.1 124.4 117.3 122.7 115.7 C120.9 114.1 119.3 109.8 120.3 108.5 Z" fill="#E11400"/>
<path d="M155.1 79.7 C156.1 77.8 159.3 77.2 160.7 78.0 C162.1 78.9 163.3 82.3 163.5 84.9 C163.7 87.4 163.0 91.6 161.9 93.3 C160.8 94.9 158.3 95.6 157.1 94.9 C155.9 94.1 155.0 91.4 154.7 88.9 C154.4 86.3 154.1 81.5 155.1 79.7 Z" fill="#E11400"/>
<path d="M171.9 124.9 C172.9 123.5 176.5 122.5 178.7 122.9 C180.9 123.2 184.1 125.1 185.1 126.9 C186.1 128.6 185.9 131.9 184.7 133.3 C183.5 134.6 179.9 135.3 177.9 134.9 C175.9 134.5 173.7 132.5 172.7 130.9 C171.7 129.2 170.9 126.2 171.9 124.9 Z" fill="#E11400"/>
<path d="M153.3 122.3 C155.5 122.3 159.7 123.5 161.9 125.1 C164.0 126.8 164.2 130.3 166.1 132.2 C168.0 134.1 170.8 135.5 173.2 136.5 C175.6 137.4 178.4 137.2 180.3 137.9 C182.2 138.6 183.6 139.1 184.5 140.7 C185.5 142.4 186.4 145.7 185.9 147.8 C185.4 149.9 184.0 152.1 181.7 153.5 C179.3 154.9 174.3 155.4 171.8 156.3 C169.2 157.3 167.5 159.1 166.1 159.1 C164.7 159.1 164.9 157.0 163.3 156.3 C161.6 155.6 158.5 155.4 156.2 154.9 C153.8 154.4 151.5 154.4 149.1 153.5 C146.7 152.6 143.8 150.9 142.0 149.2 C140.2 147.6 139.0 145.7 138.5 143.6 C138.0 141.4 138.3 138.9 139.2 136.5 C140.0 134.1 141.8 131.3 143.4 129.4 C145.1 127.5 147.4 126.3 149.1 125.1 C150.7 123.9 151.2 122.3 153.3 122.3 Z" fill="#C00000"/>
<path d="M169.9 103.7 C170.4 102.5 171.5 101.5 172.7 101.3 C173.9 101.0 176.0 101.3 177.1 102.1 C178.2 102.9 179.4 104.7 179.5 106.1 C179.6 107.4 179.0 109.3 177.9 110.1 C176.8 110.9 174.4 111.2 173.1 110.9 C171.8 110.5 170.4 109.3 169.9 108.1 C169.4 106.9 169.4 104.8 169.9 103.7 Z" fill="#C00000"/>
<path d="M185.9 115.7 C186.7 114.0 189.0 113.0 190.7 112.9 C192.5 112.7 195.1 113.5 196.3 114.9 C197.5 116.2 198.2 118.9 197.9 120.9 C197.7 122.9 196.2 125.7 194.7 126.9 C193.3 128.0 190.6 128.3 189.1 127.7 C187.7 127.0 186.5 124.9 185.9 122.9 C185.4 120.9 185.1 117.3 185.9 115.7 Z" fill="#FF6400"/>
<path d="M188.3 119.7 C188.9 118.9 190.7 117.8 191.5 118.1 C192.3 118.3 193.3 120.3 193.1 121.3 C193.0 122.3 191.5 123.8 190.7 124.1 C189.9 124.3 188.7 123.6 188.3 122.9 C187.9 122.1 187.8 120.5 188.3 119.7 Z" fill="#FFA000"/>
<path d="M194.7 134.9 C195.2 133.1 198.4 132.7 200.7 132.9 C203.1 133.0 207.2 134.2 208.7 135.7 C210.3 137.2 210.6 140.5 209.9 142.1 C209.3 143.7 206.7 145.0 204.7 145.3 C202.7 145.6 199.6 145.4 197.9 143.7 C196.3 142.0 194.3 136.7 194.7 134.9 Z" fill="#FF6400"/>
<path d="M177.5 160.5 C178.3 159.4 180.4 158.9 181.9 158.9 C183.4 158.9 186.1 159.3 186.7 160.5 C187.4 161.7 186.9 164.9 185.9 166.1 C185.0 167.3 182.6 167.8 181.1 167.7 C179.6 167.6 177.7 166.5 177.1 165.3 C176.5 164.1 176.7 161.6 177.5 160.5 Z" fill="#FF6400"/>
<path d="M100.3 75.3 C102.0 73.5 106.3 71.3 109.3 71.3 C112.3 71.3 116.7 73.0 118.3 75.3 C120.0 77.6 120.5 82.7 119.3 85.3 C118.2 88.0 114.2 90.7 111.3 91.3 C108.5 92.0 104.3 90.9 102.3 89.3 C100.3 87.8 99.6 84.7 99.3 82.3 C98.9 80.0 98.6 77.1 100.3 75.3 Z" fill="#FF6400"/>
<path d="M112.3 31.1 C112.8 29.7 113.8 27.8 116.3 26.1 C118.8 24.4 123.9 22.3 127.4 21.1 C130.9 19.9 135.1 18.9 137.4 19.1 C139.8 19.3 141.8 20.6 141.4 22.1 C141.1 23.6 137.8 26.5 135.4 28.1 C133.1 29.8 130.1 31.0 127.4 32.1 C124.7 33.3 121.6 34.7 119.3 35.2 C117.1 35.6 114.9 35.4 113.7 34.8 C112.6 34.1 111.9 32.6 112.3 31.1 Z" fill="#E11400"/>
<path d="M90.2 21.1 C90.4 19.8 91.9 17.4 93.3 16.7 C94.6 16.0 97.1 16.0 98.3 16.7 C99.5 17.4 100.5 19.4 100.3 20.7 C100.1 22.0 98.6 24.0 97.3 24.7 C95.9 25.4 93.4 25.3 92.3 24.7 C91.1 24.1 90.1 22.4 90.2 21.1 Z" fill="#E11400"/>
<path d="M203.1 102.4 C203.1 100.0 204.4 95.7 206.1 93.4 C207.8 91.0 211.1 88.8 213.1 88.3 C215.1 87.8 217.8 88.8 218.1 90.3 C218.5 91.9 216.6 95.2 215.1 97.4 C213.6 99.6 210.6 101.7 209.1 103.4 C207.6 105.1 207.1 107.6 206.1 107.4 C205.1 107.2 203.1 104.7 203.1 102.4 Z" fill="#E11400"/>
<path d="M195.0 121.5 C195.2 119.3 196.5 117.3 198.1 115.4 C199.6 113.6 202.5 110.8 204.1 110.4 C205.6 110.1 206.8 111.6 207.5 113.4 C208.2 115.3 208.8 118.9 208.1 121.5 C207.4 124.0 204.9 127.3 203.1 128.5 C201.2 129.7 198.4 129.7 197.1 128.5 C195.7 127.3 194.9 123.6 195.0 121.5 Z" fill="#E11400"/>
<path d="M305.2 7.6 C306.0 6.4 308.9 5.6 310.8 6.0 C312.7 6.4 314.7 9.9 316.4 10.0 C318.1 10.1 320.1 4.0 321.2 6.8 C322.3 9.6 323.7 23.9 322.8 26.8 C321.9 29.8 317.8 25.6 315.6 24.4 C313.4 23.2 311.2 21.5 309.6 19.6 C308.0 17.8 306.7 15.2 306.0 13.2 C305.3 11.2 304.4 8.8 305.2 7.6 Z" fill="#E11400"/>
<path d="M82.4 88.8 C83.4 88.3 87.9 90.0 91.9 92.3 C95.8 94.6 103.3 100.1 106.2 102.7 C109.1 105.3 108.2 106.2 109.5 107.9 C110.7 109.7 111.7 110.9 113.7 113.1 C115.8 115.3 119.0 118.5 121.8 121.1 C124.5 123.6 128.3 126.2 130.3 128.4 C132.2 130.5 133.0 131.2 133.4 133.9 C133.7 136.7 132.5 141.5 132.6 145.1 C132.6 148.7 134.3 151.7 133.6 155.7 C132.9 159.7 129.9 165.6 128.1 169.2 C126.3 172.8 124.4 174.7 123.0 177.3 C121.7 179.9 120.9 184.2 120.0 184.9 C119.0 185.5 118.4 182.1 117.2 181.2 C116.1 180.2 114.2 181.3 113.1 178.9 C112.0 176.5 110.9 170.9 110.7 166.9 C110.4 162.9 111.2 158.9 111.5 154.9 C111.7 150.9 112.7 146.8 112.3 142.9 C111.9 139.0 110.7 134.9 109.1 131.7 C107.5 128.5 104.9 126.2 102.7 123.7 C100.4 121.1 97.6 118.9 95.5 116.5 C93.3 114.1 91.3 111.9 89.9 109.3 C88.4 106.7 87.3 103.1 86.7 100.9 C86.0 98.6 86.6 97.7 85.9 95.7 C85.1 93.7 81.4 89.4 82.4 88.8 Z" fill="#FF6400"/>
<path d="M82.9 89.3 C83.9 88.8 88.1 90.8 91.4 93.0 C94.8 95.2 100.3 100.1 102.9 102.6 C105.6 105.1 105.7 106.5 107.3 108.2 C108.8 109.9 110.1 110.7 112.2 112.7 C114.3 114.7 117.1 117.6 119.7 120.1 C122.4 122.6 126.2 125.5 128.2 127.6 C130.2 129.7 131.0 130.0 131.6 132.7 C132.1 135.3 131.4 139.9 131.6 143.5 C131.7 147.1 133.1 150.3 132.4 154.3 C131.7 158.3 129.1 163.8 127.5 167.4 C125.8 170.9 123.9 173.0 122.5 175.5 C121.1 178.0 120.2 181.8 119.2 182.6 C118.2 183.3 117.5 180.7 116.4 180.1 C115.4 179.5 114.0 181.1 113.1 178.9 C112.1 176.7 110.9 170.9 110.7 166.9 C110.4 162.9 111.2 158.9 111.5 154.9 C111.7 150.9 112.7 146.8 112.3 142.9 C111.9 139.0 110.7 134.9 109.1 131.7 C107.5 128.5 104.9 126.2 102.7 123.7 C100.4 121.1 97.6 118.9 95.5 116.5 C93.3 114.1 91.3 111.9 89.9 109.3 C88.4 106.7 87.3 103.1 86.7 100.9 C86.0 98.6 86.5 97.6 85.9 95.7 C85.2 93.7 82.0 89.7 82.9 89.3 Z" fill="#FFA000"/>
<path d="M83.5 89.7 C84.4 89.4 88.3 91.6 91.0 93.7 C93.7 95.9 97.4 100.0 99.7 102.5 C102.0 104.9 103.2 106.9 105.0 108.5 C106.8 110.1 108.6 110.6 110.7 112.3 C112.8 114.1 115.1 116.7 117.7 119.1 C120.3 121.5 124.1 124.8 126.2 126.9 C128.2 128.9 129.1 128.9 129.8 131.4 C130.5 133.9 130.3 138.3 130.6 141.9 C130.8 145.5 131.8 149.0 131.1 152.9 C130.5 156.9 128.3 162.0 126.8 165.5 C125.3 169.0 123.4 171.2 122.0 173.7 C120.6 176.2 119.4 179.4 118.4 180.3 C117.3 181.1 116.6 179.2 115.7 179.0 C114.8 178.8 113.9 180.9 113.1 178.9 C112.2 176.9 110.9 170.9 110.7 166.9 C110.4 162.9 111.2 158.9 111.5 154.9 C111.7 150.9 112.7 146.8 112.3 142.9 C111.9 139.0 110.7 134.9 109.1 131.7 C107.5 128.5 104.9 126.2 102.7 123.7 C100.4 121.1 97.6 118.9 95.5 116.5 C93.3 114.1 91.3 111.9 89.9 109.3 C88.4 106.7 87.3 103.1 86.7 100.9 C86.0 98.6 86.4 97.5 85.9 95.7 C85.3 93.8 82.7 90.0 83.5 89.7 Z" fill="#FFC03C"/>
<path d="M84.1 90.1 C84.9 89.9 88.5 92.4 90.6 94.5 C92.6 96.5 94.4 99.9 96.5 102.3 C98.5 104.7 100.7 107.2 102.8 108.8 C104.9 110.4 107.0 110.4 109.2 111.9 C111.3 113.5 113.2 115.8 115.7 118.1 C118.2 120.5 122.0 124.1 124.1 126.1 C126.2 128.1 127.1 127.8 128.0 130.2 C128.9 132.5 129.2 136.8 129.6 140.3 C129.9 143.9 130.5 147.7 129.9 151.6 C129.4 155.5 127.6 160.2 126.2 163.6 C124.8 167.0 122.9 169.5 121.5 171.9 C120.1 174.3 118.7 177.0 117.6 178.0 C116.5 179.0 115.7 177.8 114.9 177.9 C114.2 178.1 113.8 180.7 113.1 178.9 C112.4 177.1 110.9 170.9 110.7 166.9 C110.4 162.9 111.2 158.9 111.5 154.9 C111.7 150.9 112.7 146.8 112.3 142.9 C111.9 139.0 110.7 134.9 109.1 131.7 C107.5 128.5 104.9 126.2 102.7 123.7 C100.4 121.1 97.6 118.9 95.5 116.5 C93.3 114.1 91.3 111.9 89.9 109.3 C88.4 106.7 87.3 103.1 86.7 100.9 C86.0 98.6 86.3 97.4 85.9 95.7 C85.4 93.9 83.3 90.3 84.1 90.1 Z" fill="#FFE878"/>
<path d="M86.7 98.1 C86.1 98.9 86.8 104.4 87.9 107.3 C88.9 110.1 91.2 112.9 93.1 115.3 C94.9 117.6 96.7 118.9 99.1 121.3 C101.4 123.6 104.9 126.3 107.1 129.3 C109.3 132.3 111.3 136.0 112.3 139.3 C113.3 142.6 113.3 145.8 113.1 149.3 C112.8 152.8 110.9 157.0 110.7 160.5 C110.4 164.0 111.0 167.9 111.5 170.5 C112.0 173.1 112.9 175.5 113.7 176.1 C114.5 176.7 115.1 175.3 116.3 174.1 C117.4 172.9 119.2 171.2 120.7 168.9 C122.1 166.6 123.9 163.8 125.1 160.5 C126.3 157.2 127.4 153.1 127.9 149.3 C128.3 145.5 128.3 141.2 127.9 137.7 C127.4 134.2 126.3 130.2 125.1 128.1 C123.9 125.9 122.8 126.8 120.7 124.9 C118.5 122.9 114.6 118.7 112.3 116.5 C109.9 114.2 108.9 112.5 106.7 111.3 C104.5 110.1 101.7 110.8 99.1 109.3 C96.5 107.7 93.1 103.9 91.1 102.1 C89.0 100.2 87.2 97.2 86.7 98.1 Z" fill="#78B9FA"/>
<path d="M89.5 103.7 C89.7 104.8 92.1 110.2 93.9 112.9 C95.7 115.5 97.9 117.2 100.3 119.7 C102.7 122.1 106.0 124.6 108.3 127.7 C110.5 130.7 112.8 134.5 113.9 138.1 C114.9 141.7 114.8 145.6 114.7 149.3 C114.5 153.0 113.2 157.0 113.1 160.5 C112.9 164.0 113.3 168.5 113.9 170.1 C114.4 171.7 115.3 170.9 116.3 170.1 C117.2 169.3 118.3 167.2 119.5 165.3 C120.6 163.4 122.1 161.6 123.1 158.9 C124.1 156.2 125.1 152.6 125.5 149.3 C125.9 146.0 125.9 142.1 125.5 138.9 C125.0 135.7 123.9 132.2 122.7 130.1 C121.4 127.9 119.9 127.9 117.9 126.1 C115.9 124.2 112.8 120.9 110.7 118.9 C108.5 116.9 107.2 115.3 105.1 114.1 C102.9 112.9 100.0 113.0 97.9 111.7 C95.7 110.3 93.7 107.4 92.3 106.1 C90.9 104.7 89.2 102.5 89.5 103.7 Z" fill="#3C96F5"/>
<path d="M95.5 113.3 C96.0 112.2 100.1 113.4 102.7 114.9 C105.2 116.3 108.3 119.4 110.7 122.1 C113.1 124.7 115.7 128.3 117.1 130.9 C118.4 133.4 119.1 136.4 118.7 137.3 C118.3 138.2 116.5 137.8 114.7 136.5 C112.8 135.2 110.0 131.8 107.5 129.3 C104.9 126.7 101.5 123.9 99.5 121.3 C97.5 118.6 94.9 114.3 95.5 113.3 Z" fill="#1E6EEB"/>
<path d="M115.5 154.1 C116.3 152.9 118.4 151.8 119.5 152.5 C120.5 153.2 121.9 156.0 121.9 158.1 C121.9 160.2 120.5 164.0 119.5 165.3 C118.5 166.6 116.7 167.0 115.9 166.1 C115.1 165.2 114.7 161.7 114.7 159.7 C114.6 157.7 114.7 155.3 115.5 154.1 Z" fill="#1E6EEB"/>
<path d="M77.8 83.7 C78.5 82.4 80.2 81.2 81.8 81.2 C83.5 81.2 86.1 82.3 87.5 83.7 C88.8 85.0 90.0 87.7 89.9 89.3 C89.7 90.9 88.1 92.7 86.7 93.3 C85.2 93.8 82.5 93.3 81.0 92.5 C79.6 91.7 78.4 89.9 77.8 88.5 C77.3 87.0 77.2 84.9 77.8 83.7 Z" fill="#FFC03C"/>
<path d="M79.5 85.3 C79.7 84.0 81.4 83.2 82.7 83.2 C83.9 83.2 85.8 84.3 86.7 85.3 C87.5 86.3 88.1 88.2 87.9 89.3 C87.6 90.3 86.2 91.4 85.1 91.7 C83.9 91.9 82.0 91.9 81.0 90.9 C80.1 89.8 79.2 86.5 79.5 85.3 Z" fill="#FFE878"/>
<path d="M246.2 283.5 C246.9 282.1 248.4 279.8 251.2 278.4 C254.1 277.1 258.6 275.8 263.3 275.4 C268.0 275.1 274.0 276.5 279.3 276.4 C284.7 276.4 290.0 275.4 295.4 275.0 C300.8 274.7 307.8 274.0 311.4 274.4 C315.1 274.8 317.1 276.3 317.5 277.4 C317.8 278.6 316.1 280.3 313.5 281.5 C310.8 282.6 306.1 283.7 301.4 284.5 C296.7 285.2 291.0 285.2 285.4 285.9 C279.7 286.6 272.7 288.0 267.3 288.5 C261.9 289.0 256.6 289.4 253.2 289.1 C249.9 288.8 248.4 287.4 247.2 286.5 C246.1 285.5 245.6 284.8 246.2 283.5 Z" fill="#4B3CC8"/>
<path d="M171.0 296.3 C173.3 295.0 179.0 293.0 183.0 292.7 C187.0 292.4 192.5 293.4 195.0 294.7 C197.5 296.0 202.4 299.6 198.1 300.5 C193.7 301.5 173.5 301.2 168.9 300.5 C164.4 299.8 168.6 297.6 171.0 296.3 Z" fill="#4B3CC8"/>
<path d="M217.1 294.5 C218.1 293.8 222.4 291.7 224.1 291.5 C225.9 291.3 227.6 292.4 227.6 293.1 C227.6 293.8 225.7 295.4 224.1 295.9 C222.6 296.4 219.3 296.1 218.1 295.9 C217.0 295.7 216.1 295.2 217.1 294.5 Z" fill="#4B3CC8"/>
<use href="#map"/>
<path d="M119.0 71.0 C119.6 72.0 122.0 74.7 123.0 77.0 C124.0 79.4 124.6 83.7 125.0 85.1" fill="none" stroke="#ffffff" stroke-width="0.7" opacity="0.85"/>
<path d="M129.0 81.0 C130.0 82.1 133.3 84.7 135.0 87.1 C136.7 89.4 138.3 93.7 139.0 95.1" fill="none" stroke="#ffffff" stroke-width="0.7" opacity="0.85"/>
<path d="M143.0 85.1 C144.0 86.1 147.0 89.7 149.0 91.1 C151.0 92.4 154.0 92.7 155.0 93.1" fill="none" stroke="#ffffff" stroke-width="0.7" opacity="0.85"/>
<path d="M157.0 75.0 C158.0 76.0 161.7 78.7 163.0 81.0 C164.3 83.4 164.7 87.7 165.0 89.1" fill="none" stroke="#ffffff" stroke-width="0.7" opacity="0.85"/>
<path d="M121.0 35.0 C122.0 36.0 125.3 39.0 127.0 41.0 C128.6 43.0 130.3 46.0 131.0 47.0" fill="none" stroke="#ffffff" stroke-width="0.7" opacity="0.85"/>
<path d="M139.0 41.0 C140.0 40.7 143.3 38.4 145.0 39.0 C146.7 39.7 148.3 44.0 149.0 45.0" fill="none" stroke="#ffffff" stroke-width="0.7" opacity="0.85"/>
<path d="M211.0 73.0 C212.0 73.7 215.4 75.0 217.0 77.0 C218.7 79.1 221.0 82.7 221.0 85.1 C221.0 87.4 217.7 90.1 217.0 91.1" fill="none" stroke="#ffffff" stroke-width="0.7" opacity="0.85"/>
<path d="M195.0 117.1 C196.0 117.4 199.4 117.7 201.0 119.1 C202.7 120.4 204.4 124.1 205.0 125.1" fill="none" stroke="#ffffff" stroke-width="0.7" opacity="0.85"/>
<path d="M123.0 207.1 C124.6 208.1 129.3 211.8 133.0 213.1 C136.7 214.5 143.0 214.8 145.0 215.1" fill="none" stroke="#ffffff" stroke-width="0.7" opacity="0.85"/>
<path d="M125.0 195.1 C127.0 196.5 133.0 201.1 137.0 203.1 C141.0 205.1 147.0 206.5 149.0 207.1" fill="none" stroke="#ffffff" stroke-width="0.7" opacity="0.85"/>
<path d="M141.0 231.1 C143.0 232.5 149.3 237.3 153.0 239.2 C156.7 241.0 161.3 241.8 163.0 242.3" fill="none" stroke="#ffffff" stroke-width="0.7" opacity="0.85"/>
<path d="M105.0 179.1 C105.6 181.1 108.6 187.1 109.0 191.1 C109.3 195.1 107.3 201.1 107.0 203.1" fill="none" stroke="#ffffff" stroke-width="0.7" opacity="0.85"/>
<path d="M161.0 163.1 C162.0 164.1 165.0 168.4 167.0 169.1 C169.0 169.8 172.0 167.4 173.0 167.1" fill="none" stroke="#ffffff" stroke-width="0.7" opacity="0.85"/>
<path d="M151.0 155.1 C152.0 155.8 155.3 157.1 157.0 159.1 C158.7 161.1 160.3 165.8 161.0 167.1" fill="none" stroke="#ffffff" stroke-width="0.7" opacity="0.85"/>
<path d="M8.9 199.1 C12.9 200.8 23.6 205.5 32.9 209.1 C42.3 212.8 55.6 217.6 65.0 221.1 C74.3 224.7 85.0 228.8 89.0 230.3" fill="none" stroke="#ffffff" stroke-width="0.8" stroke-dasharray="5 3" opacity="0.8"/>
<path d="M24.9 217.1 C29.6 218.8 43.6 223.6 52.9 227.1 C62.3 230.7 76.3 236.5 81.0 238.3" fill="none" stroke="#ffffff" stroke-width="0.8" stroke-dasharray="5 3" opacity="0.8"/>
<path d="M177.0 215.1 C178.3 214.1 181.4 209.9 185.0 209.1 C188.7 208.3 195.0 208.7 199.0 210.3 C203.0 212.0 208.4 216.0 209.0 219.1 C209.7 222.3 206.4 227.1 203.0 229.1 C199.7 231.1 191.4 230.8 189.0 231.1" fill="none" stroke="#ffffff" stroke-width="0.8" stroke-dasharray="5 3" opacity="0.8"/>
<path d="M305.1 247.2 C306.4 247.8 310.6 249.7 313.1 251.2 C315.6 252.6 319.1 255.2 320.3 256.0" fill="none" stroke="#ffffff" stroke-width="0.8" stroke-dasharray="5 3" opacity="0.8"/>
<path d="M277.1 276.0 C278.4 275.4 281.7 272.6 285.1 272.4 C288.4 272.1 294.1 273.1 297.1 274.4 C300.1 275.6 302.1 279.0 303.1 280.0" fill="none" stroke="#ffffff" stroke-width="0.8" stroke-dasharray="5 3" opacity="0.8"/>
<path d="M133.0 238.3 C135.7 239.2 144.0 241.7 149.0 243.2 C154.0 244.6 160.7 246.5 163.0 247.2" fill="none" stroke="#ffffff" stroke-width="0.8" stroke-dasharray="5 3" opacity="0.8"/>
<path d="M-13.1 198.8 C-10.8 198.8 -4.7 198.7 0.9 199.2 C6.6 199.6 14.3 200.6 21.0 201.6 C27.7 202.6 35.1 204.0 41.1 205.2 C47.1 206.4 52.4 208.0 57.1 208.8 C61.8 209.6 65.8 210.2 69.2 210.2 C72.5 210.2 74.9 210.3 77.2 208.8 C79.5 207.3 81.4 204.5 83.2 201.2 C85.1 197.9 86.7 192.5 88.2 189.1 C89.7 185.8 91.4 183.3 92.3 181.1 C93.2 178.9 93.1 176.1 93.7 176.1 C94.2 176.1 95.1 178.9 95.7 181.1 C96.2 183.3 97.1 186.1 96.9 189.1 C96.6 192.1 95.0 195.8 94.3 199.2 C93.5 202.5 92.1 206.5 92.3 209.2 C92.4 211.9 93.4 213.9 95.3 215.2 C97.1 216.6 100.6 216.4 103.3 217.2 C106.0 218.1 109.3 218.6 111.3 220.2 C113.3 221.9 114.8 224.8 115.3 227.3 C115.8 229.8 113.7 233.3 114.3 235.3 C115.0 237.3 117.2 238.8 119.3 239.3 C121.5 239.8 124.7 239.0 127.4 238.3 C130.1 237.6 132.4 237.0 135.4 235.3 C138.4 233.6 142.4 230.4 145.4 228.3 C148.5 226.1 151.9 223.9 153.5 222.2 C155.0 220.6 153.3 219.2 154.9 218.2 C156.5 217.2 160.6 215.7 162.9 216.2 C165.3 216.7 166.9 219.6 168.9 221.2 C171.0 222.9 173.0 225.8 175.0 226.3 C177.0 226.8 179.0 225.6 181.0 224.3 C183.0 222.9 184.0 219.4 187.0 218.2 C190.0 217.1 194.4 217.4 199.1 217.2 C203.7 217.1 209.8 217.1 215.1 217.2 C220.5 217.4 226.2 217.7 231.2 218.2 C236.2 218.7 240.5 219.9 245.2 220.2 C249.9 220.6 254.3 220.6 259.3 220.2 C264.3 219.9 271.3 219.4 275.3 218.2 C279.3 217.1 280.3 214.7 283.4 213.2 C286.4 211.8 289.4 210.3 293.4 209.6 C297.4 208.9 302.8 209.3 307.4 209.2 C312.1 209.1 317.5 208.9 321.5 208.8 C325.5 208.7 329.8 208.8 331.5 208.8" fill="none" stroke="#169016" stroke-width="1.5"/>
<path d="M111.3 101.4 C113.6 100.6 118.5 101.7 121.4 102.4 C124.2 103.1 126.9 106.6 128.4 105.4 C129.9 104.2 130.6 98.7 130.4 95.4 C130.2 92.0 128.4 88.7 127.4 85.3 C126.4 82.0 125.4 78.3 124.4 75.3 C123.4 72.3 122.9 69.3 121.4 67.3 C119.9 65.3 116.7 65.6 115.3 63.3 C114.0 60.9 113.0 56.2 113.3 53.2 C113.7 50.2 116.0 45.2 117.3 45.2 C118.7 45.2 119.7 50.9 121.4 53.2 C123.0 55.6 125.0 57.6 127.4 59.2 C129.7 60.9 132.7 61.8 135.4 63.3 C138.1 64.8 141.1 67.1 143.4 68.3 C145.8 69.4 148.0 70.8 149.5 70.3 C151.0 69.8 152.3 67.4 152.5 65.3 C152.6 63.1 151.1 59.9 150.5 57.2 C149.8 54.6 148.3 51.6 148.5 49.2 C148.6 46.9 150.0 45.2 151.5 43.2 C153.0 41.2 155.9 38.8 157.5 37.2 C159.1 35.6 160.3 34.1 160.9 33.5 C161.5 33.0 159.2 33.2 160.9 34.1 C162.6 35.1 168.3 36.7 171.0 39.2 C173.6 41.7 175.0 46.2 177.0 49.2 C179.0 52.2 181.2 54.1 183.0 57.2 C184.8 60.4 186.3 65.3 188.0 68.3 C189.7 71.3 191.4 73.1 193.0 75.3 C194.7 77.5 197.2 79.0 198.1 81.3 C198.9 83.7 198.1 87.0 198.1 89.3 C198.0 91.7 198.1 92.1 197.6 95.2 C197.0 98.3 196.4 104.6 194.7 107.9 C193.1 111.2 189.7 112.9 187.7 115.0 C185.7 117.1 183.4 118.8 182.7 120.7 C182.0 122.6 182.3 124.2 183.4 126.3 C184.5 128.5 187.7 130.8 189.1 133.4 C190.5 136.0 190.8 139.3 191.9 141.9 C193.0 144.5 195.2 146.6 195.4 149.0 C195.7 151.4 194.1 154.4 193.3 156.1 C192.6 157.8 194.4 157.2 191.0 159.0 C187.6 160.9 175.8 164.1 173.0 167.1 C170.1 170.1 175.0 174.1 174.0 177.1 C173.0 180.1 169.4 182.8 166.9 185.1 C164.4 187.5 161.2 188.5 158.9 191.1 C156.7 193.8 155.0 197.8 153.5 201.2 C151.9 204.5 151.8 208.5 149.5 211.2 C147.1 213.9 142.8 216.9 139.4 217.2 C136.1 217.6 132.4 215.6 129.4 213.2 C126.4 210.9 123.0 206.9 121.4 203.2 C119.7 199.5 119.3 194.8 119.3 191.1 C119.3 187.5 120.0 184.5 121.4 181.1 C122.7 177.8 125.5 174.4 127.4 171.1 C129.2 167.7 131.2 163.4 132.4 161.0 C133.6 158.7 134.5 159.3 134.7 156.9 C134.9 154.5 133.4 150.1 133.5 146.5 C133.5 142.8 135.2 138.0 134.9 135.1 C134.7 132.1 134.0 131.2 132.1 129.0 C130.2 126.9 126.4 124.6 123.6 122.0 C120.8 119.4 117.8 116.0 115.1 113.5 C112.4 111.0 108.1 108.9 107.5 106.9 C106.8 104.9 109.0 102.1 111.3 101.4 Z" fill="none" stroke="#169016" stroke-width="1.5"/>
<path d="M86.7 98.1 C86.1 98.9 86.8 104.4 87.9 107.3 C88.9 110.1 91.2 112.9 93.1 115.3 C94.9 117.6 96.7 118.9 99.1 121.3 C101.4 123.6 104.9 126.3 107.1 129.3 C109.3 132.3 111.3 136.0 112.3 139.3 C113.3 142.6 113.3 145.8 113.1 149.3 C112.8 152.8 110.9 157.0 110.7 160.5 C110.4 164.0 111.0 167.9 111.5 170.5 C112.0 173.1 112.9 175.5 113.7 176.1 C114.5 176.7 115.1 175.3 116.3 174.1 C117.4 172.9 119.2 171.2 120.7 168.9 C122.1 166.6 123.9 163.8 125.1 160.5 C126.3 157.2 127.4 153.1 127.9 149.3 C128.3 145.5 128.3 141.2 127.9 137.7 C127.4 134.2 126.3 130.2 125.1 128.1 C123.9 125.9 122.8 126.8 120.7 124.9 C118.5 122.9 114.6 118.7 112.3 116.5 C109.9 114.2 108.9 112.5 106.7 111.3 C104.5 110.1 101.7 110.8 99.1 109.3 C96.5 107.7 93.1 103.9 91.1 102.1 C89.0 100.2 87.2 97.2 86.7 98.1 Z" fill="none" stroke="#169016" stroke-width="1.5"/>
<path d="M112.3 31.1 C112.8 29.7 113.8 27.8 116.3 26.1 C118.8 24.4 123.9 22.3 127.4 21.1 C130.9 19.9 135.1 18.9 137.4 19.1 C139.8 19.3 141.8 20.6 141.4 22.1 C141.1 23.6 137.8 26.5 135.4 28.1 C133.1 29.8 130.1 31.0 127.4 32.1 C124.7 33.3 121.6 34.7 119.3 35.2 C117.1 35.6 114.9 35.4 113.7 34.8 C112.6 34.1 111.9 32.6 112.3 31.1 Z" fill="none" stroke="#169016" stroke-width="1.5"/>
<path d="M90.2 21.1 C90.4 19.8 91.9 17.4 93.3 16.7 C94.6 16.0 97.1 16.0 98.3 16.7 C99.5 17.4 100.5 19.4 100.3 20.7 C100.1 22.0 98.6 24.0 97.3 24.7 C95.9 25.4 93.4 25.3 92.3 24.7 C91.1 24.1 90.1 22.4 90.2 21.1 Z" fill="none" stroke="#169016" stroke-width="1.5"/>
<path d="M203.1 102.4 C203.1 100.0 204.4 95.7 206.1 93.4 C207.8 91.0 211.1 88.8 213.1 88.3 C215.1 87.8 217.8 88.8 218.1 90.3 C218.5 91.9 216.6 95.2 215.1 97.4 C213.6 99.6 210.6 101.7 209.1 103.4 C207.6 105.1 207.1 107.6 206.1 107.4 C205.1 107.2 203.1 104.7 203.1 102.4 Z" fill="none" stroke="#169016" stroke-width="1.5"/>
<path d="M195.0 121.5 C195.2 119.3 196.5 117.3 198.1 115.4 C199.6 113.6 202.5 110.8 204.1 110.4 C205.6 110.1 206.8 111.6 207.5 113.4 C208.2 115.3 208.8 118.9 208.1 121.5 C207.4 124.0 204.9 127.3 203.1 128.5 C201.2 129.7 198.4 129.7 197.1 128.5 C195.7 127.3 194.9 123.6 195.0 121.5 Z" fill="none" stroke="#169016" stroke-width="1.5"/>
<path d="M246.2 283.5 C246.9 282.1 248.4 279.8 251.2 278.4 C254.1 277.1 258.6 275.8 263.3 275.4 C268.0 275.1 274.0 276.5 279.3 276.4 C284.7 276.4 290.0 275.4 295.4 275.0 C300.8 274.7 307.8 274.0 311.4 274.4 C315.1 274.8 317.1 276.3 317.5 277.4 C317.8 278.6 316.1 280.3 313.5 281.5 C310.8 282.6 306.1 283.7 301.4 284.5 C296.7 285.2 291.0 285.2 285.4 285.9 C279.7 286.6 272.7 288.0 267.3 288.5 C261.9 289.0 256.6 289.4 253.2 289.1 C249.9 288.8 248.4 287.4 247.2 286.5 C246.1 285.5 245.6 284.8 246.2 283.5 Z" fill="none" stroke="#169016" stroke-width="1.5"/>
<path d="M171.0 296.3 C173.3 295.0 179.0 293.0 183.0 292.7 C187.0 292.4 192.5 293.4 195.0 294.7 C197.5 296.0 202.4 299.6 198.1 300.5 C193.7 301.5 173.5 301.2 168.9 300.5 C164.4 299.8 168.6 297.6 171.0 296.3 Z" fill="none" stroke="#169016" stroke-width="1.5"/>
<path d="M217.1 294.5 C218.1 293.8 222.4 291.7 224.1 291.5 C225.9 291.3 227.6 292.4 227.6 293.1 C227.6 293.8 225.7 295.4 224.1 295.9 C222.6 296.4 219.3 296.1 218.1 295.9 C217.0 295.7 216.1 295.2 217.1 294.5 Z" fill="none" stroke="#169016" stroke-width="1.5"/>
<path d="M304.0 6.8 C304.4 6.5 305.5 5.5 306.8 5.2 C308.1 4.9 310.3 4.6 312.0 5.2 C313.7 5.8 315.5 8.7 316.8 8.8 C318.1 8.9 318.9 7.1 319.6 6.0 C320.3 4.9 320.9 2.7 321.2 2.0" fill="none" stroke="#169016" stroke-width="1.5"/>
<path d="M304.0 6.8 C304.2 7.9 304.3 10.9 305.2 13.2 C306.1 15.5 307.6 18.5 309.2 20.4 C310.8 22.4 312.8 23.9 314.8 24.8 C316.8 25.8 320.1 25.8 321.2 26.0" fill="none" stroke="#169016" stroke-width="1.5"/>
<path d="M321.2 12.8 C320.5 13.0 318.3 13.1 317.2 14.0 C316.1 14.9 314.7 16.6 314.8 18.0 C314.9 19.5 316.9 21.9 318.0 22.8 C319.1 23.8 320.7 23.5 321.2 23.6" fill="none" stroke="#169016" stroke-width="1.5"/>
<rect x="79.4" y="92.3" width="15.2" height="9.6" fill="#fff"/><text x="87.0" y="100.9" font-size="10.5" fill="#169016" text-anchor="middle">15</text>
<rect x="93.4" y="93.1" width="15.2" height="9.6" fill="#fff"/><text x="101.0" y="101.7" font-size="10.5" fill="#169016" text-anchor="middle">30</text>
<rect x="152.6" y="29.0" width="15.2" height="9.6" fill="#fff"/><text x="160.2" y="37.6" font-size="10.5" fill="#169016" text-anchor="middle">30</text>
<rect x="172.2" y="155.1" width="15.2" height="9.6" fill="#fff"/><text x="179.8" y="163.7" font-size="10.5" fill="#169016" text-anchor="middle">30</text>
<rect x="95.8" y="212.3" width="15.2" height="9.6" fill="#fff"/><text x="103.4" y="220.9" font-size="10.5" fill="#169016" text-anchor="middle">15</text>
<rect x="212.6" y="212.3" width="15.2" height="9.6" fill="#fff"/><text x="220.2" y="220.9" font-size="10.5" fill="#169016" text-anchor="middle">15</text>
<rect x="289.1" y="281.6" width="9.6" height="9.6" fill="#fff"/><text x="293.9" y="290.2" font-size="10.5" fill="#169016" text-anchor="middle">0</text>
<rect x="120.5" y="92.6" width="13.0" height="9" fill="#fff"/><text x="127.0" y="100.5" font-size="9.5" fill="#333" text-anchor="middle">−2</text>
<rect x="145.8" y="106.6" width="8.0" height="9" fill="#fff"/><text x="149.8" y="114.5" font-size="9.5" fill="#333" text-anchor="middle">4</text>
<rect x="142.6" y="118.6" width="8.0" height="9" fill="#fff"/><text x="146.6" y="126.5" font-size="9.5" fill="#333" text-anchor="middle">2</text>
<rect x="113.0" y="174.6" width="8.0" height="9" fill="#fff"/><text x="117.0" y="182.5" font-size="9.5" fill="#333" text-anchor="middle">2</text>
<rect x="129.0" y="226.6" width="8.0" height="9" fill="#fff"/><text x="133.0" y="234.5" font-size="9.5" fill="#333" text-anchor="middle">4</text>
<rect x="63.7" y="226.6" width="13.0" height="9" fill="#fff"/><text x="70.2" y="234.5" font-size="9.5" fill="#333" text-anchor="middle">−2</text>
<rect x="183.7" y="222.6" width="13.0" height="9" fill="#fff"/><text x="190.2" y="230.5" font-size="9.5" fill="#333" text-anchor="middle">−2</text>
</g>
<rect x="0" y="0" width="320.5" height="297.0" fill="none" stroke="#000" stroke-width="2.1"/>
<line x1="-4.2" x2="0" y1="0.0" y2="0.0" stroke="#000" stroke-width="1.3"/>
<text x="-6" y="3.3" font-size="9" font-weight="bold" text-anchor="end" textLength="15.4" lengthAdjust="spacingAndGlyphs">15N</text>
<line x1="-4.2" x2="0" y1="19.8" y2="19.8" stroke="#000" stroke-width="1.3"/>
<text x="-6" y="23.1" font-size="9" font-weight="bold" text-anchor="end" textLength="15.4" lengthAdjust="spacingAndGlyphs">10N</text>
<line x1="-4.2" x2="0" y1="39.6" y2="39.6" stroke="#000" stroke-width="1.3"/>
<text x="-6" y="42.9" font-size="9" font-weight="bold" text-anchor="end" textLength="10.8" lengthAdjust="spacingAndGlyphs">5N</text>
<line x1="-4.2" x2="0" y1="59.4" y2="59.4" stroke="#000" stroke-width="1.3"/>
<text x="-6" y="62.7" font-size="9" font-weight="bold" text-anchor="end" textLength="10.8" lengthAdjust="spacingAndGlyphs">EQ</text>
<line x1="-4.2" x2="0" y1="79.2" y2="79.2" stroke="#000" stroke-width="1.3"/>
<text x="-6" y="82.5" font-size="9" font-weight="bold" text-anchor="end" textLength="10.8" lengthAdjust="spacingAndGlyphs">5S</text>
<line x1="-4.2" x2="0" y1="99.0" y2="99.0" stroke="#000" stroke-width="1.3"/>
<text x="-6" y="102.3" font-size="9" font-weight="bold" text-anchor="end" textLength="15.4" lengthAdjust="spacingAndGlyphs">10S</text>
<line x1="-4.2" x2="0" y1="118.8" y2="118.8" stroke="#000" stroke-width="1.3"/>
<text x="-6" y="122.1" font-size="9" font-weight="bold" text-anchor="end" textLength="15.4" lengthAdjust="spacingAndGlyphs">15S</text>
<line x1="-4.2" x2="0" y1="138.6" y2="138.6" stroke="#000" stroke-width="1.3"/>
<text x="-6" y="141.9" font-size="9" font-weight="bold" text-anchor="end" textLength="15.4" lengthAdjust="spacingAndGlyphs">20S</text>
<line x1="-4.2" x2="0" y1="158.4" y2="158.4" stroke="#000" stroke-width="1.3"/>
<text x="-6" y="161.7" font-size="9" font-weight="bold" text-anchor="end" textLength="15.4" lengthAdjust="spacingAndGlyphs">25S</text>
<line x1="-4.2" x2="0" y1="178.2" y2="178.2" stroke="#000" stroke-width="1.3"/>
<text x="-6" y="181.5" font-size="9" font-weight="bold" text-anchor="end" textLength="15.4" lengthAdjust="spacingAndGlyphs">30S</text>
<line x1="-4.2" x2="0" y1="198.0" y2="198.0" stroke="#000" stroke-width="1.3"/>
<text x="-6" y="201.3" font-size="9" font-weight="bold" text-anchor="end" textLength="15.4" lengthAdjust="spacingAndGlyphs">35S</text>
<line x1="-4.2" x2="0" y1="217.8" y2="217.8" stroke="#000" stroke-width="1.3"/>
<text x="-6" y="221.1" font-size="9" font-weight="bold" text-anchor="end" textLength="15.4" lengthAdjust="spacingAndGlyphs">40S</text>
<line x1="-4.2" x2="0" y1="237.6" y2="237.6" stroke="#000" stroke-width="1.3"/>
<text x="-6" y="240.9" font-size="9" font-weight="bold" text-anchor="end" textLength="15.4" lengthAdjust="spacingAndGlyphs">45S</text>
<line x1="-4.2" x2="0" y1="257.4" y2="257.4" stroke="#000" stroke-width="1.3"/>
<text x="-6" y="260.7" font-size="9" font-weight="bold" text-anchor="end" textLength="15.4" lengthAdjust="spacingAndGlyphs">50S</text>
<line x1="-4.2" x2="0" y1="277.2" y2="277.2" stroke="#000" stroke-width="1.3"/>
<text x="-6" y="280.5" font-size="9" font-weight="bold" text-anchor="end" textLength="15.4" lengthAdjust="spacingAndGlyphs">55S</text>
<line x1="-4.2" x2="0" y1="297.0" y2="297.0" stroke="#000" stroke-width="1.3"/>
<text x="-6" y="300.3" font-size="9" font-weight="bold" text-anchor="end" textLength="15.4" lengthAdjust="spacingAndGlyphs">60S</text>
<line y1="297.0" y2="300.5" x1="4.3" x2="4.3" stroke="#000" stroke-width="1.3"/>
<text x="-6.2" y="307.5" font-size="9" font-weight="bold" textLength="21.8" lengthAdjust="spacingAndGlyphs">100W</text>
<line y1="297.0" y2="300.5" x1="40.0" x2="40.0" stroke="#000" stroke-width="1.3"/>
<text x="32.1" y="307.5" font-size="9" font-weight="bold" textLength="16.6" lengthAdjust="spacingAndGlyphs">90W</text>
<line y1="297.0" y2="300.5" x1="75.7" x2="75.7" stroke="#000" stroke-width="1.3"/>
<text x="67.8" y="307.5" font-size="9" font-weight="bold" textLength="16.6" lengthAdjust="spacingAndGlyphs">80W</text>
<line y1="297.0" y2="300.5" x1="111.4" x2="111.4" stroke="#000" stroke-width="1.3"/>
<text x="103.5" y="307.5" font-size="9" font-weight="bold" textLength="16.6" lengthAdjust="spacingAndGlyphs">70W</text>
<line y1="297.0" y2="300.5" x1="147.1" x2="147.1" stroke="#000" stroke-width="1.3"/>
<text x="139.2" y="307.5" font-size="9" font-weight="bold" textLength="16.6" lengthAdjust="spacingAndGlyphs">60W</text>
<line y1="297.0" y2="300.5" x1="182.8" x2="182.8" stroke="#000" stroke-width="1.3"/>
<text x="174.9" y="307.5" font-size="9" font-weight="bold" textLength="16.6" lengthAdjust="spacingAndGlyphs">50W</text>
<line y1="297.0" y2="300.5" x1="218.5" x2="218.5" stroke="#000" stroke-width="1.3"/>
<text x="210.6" y="307.5" font-size="9" font-weight="bold" textLength="16.6" lengthAdjust="spacingAndGlyphs">40W</text>
<line y1="297.0" y2="300.5" x1="254.2" x2="254.2" stroke="#000" stroke-width="1.3"/>
<text x="246.3" y="307.5" font-size="9" font-weight="bold" textLength="16.6" lengthAdjust="spacingAndGlyphs">30W</text>
<line y1="297.0" y2="300.5" x1="289.9" x2="289.9" stroke="#000" stroke-width="1.3"/>
<text x="282.0" y="307.5" font-size="9" font-weight="bold" textLength="16.6" lengthAdjust="spacingAndGlyphs">20W</text>
</g>
<text x="566.0" y="483.0" font-size="18.4" textLength="70.3" lengthAdjust="spacing">cluster:</text>
<text x="653.5" y="483.0" font-size="18.4" text-anchor="middle">4</text>
<text x="682.9" y="483.0" font-size="18.4" textLength="92.5" lengthAdjust="spacing">membros:</text>
<text x="793.8" y="483.0" font-size="18.4" text-anchor="middle">1</text>
<g transform="translate(63.30,848.40)">
<g clip-path="url(#clip)">
<rect x="-2" y="-2" width="324.5" height="301.0" fill="#1E50D2"/>
<path d="M-13.3 291.1 C-6.0 290.5 18.5 287.5 30.8 287.5 C43.2 287.5 50.9 290.3 61.0 291.1 C71.0 291.9 79.3 292.1 91.0 292.1 C102.8 292.1 119.6 293.3 131.2 291.1 C142.8 288.9 152.4 281.1 160.7 279.1 C169.0 277.1 174.1 279.4 180.8 279.1 C187.5 278.7 194.2 278.2 200.8 277.1 C207.5 275.9 214.2 273.7 220.9 272.0 C227.6 270.4 234.3 268.2 241.0 267.0 C247.7 265.8 254.4 265.3 261.1 265.0 C267.7 264.7 274.4 265.3 281.1 265.0 C287.8 264.7 294.7 263.8 301.2 263.0 C307.7 262.2 314.8 260.6 319.9 260.0 C324.9 259.4 329.4 259.7 331.3 259.6 L331.3 -20 L-13.3 -20 Z" fill="#1464D2"/>
<path d="M-3.8 268.2 C0.3 268.4 13.2 269.2 20.6 269.4 C28.0 269.5 34.0 269.2 40.6 269.0 C47.3 268.8 54.6 268.2 60.6 268.2 C66.6 268.2 71.6 268.4 76.7 269.0 C81.7 269.5 85.9 270.3 90.7 271.4 C95.4 272.4 101.3 274.3 105.1 275.4 C108.9 276.4 110.4 277.5 113.5 277.8 C116.5 278.0 119.7 277.9 123.5 277.0 C127.2 276.0 131.4 273.6 135.9 272.2 C140.4 270.7 146.2 269.4 150.3 268.2 C154.4 267.0 155.6 265.9 160.7 265.0 C165.8 264.1 174.1 263.7 180.8 263.0 C187.5 262.3 194.2 262.0 200.8 261.0 C207.5 260.0 214.2 258.2 220.9 257.0 C227.6 255.8 234.3 255.0 241.0 254.0 C247.7 253.0 254.4 251.5 261.1 251.0 C267.7 250.5 274.4 251.3 281.1 251.0 C287.8 250.6 294.7 250.3 301.2 248.9 C307.7 247.6 314.8 244.0 319.9 242.9 C324.9 241.9 329.4 242.6 331.3 242.5 L331.3 -20 L-3.8 -20 Z" fill="#1E6EEB"/>
<path d="M-3.8 242.2 C0.3 242.3 13.2 242.8 20.6 243.3 C28.0 243.9 34.0 244.7 40.6 245.3 C47.3 246.0 54.6 247.3 60.6 247.3 C66.6 247.3 72.6 245.4 76.7 245.3 C80.7 245.3 82.7 246.9 85.1 246.9 C87.4 247.0 88.8 247.0 90.7 245.8 C92.5 244.5 94.1 240.8 96.3 239.3 C98.4 237.9 101.5 236.9 103.5 237.3 C105.5 237.8 107.1 239.7 108.3 242.2 C109.5 244.6 110.4 248.8 110.7 252.2 C110.9 255.5 109.2 259.6 109.9 262.2 C110.5 264.8 112.4 266.7 114.7 267.8 C116.9 268.8 120.4 268.8 123.5 268.6 C126.5 268.3 129.5 267.2 133.1 266.2 C136.6 265.1 140.9 263.4 144.7 262.2 C148.5 260.9 153.2 260.1 155.9 258.6 C158.6 257.0 157.2 253.7 160.7 253.0 C164.2 252.2 171.4 254.3 176.8 254.0 C182.1 253.6 187.5 252.1 192.8 251.0 C198.2 249.8 203.5 248.0 208.9 246.9 C214.2 245.9 219.6 245.6 224.9 244.9 C230.3 244.3 235.6 243.8 241.0 242.9 C246.3 242.1 251.7 240.3 257.0 239.9 C262.4 239.6 267.7 240.6 273.1 240.9 C278.5 241.3 284.5 242.3 289.1 241.9 C293.8 241.6 297.5 240.1 301.2 238.9 C304.9 237.7 308.1 235.7 311.2 234.9 C314.3 234.1 316.5 234.1 319.9 233.9 C323.2 233.7 329.4 233.6 331.3 233.5 L331.3 -20 L-3.8 -20 Z" fill="#3C96F5"/>
<path d="M-3.8 222.1 C0.3 221.9 11.5 221.1 20.6 220.9 C29.7 220.7 42.3 220.3 50.6 220.9 C59.0 221.5 64.9 223.8 70.7 224.5 C76.4 225.3 81.5 224.7 85.1 225.3 C88.7 225.9 89.9 227.5 92.3 228.1 C94.6 228.8 96.7 228.4 99.1 229.3 C101.4 230.3 104.3 231.8 106.3 233.7 C108.2 235.7 109.7 238.6 110.7 240.9 C111.6 243.3 111.2 245.4 111.9 247.8 C112.5 250.1 113.5 253.4 114.7 255.0 C115.9 256.5 117.4 257.0 119.1 257.0 C120.7 257.0 122.3 256.2 124.7 255.0 C127.0 253.7 130.0 251.2 133.1 249.3 C136.1 247.5 139.8 245.4 143.1 243.8 C146.4 242.1 150.2 240.5 153.1 239.3 C156.0 238.2 157.8 236.5 160.7 236.9 C163.6 237.3 167.4 240.7 170.7 241.9 C174.1 243.2 177.4 245.0 180.8 244.5 C184.1 244.0 187.1 241.0 190.8 238.9 C194.5 236.8 198.5 233.9 202.8 231.9 C207.2 229.9 212.6 227.5 216.9 226.9 C221.2 226.2 224.3 227.2 228.9 227.9 C233.6 228.5 239.6 230.1 245.0 230.9 C250.4 231.7 255.7 232.9 261.1 232.9 C266.4 232.9 271.8 231.6 277.1 230.9 C282.5 230.2 288.5 229.9 293.2 228.9 C297.9 227.9 300.8 225.9 305.2 224.9 C309.7 223.9 315.5 223.3 319.9 222.9 C324.2 222.5 329.4 222.5 331.3 222.5 L331.3 -20 L-3.8 -20 Z" fill="#78B9FA"/>
<path d="M-13.3 201.8 C-11.0 201.8 -4.9 201.6 0.7 201.8 C6.4 202.0 14.1 202.5 20.8 203.2 C27.5 203.9 34.9 204.9 40.9 205.8 C46.9 206.7 52.2 208.2 56.9 208.8 C61.6 209.4 65.6 209.9 69.0 209.4 C72.3 208.9 74.7 207.9 77.0 205.8 C79.3 203.7 81.0 200.3 83.0 196.8 C85.0 193.3 87.5 188.1 89.0 184.7 C90.6 181.4 91.3 178.7 92.1 176.7 C92.8 174.7 93.0 172.5 93.5 172.7 C94.0 172.9 94.6 175.4 95.1 177.7 C95.5 180.0 96.2 183.6 96.1 186.7 C95.9 189.9 94.7 193.4 94.1 196.8 C93.4 200.1 92.1 204.0 92.1 206.8 C92.1 209.7 92.1 212.1 94.1 213.8 C96.1 215.6 101.3 216.2 104.1 217.2 C106.9 218.2 109.3 218.4 111.1 219.8 C113.0 221.3 114.7 223.7 115.1 225.9 C115.5 228.0 113.5 230.4 113.5 232.9 C113.5 235.4 114.2 238.8 115.1 240.9 C116.1 243.1 117.6 244.9 119.2 245.9 C120.7 246.9 122.5 247.6 124.2 246.9 C125.8 246.3 127.0 243.4 129.2 241.9 C131.4 240.4 134.5 239.4 137.2 237.9 C139.9 236.4 142.6 234.9 145.2 232.9 C147.9 230.9 150.7 228.5 153.3 225.9 C155.8 223.2 158.1 218.9 160.7 216.8 C163.3 214.7 166.1 213.4 168.7 213.2 C171.4 213.1 173.4 215.2 176.8 215.8 C180.1 216.4 184.1 216.6 188.8 216.8 C193.5 217.1 199.5 217.2 204.9 217.2 C210.2 217.2 216.2 216.7 220.9 216.8 C225.6 216.9 228.9 217.3 233.0 217.8 C237.0 218.3 241.0 219.4 245.0 219.8 C249.0 220.3 252.4 220.7 257.0 220.4 C261.7 220.2 268.4 219.4 273.1 218.4 C277.8 217.5 280.5 215.9 285.1 214.8 C289.8 213.7 295.4 212.6 301.2 211.8 C307.0 211.1 314.8 210.7 319.9 210.4 C324.9 210.1 329.4 210.1 331.3 210.0 L331.3 -20 L-13.3 -20 Z" fill="#FFE878"/>
<path d="M-3.8 189.7 C0.3 189.7 13.2 189.7 20.6 189.7 C28.0 189.8 35.0 190.2 40.6 190.1 C46.3 190.1 52.1 190.9 54.6 189.3 C57.2 187.8 56.8 183.3 55.8 180.9 C54.9 178.5 49.9 176.9 49.0 174.9 C48.2 172.9 48.7 170.9 50.6 168.9 C52.6 166.9 58.1 165.2 60.6 162.9 C63.2 160.6 64.8 158.2 65.8 154.9 C66.9 151.6 67.2 146.6 67.0 143.3 C66.8 140.0 66.0 137.6 64.6 135.3 C63.2 133.0 61.0 131.3 58.6 129.3 C56.3 127.3 52.3 125.1 50.6 123.3 C49.0 121.5 48.3 119.9 48.6 118.5 C49.0 117.1 51.0 115.2 52.6 114.9 C54.3 114.5 56.3 114.9 58.6 116.5 C61.0 118.1 63.6 122.0 66.6 124.5 C69.6 126.9 73.3 129.5 76.7 131.3 C80.0 133.1 83.3 133.3 86.7 135.3 C90.1 137.3 94.3 140.7 97.1 143.3 C99.8 145.9 102.1 147.6 103.1 150.9 C104.1 154.2 102.9 158.6 103.1 162.9 C103.2 167.2 103.2 172.9 103.9 176.9 C104.5 180.9 105.9 183.6 107.1 186.9 C108.3 190.3 109.9 193.3 111.1 196.9 C112.2 200.6 113.1 205.5 113.9 208.9 C114.7 212.3 115.0 214.9 115.9 217.3 C116.7 219.7 118.1 221.3 119.1 223.3 C120.1 225.3 120.6 227.5 121.9 229.3 C123.1 231.1 125.1 233.6 126.7 234.1 C128.3 234.7 129.4 233.7 131.5 232.5 C133.5 231.4 136.2 229.3 139.1 227.3 C142.0 225.3 145.8 222.6 149.1 220.5 C152.4 218.5 155.2 218.1 159.1 214.9 C163.0 211.8 168.5 203.5 172.7 201.8 C177.0 200.1 180.8 204.6 184.8 204.8 C188.8 205.0 192.8 203.6 196.8 202.8 C200.8 202.0 204.2 199.9 208.9 199.8 C213.6 199.6 219.6 201.1 224.9 201.8 C230.3 202.5 236.0 203.8 241.0 203.8 C246.0 203.8 250.0 202.1 255.0 201.8 C260.0 201.5 266.1 202.1 271.1 201.8 C276.1 201.5 280.1 200.3 285.1 199.8 C290.2 199.3 295.4 198.6 301.2 198.8 C307.0 198.9 314.8 200.4 319.9 200.8 C324.9 201.2 329.4 201.1 331.3 201.2 L331.3 -20 L-3.8 -20 Z" fill="#FFC03C"/>
<path d="M-3.8 116.9 C-1.7 115.3 5.2 110.1 8.6 107.3 C12.0 104.5 13.6 102.1 16.6 100.1 C19.6 98.0 22.6 96.0 26.6 94.9 C30.6 93.7 36.6 94.1 40.6 93.3 C44.6 92.5 48.0 91.9 50.6 90.1 C53.3 88.2 56.4 84.9 56.6 82.0 C56.8 79.2 52.2 75.6 51.8 73.2 C51.5 70.9 52.8 69.1 54.6 68.0 C56.4 67.0 60.2 66.5 62.6 66.8 C65.0 67.2 67.6 68.0 69.0 70.0 C70.5 72.1 69.7 76.8 71.0 79.2 C72.4 81.7 75.2 83.9 77.0 84.9 C78.8 85.9 80.5 84.2 81.8 85.3 C83.2 86.3 83.9 88.3 85.1 91.3 C86.3 94.2 87.3 98.9 89.1 102.9 C90.8 106.8 93.2 110.9 95.5 114.9 C97.7 118.9 100.3 123.2 102.7 126.9 C105.0 130.5 107.8 132.9 109.5 136.9 C111.1 140.9 112.5 145.9 112.7 150.9 C112.9 155.9 111.3 162.2 110.7 166.9 C110.0 171.6 108.7 174.9 108.7 178.9 C108.7 182.9 109.9 186.2 110.7 190.9 C111.5 195.6 112.7 202.6 113.5 206.9 C114.3 211.3 114.7 214.3 115.5 216.9 C116.2 219.6 116.8 221.1 117.9 222.9 C118.9 224.7 120.3 226.5 121.9 227.7 C123.5 228.9 125.7 230.3 127.5 230.1 C129.3 230.0 130.5 228.1 132.7 226.9 C134.9 225.8 138.0 225.0 140.7 223.3 C143.4 221.7 146.0 219.2 149.1 216.9 C152.2 214.7 156.0 211.3 159.1 209.7 C162.2 208.2 165.2 211.1 167.5 207.7 C169.8 204.4 169.9 192.6 172.7 189.8 C175.6 186.9 180.1 191.1 184.8 190.8 C189.5 190.4 195.5 188.6 200.8 187.7 C206.2 186.9 211.5 186.7 216.9 185.7 C222.3 184.7 227.6 182.4 233.0 181.7 C238.3 181.1 243.7 181.9 249.0 181.7 C254.4 181.6 259.7 180.7 265.1 180.7 C270.4 180.7 275.8 181.6 281.1 181.7 C286.5 181.9 293.2 182.2 297.2 181.7 C301.2 181.2 301.4 178.5 305.2 178.7 C309.0 178.9 315.5 182.0 319.9 182.7 C324.2 183.5 329.4 183.1 331.3 183.1 L331.3 -20 L-3.8 -20 Z" fill="#FFA000"/>
<path d="M-3.8 48.8 C0.3 49.6 13.2 52.6 20.6 53.6 C28.0 54.7 34.0 54.9 40.6 55.2 C47.3 55.6 55.9 55.2 60.6 55.6 C65.4 56.1 67.0 56.4 69.0 58.0 C71.1 59.6 71.9 62.4 72.7 65.2 C73.4 68.1 72.9 72.4 73.5 75.2 C74.0 78.1 74.8 80.5 75.8 82.0 C76.8 83.6 77.9 82.9 79.5 84.5 C81.0 86.0 83.5 88.2 85.1 91.3 C86.7 94.3 87.3 98.9 89.1 102.9 C90.8 106.8 93.2 110.9 95.5 114.9 C97.7 118.9 100.3 123.2 102.7 126.9 C105.0 130.5 107.8 132.9 109.5 136.9 C111.1 140.9 112.3 145.9 112.7 150.9 C113.0 155.9 111.9 162.2 111.5 166.9 C111.0 171.6 109.8 174.9 109.9 178.9 C109.9 182.9 111.1 186.2 111.9 190.9 C112.7 195.6 113.8 202.8 114.7 206.9 C115.5 211.1 116.1 213.4 117.1 215.7 C118.0 218.1 118.7 219.6 120.3 220.9 C121.9 222.3 124.7 223.7 126.7 223.7 C128.7 223.8 129.7 222.5 132.3 221.3 C134.8 220.2 138.8 218.6 141.9 216.9 C145.0 215.3 147.8 213.5 150.7 211.3 C153.6 209.2 156.0 206.6 159.1 204.1 C162.2 201.7 166.0 199.1 169.1 196.5 C172.2 193.9 175.2 190.9 177.5 188.5 C179.8 186.1 181.4 184.6 183.1 182.1 C184.8 179.6 186.2 177.0 187.5 173.7 C188.8 170.5 186.9 165.0 190.8 162.7 C194.7 160.3 204.2 160.5 210.9 159.6 C217.6 158.8 224.3 158.5 230.9 157.6 C237.6 156.8 245.3 155.3 251.0 154.6 C256.7 154.0 262.4 154.9 265.1 153.6 C267.7 152.4 267.1 149.6 267.1 147.2 C267.1 144.7 265.7 142.5 265.1 139.1 C264.4 135.8 262.7 131.1 263.1 127.1 C263.4 123.1 264.7 117.5 267.1 115.0 C269.4 112.5 273.4 112.2 277.1 112.0 C280.8 111.9 285.5 114.9 289.1 114.0 C292.8 113.2 296.5 109.5 299.2 107.0 C301.9 104.5 302.9 101.3 305.2 99.0 C307.6 96.6 310.8 94.5 313.2 93.0 C315.7 91.5 316.9 90.6 319.9 90.0 C322.9 89.3 329.4 89.1 331.3 89.0 L331.3 -20 L-3.8 -20 Z" fill="#FF6400"/>
<path d="M-3.8 -7.2 C-1.4 -12.1 8.1 -8.9 10.6 -7.2 C13.1 -5.5 11.1 0.3 11.0 2.8 C10.9 5.3 10.7 5.7 10.2 7.6 C9.7 9.5 9.1 12.1 7.8 14.0 C6.5 15.9 4.5 17.5 2.6 18.8 C0.7 20.2 -2.7 26.4 -3.8 22.0 C-4.9 17.7 -6.2 -2.3 -3.8 -7.2 Z" fill="#FF3200"/>
<path d="M39.8 9.2 C40.8 8.7 45.8 9.7 48.6 10.8 C51.4 11.9 55.1 14.7 56.6 16.0 C58.2 17.3 58.8 18.5 57.8 18.8 C56.8 19.2 53.2 18.8 50.6 18.0 C48.1 17.2 44.4 15.5 42.6 14.0 C40.8 12.5 38.8 9.7 39.8 9.2 Z" fill="#FF3200"/>
<path d="M68.0 -4.6 C81.2 -7.5 135.6 -6.5 150.8 -4.6 C165.9 -2.7 156.8 3.4 158.8 6.6 C160.8 9.8 159.5 12.6 162.8 14.6 C166.1 16.6 174.8 16.0 178.8 18.6 C182.8 21.3 186.2 26.0 186.8 30.6 C187.5 35.3 187.5 42.6 182.8 46.6 C178.1 50.6 170.8 53.3 158.8 54.6 C146.8 56.0 124.0 59.6 110.8 54.6 C97.5 49.6 85.8 31.6 79.2 24.6 C72.5 17.6 73.0 17.5 71.2 12.6 C69.3 7.7 54.7 -1.7 68.0 -4.6 Z" fill="#FF3200"/>
<path d="M160.7 8.7 C164.0 2.0 175.1 9.3 180.8 10.7 C186.5 12.0 193.8 14.3 194.8 16.7 C195.8 19.0 189.1 22.0 186.8 24.7 C184.4 27.4 180.1 29.7 180.8 32.8 C181.4 35.8 187.5 40.1 190.8 42.8 C194.2 45.5 198.2 47.1 200.8 48.8 C203.5 50.5 206.4 51.1 206.9 52.8 C207.4 54.5 203.5 56.8 203.8 58.8 C204.2 60.8 206.0 62.9 208.9 64.9 C211.7 66.9 218.9 68.2 220.9 70.9 C222.9 73.6 224.3 80.2 220.9 80.9 C217.6 81.6 210.9 79.9 200.8 74.9 C190.8 69.9 167.4 61.9 160.7 50.8 C154.0 39.8 157.4 15.4 160.7 8.7 Z" fill="#FF3200"/>
<path d="M203.8 22.7 C204.9 21.5 210.2 20.4 212.9 20.7 C215.6 21.0 219.6 23.2 219.9 24.7 C220.2 26.2 217.1 29.2 214.9 29.7 C212.7 30.2 208.7 28.9 206.9 27.7 C205.0 26.6 202.8 23.9 203.8 22.7 Z" fill="#FF3200"/>
<path d="M247.0 25.7 C247.7 24.0 251.7 21.2 255.0 20.7 C258.4 20.2 264.6 21.0 267.1 22.7 C269.6 24.4 268.4 28.1 270.1 30.7 C271.8 33.4 276.6 36.3 277.1 38.8 C277.6 41.3 275.1 44.3 273.1 45.8 C271.1 47.3 267.7 47.3 265.1 47.8 C262.4 48.3 258.7 50.0 257.0 48.8 C255.4 47.6 254.7 43.3 255.0 40.8 C255.4 38.3 259.7 35.4 259.1 33.8 C258.4 32.1 253.0 32.1 251.0 30.7 C249.0 29.4 246.3 27.4 247.0 25.7 Z" fill="#FF3200"/>
<path d="M277.1 26.7 C277.8 24.6 280.8 21.0 283.1 18.7 C285.5 16.4 288.5 15.0 291.2 12.7 C293.8 10.3 297.5 7.0 299.2 4.7 C300.9 2.3 296.5 -0.4 301.2 -1.4 C305.9 -2.4 322.9 -6.7 327.3 -1.4 C331.6 4.0 330.0 24.9 327.3 30.7 C324.6 36.6 315.6 32.6 311.2 33.8 C306.9 34.9 304.2 36.8 301.2 37.8 C298.2 38.8 295.8 40.1 293.2 39.8 C290.5 39.4 287.5 37.1 285.1 35.8 C282.8 34.4 280.5 33.3 279.1 31.8 C277.8 30.2 276.4 28.9 277.1 26.7 Z" fill="#FF3200"/>
<path d="M238.0 78.9 C240.0 76.9 245.8 74.6 249.0 74.9 C252.2 75.2 254.2 79.4 257.0 80.9 C259.9 82.4 264.7 82.3 266.1 83.9 C267.4 85.6 266.6 89.1 265.1 91.0 C263.6 92.8 259.7 92.6 257.0 95.0 C254.4 97.3 251.4 103.5 249.0 105.0 C246.7 106.5 244.5 105.7 243.0 104.0 C241.5 102.3 241.0 97.8 240.0 95.0 C239.0 92.1 237.3 89.6 237.0 86.9 C236.6 84.3 236.0 80.9 238.0 78.9 Z" fill="#FF3200"/>
<path d="M231.9 119.0 C232.9 118.0 235.3 116.9 237.0 117.0 C238.6 117.2 241.5 118.7 242.0 120.1 C242.5 121.4 241.3 123.9 240.0 125.1 C238.6 126.2 235.4 127.4 234.0 127.1 C232.5 126.7 231.7 124.4 231.3 123.1 C231.0 121.7 231.0 120.1 231.9 119.0 Z" fill="#FF3200"/>
<path d="M71.0 12.8 C69.7 12.5 76.4 22.0 79.0 24.8 C81.7 27.7 86.1 28.0 87.1 30.0 C88.1 32.0 86.4 33.7 85.1 36.8 C83.7 40.0 80.9 45.1 79.0 48.8 C77.2 52.6 75.2 55.5 73.8 59.2 C72.5 63.0 70.8 67.4 71.0 71.2 C71.2 75.1 73.4 79.7 75.0 82.0 C76.7 84.4 79.4 83.7 81.0 85.3 C82.7 86.8 83.7 88.3 85.1 91.3 C86.4 94.3 87.1 99.6 89.1 103.3 C91.1 106.9 94.4 110.3 97.1 113.3 C99.7 116.3 102.7 118.3 105.1 121.3 C107.4 124.3 109.7 127.9 111.1 131.3 C112.5 134.6 113.0 138.0 113.5 141.3 C113.9 144.6 113.5 146.6 113.9 150.9 C114.2 155.2 114.9 161.7 115.5 166.9 C116.0 172.1 116.9 177.2 117.1 182.1 C117.3 187.0 116.3 192.2 116.7 196.5 C117.1 200.8 118.1 204.7 119.5 207.7 C120.9 210.8 123.0 213.3 125.1 214.9 C127.1 216.6 129.3 217.5 131.9 217.7 C134.5 217.9 137.8 216.9 140.7 216.1 C143.6 215.4 146.0 215.2 149.1 213.3 C152.2 211.5 156.0 207.5 159.1 204.9 C162.2 202.3 164.4 200.3 167.5 197.7 C170.6 195.1 174.4 192.1 177.5 189.3 C180.6 186.5 183.6 183.5 185.9 180.9 C188.3 178.3 189.7 176.1 191.5 173.7 C193.4 171.3 195.3 168.6 197.1 166.5 C199.0 164.4 200.8 163.5 202.7 160.9 C204.7 158.3 206.7 153.5 208.7 150.9 C210.7 148.3 213.1 147.9 214.7 145.3 C216.4 142.7 217.7 139.3 218.7 135.3 C219.7 131.3 219.7 125.3 220.7 121.3 C221.7 117.3 223.2 114.3 224.7 111.3 C226.3 108.3 228.1 106.6 229.9 103.3 C231.8 99.9 234.6 94.9 235.9 91.3 C237.3 87.6 238.1 83.9 237.9 81.2 C237.8 78.6 236.7 76.9 235.1 75.2 C233.6 73.6 230.6 72.0 228.7 71.2 C226.9 70.5 228.2 71.7 223.9 70.8 C219.7 70.0 209.1 67.6 203.1 66.0 C197.2 64.5 191.7 63.3 188.3 61.6 C184.9 60.0 184.5 59.7 182.7 56.0 C180.9 52.4 180.6 43.4 177.5 39.6 C174.4 35.9 168.3 35.3 164.3 33.6 C160.3 32.0 157.0 31.8 153.5 29.6 C150.0 27.5 145.8 23.4 143.5 20.8 C141.2 18.2 143.4 15.0 139.9 14.0 C136.4 13.0 128.0 15.9 122.3 14.8 C116.5 13.7 110.5 7.5 105.5 7.6 C100.4 7.7 94.9 12.4 91.9 15.6 C88.8 18.8 90.5 27.3 87.1 26.8 C83.6 26.4 72.4 13.1 71.0 12.8 Z" fill="#FF3200"/>
<path d="M83.9 32.0 C86.1 29.9 91.4 28.7 95.1 28.0 C98.7 27.4 103.4 27.0 105.9 28.0 C108.3 29.0 110.0 31.7 109.9 34.0 C109.7 36.4 106.9 39.4 105.1 42.0 C103.3 44.7 101.1 47.4 99.1 50.0 C97.1 52.7 94.7 55.0 93.1 58.0 C91.4 61.0 90.3 64.7 89.1 68.0 C87.9 71.4 87.5 75.8 85.9 78.0 C84.2 80.2 80.9 82.4 79.0 81.2 C77.2 80.1 75.4 74.9 75.0 71.2 C74.7 67.6 76.2 62.9 77.0 59.2 C77.8 55.6 79.0 52.3 79.8 49.2 C80.6 46.2 81.2 43.7 81.8 40.8 C82.5 38.0 81.7 34.2 83.9 32.0 Z" fill="#FF6400"/>
<path d="M85.1 34.0 C87.1 32.2 91.7 30.7 95.1 30.0 C98.4 29.4 102.9 29.4 105.1 30.0 C107.2 30.7 108.2 32.2 107.9 34.0 C107.5 35.8 104.9 38.3 103.1 40.8 C101.3 43.4 99.1 46.5 97.1 49.2 C95.1 52.0 92.7 54.2 91.1 57.2 C89.4 60.2 88.3 63.9 87.1 67.2 C85.9 70.6 85.2 75.2 83.9 77.2 C82.5 79.2 80.4 80.2 79.0 79.2 C77.7 78.2 76.0 74.6 75.8 71.2 C75.6 67.9 77.0 62.9 77.8 59.2 C78.7 55.6 80.2 52.3 81.0 49.2 C81.9 46.2 82.4 43.4 83.0 40.8 C83.7 38.3 83.1 35.8 85.1 34.0 Z" fill="#FFA000"/>
<path d="M89.1 36.8 C91.6 34.1 96.7 33.0 99.1 32.8 C101.4 32.7 103.4 34.0 103.1 36.0 C102.7 38.1 99.3 42.0 97.1 45.2 C94.9 48.4 91.9 51.6 89.9 55.2 C87.9 58.9 86.5 64.6 85.1 67.2 C83.6 69.9 81.9 72.3 81.0 71.2 C80.2 70.2 79.4 64.9 79.8 61.2 C80.3 57.6 82.3 53.3 83.9 49.2 C85.4 45.2 86.5 39.6 89.1 36.8 Z" fill="#FFC03C"/>
<path d="M79.0 59.2 C79.7 57.2 82.0 54.9 83.0 55.2 C84.1 55.6 85.3 59.1 85.1 61.2 C84.9 63.4 82.9 67.0 81.8 68.0 C80.8 69.1 79.5 68.7 79.0 67.2 C78.6 65.8 78.4 61.2 79.0 59.2 Z" fill="#FFE878"/>
<path d="M125.1 40.8 C125.9 38.8 128.3 37.6 130.7 36.8 C133.1 36.0 136.7 35.7 139.5 36.0 C142.3 36.4 146.3 37.0 147.5 38.8 C148.7 40.6 148.0 44.7 146.7 46.8 C145.4 49.0 142.2 50.6 139.5 51.6 C136.8 52.7 132.9 53.7 130.7 53.2 C128.4 52.8 126.8 50.9 125.9 48.8 C124.9 46.8 124.3 42.8 125.1 40.8 Z" fill="#FF6400"/>
<path d="M129.5 44.0 C130.3 43.0 132.6 42.2 134.7 42.0 C136.8 41.8 140.8 41.9 141.9 42.8 C143.0 43.8 142.3 46.6 141.1 47.6 C139.9 48.7 136.6 49.2 134.7 49.2 C132.8 49.3 130.7 48.9 129.9 48.0 C129.0 47.2 128.7 45.0 129.5 44.0 Z" fill="#FFA000"/>
<path d="M106.7 15.6 C107.6 14.5 110.3 13.7 111.9 14.0 C113.5 14.3 115.8 15.8 116.3 17.2 C116.7 18.7 115.8 21.8 114.7 22.8 C113.5 23.9 110.9 24.0 109.5 23.6 C108.1 23.2 106.7 21.8 106.3 20.4 C105.8 19.1 105.7 16.7 106.7 15.6 Z" fill="#FF6400"/>
<path d="M102.7 50.8 C103.3 49.9 106.1 49.0 107.5 49.2 C108.8 49.4 110.5 51.0 110.7 52.0 C110.8 53.1 109.4 55.2 108.3 55.6 C107.1 56.1 104.8 55.6 103.9 54.8 C102.9 54.0 102.1 51.8 102.7 50.8 Z" fill="#FF6400"/>
<path d="M111.1 102.0 C113.1 101.5 117.1 104.3 119.2 104.0 C121.2 103.7 122.8 102.2 123.2 100.0 C123.5 97.8 122.5 93.1 121.2 91.0 C119.8 88.8 117.1 88.3 115.1 86.9 C113.1 85.6 111.0 84.6 109.1 82.9 C107.3 81.3 104.6 78.9 104.1 76.9 C103.6 74.9 104.9 72.4 106.1 70.9 C107.3 69.4 109.6 69.5 111.1 67.9 C112.6 66.2 113.8 62.4 115.1 60.9 C116.5 59.3 117.1 58.7 119.2 58.8 C121.2 59.0 124.5 60.8 127.2 61.9 C129.9 62.9 132.5 63.9 135.2 64.9 C137.9 65.9 140.9 67.9 143.2 67.9 C145.6 67.9 147.8 66.7 149.3 64.9 C150.8 63.0 151.9 59.5 152.3 56.8 C152.6 54.2 151.1 51.3 151.3 48.8 C151.4 46.3 152.3 43.6 153.3 41.8 C154.3 39.9 156.1 38.7 157.3 37.8 C158.5 36.9 159.8 36.4 160.7 36.4 C161.6 36.4 161.4 36.7 162.7 37.8 C164.0 38.8 166.7 40.8 168.7 42.8 C170.7 44.8 172.4 47.5 174.8 49.8 C177.1 52.2 180.1 54.3 182.8 56.8 C185.5 59.3 188.3 63.5 190.8 64.9 C193.3 66.2 196.3 63.2 197.8 64.9 C199.3 66.5 199.2 71.9 199.8 74.9 C200.5 77.9 200.7 80.8 201.8 82.9 C203.0 85.1 205.0 87.4 206.9 87.9 C208.7 88.4 210.9 87.3 212.9 85.9 C214.9 84.6 217.2 81.3 218.9 79.9 C220.6 78.6 221.1 77.4 222.9 77.9 C224.8 78.4 229.6 81.1 229.9 82.9 C230.3 84.8 226.4 86.9 224.9 89.0 C223.4 91.0 222.2 92.6 220.9 95.0 C219.6 97.3 218.1 101.0 216.9 103.0 C215.7 105.0 213.9 105.3 213.9 107.0 C213.9 108.7 216.7 111.0 216.9 113.0 C217.1 115.0 216.2 117.7 214.9 119.0 C213.6 120.4 210.7 121.1 208.9 121.1 C207.0 121.1 205.0 121.1 203.8 119.0 C202.7 117.0 202.5 111.7 201.8 109.0 C201.2 106.3 201.0 103.7 199.8 103.0 C198.7 102.3 196.7 103.3 194.8 105.0 C193.0 106.7 190.5 110.4 188.8 113.0 C187.1 115.7 185.3 118.4 184.8 121.1 C184.3 123.7 184.8 126.4 185.8 129.1 C186.8 131.8 189.1 134.4 190.8 137.1 C192.5 139.8 193.1 143.6 195.8 145.2 C198.5 146.7 204.9 145.3 206.9 146.2 C208.8 147.0 207.9 149.1 207.3 150.0 C206.7 150.9 205.2 150.7 203.0 151.4 C200.9 152.1 197.4 153.6 194.5 154.3 C191.7 155.0 188.6 155.2 186.0 155.7 C183.4 156.2 181.0 155.6 179.0 157.1 C176.9 158.6 174.8 161.7 173.8 164.7 C172.7 167.6 172.6 171.7 172.7 174.7 C172.9 177.7 175.8 180.4 174.8 182.7 C173.7 185.1 170.6 186.2 166.7 188.7 C162.8 191.2 155.2 195.4 151.3 197.8 C147.4 200.1 145.9 200.9 143.2 202.8 C140.6 204.6 137.9 207.5 135.2 208.8 C132.5 210.1 129.5 211.4 127.2 210.4 C124.8 209.4 122.3 206.1 121.2 202.8 C120.0 199.5 120.0 194.4 120.2 190.8 C120.3 187.1 121.0 184.1 122.2 180.7 C123.3 177.4 125.7 174.0 127.2 170.7 C128.7 167.3 130.1 164.7 131.2 160.6 C132.2 156.6 132.9 150.8 133.5 146.5 C134.1 142.2 135.2 138.0 134.9 135.1 C134.7 132.1 134.0 131.2 132.1 129.0 C130.2 126.9 126.4 124.6 123.6 122.0 C120.8 119.4 117.8 116.0 115.1 113.5 C112.4 111.0 108.1 108.8 107.5 106.9 C106.8 105.0 109.2 102.5 111.1 102.0 Z" fill="#E11400"/>
<path d="M156.7 64.8 C158.4 61.5 157.8 54.6 158.7 50.8 C159.6 47.0 160.2 43.0 161.9 42.0 C163.6 41.0 166.9 42.7 168.7 44.8 C170.5 47.0 171.4 51.5 172.7 54.8 C174.0 58.2 175.4 61.8 176.7 64.8 C178.0 67.8 179.7 70.2 180.3 72.8 C180.9 75.5 179.7 79.3 180.3 80.8 C180.9 82.4 183.0 80.6 183.9 82.0 C184.8 83.5 184.9 86.7 185.9 89.3 C186.9 91.9 189.3 94.8 189.9 97.7 C190.6 100.5 190.6 104.1 189.9 106.5 C189.3 108.9 187.3 110.4 185.9 112.1 C184.5 113.7 182.2 114.8 181.5 116.5 C180.8 118.1 181.7 120.0 181.9 122.1 C182.1 124.1 181.8 126.3 182.7 128.9 C183.6 131.5 185.8 135.1 187.5 137.7 C189.3 140.3 192.0 142.4 193.1 144.5 C194.3 146.6 194.9 148.4 194.3 150.1 C193.7 151.8 191.6 153.9 189.5 154.9 C187.4 155.9 183.9 155.6 181.7 156.1 C179.4 156.6 177.8 156.7 176.0 158.1 C174.3 159.5 172.3 163.5 171.2 164.8 C170.2 166.0 171.0 164.1 169.6 165.6 C168.2 167.1 165.3 171.5 163.0 173.9 C160.6 176.2 157.0 177.4 155.5 179.6 C154.0 181.8 154.7 184.6 153.9 187.1 C153.0 189.6 152.4 193.4 150.6 194.5 C148.8 195.6 144.9 195.2 143.1 193.7 C141.3 192.2 140.2 187.8 139.8 185.4 C139.4 183.1 139.7 181.6 140.7 179.6 C141.6 177.7 143.8 175.8 145.6 173.9 C147.4 171.9 150.6 170.1 151.4 168.1 C152.2 166.0 151.9 163.2 150.6 161.5 C149.2 159.7 145.6 158.6 143.1 157.7 C140.7 156.9 137.1 158.3 135.7 156.5 C134.3 154.7 134.7 150.5 134.7 146.9 C134.7 143.3 136.2 138.0 135.9 135.1 C135.6 132.1 134.7 131.1 133.1 129.0 C131.4 127.0 128.1 125.0 125.9 122.9 C123.6 120.7 120.9 118.3 119.5 116.1 C118.0 113.9 116.8 111.9 117.1 109.7 C117.3 107.5 119.9 105.2 121.1 102.9 C122.2 100.5 122.9 98.0 123.9 95.7 C124.8 93.3 125.5 91.0 126.7 88.9 C127.9 86.7 129.6 84.9 131.1 82.8 C132.5 80.8 133.9 78.5 135.5 76.8 C137.1 75.2 138.5 73.8 140.7 72.8 C142.9 71.8 146.0 72.2 148.7 70.8 C151.4 69.5 155.0 68.2 156.7 64.8 Z" fill="#CD3C3C"/>
<path d="M127.9 95.7 C128.9 94.5 132.0 93.8 133.9 94.1 C135.7 94.3 138.4 95.7 139.1 97.3 C139.8 98.9 139.2 102.3 137.9 103.7 C136.6 105.0 133.2 105.7 131.5 105.3 C129.7 104.9 128.1 102.9 127.5 101.3 C126.9 99.7 126.8 96.9 127.9 95.7 Z" fill="#E11400"/>
<path d="M120.3 108.5 C121.3 107.1 125.7 107.4 128.7 107.7 C131.6 107.9 136.2 108.7 137.9 110.1 C139.6 111.4 140.3 114.3 139.1 115.7 C137.9 117.0 133.4 118.1 130.7 118.1 C127.9 118.1 124.4 117.3 122.7 115.7 C120.9 114.1 119.3 109.8 120.3 108.5 Z" fill="#E11400"/>
<path d="M155.1 79.7 C156.1 77.8 159.3 77.2 160.7 78.0 C162.1 78.9 163.3 82.3 163.5 84.9 C163.7 87.4 163.0 91.6 161.9 93.3 C160.8 94.9 158.3 95.6 157.1 94.9 C155.9 94.1 155.0 91.4 154.7 88.9 C154.4 86.3 154.1 81.5 155.1 79.7 Z" fill="#E11400"/>
<path d="M171.9 124.9 C172.9 123.5 176.5 122.5 178.7 122.9 C180.9 123.2 184.1 125.1 185.1 126.9 C186.1 128.6 185.9 131.9 184.7 133.3 C183.5 134.6 179.9 135.3 177.9 134.9 C175.9 134.5 173.7 132.5 172.7 130.9 C171.7 129.2 170.9 126.2 171.9 124.9 Z" fill="#E11400"/>
<path d="M153.3 122.3 C155.5 122.3 159.7 123.5 161.9 125.1 C164.0 126.8 164.2 130.3 166.1 132.2 C168.0 134.1 170.8 135.5 173.2 136.5 C175.6 137.4 178.4 137.2 180.3 137.9 C182.2 138.6 183.6 139.1 184.5 140.7 C185.5 142.4 186.4 145.7 185.9 147.8 C185.4 149.9 184.0 152.1 181.7 153.5 C179.3 154.9 174.3 155.4 171.8 156.3 C169.2 157.3 167.5 159.1 166.1 159.1 C164.7 159.1 164.9 157.0 163.3 156.3 C161.6 155.6 158.5 155.4 156.2 154.9 C153.8 154.4 151.5 154.4 149.1 153.5 C146.7 152.6 143.8 150.9 142.0 149.2 C140.2 147.6 139.0 145.7 138.5 143.6 C138.0 141.4 138.3 138.9 139.2 136.5 C140.0 134.1 141.8 131.3 143.4 129.4 C145.1 127.5 147.4 126.3 149.1 125.1 C150.7 123.9 151.2 122.3 153.3 122.3 Z" fill="#C00000"/>
<path d="M169.9 103.7 C170.4 102.5 171.5 101.5 172.7 101.3 C173.9 101.0 176.0 101.3 177.1 102.1 C178.2 102.9 179.4 104.7 179.5 106.1 C179.6 107.4 179.0 109.3 177.9 110.1 C176.8 110.9 174.4 111.2 173.1 110.9 C171.8 110.5 170.4 109.3 169.9 108.1 C169.4 106.9 169.4 104.8 169.9 103.7 Z" fill="#C00000"/>
<path d="M185.9 115.7 C186.7 114.0 189.0 113.0 190.7 112.9 C192.5 112.7 195.1 113.5 196.3 114.9 C197.5 116.2 198.2 118.9 197.9 120.9 C197.7 122.9 196.2 125.7 194.7 126.9 C193.3 128.0 190.6 128.3 189.1 127.7 C187.7 127.0 186.5 124.9 185.9 122.9 C185.4 120.9 185.1 117.3 185.9 115.7 Z" fill="#FF6400"/>
<path d="M188.3 119.7 C188.9 118.9 190.7 117.8 191.5 118.1 C192.3 118.3 193.3 120.3 193.1 121.3 C193.0 122.3 191.5 123.8 190.7 124.1 C189.9 124.3 188.7 123.6 188.3 122.9 C187.9 122.1 187.8 120.5 188.3 119.7 Z" fill="#FFA000"/>
<path d="M194.7 134.9 C195.2 133.1 198.4 132.7 200.7 132.9 C203.1 133.0 207.2 134.2 208.7 135.7 C210.3 137.2 210.6 140.5 209.9 142.1 C209.3 143.7 206.7 145.0 204.7 145.3 C202.7 145.6 199.6 145.4 197.9 143.7 C196.3 142.0 194.3 136.7 194.7 134.9 Z" fill="#FF6400"/>
<path d="M177.5 160.5 C178.3 159.4 180.4 158.9 181.9 158.9 C183.4 158.9 186.1 159.3 186.7 160.5 C187.4 161.7 186.9 164.9 185.9 166.1 C185.0 167.3 182.6 167.8 181.1 167.7 C179.6 167.6 177.7 166.5 177.1 165.3 C176.5 164.1 176.7 161.6 177.5 160.5 Z" fill="#FF6400"/>
<path d="M112.1 31.8 C112.5 30.2 113.6 27.2 116.1 25.7 C118.6 24.2 123.3 23.5 127.2 22.7 C131.0 21.9 136.2 20.2 139.2 20.7 C142.2 21.2 144.9 24.0 145.2 25.7 C145.6 27.4 143.6 29.4 141.2 30.7 C138.9 32.1 134.5 33.1 131.2 33.8 C127.9 34.4 124.0 34.6 121.2 34.8 C118.3 34.9 115.6 35.3 114.1 34.8 C112.6 34.3 111.8 33.3 112.1 31.8 Z" fill="#E11400"/>
<path d="M90.0 20.7 C90.2 19.4 91.7 17.3 93.1 16.7 C94.4 16.1 96.9 16.4 98.1 17.1 C99.3 17.8 100.3 19.5 100.1 20.7 C99.9 21.9 98.4 23.7 97.1 24.3 C95.7 24.9 93.2 24.9 92.1 24.3 C90.9 23.7 89.9 22.0 90.0 20.7 Z" fill="#E11400"/>
<path d="M305.2 7.6 C306.0 6.4 308.9 5.6 310.8 6.0 C312.7 6.4 314.7 9.9 316.4 10.0 C318.1 10.1 320.1 4.0 321.2 6.8 C322.3 9.6 323.7 23.9 322.8 26.8 C321.9 29.8 317.8 25.6 315.6 24.4 C313.4 23.2 311.2 21.5 309.6 19.6 C308.0 17.8 306.7 15.2 306.0 13.2 C305.3 11.2 304.4 8.8 305.2 7.6 Z" fill="#E11400"/>
<path d="M82.4 88.8 C83.4 88.3 87.9 90.0 91.9 92.3 C95.8 94.6 103.3 100.1 106.2 102.7 C109.1 105.3 108.2 106.2 109.5 107.9 C110.7 109.7 111.7 110.9 113.7 113.1 C115.8 115.3 119.0 118.5 121.8 121.1 C124.5 123.6 128.3 126.2 130.3 128.4 C132.2 130.5 133.0 131.2 133.4 133.9 C133.7 136.7 132.5 141.5 132.6 145.1 C132.6 148.7 134.3 151.7 133.6 155.7 C132.9 159.7 129.9 165.6 128.1 169.2 C126.3 172.8 124.4 174.7 123.0 177.3 C121.7 179.9 120.9 184.2 120.0 184.9 C119.0 185.5 118.4 182.1 117.2 181.2 C116.1 180.2 114.2 181.3 113.1 178.9 C112.0 176.5 110.9 170.9 110.7 166.9 C110.4 162.9 111.2 158.9 111.5 154.9 C111.7 150.9 112.7 146.8 112.3 142.9 C111.9 139.0 110.7 134.9 109.1 131.7 C107.5 128.5 104.9 126.2 102.7 123.7 C100.4 121.1 97.6 118.9 95.5 116.5 C93.3 114.1 91.3 111.9 89.9 109.3 C88.4 106.7 87.3 103.1 86.7 100.9 C86.0 98.6 86.6 97.7 85.9 95.7 C85.1 93.7 81.4 89.4 82.4 88.8 Z" fill="#FF6400"/>
<path d="M82.9 89.3 C83.9 88.8 88.1 90.8 91.4 93.0 C94.8 95.2 100.3 100.1 102.9 102.6 C105.6 105.1 105.7 106.5 107.3 108.2 C108.8 109.9 110.1 110.7 112.2 112.7 C114.3 114.7 117.1 117.6 119.7 120.1 C122.4 122.6 126.2 125.5 128.2 127.6 C130.2 129.7 131.0 130.0 131.6 132.7 C132.1 135.3 131.4 139.9 131.6 143.5 C131.7 147.1 133.1 150.3 132.4 154.3 C131.7 158.3 129.1 163.8 127.5 167.4 C125.8 170.9 123.9 173.0 122.5 175.5 C121.1 178.0 120.2 181.8 119.2 182.6 C118.2 183.3 117.5 180.7 116.4 180.1 C115.4 179.5 114.0 181.1 113.1 178.9 C112.1 176.7 110.9 170.9 110.7 166.9 C110.4 162.9 111.2 158.9 111.5 154.9 C111.7 150.9 112.7 146.8 112.3 142.9 C111.9 139.0 110.7 134.9 109.1 131.7 C107.5 128.5 104.9 126.2 102.7 123.7 C100.4 121.1 97.6 118.9 95.5 116.5 C93.3 114.1 91.3 111.9 89.9 109.3 C88.4 106.7 87.3 103.1 86.7 100.9 C86.0 98.6 86.5 97.6 85.9 95.7 C85.2 93.7 82.0 89.7 82.9 89.3 Z" fill="#FFA000"/>
<path d="M83.5 89.7 C84.4 89.4 88.3 91.6 91.0 93.7 C93.7 95.9 97.4 100.0 99.7 102.5 C102.0 104.9 103.2 106.9 105.0 108.5 C106.8 110.1 108.6 110.6 110.7 112.3 C112.8 114.1 115.1 116.7 117.7 119.1 C120.3 121.5 124.1 124.8 126.2 126.9 C128.2 128.9 129.1 128.9 129.8 131.4 C130.5 133.9 130.3 138.3 130.6 141.9 C130.8 145.5 131.8 149.0 131.1 152.9 C130.5 156.9 128.3 162.0 126.8 165.5 C125.3 169.0 123.4 171.2 122.0 173.7 C120.6 176.2 119.4 179.4 118.4 180.3 C117.3 181.1 116.6 179.2 115.7 179.0 C114.8 178.8 113.9 180.9 113.1 178.9 C112.2 176.9 110.9 170.9 110.7 166.9 C110.4 162.9 111.2 158.9 111.5 154.9 C111.7 150.9 112.7 146.8 112.3 142.9 C111.9 139.0 110.7 134.9 109.1 131.7 C107.5 128.5 104.9 126.2 102.7 123.7 C100.4 121.1 97.6 118.9 95.5 116.5 C93.3 114.1 91.3 111.9 89.9 109.3 C88.4 106.7 87.3 103.1 86.7 100.9 C86.0 98.6 86.4 97.5 85.9 95.7 C85.3 93.8 82.7 90.0 83.5 89.7 Z" fill="#FFC03C"/>
<path d="M84.1 90.1 C84.9 89.9 88.5 92.4 90.6 94.5 C92.6 96.5 94.4 99.9 96.5 102.3 C98.5 104.7 100.7 107.2 102.8 108.8 C104.9 110.4 107.0 110.4 109.2 111.9 C111.3 113.5 113.2 115.8 115.7 118.1 C118.2 120.5 122.0 124.1 124.1 126.1 C126.2 128.1 127.1 127.8 128.0 130.2 C128.9 132.5 129.2 136.8 129.6 140.3 C129.9 143.9 130.5 147.7 129.9 151.6 C129.4 155.5 127.6 160.2 126.2 163.6 C124.8 167.0 122.9 169.5 121.5 171.9 C120.1 174.3 118.7 177.0 117.6 178.0 C116.5 179.0 115.7 177.8 114.9 177.9 C114.2 178.1 113.8 180.7 113.1 178.9 C112.4 177.1 110.9 170.9 110.7 166.9 C110.4 162.9 111.2 158.9 111.5 154.9 C111.7 150.9 112.7 146.8 112.3 142.9 C111.9 139.0 110.7 134.9 109.1 131.7 C107.5 128.5 104.9 126.2 102.7 123.7 C100.4 121.1 97.6 118.9 95.5 116.5 C93.3 114.1 91.3 111.9 89.9 109.3 C88.4 106.7 87.3 103.1 86.7 100.9 C86.0 98.6 86.3 97.4 85.9 95.7 C85.4 93.9 83.3 90.3 84.1 90.1 Z" fill="#FFE878"/>
<path d="M86.7 98.1 C86.1 98.9 86.8 104.4 87.9 107.3 C88.9 110.1 91.2 112.9 93.1 115.3 C94.9 117.6 96.7 118.9 99.1 121.3 C101.4 123.6 104.9 126.3 107.1 129.3 C109.3 132.3 111.3 136.0 112.3 139.3 C113.3 142.6 113.3 145.8 113.1 149.3 C112.8 152.8 110.9 157.0 110.7 160.5 C110.4 164.0 111.0 167.9 111.5 170.5 C112.0 173.1 112.9 175.5 113.7 176.1 C114.5 176.7 115.1 175.3 116.3 174.1 C117.4 172.9 119.2 171.2 120.7 168.9 C122.1 166.6 123.9 163.8 125.1 160.5 C126.3 157.2 127.4 153.1 127.9 149.3 C128.3 145.5 128.3 141.2 127.9 137.7 C127.4 134.2 126.3 130.2 125.1 128.1 C123.9 125.9 122.8 126.8 120.7 124.9 C118.5 122.9 114.6 118.7 112.3 116.5 C109.9 114.2 108.9 112.5 106.7 111.3 C104.5 110.1 101.7 110.8 99.1 109.3 C96.5 107.7 93.1 103.9 91.1 102.1 C89.0 100.2 87.2 97.2 86.7 98.1 Z" fill="#78B9FA"/>
<path d="M89.5 103.7 C89.7 104.8 92.1 110.2 93.9 112.9 C95.7 115.5 97.9 117.2 100.3 119.7 C102.7 122.1 106.0 124.6 108.3 127.7 C110.5 130.7 112.8 134.5 113.9 138.1 C114.9 141.7 114.8 145.6 114.7 149.3 C114.5 153.0 113.2 157.0 113.1 160.5 C112.9 164.0 113.3 168.5 113.9 170.1 C114.4 171.7 115.3 170.9 116.3 170.1 C117.2 169.3 118.3 167.2 119.5 165.3 C120.6 163.4 122.1 161.6 123.1 158.9 C124.1 156.2 125.1 152.6 125.5 149.3 C125.9 146.0 125.9 142.1 125.5 138.9 C125.0 135.7 123.9 132.2 122.7 130.1 C121.4 127.9 119.9 127.9 117.9 126.1 C115.9 124.2 112.8 120.9 110.7 118.9 C108.5 116.9 107.2 115.3 105.1 114.1 C102.9 112.9 100.0 113.0 97.9 111.7 C95.7 110.3 93.7 107.4 92.3 106.1 C90.9 104.7 89.2 102.5 89.5 103.7 Z" fill="#3C96F5"/>
<path d="M95.5 113.3 C96.0 112.2 100.1 113.4 102.7 114.9 C105.2 116.3 108.3 119.4 110.7 122.1 C113.1 124.7 115.7 128.3 117.1 130.9 C118.4 133.4 119.1 136.4 118.7 137.3 C118.3 138.2 116.5 137.8 114.7 136.5 C112.8 135.2 110.0 131.8 107.5 129.3 C104.9 126.7 101.5 123.9 99.5 121.3 C97.5 118.6 94.9 114.3 95.5 113.3 Z" fill="#1E6EEB"/>
<path d="M115.5 154.1 C116.3 152.9 118.4 151.8 119.5 152.5 C120.5 153.2 121.9 156.0 121.9 158.1 C121.9 160.2 120.5 164.0 119.5 165.3 C118.5 166.6 116.7 167.0 115.9 166.1 C115.1 165.2 114.7 161.7 114.7 159.7 C114.6 157.7 114.7 155.3 115.5 154.1 Z" fill="#1E6EEB"/>
<path d="M77.8 83.7 C78.5 82.4 80.2 81.2 81.8 81.2 C83.5 81.2 86.1 82.3 87.5 83.7 C88.8 85.0 90.0 87.7 89.9 89.3 C89.7 90.9 88.1 92.7 86.7 93.3 C85.2 93.8 82.5 93.3 81.0 92.5 C79.6 91.7 78.4 89.9 77.8 88.5 C77.3 87.0 77.2 84.9 77.8 83.7 Z" fill="#FFC03C"/>
<path d="M79.5 85.3 C79.7 84.0 81.4 83.2 82.7 83.2 C83.9 83.2 85.8 84.3 86.7 85.3 C87.5 86.3 88.1 88.2 87.9 89.3 C87.6 90.3 86.2 91.4 85.1 91.7 C83.9 91.9 82.0 91.9 81.0 90.9 C80.1 89.8 79.2 86.5 79.5 85.3 Z" fill="#FFE878"/>
<path d="M249.0 283.5 C250.0 282.7 253.0 281.8 257.0 281.1 C261.1 280.3 267.7 279.9 273.1 279.1 C278.5 278.2 284.5 276.6 289.1 276.1 C293.8 275.5 298.4 275.5 301.2 276.1 C304.0 276.6 306.2 278.0 306.2 279.1 C306.2 280.2 304.0 282.1 301.2 282.7 C298.4 283.3 293.8 282.4 289.1 282.7 C284.5 282.9 278.5 283.5 273.1 284.1 C267.7 284.6 260.7 285.9 257.0 286.1 C253.4 286.3 252.4 285.9 251.0 285.5 C249.7 285.0 248.0 284.2 249.0 283.5 Z" fill="#4B3CC8"/>
<path d="M178.8 298.7 C176.9 298.2 180.8 296.2 182.8 295.7 C184.8 295.2 189.0 295.2 190.8 295.7 C192.7 296.2 195.8 298.2 193.8 298.7 C191.8 299.2 180.6 299.2 178.8 298.7 Z" fill="#4B3CC8"/>
<use href="#map"/>
<path d="M122.8 82.7 C123.8 83.7 127.1 86.3 128.8 88.7 C130.4 91.0 132.1 95.3 132.8 96.7" fill="none" stroke="#ffffff" stroke-width="0.7" opacity="0.85"/>
<path d="M130.8 70.7 C132.1 71.7 136.5 74.3 138.8 76.7 C141.1 79.0 143.8 83.3 144.8 84.7" fill="none" stroke="#ffffff" stroke-width="0.7" opacity="0.85"/>
<path d="M148.8 66.6 C149.8 68.0 153.5 71.6 154.8 74.7 C156.1 77.7 156.5 83.0 156.8 84.7" fill="none" stroke="#ffffff" stroke-width="0.7" opacity="0.85"/>
<path d="M158.8 76.7 C159.8 78.0 163.1 81.7 164.8 84.7 C166.5 87.7 168.1 93.0 168.8 94.7" fill="none" stroke="#ffffff" stroke-width="0.7" opacity="0.85"/>
<path d="M126.8 98.7 C128.1 99.7 132.1 103.3 134.8 104.7 C137.5 106.0 141.5 106.3 142.8 106.7" fill="none" stroke="#ffffff" stroke-width="0.7" opacity="0.85"/>
<path d="M146.8 104.7 C147.8 105.7 151.1 108.3 152.8 110.7 C154.5 113.0 156.1 117.3 156.8 118.7" fill="none" stroke="#ffffff" stroke-width="0.7" opacity="0.85"/>
<path d="M172.8 158.7 C173.8 160.0 177.1 163.4 178.8 166.7 C180.5 170.0 182.8 175.4 182.8 178.7 C182.8 182.0 179.5 185.4 178.8 186.7" fill="none" stroke="#ffffff" stroke-width="0.7" opacity="0.85"/>
<path d="M176.8 156.7 C178.1 158.0 182.8 161.4 184.8 164.7 C186.8 168.0 188.8 172.7 188.8 176.7 C188.8 180.7 185.5 186.7 184.8 188.7" fill="none" stroke="#ffffff" stroke-width="0.7" opacity="0.85"/>
<path d="M122.8 190.7 C123.8 192.1 127.4 195.7 128.8 198.7 C130.1 201.7 130.4 207.1 130.8 208.7" fill="none" stroke="#ffffff" stroke-width="0.7" opacity="0.85"/>
<path d="M128.8 214.7 C130.1 216.1 134.1 221.1 136.8 222.7 C139.5 224.4 143.5 224.4 144.8 224.7" fill="none" stroke="#ffffff" stroke-width="0.7" opacity="0.85"/>
<path d="M146.8 214.7 C148.1 215.7 152.1 220.1 154.8 220.7 C157.5 221.4 161.5 219.1 162.8 218.7" fill="none" stroke="#ffffff" stroke-width="0.7" opacity="0.85"/>
<path d="M172.8 212.7 C174.1 213.1 178.5 213.4 180.8 214.7 C183.1 216.1 186.8 219.1 186.8 220.7 C186.8 222.4 181.8 224.1 180.8 224.7" fill="none" stroke="#ffffff" stroke-width="0.7" opacity="0.85"/>
<path d="M140.8 242.8 C142.5 242.4 147.8 240.4 150.8 240.8 C153.8 241.1 157.5 244.1 158.8 244.8" fill="none" stroke="#ffffff" stroke-width="0.7" opacity="0.85"/>
<path d="M104.8 230.7 C105.1 233.4 105.8 241.4 106.8 246.8 C107.8 252.1 110.1 260.1 110.8 262.8" fill="none" stroke="#ffffff" stroke-width="0.7" opacity="0.85"/>
<path d="M-13.3 201.8 C-11.0 201.8 -4.9 201.6 0.7 201.8 C6.4 202.0 14.1 202.5 20.8 203.2 C27.5 203.9 34.9 204.9 40.9 205.8 C46.9 206.7 52.2 208.2 56.9 208.8 C61.6 209.4 65.6 209.9 69.0 209.4 C72.3 208.9 74.7 207.9 77.0 205.8 C79.3 203.7 81.0 200.3 83.0 196.8 C85.0 193.3 87.5 188.1 89.0 184.7 C90.6 181.4 91.3 178.7 92.1 176.7 C92.8 174.7 93.0 172.5 93.5 172.7 C94.0 172.9 94.6 175.4 95.1 177.7 C95.5 180.0 96.2 183.6 96.1 186.7 C95.9 189.9 94.7 193.4 94.1 196.8 C93.4 200.1 92.1 204.0 92.1 206.8 C92.1 209.7 92.1 212.1 94.1 213.8 C96.1 215.6 101.3 216.2 104.1 217.2 C106.9 218.2 109.3 218.4 111.1 219.8 C113.0 221.3 114.7 223.7 115.1 225.9 C115.5 228.0 113.5 230.4 113.5 232.9 C113.5 235.4 114.2 238.8 115.1 240.9 C116.1 243.1 117.6 244.9 119.2 245.9 C120.7 246.9 122.5 247.6 124.2 246.9 C125.8 246.3 127.0 243.4 129.2 241.9 C131.4 240.4 134.5 239.4 137.2 237.9 C139.9 236.4 142.6 234.9 145.2 232.9 C147.9 230.9 150.7 228.5 153.3 225.9 C155.8 223.2 158.1 218.9 160.7 216.8 C163.3 214.7 166.1 213.4 168.7 213.2 C171.4 213.1 173.4 215.2 176.8 215.8 C180.1 216.4 184.1 216.6 188.8 216.8 C193.5 217.1 199.5 217.2 204.9 217.2 C210.2 217.2 216.2 216.7 220.9 216.8 C225.6 216.9 228.9 217.3 233.0 217.8 C237.0 218.3 241.0 219.4 245.0 219.8 C249.0 220.3 252.4 220.7 257.0 220.4 C261.7 220.2 268.4 219.4 273.1 218.4 C277.8 217.5 280.5 215.9 285.1 214.8 C289.8 213.7 295.4 212.6 301.2 211.8 C307.0 211.1 314.8 210.7 319.9 210.4 C324.9 210.1 329.4 210.1 331.3 210.0" fill="none" stroke="#169016" stroke-width="1.5"/>
<path d="M111.1 102.0 C113.1 101.5 117.1 104.3 119.2 104.0 C121.2 103.7 122.8 102.2 123.2 100.0 C123.5 97.8 122.5 93.1 121.2 91.0 C119.8 88.8 117.1 88.3 115.1 86.9 C113.1 85.6 111.0 84.6 109.1 82.9 C107.3 81.3 104.6 78.9 104.1 76.9 C103.6 74.9 104.9 72.4 106.1 70.9 C107.3 69.4 109.6 69.5 111.1 67.9 C112.6 66.2 113.8 62.4 115.1 60.9 C116.5 59.3 117.1 58.7 119.2 58.8 C121.2 59.0 124.5 60.8 127.2 61.9 C129.9 62.9 132.5 63.9 135.2 64.9 C137.9 65.9 140.9 67.9 143.2 67.9 C145.6 67.9 147.8 66.7 149.3 64.9 C150.8 63.0 151.9 59.5 152.3 56.8 C152.6 54.2 151.1 51.3 151.3 48.8 C151.4 46.3 152.3 43.6 153.3 41.8 C154.3 39.9 156.1 38.7 157.3 37.8 C158.5 36.9 159.8 36.4 160.7 36.4 C161.6 36.4 161.4 36.7 162.7 37.8 C164.0 38.8 166.7 40.8 168.7 42.8 C170.7 44.8 172.4 47.5 174.8 49.8 C177.1 52.2 180.1 54.3 182.8 56.8 C185.5 59.3 188.3 63.5 190.8 64.9 C193.3 66.2 196.3 63.2 197.8 64.9 C199.3 66.5 199.2 71.9 199.8 74.9 C200.5 77.9 200.7 80.8 201.8 82.9 C203.0 85.1 205.0 87.4 206.9 87.9 C208.7 88.4 210.9 87.3 212.9 85.9 C214.9 84.6 217.2 81.3 218.9 79.9 C220.6 78.6 221.1 77.4 222.9 77.9 C224.8 78.4 229.6 81.1 229.9 82.9 C230.3 84.8 226.4 86.9 224.9 89.0 C223.4 91.0 222.2 92.6 220.9 95.0 C219.6 97.3 218.1 101.0 216.9 103.0 C215.7 105.0 213.9 105.3 213.9 107.0 C213.9 108.7 216.7 111.0 216.9 113.0 C217.1 115.0 216.2 117.7 214.9 119.0 C213.6 120.4 210.7 121.1 208.9 121.1 C207.0 121.1 205.0 121.1 203.8 119.0 C202.7 117.0 202.5 111.7 201.8 109.0 C201.2 106.3 201.0 103.7 199.8 103.0 C198.7 102.3 196.7 103.3 194.8 105.0 C193.0 106.7 190.5 110.4 188.8 113.0 C187.1 115.7 185.3 118.4 184.8 121.1 C184.3 123.7 184.8 126.4 185.8 129.1 C186.8 131.8 189.1 134.4 190.8 137.1 C192.5 139.8 193.1 143.6 195.8 145.2 C198.5 146.7 204.9 145.3 206.9 146.2 C208.8 147.0 207.9 149.1 207.3 150.0 C206.7 150.9 205.2 150.7 203.0 151.4 C200.9 152.1 197.4 153.6 194.5 154.3 C191.7 155.0 188.6 155.2 186.0 155.7 C183.4 156.2 181.0 155.6 179.0 157.1 C176.9 158.6 174.8 161.7 173.8 164.7 C172.7 167.6 172.6 171.7 172.7 174.7 C172.9 177.7 175.8 180.4 174.8 182.7 C173.7 185.1 170.6 186.2 166.7 188.7 C162.8 191.2 155.2 195.4 151.3 197.8 C147.4 200.1 145.9 200.9 143.2 202.8 C140.6 204.6 137.9 207.5 135.2 208.8 C132.5 210.1 129.5 211.4 127.2 210.4 C124.8 209.4 122.3 206.1 121.2 202.8 C120.0 199.5 120.0 194.4 120.2 190.8 C120.3 187.1 121.0 184.1 122.2 180.7 C123.3 177.4 125.7 174.0 127.2 170.7 C128.7 167.3 130.1 164.7 131.2 160.6 C132.2 156.6 132.9 150.8 133.5 146.5 C134.1 142.2 135.2 138.0 134.9 135.1 C134.7 132.1 134.0 131.2 132.1 129.0 C130.2 126.9 126.4 124.6 123.6 122.0 C120.8 119.4 117.8 116.0 115.1 113.5 C112.4 111.0 108.1 108.8 107.5 106.9 C106.8 105.0 109.2 102.5 111.1 102.0 Z" fill="none" stroke="#169016" stroke-width="1.5"/>
<path d="M86.7 98.1 C86.1 98.9 86.8 104.4 87.9 107.3 C88.9 110.1 91.2 112.9 93.1 115.3 C94.9 117.6 96.7 118.9 99.1 121.3 C101.4 123.6 104.9 126.3 107.1 129.3 C109.3 132.3 111.3 136.0 112.3 139.3 C113.3 142.6 113.3 145.8 113.1 149.3 C112.8 152.8 110.9 157.0 110.7 160.5 C110.4 164.0 111.0 167.9 111.5 170.5 C112.0 173.1 112.9 175.5 113.7 176.1 C114.5 176.7 115.1 175.3 116.3 174.1 C117.4 172.9 119.2 171.2 120.7 168.9 C122.1 166.6 123.9 163.8 125.1 160.5 C126.3 157.2 127.4 153.1 127.9 149.3 C128.3 145.5 128.3 141.2 127.9 137.7 C127.4 134.2 126.3 130.2 125.1 128.1 C123.9 125.9 122.8 126.8 120.7 124.9 C118.5 122.9 114.6 118.7 112.3 116.5 C109.9 114.2 108.9 112.5 106.7 111.3 C104.5 110.1 101.7 110.8 99.1 109.3 C96.5 107.7 93.1 103.9 91.1 102.1 C89.0 100.2 87.2 97.2 86.7 98.1 Z" fill="none" stroke="#169016" stroke-width="1.5"/>
<path d="M112.1 31.8 C112.5 30.2 113.6 27.2 116.1 25.7 C118.6 24.2 123.3 23.5 127.2 22.7 C131.0 21.9 136.2 20.2 139.2 20.7 C142.2 21.2 144.9 24.0 145.2 25.7 C145.6 27.4 143.6 29.4 141.2 30.7 C138.9 32.1 134.5 33.1 131.2 33.8 C127.9 34.4 124.0 34.6 121.2 34.8 C118.3 34.9 115.6 35.3 114.1 34.8 C112.6 34.3 111.8 33.3 112.1 31.8 Z" fill="none" stroke="#169016" stroke-width="1.5"/>
<path d="M90.0 20.7 C90.2 19.4 91.7 17.3 93.1 16.7 C94.4 16.1 96.9 16.4 98.1 17.1 C99.3 17.8 100.3 19.5 100.1 20.7 C99.9 21.9 98.4 23.7 97.1 24.3 C95.7 24.9 93.2 24.9 92.1 24.3 C90.9 23.7 89.9 22.0 90.0 20.7 Z" fill="none" stroke="#169016" stroke-width="1.5"/>
<path d="M167.6 125.9 C167.5 124.9 168.2 123.4 169.0 122.8 C169.9 122.2 171.6 122.0 172.6 122.4 C173.5 122.8 174.6 124.2 174.7 125.2 C174.8 126.2 174.1 127.9 173.3 128.5 C172.5 129.1 170.7 129.2 169.8 128.8 C168.8 128.3 167.7 126.9 167.6 125.9 Z" fill="none" stroke="#169016" stroke-width="1.5"/>
<path d="M168.7 125.1 C168.8 123.9 169.8 122.3 170.7 122.1 C171.7 121.8 173.7 122.5 174.3 123.5 C175.0 124.5 175.0 127.2 174.3 128.1 C173.7 129.0 171.3 129.6 170.3 129.1 C169.4 128.6 168.7 126.2 168.7 125.1 Z" fill="none" stroke="#169016" stroke-width="1.5"/>
<path d="M249.0 283.5 C250.0 282.7 253.0 281.8 257.0 281.1 C261.1 280.3 267.7 279.9 273.1 279.1 C278.5 278.2 284.5 276.6 289.1 276.1 C293.8 275.5 298.4 275.5 301.2 276.1 C304.0 276.6 306.2 278.0 306.2 279.1 C306.2 280.2 304.0 282.1 301.2 282.7 C298.4 283.3 293.8 282.4 289.1 282.7 C284.5 282.9 278.5 283.5 273.1 284.1 C267.7 284.6 260.7 285.9 257.0 286.1 C253.4 286.3 252.4 285.9 251.0 285.5 C249.7 285.0 248.0 284.2 249.0 283.5 Z" fill="none" stroke="#169016" stroke-width="1.5"/>
<path d="M178.8 298.7 C176.9 298.2 180.8 296.2 182.8 295.7 C184.8 295.2 189.0 295.2 190.8 295.7 C192.7 296.2 195.8 298.2 193.8 298.7 C191.8 299.2 180.6 299.2 178.8 298.7 Z" fill="none" stroke="#169016" stroke-width="1.5"/>
<path d="M304.0 6.8 C304.4 6.5 305.5 5.5 306.8 5.2 C308.1 4.9 310.3 4.6 312.0 5.2 C313.7 5.8 315.5 8.7 316.8 8.8 C318.1 8.9 318.9 7.1 319.6 6.0 C320.3 4.9 320.9 2.7 321.2 2.0" fill="none" stroke="#169016" stroke-width="1.5"/>
<path d="M304.0 6.8 C304.2 7.9 304.3 10.9 305.2 13.2 C306.1 15.5 307.6 18.5 309.2 20.4 C310.8 22.4 312.8 23.9 314.8 24.8 C316.8 25.8 320.1 25.8 321.2 26.0" fill="none" stroke="#169016" stroke-width="1.5"/>
<path d="M321.2 12.8 C320.5 13.0 318.3 13.1 317.2 14.0 C316.1 14.9 314.7 16.6 314.8 18.0 C314.9 19.5 316.9 21.9 318.0 22.8 C319.1 23.8 320.7 23.5 321.2 23.6" fill="none" stroke="#169016" stroke-width="1.5"/>
<rect x="79.2" y="91.1" width="15.2" height="9.6" fill="#fff"/><text x="86.8" y="99.7" font-size="10.5" fill="#169016" text-anchor="middle">15</text>
<rect x="93.2" y="94.7" width="15.2" height="9.6" fill="#fff"/><text x="100.8" y="103.3" font-size="10.5" fill="#169016" text-anchor="middle">30</text>
<rect x="152.4" y="33.0" width="15.2" height="9.6" fill="#fff"/><text x="160.0" y="41.6" font-size="10.5" fill="#169016" text-anchor="middle">30</text>
<rect x="202.4" y="117.9" width="15.2" height="9.6" fill="#fff"/><text x="210.0" y="126.5" font-size="10.5" fill="#169016" text-anchor="middle">30</text>
<rect x="119.2" y="205.9" width="15.2" height="9.6" fill="#fff"/><text x="126.8" y="214.5" font-size="10.5" fill="#169016" text-anchor="middle">30</text>
<rect x="96.4" y="211.9" width="15.2" height="9.6" fill="#fff"/><text x="104.0" y="220.5" font-size="10.5" fill="#169016" text-anchor="middle">15</text>
<rect x="212.4" y="211.9" width="15.2" height="9.6" fill="#fff"/><text x="220.0" y="220.5" font-size="10.5" fill="#169016" text-anchor="middle">15</text>
<rect x="248.0" y="281.2" width="9.6" height="9.6" fill="#fff"/><text x="252.8" y="289.8" font-size="10.5" fill="#169016" text-anchor="middle">0</text>
<rect x="141.1" y="52.1" width="13.0" height="9" fill="#fff"/><text x="147.6" y="60.0" font-size="9.5" fill="#333" text-anchor="middle">−2</text>
<rect x="139.6" y="115.4" width="8.0" height="9" fill="#fff"/><text x="143.6" y="123.3" font-size="9.5" fill="#333" text-anchor="middle">2</text>
<rect x="163.5" y="129.0" width="13.0" height="9" fill="#fff"/><text x="170.0" y="136.9" font-size="9.5" fill="#333" text-anchor="middle">−2</text>
<rect x="113.2" y="178.2" width="8.0" height="9" fill="#fff"/><text x="117.2" y="186.1" font-size="9.5" fill="#333" text-anchor="middle">2</text>
<rect x="129.2" y="222.2" width="8.0" height="9" fill="#fff"/><text x="133.2" y="230.1" font-size="9.5" fill="#333" text-anchor="middle">8</text>
<rect x="119.2" y="231.0" width="8.0" height="9" fill="#fff"/><text x="123.2" y="238.9" font-size="9.5" fill="#333" text-anchor="middle">6</text>
<rect x="113.2" y="238.2" width="8.0" height="9" fill="#fff"/><text x="117.2" y="246.2" font-size="9.5" fill="#333" text-anchor="middle">4</text>
<rect x="109.2" y="271.9" width="8.0" height="9" fill="#fff"/><text x="113.2" y="279.8" font-size="9.5" fill="#333" text-anchor="middle">2</text>
</g>
<rect x="0" y="0" width="320.5" height="297.0" fill="none" stroke="#000" stroke-width="2.1"/>
<line x1="-4.2" x2="0" y1="0.0" y2="0.0" stroke="#000" stroke-width="1.3"/>
<text x="-6" y="3.3" font-size="9" font-weight="bold" text-anchor="end" textLength="15.4" lengthAdjust="spacingAndGlyphs">15N</text>
<line x1="-4.2" x2="0" y1="19.8" y2="19.8" stroke="#000" stroke-width="1.3"/>
<text x="-6" y="23.1" font-size="9" font-weight="bold" text-anchor="end" textLength="15.4" lengthAdjust="spacingAndGlyphs">10N</text>
<line x1="-4.2" x2="0" y1="39.6" y2="39.6" stroke="#000" stroke-width="1.3"/>
<text x="-6" y="42.9" font-size="9" font-weight="bold" text-anchor="end" textLength="10.8" lengthAdjust="spacingAndGlyphs">5N</text>
<line x1="-4.2" x2="0" y1="59.4" y2="59.4" stroke="#000" stroke-width="1.3"/>
<text x="-6" y="62.7" font-size="9" font-weight="bold" text-anchor="end" textLength="10.8" lengthAdjust="spacingAndGlyphs">EQ</text>
<line x1="-4.2" x2="0" y1="79.2" y2="79.2" stroke="#000" stroke-width="1.3"/>
<text x="-6" y="82.5" font-size="9" font-weight="bold" text-anchor="end" textLength="10.8" lengthAdjust="spacingAndGlyphs">5S</text>
<line x1="-4.2" x2="0" y1="99.0" y2="99.0" stroke="#000" stroke-width="1.3"/>
<text x="-6" y="102.3" font-size="9" font-weight="bold" text-anchor="end" textLength="15.4" lengthAdjust="spacingAndGlyphs">10S</text>
<line x1="-4.2" x2="0" y1="118.8" y2="118.8" stroke="#000" stroke-width="1.3"/>
<text x="-6" y="122.1" font-size="9" font-weight="bold" text-anchor="end" textLength="15.4" lengthAdjust="spacingAndGlyphs">15S</text>
<line x1="-4.2" x2="0" y1="138.6" y2="138.6" stroke="#000" stroke-width="1.3"/>
<text x="-6" y="141.9" font-size="9" font-weight="bold" text-anchor="end" textLength="15.4" lengthAdjust="spacingAndGlyphs">20S</text>
<line x1="-4.2" x2="0" y1="158.4" y2="158.4" stroke="#000" stroke-width="1.3"/>
<text x="-6" y="161.7" font-size="9" font-weight="bold" text-anchor="end" textLength="15.4" lengthAdjust="spacingAndGlyphs">25S</text>
<line x1="-4.2" x2="0" y1="178.2" y2="178.2" stroke="#000" stroke-width="1.3"/>
<text x="-6" y="181.5" font-size="9" font-weight="bold" text-anchor="end" textLength="15.4" lengthAdjust="spacingAndGlyphs">30S</text>
<line x1="-4.2" x2="0" y1="198.0" y2="198.0" stroke="#000" stroke-width="1.3"/>
<text x="-6" y="201.3" font-size="9" font-weight="bold" text-anchor="end" textLength="15.4" lengthAdjust="spacingAndGlyphs">35S</text>
<line x1="-4.2" x2="0" y1="217.8" y2="217.8" stroke="#000" stroke-width="1.3"/>
<text x="-6" y="221.1" font-size="9" font-weight="bold" text-anchor="end" textLength="15.4" lengthAdjust="spacingAndGlyphs">40S</text>
<line x1="-4.2" x2="0" y1="237.6" y2="237.6" stroke="#000" stroke-width="1.3"/>
<text x="-6" y="240.9" font-size="9" font-weight="bold" text-anchor="end" textLength="15.4" lengthAdjust="spacingAndGlyphs">45S</text>
<line x1="-4.2" x2="0" y1="257.4" y2="257.4" stroke="#000" stroke-width="1.3"/>
<text x="-6" y="260.7" font-size="9" font-weight="bold" text-anchor="end" textLength="15.4" lengthAdjust="spacingAndGlyphs">50S</text>
<line x1="-4.2" x2="0" y1="277.2" y2="277.2" stroke="#000" stroke-width="1.3"/>
<text x="-6" y="280.5" font-size="9" font-weight="bold" text-anchor="end" textLength="15.4" lengthAdjust="spacingAndGlyphs">55S</text>
<line x1="-4.2" x2="0" y1="297.0" y2="297.0" stroke="#000" stroke-width="1.3"/>
<text x="-6" y="300.3" font-size="9" font-weight="bold" text-anchor="end" textLength="15.4" lengthAdjust="spacingAndGlyphs">60S</text>
<line y1="297.0" y2="300.5" x1="4.3" x2="4.3" stroke="#000" stroke-width="1.3"/>
<text x="-6.2" y="307.5" font-size="9" font-weight="bold" textLength="21.8" lengthAdjust="spacingAndGlyphs">100W</text>
<line y1="297.0" y2="300.5" x1="40.0" x2="40.0" stroke="#000" stroke-width="1.3"/>
<text x="32.1" y="307.5" font-size="9" font-weight="bold" textLength="16.6" lengthAdjust="spacingAndGlyphs">90W</text>
<line y1="297.0" y2="300.5" x1="75.7" x2="75.7" stroke="#000" stroke-width="1.3"/>
<text x="67.8" y="307.5" font-size="9" font-weight="bold" textLength="16.6" lengthAdjust="spacingAndGlyphs">80W</text>
<line y1="297.0" y2="300.5" x1="111.4" x2="111.4" stroke="#000" stroke-width="1.3"/>
<text x="103.5" y="307.5" font-size="9" font-weight="bold" textLength="16.6" lengthAdjust="spacingAndGlyphs">70W</text>
<line y1="297.0" y2="300.5" x1="147.1" x2="147.1" stroke="#000" stroke-width="1.3"/>
<text x="139.2" y="307.5" font-size="9" font-weight="bold" textLength="16.6" lengthAdjust="spacingAndGlyphs">60W</text>
<line y1="297.0" y2="300.5" x1="182.8" x2="182.8" stroke="#000" stroke-width="1.3"/>
<text x="174.9" y="307.5" font-size="9" font-weight="bold" textLength="16.6" lengthAdjust="spacingAndGlyphs">50W</text>
<line y1="297.0" y2="300.5" x1="218.5" x2="218.5" stroke="#000" stroke-width="1.3"/>
<text x="210.6" y="307.5" font-size="9" font-weight="bold" textLength="16.6" lengthAdjust="spacingAndGlyphs">40W</text>
<line y1="297.0" y2="300.5" x1="254.2" x2="254.2" stroke="#000" stroke-width="1.3"/>
<text x="246.3" y="307.5" font-size="9" font-weight="bold" textLength="16.6" lengthAdjust="spacingAndGlyphs">30W</text>
<line y1="297.0" y2="300.5" x1="289.9" x2="289.9" stroke="#000" stroke-width="1.3"/>
<text x="282.0" y="307.5" font-size="9" font-weight="bold" textLength="16.6" lengthAdjust="spacingAndGlyphs">20W</text>
</g>
<text x="107.0" y="837.4" font-size="18.4" textLength="70.3" lengthAdjust="spacing">cluster:</text>
<text x="194.5" y="837.4" font-size="18.4" text-anchor="middle">5</text>
<text x="223.9" y="837.4" font-size="18.4" textLength="92.5" lengthAdjust="spacing">membros:</text>
<text x="334.8" y="837.4" font-size="18.4" text-anchor="middle">1</text>
<path d="M426.4 150.3 L433.0 134.6 L439.6 150.3 Z" fill="#B22828" stroke="#000" stroke-width="1.4"/>
<rect x="426.4" y="150.30" width="13.2" height="15.31" fill="#C00000" stroke="#000" stroke-width="1.4"/>
<rect x="426.4" y="165.61" width="13.2" height="15.31" fill="#CD3C3C" stroke="#000" stroke-width="1.4"/>
<rect x="426.4" y="180.92" width="13.2" height="15.31" fill="#E11400" stroke="#000" stroke-width="1.4"/>
<rect x="426.4" y="196.23" width="13.2" height="15.31" fill="#FF3200" stroke="#000" stroke-width="1.4"/>
<rect x="426.4" y="211.54" width="13.2" height="15.31" fill="#FF6400" stroke="#000" stroke-width="1.4"/>
<rect x="426.4" y="226.85" width="13.2" height="15.31" fill="#FFA000" stroke="#000" stroke-width="1.4"/>
<rect x="426.4" y="242.16" width="13.2" height="15.31" fill="#FFC03C" stroke="#000" stroke-width="1.4"/>
<rect x="426.4" y="257.47" width="13.2" height="15.31" fill="#FFE878" stroke="#000" stroke-width="1.4"/>
<rect x="426.4" y="272.78" width="13.2" height="15.31" fill="#78B9FA" stroke="#000" stroke-width="1.4"/>
<rect x="426.4" y="288.09" width="13.2" height="15.31" fill="#3C96F5" stroke="#000" stroke-width="1.4"/>
<rect x="426.4" y="303.40" width="13.2" height="15.31" fill="#1E6EEB" stroke="#000" stroke-width="1.4"/>
<rect x="426.4" y="318.71" width="13.2" height="15.31" fill="#1464D2" stroke="#000" stroke-width="1.4"/>
<rect x="426.4" y="334.02" width="13.2" height="15.31" fill="#1E50D2" stroke="#000" stroke-width="1.4"/>
<rect x="426.4" y="349.33" width="13.2" height="15.31" fill="#4B3CC8" stroke="#000" stroke-width="1.4"/>
<rect x="426.4" y="364.64" width="13.2" height="15.31" fill="#6E5ADC" stroke="#000" stroke-width="1.4"/>
<rect x="426.4" y="379.95" width="13.2" height="15.31" fill="#7D6EEB" stroke="#000" stroke-width="1.4"/>
<rect x="426.4" y="395.26" width="13.2" height="15.31" fill="#A08CFF" stroke="#000" stroke-width="1.4"/>
<rect x="426.4" y="410.57" width="13.2" height="15.31" fill="#BEB4FF" stroke="#000" stroke-width="1.4"/>
<path d="M426.4 425.9 L433.0 441.2 L439.6 425.9 Z" fill="#DCDCFF" stroke="#000" stroke-width="1.4"/>
<text x="443.2" y="154.6" font-size="10.6">39</text>
<text x="443.2" y="169.9" font-size="10.6">36</text>
<text x="443.2" y="185.2" font-size="10.6">33</text>
<text x="443.2" y="200.5" font-size="10.6">30</text>
<text x="443.2" y="215.8" font-size="10.6">27</text>
<text x="443.2" y="231.2" font-size="10.6">24</text>
<text x="443.2" y="246.5" font-size="10.6">21</text>
<text x="443.2" y="261.8" font-size="10.6">18</text>
<text x="443.2" y="277.1" font-size="10.6">15</text>
<text x="443.2" y="292.4" font-size="10.6">12</text>
<text x="443.2" y="307.7" font-size="10.6">9</text>
<text x="443.2" y="323.0" font-size="10.6">6</text>
<text x="443.2" y="338.3" font-size="10.6">3</text>
<text x="443.2" y="353.6" font-size="10.6">0</text>
<text x="443.2" y="368.9" font-size="10.6" textLength="15.2" lengthAdjust="spacing">−3</text>
<text x="443.2" y="384.3" font-size="10.6" textLength="15.2" lengthAdjust="spacing">−6</text>
<text x="443.2" y="399.6" font-size="10.6" textLength="15.2" lengthAdjust="spacing">−9</text>
<text x="443.2" y="414.9" font-size="10.6" textLength="22.6" lengthAdjust="spacing">−12</text>
<text x="443.2" y="430.2" font-size="10.6" textLength="22.6" lengthAdjust="spacing">−15</text>
</svg></body></html>
